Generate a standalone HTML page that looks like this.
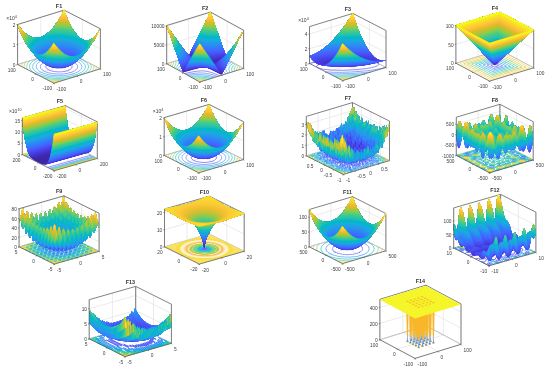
<!DOCTYPE html><html><head><meta charset="utf-8"><title>F1-F14</title><style>html,body{margin:0;padding:0;background:#fff}#w{position:relative;width:550px;height:371px;overflow:hidden}svg{display:block}</style></head><body><div id="w"><svg width="550" height="371" viewBox="0 0 5500 3710"><g fill="none" stroke-linejoin="round"><!-- F1 -->
<path d="M176 645L176 245M539 832L176 645M1004 688L1004 288M539 832L1004 688M409 573L409 173M771 760L409 573M823 595L823 195M357 739L823 595M641 501L641 101M1004 688L641 501M641 501L641 101M176 645L641 501M176 645L641 501L1004 688M176 445L641 301L1004 488M176 245L641 101L1004 288" stroke="#dedede" stroke-width="6"/>
<path d="M176 645L641 501L1004 688" stroke="#b4b4b4" stroke-width="7"/>
<path d="M641 501L641 101M176 245L641 101L1004 288L1004 688" stroke="#585858" stroke-width="7.5"/>
<g stroke-width="6" stroke-opacity="1"><path d="M651 714l-35 4-32 1-38-3-29-6-27-9-20-12-10-15-1-14 7-12 18-13 20-9 30-7 30-4 36-1 34 3 29 6 23 8 21 11 12 15 3 12-6 13-14 13-22 10z" stroke="#4741e5"/><path d="M675 733l-47 7-50 1-50-4-41-9-37-12-29-18-9-9-6-10-3-12 2-9 3-8 8-10 22-17 33-14 40-10 46-6 45-1 50 4 41 9 37 12 26 16 10 9 7 10 3 11 0 9-3 10-7 10-21 16-31 15z" stroke="#4563fd"/><path d="M696 748l-59 8-61 2-61-5-53-11-45-16-21-11-14-11-11-12-6-11-3-13 1-12 5-12 9-11 11-9 16-11 41-17 50-13 54-6 58-2 58 5 53 11 45 16 32 20 12 11 7 10 4 13 0 12-3 11-7 11-10 10-15 11-39 19z" stroke="#2d8cf3"/><path d="M712 760l-64 10-70 2-70-5-65-13-29-9-25-10-21-12-17-12-13-14-9-15-3-15 2-13 6-13 10-13 14-12 19-12 46-20 55-13 67-9 66-1 68 6 58 12 50 18 21 11 18 12 14 14 9 12 4 14 1 12-4 13-9 15-13 13-15 11-43 20z" stroke="#1ca9df"/><path d="M771 760l-50 13-52 7-53 4-59 0-58-5-52-10-49-13-41-17M823 595l31 20 20 21 10 21 1 12-2 12-5 11-7 12-23 20-34 20-43 16M357 739l-31-21-21-22-6-11-3-11-1-12 3-12 5-11 8-12 23-20 32-18 43-16M409 573l50-12 55-9 56-3 59 1 58 5 49 9 46 13 41 18" stroke="#19bfb6"/><path d="M667 792l-57 4-57-1-59-5-56-10M904 636l6 13 3 11 0 12-3 12-12 22-23 22M276 697l-6-12-3-11 0-12 2-11 5-12 8-12 23-22M513 541l57-4 57 1 59 5 56 10" stroke="#4acb84"/><path d="M624 806l-76-1-76-7M937 654l2 15-2 15-7 16-12 15M243 679l-2-15 2-15 7-16 12-14M556 528l76 0 76 7" stroke="#9dc943"/><path d="M591 816l-93-5M963 667l-3 20-8 17M217 666l2-18 9-19M589 517l93 5" stroke="#f0ba36"/><path d="M563 825l-43-3M985 678l-6 18M195 655l6-18M617 509l43 2" stroke="#fad62d"/></g>
<clipPath id="cF1"><path d="M641 101l12 33 16 35 4 15 19 37 1 8 24 40 1 7 24 35 1 5 21 24 4 10 16 12 8 12 24 15 32 13 30 0 26-8 27-17 24-23 22-28 19-28 1 3-48 88-57 87-34 44-33 39-55 52-39 28-53 28-54 15-18 0-8 3-42-3-42-10-30-13-28-15-56-40-56-57-46-56-48-72-52-110-4-15-19-45 1-5 30 41 8 6 13 18 54 43 30 15 43 10 24 0 28-5 20-8 28-16 4-1 60-55 10-13 6-5 11-18 7-5 11-20 6-5 6-12 12-15 11-23 6-7 31-63z" clip-rule="evenodd"/></clipPath><g clip-path="url(#cF1)" stroke="none" fill-rule="evenodd"><path fill="#4332cb" d="M166 91H1013V693H166z"/><path fill="#4537d5" d="M146 71l885 0 0 640-391 0-6-20-8-8-3 3 0 25-12 0-3-15-4-10-23-2-9 5-6 22-9 0 0-25-3-3-4 3-6 13-4 0-2-8-3 3-6 17-383 0z"/><path fill="#463cde" d="M146 71l885 0 0 640-373 0-6-25-6-7-25 2-6 3-4 5-10-7-23 0-12 3-10-5-10 2-5-3-5 1-5-2-7 3-10 30-368 0z"/><path fill="#4741e5" d="M146 71l885 0 0 640-336 0-13-35-8-6-8 6-20-1-40 5-35 0-63-7-6 3-15 35-341 0z"/><path fill="#4747eb" d="M146 71l885 0 0 640-317 0-22-45-3-2-38 8-55 6-48-2-50-9-4 4-18 34 9-36-1-7-3 0-7 7-21 42-307 0z"/><path fill="#484df0" d="M146 71l885 0 0 640-306 0-27-51-64 13-40 3-48-3-55-10-7-5-8 3-7 8-20 42-303 0z"/><path fill="#4852f4" d="M146 71l885 0 0 640-272 0-10-17-33-45-8 4-52 14-60 6-52-3-73-16-13 12-28 45-284 0z"/><path fill="#4758f8" d="M146 71l885 0 0 640-267 0-36-66 0 4 9 17-1 3-15-20-5-2-60 18-60 5-68-5-74-19-13 11-36 54-259 0z"/><path fill="#465efb" d="M146 71l885 0 0 640-240 0-48-67-9-6-13 6-50 15-33 5-40 3-47-2-31-4-74-20-18 8-40 62-242 0zM644 531l14 10 30 13 18 4 26 1-11-8-33-12z"/><path fill="#4563fd" d="M146 71l885 0 0 640-234 0-49-74-4-4-44 16-36 9-36 4-47 2-40-3-33-5-29-7-48-18-25 25-40 55-220 0zM628 519l1 2 15 13 12 7 37 15 31 5 10 0 13-5-9-7-30-14-40-11z"/><path fill="#4269fe" d="M146 71l885 0 0 640-216 0-51-71-13-12-7 1-46 18-27 6-43 6-44 2-36-2-40-6-40-10-37-15-14 11-15 17-39 55-217 0zM618 509l8 12 20 15 45 20 30 6 13-1 17-3 9-4-6-7-18-11-38-15-44-9z"/><path fill="#3e6fff" d="M146 71l885 0 0 640-211 0-64-89-42 17-40 11-46 6-40 1-54-3-40-7-73-25-28 27-50 62-197 0zM446 524l-19 10 7 0 12-8zM606 499l4 7 16 16 19 14 46 20 30 6 13 0 20-3 17-8-10-11-13-8-37-16-53-13z"/><path fill="#3875fe" d="M146 71l885 0 0 640-161 0-39-45-57-56-8 5-35 15-35 12-38 7-57 5-50-2-57-8-38-10-35-15-15 10 0-12-22 23-54 71-184 0zM471 506l-7 1-30 11-23 14-9 9 6 1 26-6 23-15zM598 491l10 15 36 30 47 21 30 5 15 0 20-3 24-10 1-3-9-10-11-8-43-20-25-7-39-7-38-4z"/><path fill="#327cfc" d="M146 71l885 0 0 640-158 0-39-47-58-57-42 20-40 12-40 8-53 3-47-1-63-8-48-15-27-10-8-6-7 3-3-7-106 105-146 0zM484 492l-43 12-27 14-18 14-6 9 18 3 27-8 24-15 23-22zM588 481l0 3 19 22 37 30 30 15 20 7 27 5 15 0 37-9 11-5 5-5-8-12-17-13-25-13-33-11-52-10z"/><path fill="#2f81fa" d="M146 71l885 0 0 640-155 0-51-60-44-44-5-3-32 16-40 14-50 9-66 4-44-3-58-8-52-16-38-20-112 111-138 0zM491 481l-40 10-30 13-24 15-13 13-4 7 11 5 17 0 28-8 24-15 24-22zM581 473l7 13 38 38 30 20 38 14 30 6 30-4 33-11 11-10-7-10-18-15-17-10-30-13-32-9-70-9z"/><path fill="#2e87f7" d="M146 71l885 0 0 640-122 0-115-116-4 1-2 6-14 1-30 15-43 13-47 8-63 4-50-2-57-9-50-15-40-19-114 113-134 0zM503 471l-12 1-30 7-45 16-30 21-8 8-6 12 7 5 12 3 15 1 30-9 25-15 23-21zM573 464l13 20 40 40 30 20 37 15 31 5 30-3 34-12 17-13-1-5-8-10-25-20-23-11-30-10-30-8-60-8z"/><path fill="#2d8cf3" d="M146 71l885 0 0 640-111 0-119-120-5-2-48 24-27 9-63 13-47 4-65-2-65-9-47-14-38-18-10-3-119 118-121 0zM508 461l-50 9-49 19-29 20-12 15-3 10 11 7 18 4 14 0 28-8 25-16 23-21 22-29zM567 456l1 6 18 23 40 39 30 20 36 15 32 5 30-3 34-12 14-8 9-10 0-5-7-11-24-19-26-13-46-16-70-11-62-2z"/><path fill="#2b91ef" d="M146 71l885 0 0 640-100 0-124-125-6-3-40 22-55 18-45 8-55 4-72-3-67-11-33-10-53-24-124 124-111 0zM514 451l-23 3-37 8-50 19-30 22-13 16-3 12 10 8 26 7 14 0 28-9 25-15 25-23 9-15 13-16zM561 448l7 16 18 22 39 38 30 20 36 15 33 5 32-3 32-11 16-9 15-15-8-15-13-13-30-19-30-11-37-11-65-10-60-1z"/><path fill="#2797eb" d="M146 71l885 0 0 640-89 0-134-133-52 26-48 15-42 7-65 5-65-2-58-9-43-11-61-28-130 130-98 0zM521 443l-15-1-45 9-37 12-26 11-22 15-15 15-8 15-1 10 16 10 24 7 16 0 28-8 25-16 25-23 8-13 14-17zM553 439l2 7 29 38 40 40 30 20 37 15 33 6 32-4 32-11 23-14 13-12 0-8-6-10-18-17-19-13-37-16-46-12-37-6-53-5z"/><path fill="#259be8" d="M146 71l885 0 0 640-78 0-139-139-58 29-35 11-47 10-76 5-62-2-62-10-50-14-53-26-137 136-88 0zM527 434l-26 0-43 9-40 12-24 12-23 15-15 14-9 15-1 13 9 10 23 10 13 2 17 0 28-8 25-16 25-23 8-13 14-16zM547 431l7 15 30 38 40 40 30 20 37 15 30 6 15 0 38-9 30-14 20-14 7-12-6-15-19-20-20-12-25-12-33-10-40-10-37-6-65-3-38 1z"/><path fill="#23a0e5" d="M146 71l885 0 0 640-53 0-152-151-48 28-44 17-56 12-62 6-78-2-67-10-57-17-50-24-142 141-76 0zM534 424l-36 2-47 10-37 12-38 19-25 22-9 17-2 13 14 15 23 10 14 3 17 0 28-9 25-15 25-24 8-13 14-15zM539 424l2 1 13 21 30 38 40 40 30 20 37 15 30 6 13 0 20-2 20-6 30-14 20-14 13-15-6-18-20-22-33-19-44-17-30-7-68-10-92 0z"/><path fill="#20a5e3" d="M146 71l885 0 0 640-13 0-116-102-46-36-28-17-42 26-52 19-56 12-60 6-74-2-73-10-57-16-58-29-149 149-61 0zM334 511l2 8 15 13 25 12 15 3 17 0 28-8 25-16 25-23 9-14 14-15 23-40 6-5 4 3 12 18 30 37 40 40 20 15 47 21 30 5 13 1 22-4 18-5 30-13 20-14 15-16 4-8-7-17-20-21-30-19-30-13-52-13-50-8-96-3-54 5-40 7-58 18-30 15-22 16-13 16z"/><path fill="#1ca9df" d="M146 71l885 0 0 640-11 0-12-13-104-91-48-37-28-17-44 27-30 12-38 10-72 11-73 2-70-6-60-13-53-19-47-29-27 16-33 25-127 107-8 4zM329 506l5 13 17 14 25 11 15 4 17-1 28-8 25-16 25-23 9-14 14-15 23-40 6-4 46 58 40 39 20 15 14 8 43 16 35 3 20-3 32-11 38-23 15-15 7-13-6-17-21-23-27-17-33-15-53-14-64-9-53-3-55 2-22 4-10-1-48 9-60 20-20 9-28 21-12 15z"/><path fill="#18addb" d="M146 71l885 0 0 640-9 0-14-15-104-93-68-51-5-2-40 23-63 22-64 12-80 4-66-4-74-14-25-7-35-15-40-25-6-1-24 16-36 26-132 109zM324 501l2 8 7 10 23 18 20 8 15 3 17 0 28-9 18-10 32-28 9-15 14-15 24-40 5-4 46 58 40 39 20 15 14 8 43 16 35 3 20-3 32-10 38-24 26-28 2-5-3-10-7-15-18-17-22-15-30-14-73-20-53-8-62-2-60 2-42 6-53 12-45 17-25 14-17 14-16 21z"/><path fill="#12b1d6" d="M146 71l885 0 0 640-6 0-179-173-5 1-5 6-38 22-50 19-67 14-47 5-48 2-65-4-77-14-60-20-46-27-60 40-132 110zM318 491l1 10 6 10 26 24 25 10 15 3 17 0 28-9 18-10 32-28 10-15 13-15 25-40 4-3 46 58 22 23 36 30 49 21 43 7 20-3 20-6 30-13 20-14 32-32 3-8-4-15-6-10-16-17-23-15-36-18-56-16-24-5-60-7-58-1-52 2-38 5-58 13-33 12-37 19-20 15-12 16z"/><path fill="#08b5d0" d="M146 71l885 0 0 604-108-89-56-42-19-10-7 3-37 24-28 12-40 13-78 13-67 3-80-4-43-7-40-10-44-16-26-13-30-21-12 6-50 36-120 99zM314 489l2 10 10 15 25 22 25 10 15 3 20-1 25-8 18-11 32-28 10-15 14-15 24-40 4-2 46 57 22 23 36 30 49 22 30 6 13 0 20-2 20-6 32-15 20-13 30-30 6-7 2-10-3-13-6-10-17-18-34-23-40-17-38-10-60-10-50-5-75 2-77 10-43 11-35 12-22 11-30 23-16 22z"/><path fill="#01b8ca" d="M146 71l885 0 0 576-10-4-117-89-1 2 19 20-4 0-4-4-9-3-49-39-12 3-19 13-27 14-54 20-73 13-77 5-83-5-85-16-49-18-49-30-12 5-32 24-8 1 28-32-35 24-123 98zM308 481l3 13 6 10 14 17 17 14 28 12 15 2 17 0 28-9 18-10 32-28 10-16 14-15 24-40 4-2 45 57 23 23 36 30 49 22 40 7 25-3 18-5 32-15 20-14 31-30 12-20-2-12-6-13-17-20-33-22-35-15-38-11-52-11-58-6-60-1-34 2-58 7-42 9-33 10-30 13-23 13-25 22-11 18z"/><path fill="#02bac3" d="M146 71l885 0 0 569-143-106-24-16-4 1-48 32-34 14-35 11-72 13-95 5-75-6-83-17-52-21-38-24-4-1-12 6 7-10-3-5-12 5-16 11-142 113zM304 476l2 13 8 12 17 22 17 14 28 11 15 2 17-1 28-9 18-10 32-28 10-16 14-15 25-40 3-2 46 57 22 24 35 29 50 22 30 7 13 0 22-2 20-6 30-14 20-14 32-31 15-20 0-15-7-15-22-25-26-17-32-15-38-13-42-9-55-8-53-2-54 1-43 4-53 9-54 16-40 19-28 20-18 23z"/><path fill="#0bbdbd" d="M146 71l885 0 0 567-165-122-8 1-34 24-29 13 31-21 33-32 17-22 2-13-7-22-7-11-23-20-43-23-70-22-70-11-62-3-55 1-53 5-50 10-47 14-30 13-23 14-24 22-11 16-4 17 5 22 20 31-10-5-13 6-155 122zM377 551l2-2 12 2 20-2 25-8 25-16 26-24 10-15 13-15 25-40 3-2 46 58 22 23 38 30 32 16 25 9 20 3 31 1-24 6-57 10-60 4-57 0-48-5-58-9-47-14z"/><path fill="#19bfb6" d="M146 71l885 0 0 563-161-123-9 2-33 22 6-9 24-23 17-19 8-20-1-13-6-13-15-19-21-18 18-62 3-20-3-15-27 32-33 44-80-22-87-11-55-1-58 2-57 9-15 4-10 0-18-25-44-88-3 6 1 72 4 28 6 22 0 3-36 17-20 14-24 26-6 15-1 18 7 20 12 20-8-1-160 127zM393 554l18-4 25-9 27-17 24-23 10-15 14-15 24-40 3-1 45 56 41 40 20 15 32 16 48 14-66 11-47 3-60-1-67-7-36-7-37-9z"/><path fill="#24c1ae" d="M146 71l885 0 0 538-133-97 0 2 13 15-7-1-30-23-10 4-28 18 40-43 12-25-2-15-10-20-18-18 5-85-5-31-77 75-77-18-100-10-63 2-83 9-7-16-17-26-63-83-4 33 0 58-7 65-32 19-17 15-15 19-5 14 1 23 16 32-32 17-130 103zM405 554l31-12 27-18 24-23 10-15 14-15 23-37 4-4 45 56 41 40 17 13 35 18 37 12-25 5-50 5-87 1-85-11-40-8z"/><path fill="#2cc4a7" d="M146 71l885 0 0 532-123-91-27-16-5 0-25 19 3-6 7-5 10-15 6-5 14-23 1-7-2-18-20-32-9-126-3-3-90 79-32-9-42-8-80-7-68 0-72 8-46-49-60-74-1 6 1 18-19 95-4 42-14 13-15 8-14 14-9 13-6 15-1 20 11 30-151 100zM414 551l22-9 20-13 30-26 11-17 14-15 23-37 4-4 44 56 42 40 30 21 43 19-3 3-56 5-84 2-88-10-48-11z"/><path fill="#31c69f" d="M146 71l885 0 0 521-133-99-4-1-2 2 4 5-15-7-14 7 3-8 8-7 15-23 3-10 1-10-5-17-12-18-15-72-7-78-3 0-44 37-50 48-65-12-55-6-65-2-88 7-117-136-5 27 1 20-35 135-33 30-8 10-8 17-2 17 10 31 0 5-27 16-118 86zM423 551l0-2 13-6 28-19 24-23 10-15 13-15 23-37 4-4 44 56 42 41 17 13 46 24-41 6-92 1-86-9z"/><path fill="#37c897" d="M146 71l885 0 0 516-130-98-15-5-10 7-1-2 5-5 8-17 6-6 7-22-3-16-11-22-19-63-7-84-3-6-107 84-70-13-55-5-80 0-48 6-3-1-4-9-17-23-103-103-3 3-3 32 1 20-15 55-23 65-6 15-22 17-14 17-8 16-2 20 11 35-26 16-115 86zM428 549l36-24 24-24 10-15 13-14 23-38 4-3 27 35 41 45 35 29 36 21-69 6-74-2-53-6z"/><path fill="#3fca8e" d="M146 71l885 0 0 494-133-89-4 0-11 5 21-37 1-15-3-15-7-13-27-78-4-22-3-52-3-4-114 77-46-8-62-7-60-2-70 4-22-20-113-113-3 3-4 42 1 15-12 35-35 79-6 21-13 10-14 15-10 18-3 22 7 33-133 90zM436 546l7-7 21-14 24-24 10-15 14-15 23-37 3-3 44 55 24 26 35 29 26 15-16 4-45 3-72-2-58-7z"/><path fill="#4acb84" d="M146 71l885 0 0 484-120-79-13-6-8 4 0-5 7-8 11-25 2-10-12-42-32-73-4-60-4-17-4 0-116 78-52-9-48-4-44-2-80 4-10-16-37-36-96-87-8 59 1 14-48 111-10 18-22 22-12 20-4 18 4 27-1 4-125 83zM443 541l21-15 25-25 9-15 13-14 24-38 3-3 27 35 39 43 20 19 36 26-59 4-63-1-62-8-30-5z"/><path fill="#57cc7a" d="M146 71l885 0 0 479-117-80-17-4 16-35 0-20-7-21-39-79-9-93-127 85-93-12-64-1-50 2-153-134-3 2-3 46-6 25-53 107-10 26-19 20-11 19-2 16 2 27-120 71zM448 539l40-37 10-16 14-15 23-37 3-3 26 35 38 43 48 40-2 2-34 2-70 0-60-7z"/><path fill="#64cd6f" d="M146 71l885 0 0 459-113-74-3 0 5 8-2 0-16-5 14-32 1-21-5-17-16-25-28-53-3-12-4-82-3-5-74 42-58 40-85-12-60-1-50 3-81-60-79-70-3 5-3 47-4 14-60 119-11 20-19 20-5 9-7 23 2 25-115 67zM454 536l35-35 9-15 13-13 24-39 3-2 46 57 22 24 39 33-47 3-47-1-53-4z"/><path fill="#72cd64" d="M146 71l885 0 0 456-117-77-6 1 0-6 7-11 6-18 0-18-4-14-49-75-2-10-5-85-3-5-119 62-18 13-87-10-60-1-36 2-82-69-85-66-4 19-3 47-3 11-65 110-13 27-17 20-10 22 0 30-55 38-55 33zM460 531l30-30 8-14 13-14 24-39 3-2 45 57 54 52-3 2-46 1-57-2-70-9z"/><path fill="#81cc59" d="M146 71l885 0 0 453-115-76-5-2 15-37-3-28-55-75-7-98-3-2-86 45-58 25-73-9-97 0-8-8-85-60-80-63-3 3-4 67-3 9-75 122-26 34-8 20-1 28-105 52zM465 529l4-8 21-20 8-14 13-13 25-40 2-2 45 57 48 47 0 2-95 0-40-4z"/><path fill="#8fcb4e" d="M146 71l885 0 0 439-67-44-46-26 3-14 8-20-1-27-60-75-10-128-105 63-42 28-75-8-40-1-42 1-6-1-13-17-63-50-98-69-3 1-3 16-4 65-3 9-37 51-69 102-7 20-2 23-52 20-48 22zM470 524l20-23 8-13 13-14 8-15 19-27 42 54 32 33 12 15-73 0-80-8z"/><path fill="#9dc943" d="M146 71l885 0 0 425-93-60-10-3 0 4-5-3 0-8 11-30-2-20-36-40-28-35-7-97 0-40-30 15-107 65-18 15-58-7-92-1-70-55-115-80-2 5-8 90-105 140-11 25-4 24-95 49zM474 521l38-47 7-15 19-26 42 53 32 33 7 10-13 1-78-2z"/><path fill="#abc739" d="M146 71l885 0 0 418-83-55-22-10 12-35-3-20-57-59-8-11-4-28-4-70 2-37-3-4-57 30-103 60-60-7-77 0-106-68-87-62-3 3-6 88-4 10-108 135-9 20-2 17-3 7-52 34-38 19zM478 516l34-42 7-15 19-26 42 53 34 38-10 2-60-2-60-5z"/><path fill="#b9c431" d="M146 71l885 0 0 403-43-26-56-29 8-30 1-23-27-37-43-45-4-10-5-73 2-42-8 1-150 74-10 8-60-6-65-1-6-1-11-15-28-23-152-108-3 2 0 19-3 7-3 58-7 37-57 70-51 55-9 15-7 32-88 43zM483 511l7-7 8-15 14-15 8-15 18-26 41 53 30 33-1 2-52-1-73-6z"/><path fill="#c5c22a" d="M146 71l885 0 0 399-65-39-29-20 9-37-2-13-76-85-5-75 1-44-6 0-50 25-92 37-25 15-65-7-50 0-205-147-3 4-4 92-10 33-36 42-47 48-20 24-14 23-6 28-85 40zM488 509l11-20 13-15 8-15 18-26 64 81-1 2-63-2z"/><path fill="#d1bf27" d="M146 71l885 0 0 394-75-49-15-12 0-5 8-25-1-15-80-83-5-77 2-38-1-7-3-1-55 25-115 46-83-6-30 1-7-7-35-18-165-118-3 5-4 93-3 9-35 37-80 99-10 15-10 31-80 38zM493 504l5-14 15-16 7-15 18-25 58 75-2 2-46 0-52-5z"/><path fill="#dcbd29" d="M370 71l-3 10-4 93-2 7-37 38-86 99-8 13-8 25-76 26 0-311zM374 71l657 0 0 377-86-49 7-33-1-12-35-30-48-50-4-73 2-32-2-15 4-20 0-8-2-2-168 84-12 8-72-5-30 0zM496 499l2-8 15-17 7-15 18-25 50 63 4 9-64-1-30-3z"/><path fill="#e6bb2d" d="M368 71l-7 109-130 136-13 32-37 18-35 13 0-308zM383 71l648 0 0 358-80-40 5-38-38-27-47-49-6-31-1-48 2-25-1-17 6-39-59 26-121 60-10 7-87-5-8-2-52-37-146-87zM501 489l12-15 7-15 18-25 50 65-2 2-35 0-47-3-6-2z"/><path fill="#f0ba36" d="M367 71l-6 108-128 125-10 15-7 21-70 33 0-302zM385 71l646 0 0 352-75-42-1-7 5-23-2-7-34-34-48-39-8-10-2-17-2-63 2-10 0-17 8-42-3-1-98 40-87 43-8 6-80-4-7-2-41-23zM501 491l13-17 7-15 17-24 36 46 9 15-52-1z"/><path fill="#f8ba3d" d="M367 71l-5 103-4 7-130 118-11 20-4 12-67 32 0-292zM388 71l643 0 0 348-35-20-35-24-2-6 5-23-3-7-83-69-9-11-3-18-1-60 9-72-140 54-47 21-13 8-48-4-28 1-10-8-102-52zM505 486l9-12 7-16 17-23 36 46 3 10-39 0-32-3z"/><path fill="#febe3c" d="M366 71l-1 53-4 50-3 5-42 40-85 69-14 16-9 21-7 2-55 27 0-283zM395 71l636 0 0 334-65-36-3-5 4-20-2-8-70-55-25-22-3-15-2-63 2-10 0-17 8-40-1-7-203 77-67-3-20-13-149-74zM510 484l11-25 17-24 35 46 1 5z"/><path fill="#fec338" d="M365 71l-1 53-6 52-58 53-84 67-5 8-5 15-8 0-52 25 0-273zM441 71l590 0 0 317-63-31 2-23-2-5-92-70-8-8-3-70 2-27 9-40-2-9-115 44-78 23-17 4-48-3-10-2-62-42zM514 479l7-19 17-24 32 45-24 1z"/><path fill="#fec934" d="M365 71l-1 53-3 25-3 6-92 79-29 27-26 28-10 22-15 3-40 20 0-263zM443 71l430 0-5 4-154 66-40 19-8 6-10 2-45-3zM886 71l145 0 0 308-57-29-3-4 3-15-6-7-100-75-3-53 3-42 8-40 0-13zM536 438l2-2 28 40-48-1 3-14z"/><path fill="#fccf30" d="M365 71l-1 53-3 24-3 4-128 112-22 22-10 17-52 13 0-245zM445 71l425 0-209 89-47-3-14-8-77-35zM887 71l144 0 0 301-55-30 0-13-8-10-100-72-2-48 2-43 10-55zM538 436l16 20 7 15-40-1 1-9z"/><path fill="#fad62d" d="M364 71l-1 53-5 26-114 99-28 20-13 12-7 13-50 18 0-241zM448 71l414 0-160 68-29 10-19 3-36-2-57-21-40-18zM888 71l143 0 0 297-51-32-1-15-98-65-12-10-3-50 2-40 11-55zM538 437l16 20 2 10-32-1 0-7z"/><path fill="#f7dc2a" d="M364 71l-1 53-5 13-84 67-73 69-7 13-48 20 0-235zM516 71l294 0-4 4-132 56-23 14-30-2-22-22-78-44zM889 71l142 0 0 278-45-21-8-12-107-70-4-47 2-43 11-55zM536 439l2-2 16 24-28 0z"/><path fill="#f5e327" d="M146 292l0-221 217 0-1 53-4 9-87 68-63 53-12 12-5 12-7 0zM520 71l287 0-159 66-22-3-19-13zM890 71l141 0 0 269-45-21-1-10-6-8-108-81-4-21 2-43 11-52zM538 438l10 19-18-1 1-7z"/><path fill="#f5e924" d="M146 287l0-216 217 0-1 53-4 8-153 119-17 19-10 2zM524 71l273 0-108 45-43 13-15-1-27-12zM891 71l140 0 0 260-40-19-2-6-7-7-111-82-3-5 0-13 2-43 11-52zM538 438l6 9 0 5-11-1 1-6z"/><path fill="#f6ef20" d="M146 274l0-203 216 0-1 53-3 6-110 84-46 32-16 16-10 1zM546 71l241 0-146 50-7-1-7-6-73-37zM892 71l139 0 0 253-33-16-10-12-117-82-3-20 2-38 11-50z"/><path fill="#f7f51b" d="M146 268l0-197 215 0 0 50-3 7-80 61-80 54-14 13-10 0zM561 71l218 0-75 25-66 17-10-7zM893 71l138 0 0 249-30-15-5-10-125-84-2-27 2-28 10-47z"/><path fill="#f9fb15" d="M146 248l0-177 213 0 0 50-3 5-162 109-15 14zM608 71l95 0-62 33zM895 71l136 0 0 232-30-14-130-89 3-45 10-47z"/></g>
<path d="M176 245L176 645L539 832L1004 688M539 832L544 842M539 832L533 841M771 760L776 770M357 739L351 748M1004 688L1009 698M176 645L170 654M176 645L166 645M176 445L166 445M176 245L166 245" stroke="#585858" stroke-width="7.5"/>
<!-- F2 -->
<path d="M1667 637L1667 255M1998 820L1667 637M2436 684L2436 302M1998 820L2436 684M1886 569L1886 187M2217 752L1886 569M2271 593L2271 211M1832 728L2271 593M2105 502L2105 120M2436 684L2105 502M2105 502L2105 120M1667 637L2105 502M1667 637L2105 502L2436 684M1667 450L2105 314L2436 497M1667 262L2105 127L2436 310" stroke="#dedede" stroke-width="6"/>
<path d="M1667 637L2105 502L2436 684" stroke="#b4b4b4" stroke-width="7"/>
<path d="M2105 502L2105 120M1667 255L2105 120L2436 302L2436 684" stroke="#585858" stroke-width="7.5"/>
<g stroke-width="6" stroke-opacity="1"><path d="M2197 758l-50-21-39-14-36-9-34-5-35 0-41 4-52 9-63 14M2285 601l-51 21-32 16-22 15-10 14-1 14 10 17 22 22 35 26M1818 720l51-21 32-16 22-14 10-15 1-14-10-17-22-22-35-26M1906 563l50 22 39 13 36 9 34 5 35 0 41-4 52-9 63-14" stroke="#4741e5"/><path d="M2176 765l-39-14-40-11-34-6-36-4-35-1-37 3-91 13M2302 610l-33 16-25 16-16 14-8 15-2 15 6 15 14 19 20 19M1801 711l33-16 25-16 16-14 8-15 2-15-6-15-14-19-20-19M1927 557l39 13 40 11 34 6 36 4 35 1 37-2 91-14" stroke="#4563fd"/><path d="M2154 771l-66-16-66-9-68 0-74 8M2318 619l-23 14-17 13-13 14-7 14-2 13 3 15 8 14 13 16M1785 702l23-14 17-13 13-14 7-13 2-14-3-15-8-14-13-16M1949 550l66 17 66 8 68 0 74-8" stroke="#2e87f7"/><path d="M2132 778l-54-12-59-6-56-1-67 5M2334 628l-27 23-11 13-5 11-2 11 0 12 4 13 9 15M1769 693l27-22 11-14 5-11 2-11 0-12-4-13-9-15M1971 543l54 12 59 7 56 0 67-4" stroke="#1ca9df"/><path d="M2111 785l-48-9-50-5-49-1-51 3M2351 637l-20 20-12 21-2 20 6 21M1752 684l20-20 12-20 2-21-6-21M1992 536l48 9 50 5 49 1 51-2" stroke="#0bbdbd"/><path d="M2089 791l-80-9-80 0M2367 646l-13 16-9 17-2 17 2 16M1736 675l13-15 9-18 2-17-2-16M2014 530l77 9 83 1" stroke="#3fca8e"/><path d="M2067 798l-57-6-65-1M2384 655l-14 24-3 12 0 15M1719 666l14-24 3-12 0-14M2036 523l57 6 65 2" stroke="#8fcb4e"/><path d="M2046 805l-84-5M2400 664l-8 17-4 18M1703 657l8-17 4-18M2057 516l84 6" stroke="#e6bb2d"/><path d="M2024 812l-46-3M2416 673l-6 19M1687 648l6-19M2079 510l46 2" stroke="#fccf30"/><path d="M2002 818l-7 0M2433 682l-1 4M1670 639l1-3M2101 503l7 0" stroke="#f7f51b"/></g>
<clipPath id="cF2"><path d="M2425 320l0 5-46 90-11 27-49 95-14 33-9 12-18 43-7 7-13 33-41 81-3 1-102-53-35-13-30-5-40 0-17 3-156 44-3-1-7-15-6-22-7-13-6-22-19-48-3-17-7-13-6-22-6-13-6-22-19-48-4-17-11-25-1-10-7-13-6-22-6-13-6-22-9-20-1-10-12-25-1-10-9-23 1-2 3 2 19 30 11 13 19 30 6 5 24 37 6 5 19 30 11 13 39 56 32 39 28 30 6 2 8-7 13-33 24-45 11-27 12-18 13-32 47-90 18-43 7-7 11-28 24-45 13-32 13-20 14 32 6 23 6 12 6 23 7 12 1 10 11 25 4 18 6 12 6 23 19 47 1 10 12 25 3 18 7 12 6 23 6 12 6 23 7 12 6 23 6 12 4 18 3 5 16-15 37-42 30-41 45-67 31-55z" clip-rule="evenodd"/></clipPath><g clip-path="url(#cF2)" stroke="none" fill-rule="evenodd"><path fill="#3e26a8" d="M1657 109H2444V757H1657z"/><path fill="#402ab4" d="M1637 90l825 0 0 685-265 0 12-25-15-11-40-20-13 11-28 45-108 0-21-82-4-8-3 0-3 6-7-1-2 10 12 50-3 1-17-51-5-8-38 8-20 8-7 0-46 17-3 5 0 45-201 0zM2138 622l4 3 11-5-6-1z"/><path fill="#422ec0" d="M1637 90l825 0 0 685-137 0-74-30-34-11-8-4-1 7-4 1-47-23-33-12-7 2-17 32-1-7 8-28-3-5-20 38-15 40-60 0-20-83-4-7-5-3-51 10-85 24-7 1-5-7-8 2-124 63-63 0zM2184 600l-52 12-3 3 13 14 37-22 6-5z"/><path fill="#4332cb" d="M1637 90l825 0 0 685-130 0-110-48-20-11 2 14-2 3-68-31-22-6-6-4-12-1-4 1-4 5-26 78-7 0 12-65-1-16-5 8-13 73-24 0 0-15-7-50-6-23-7-9-3 2-2 5-3 0-5-5-12 0-53 11-82 21-2-2 0-7-3-2-17 3-183 62zM1900 550l-1 2 13 15 2-1 3-7zM2207 585l-83 18 0 4 5 10 11 13 4 1 39-24 22-17z"/><path fill="#4537d5" d="M1637 90l825 0 0 685-126 0-9-7-103-48-37-24 0 4 6 7 7 18 0 3-56-24-40-15-24-4-8 5-2-8-3-1-5 2-5 7-3-10-2-1-3 3-8 18-11 60 0 15-4 0 0-15-8-53-7-25-4-5-5-1-60 8-95 23-4-2-1-15-15 6-23 3-50 13-117 42zM1894 541l0 10 16 16 4 1 7-16-9-6zM2222 573l-104 22 10 22 12 14 7 3 60-44 11-10z"/><path fill="#463cde" d="M1637 90l825 0 0 685-112 0-120-61-56-40-2 0 23 41-1 8-87-35-53-12-10 4-4-4-10-2-48 1-80 15-55 13-2-6 6-15-1-3-98 31-115 41zM1894 528l-2 22 20 20 10-14 2-12zM2237 562l-3-2-57 14-63 10-2 3 15 30 27 33 0-13 6-10 47-35 22-20z"/><path fill="#4741e5" d="M1637 90l825 0 0 685-79 0-106-53-45-16-38-27-14-14-11-13-4-10 0-10 3-7 62-53 15-15 5-9-90 20-56 7 0 2 23 40 40 53 17 32 6 5 3 8-1 3-85-32-50-12-27-2-36 0-40 5-104 22-2-4 5-13 2-10-3-3-30 12-10 2-90 37-85 30zM1892 517l-3 5 2 28 21 21 10-13 8-21z"/><path fill="#4747eb" d="M1637 90l825 0 0 685-74 0-151-75-34-25-16-16-13-22 0-10 3-7 54-48 24-25-3-7-78 16-42 7-32 2-3 2 5 12 6 6 18 32 40 53 24 43-93-32-37-8-30-3-33 0-43 4-37 6-63 14-2-1 6-23 5-8-1-7-32 15-20 6-82 39-91 32zM1890 508l-3 14 3 28 22 22 10-13 12-27-2-3z"/><path fill="#484df0" d="M1637 90l825 0 0 685-71 0-117-60-42-27-32-28-10-13-6-10-1-12 2-8 7-10 62-57 2-15-4-3-90 18-70 6 0 4 10 20 7 7 17 30 39 53 19 37-2 1-40-16-42-13-40-8-30-3-36 0-42 3-95 18-3-2 2-10 14-33-3 0-46 21-17 3-167 55zM1887 504l-1 18 4 28 18 22 4 1 10-13 13-25 2-13-25-11z"/><path fill="#4852f4" d="M1637 90l825 0 0 685-38-1-172-87-12-4-35-31-13-22-1-10 2-8 4-7 58-55 2-32-15 8-62 13-46 5-48 3 1 7 10 19 11 14 18 30 40 55 14 31-78-26-42-9-36-3-30 0-50 4-84 16-2-5 1-8 18-37 0-7-27 15-38 17-72 17-103 36zM1887 489l-2 18 3 43 22 26 12-16 15-28 5-16z"/><path fill="#4758f8" d="M1637 90l825 0 0 685-19 0-183-93-16-5-25-22-12-15-8-20 1-13 14-17 42-40 5-38-1-2-26 9-64 13-46 4-44 1 2 10 20 35 6 5 17 30 40 55 10 20-1 6-30-11-57-16-63-9-32 0-52 4-78 14-2-1 1-7 23-49 3-14-20 14-40 22-190 66zM1887 480l-3 1-1 9 1 50 4 12 11 15 3 15 2 1 6-4 13-19 21-44 1-6-1-3-22-8z"/><path fill="#465efb" d="M1637 90l825 0 0 685-4 0-196-100-12-4-33-31-10-20 0-15 7-13 43-42 6-38-3-6-100 19-50 3-38-1 0 8 7 7 18 33 67 97 8 18 0 4-82-26-68-9-30 0-52 4-78 12 7-20 20-43 10-15 4-10 7-7 14-23 21-40 4-15-65-31-2 16 2 28-2 15-2 5 13 30 2 10-2 10-11 16-18 14-44 25-20 6-80 34-83 29z"/><path fill="#4563fd" d="M1637 90l825 0 0 675-175-87-33-14-14-11-14-16-12-22 0-18 12-15 31-32 7-38-2-16-28 8-67 11-55 5-48-3 8 20 6 5 23 40 6 5 18 30 10 13 19 31 10 11 6 16-80-23-68-8-48 0-37 3-70 11 3-16 19-40 35-58 31-60-1-3-22-8-48-25-3 11 1 44-8 14 12 27 2 13-3 10-11 15-42 29-58 24-65 32-72 25z"/><path fill="#4269fe" d="M1637 90l825 0 0 654-88-39-117-49-21-19-14-22-1-20 6-13 31-32 6-38 3-22-3-3-50 12-54 9-50 3-51-1 13 28 7 7 22 37 5 5 18 30 11 13 28 42 1 12-43-14-31-8-66-8-72 1-82 12 1-12 20-43 33-54 33-66 0-5-23-8-7-7-43-23-2 1-3 20 2 35-1 7-11 13 10 25 2 15-6 15-8 9-33 24-32 16-22 3-52 13-91 32z"/><path fill="#3e6fff" d="M1637 90l825 0 0 653-202-93-13-12-12-16-6-12-2-18 5-12 27-30 9-60-1-20-27 12-10 7-46 7-77 6-56-2 21 39 6 6 23 37 5 5 18 30 11 13 27 42 0 7-75-21-60-8-75 2-80 10 0-7 18-40 47-80 14-30 6-8 5-15-7-5-18-6-19-11-36-15-4 25 2 35-15 20 8 20 1 15-7 15-14 15-23 16-30 17-73 18-90 33z"/><path fill="#3875fe" d="M1637 90l825 0 0 651-198-97-6-4-17-23-6-15-2-17 7-13 19-22 11-73 0-9-3-1-37 14-56 8-72 4-58-3 0 6 10 11 18 32 6 6 22 37 6 5 18 31 15 19 21 34 0 4-60-17-73-11-65 0-88 11 0-7 17-36 47-80 12-28 7-9 9-23-24-12-60-21-3 3-2 22 1 35-16 20 5 18 0 15-3 7-10 15-20 16-24 16-173 63z"/><path fill="#327cfc" d="M1637 90l825 0 0 650-192-104-19-19-10-17-2-20 5-12 16-18 11-73-1-12-3-2-27 8-83 12-77 1-43-4 7 17 9 10 19 33 5 5 23 37 6 5 18 32 15 18 15 32-57-15-70-10-73 0-77 9 0-6 14-32 47-80 32-65-2-5-28-10-58-28-1 10-3 5-4 43-20 22 3 5 5 30-4 15-12 15-33 25-19 10-87 38-70 25z"/><path fill="#2f81fa" d="M1637 90l825 0 0 648-62-33-119-70-14-10-12-15-8-16-2-17 3-10 13-17 11-73-2-27-46 16-57 8-85 2-50-6 0 5 10 20 10 12 19 33 9 10 20 32 5 5 19 32 14 18 12 21 0 7-73-18-63-7-60 1-74 8 12-34 46-80 32-61 5-14-28-10-21-13-46-19-4 2 1 35-5 22-15 13-9 12 8 25-1 15-4 10-11 15-19 15-27 17-12 2-145 49z"/><path fill="#2e87f7" d="M1637 90l825 0 0 623-188-91-12-15-9-17-2-15 1-10 9-15 11-73 0-33-42 13-66 9-60 2-80-6 18 34 10 11 19 33 9 10 19 32 6 5 19 33 14 17 9 22-73-16-57-7-68 1-62 7-5-1 10-28 46-80 41-83-102-37-2 5 1 15-2 24-33 33 4 5-1 5 6 20-1 15-8 15-17 17-36 23-31 3-120 39z"/><path fill="#2d8cf3" d="M1637 90l825 0 0 615-162-82-23-8-11-15-6-13-4-17 7-23 10-70-1-15 4-32-2-4-47 19-10 6-43 6-87 2-45-4-25-5 0 5 25 41 9 11 20 33 5 5 23 37 6 5 19 33 13 17 7 18-72-16-52-6-60 0-75 7 8-25 46-80 43-88 0-3-18-7-25-5-59-21-6 6 1 20-3 10-35 35 2 3-1 7 6 20 0 15-9 20-15 15-33 22-7 1-143 46z"/><path fill="#2b91ef" d="M1637 90l825 0 0 592-180-75-7-7-10-18-3-17 5-23 1-35 5-30 0-12 4-35 0-6-3-1-57 20-43 6-72 3-60-5-30-5 0 5 59 93 10 12 18 30 11 13 14 25 8 10 9 20-69-15-58-6-72 1-55 5 6-20 67-119 22-44 5-15-30-10-25-18-55-31-3 2 0 20 2 7-3 10-1 24-16 14-26 27 8 20 1 18-3 10-9 14-37 31-73 28-80 26z"/><path fill="#2797eb" d="M1637 90l825 0 0 590-175-79-7-7-9-14-4-18 1-12 8-25-5-8-2-10 9-77-1-9-3-1-50 14-52 8-30 1-82-2-56-9 10 23 9 10 19 32 9 10 48 75 10 13 14 25 9 10 5 10 0 5-67-14-56-6-72 1-50 5-2-1 4-15 45-80 55-105-32-9-40-19-45-26-3 0-2 24 2 7-3 23-4 6-24 19-12 12 3 3-6 12 6 18-1 15-6 15-12 15-18 15-15 9-10 1-135 46z"/><path fill="#259be8" d="M1637 90l825 0 0 587-175-85-11-20-4-17 9-33-10-15 3-30-1-12 6-35-2-23-73 23-10-1-30 5-84 1-50-6-78-18-23-9-49-28-6-1-2 7 1 30-3 16-38 31-10 11 7 29 0 8-6 17-13 17-30 23-23 3-40 10-80 26zM1994 433l6-1 4 5 37 60 10 10 47 75 11 13 14 25 9 11 2 10-52-12-65-7-50-1-73 6-1-2 1-10 13-25 33-55 46-90z"/><path fill="#23a0e5" d="M1637 90l825 0 0 583-135-74-35-14-5-5-8-18-2-12 2-13 6-20-11-12-2-8 3-20-1-12 6-35 0-23-3-6-60 19-60 6-60 1-53-4-70-14-20-12-80-38-4 56-40 32-12 13 5 27 0 15-6 15-13 16-17 15-13 7-57 17-80 27zM1994 433l6 0 3 4 38 60 9 10 20 33 5 5 23 37 11 13 23 40-62-12-60-6-43 0-71 5-2-5 13-26 33-56 46-90z"/><path fill="#20a5e3" d="M1637 90l825 0 0 580-102-55-68-40-10-28 1-10 6-22-14-18-1-32 6-35 0-30 2-8-2-7-26 8-52 21-62 5-56-1-32-2-70-13-49-23-61-25 1 12-5 35 1 8-44 35-11 12-1 5 6 20 0 10-4 13-9 15-32 26-137 51zM1994 434l3-1 5 3 20 29 19 32 9 10 19 33 6 5 23 37 10 13 19 32 0 4-55-11-62-6-40-1-73 4 10-25z"/><path fill="#1ca9df" d="M1637 90l825 0 0 578-128-71-39-30-7-17-1-10 1-13 9-22-20-22-2-16 7-82-2-2-78 24-50 4-80-1-45-6-53-11-102-41-2 5 1 13-4 29-47 38-11 13 4 22 0 18-6 15-13 15-22 19-90 41-45 15zM1994 435l3-1 5 3 67 103 11 12 18 30 14 20 10 20 0 4-48-10-60-6-42-1-71 3 8-22 78-145z"/><path fill="#18addb" d="M1637 90l825 0 0 553-158-77-4-4-6-12-2-15 0-10 7-23-19-21-4-11 7-78-1-10-2-1-48 13-85 9-63-1-52-5-58-12-102-36-3 6 2 12-4 28-7 8-43 31-12 13 4 23-2 17-7 15-13 15-20 16-7 0-123 41zM1994 435l8 2 19 28 19 32 9 10 50 78 9 10 11 25-2 1-43-8-70-8-50 0-50 4 5-19z"/><path fill="#12b1d6" d="M1637 90l825 0 0 531-158-65-6-14-2-15 6-27-22-24-3-6 7-78-1-10-5-7 3-18-36 13-48 21-53 4-72-2-55-6-33-7-112-57-2 4 0 18-2 10 2 15-6 22-51 35-11 12-1 11 4 17-2 13-7 15-19 22-13 8-62 15-65 21zM1994 435l7 2 39 60 11 13 19 31 10 11 18 33 14 18 4 12-2 2-60-11-32-3-55-2-60 3 3-14z"/><path fill="#08b5d0" d="M1637 90l825 0 0 529-153-69-8-25 5-30-5-8-19-14-3-6 6-72-2-18 4-21-3-9-90 36-62 5-62-2-48-7-40-9-55-38-55-30-4 25-1 30 2 10-2 12-3 5-67 46 3 30-1 12-8 18-7 8-22 20-8 0-117 41zM1994 436l7 1 39 60 11 13 18 30 10 12 19 33 9 10 5 10 0 7-58-10-37-4-57-1-50 3-1-8z"/><path fill="#01b8ca" d="M1637 90l825 0 0 526-150-74-7-22 1-13 6-22-30-26-2-4 5-60-1-18 4-22-1-9-3-2-67 26-27 7-70 3-66-4-47-7-26-7-54-35-57-29-4 57 1 16-5 8-68 46-2 7 3 20-1 13-4 12-16 21-12 11-75 31-50 17zM1994 436l7 1 39 60 11 13 47 75 6 7 6 10 0 5-46-8-62-6-91 2 0-5 8-18z"/><path fill="#02bac3" d="M1637 90l825 0 0 505-147-60-4-13-1-15 7-30-12-12-21-16-2-6 3-48 0-18 3-22-1-12-3-2-102 29-78 2-30-2-62-8-20-5-10-7-112-54-3 1-1 43-3 12 1 16-74 51-2 6 3 30-5 15-10 15-19 18-10 2-76 37-34 12zM1994 436l7 1 19 28 20 32 10 11 18 32 11 12 26 43 2 7-80-11-50-3-63 2 6-17 34-66z"/><path fill="#0bbdbd" d="M1637 90l825 0 0 503-142-65-5-11-1-12 7-30-5-8-29-22-3-5 1-63 4-22-2-16-3-1-64 19-36 5-74 2-46-3-67-11-130-56-3 48-55 48-25 25 3 30-3 12-8 15-12 16-10 7-22 3-50 13-45 15zM1994 436l6 1 20 28 19 32 11 12 18 31 10 12 24 39 2 6-80-11-47-2-55 2-5-1 3-11 34-67z"/><path fill="#19bfb6" d="M1637 90l825 0 0 502-139-70-4-10 0-15 7-30-16-17-23-18-3-5 2-50 4-20-3-22 3-26-57 21-40 17-11 8-82 1-48-4-55-9-57-20-73-31-2 3 1 32-3 15-56 45-26 25 0 35-9 20-13 15-9 7-58 14-55 19zM1994 437l6 0 40 61 10 12 37 57 13 25-78-10-42-2-56 2-4-2 0-5 34-68z"/><path fill="#24c1ae" d="M1637 90l825 0 0 500-127-70-9-8-3-20 5-27-11-18-30-25-2-20 1-22 4-23-2-20 4-25-2-6-108 40-38 3-84-4-58-9-10-8-125-62-4 74-84 70-2 5 1 12-3 20-7 13-14 16-117 44zM1994 437l3-1 5 4 37 57 11 12 37 58 7 19-72-9-45-1-55 1 0-5 32-65z"/><path fill="#2cc4a7" d="M1637 90l825 0 0 496-132-79-3-22 7-28-17-19-27-20-3-6-1-32 4-23-1-20 4-25-1-7-2-1-98 33-15 2-67 2-58-4-45-8-140-71-3 9 1 20-2 8 2 10-3 34-88 66-2 32-5 13-20 22-63 28-47 18zM1994 437l3-1 4 4 39 58 9 12 20 32 13 18 8 14 0 8-70-9-40-2-56 2 8-21 22-44z"/><path fill="#31c69f" d="M1637 90l825 0 0 473-129-63-2-18 6-25-3-7 1-5-43-30-5-8 0-27 4-23-1-20 3-25-3-18-113 37-75 2-28-4-17 1-48-8-142-72-3 4-1 41 2 10-3 29-5 6-73 48-14 12 0 20-3 15-15 23-10 9-8 0-97 33zM1994 438l3-2 4 4 39 59 9 11 19 32 19 28 0 7-70-8-90-1 7-20 20-40z"/><path fill="#37c897" d="M1637 90l825 0 0 465-125-61-2-19 7-26-1-4-47-33-7-7 0-25 4-23-1-20 4-22-2-27-118 36-62 2-62-5-40-7-143-72-3 4-2 21 2 38-2 25-5 6-53 31-36 25-2 5 0 13-3 17-15 25-8 8-30 1-73 23zM1994 438l3-1 4 3 39 59 9 11 33 52 4 8-2 3-67-9-85 0-1-2 3-13 20-40z"/><path fill="#3fca8e" d="M1637 90l825 0 0 444-122-49 0-20 5-18-2-7-53-37-2-23 6-65-2-47-60 21-64 28-48 1-43-2-60-8-37-23-116-58-1 3 1 10-3 55 2 12-3 22-97 58-3 33-6 11-12 17-105 33zM1994 438l3-1 4 3 39 59 9 11 19 32 9 12 5 10 0 5-62-9-86 0-1-3 1-7 20-41z"/><path fill="#4acb84" d="M1637 90l825 0 0 442-118-52-1-18 5-22-1-5-55-38-3-17 6-65 0-45-3-5-122 44-40 2-56-3-42-5-60-25-108-54-2 0 1 16-3 55 2 10-2 8-100 68-3 6 1 13-4 17-16 25-101 37zM1994 438l6 0 77 117 3 8-60-7-84-1 1-8 17-37z"/><path fill="#57cc7a" d="M1637 90l825 0 0 438-114-56-1-15 5-25-19-17-41-30-2-5 3-23 0-35 2-7-1-51-2-1-115 37-20 2-55 1-42-4-38-6-40-13-118-58-2 0-2 5 2 13-2 44-61 48-42 41-3 7-2 27-16 28-12 1-87 33zM1994 438l3-1 3 3 39 60 9 10 27 42-1 7-53-7-83-2 16-40z"/><path fill="#64cd6f" d="M1637 90l825 0 0 433-108-57-3-9 4-25-2-5-61-46 0-41 4-53-2-36-130 43-47 1-50-2-43-7-6-6-40-20-114-50-5 17 3 13-2 41-63 49-43 40-3 7-1 15-4 15-14 20-10 2-40 18-45 17zM1994 439l6 0 20 28 19 33 18 25 9 17 6 7 0 4-50-5-78-2-3-1 3-13 10-21z"/><path fill="#72cd64" d="M1637 90l825 0 0 430-105-60-3-13 6-31-6-5-60-41-1-30 3-25-1-55 2-8-3-6-120 39-37 3-60-2-47-7-16-9-152-64-3 21 2 13-2 40-109 87-9 35-14 20-30 3-60 18zM1994 439l3-1 3 2 39 60 9 10 14 24 5 14-75-7-48 1 1-10 9-21z"/><path fill="#81cc59" d="M1637 90l825 0 0 412-102-50-2-12 5-23-1-8-65-45-4-24 3-25 0-53 2-7-2-23-2-2-77 24-60 25-70 0-47-5-78-28-100-43-3 2 2 10-3 15 2 15-3 36-111 84-9 35-10 12-90 29zM1994 439l3-1 3 2 38 60 9 10 15 25 2 7-2 2-55-6-60-1 0-7 7-18z"/><path fill="#8fcb4e" d="M1637 90l825 0 0 403-98-47-2-11 5-25-3-7-67-47-3-16 3-53 0-60-140 45-45 1-35-2-15-4-10 1-18-3-8-8-166-82 1 22-3 8 0 25 2 15-3 34-37 28-63 40-15 12-6 26-7 15-7 7-8 1-36 17-41 13zM1994 439l6 1 38 60 9 10 13 22 0 7-48-5-63-2 8-25z"/><path fill="#9dc943" d="M1637 90l825 0 0 384-95-37-1-10 5-25-1-4-73-50-2-23 2-10 0-53 3-35-3-2-100 32-47 8-38 0-72-6-10-8-170-85-3 9 2 10-2 45 2 15-5 33-47 34-67 40-4 5-3 20-11 21-10 1-75 25zM1995 440l5 0 19 27 19 33 9 10 10 19 0 6-23-4-83-4 6-19z"/><path fill="#abc739" d="M1637 90l825 0 0 381-92-41 4-36-77-53-2-16 5-98-3-5-72 23-42 10-26 0-10 3-35 0-60-5-10-3-17-13-93-55-75-38-1 31 2 10-1 20 2 10-3 15 3 15-2 15-3 4-117 81-4 5-7 27-9 15-20 2-60 16zM1995 440l5 0 19 27 19 33 9 11 7 14 0 5-30-4-70-3 3-14z"/><path fill="#b9c431" d="M1637 90l825 0 0 377-88-42-1-10 5-18-2-5-78-55-2-12 2-10 1-98 5-22-2-7-148 56-7 6-35 0-58-4-20-6-100-60-77-38-3 3 2 7-1 23 3 37-3 18 3 15-4 12-120 83-4 5-8 29-5 7-80 27zM1995 440l5 0 18 27 19 33 10 12 4 10-1 3-43-5-50-1 0-9 7-10 3-10z"/><path fill="#c5c22a" d="M1637 90l825 0 0 366-82-40-3-4 3-17-3-9-77-51-4-10 2-8 0-55 2-7 0-38 5-20-1-11-160 57-64-2-30-5-8-6-185-89-3 0 0 4 2 7-2 23 4 37-4 18 2 12-2 9-124 85-4 4-9 32-3 4-10 1-67 29zM1996 440l4 1 45 69 3 10-34-4-55-1 0-8 8-17z"/><path fill="#d1bf27" d="M1637 90l825 0 0 362-55-27-25-15-2-5 1-20-82-55-1-68 3-45 4-20-1-13-77 25-77 21-10 5-58-1-28-4-14-9-108-46-75-36-3 0-1 6 2 7-1 23 3 40-5 12-87 65-38 35-5 8-4 20-8 13-73 34zM1996 440l4 1 18 26 18 33 8 10 0 5-83-5 6-19z"/><path fill="#dcbd29" d="M1637 90l825 0 0 357-50-25-28-20 1-17-4-8 2-2-2-3-79-50-3-12 0-48 7-80-134 40-35 6-53-2-27-3-56-21-88-37-56-28-3 1-1 4 3 70-4 12-88 66-41 35-11 30-5 6-23 5-47 15zM1996 440l4 1 18 26 23 43-77-5 3-13z"/><path fill="#e6bb2d" d="M1637 90l825 0 0 342-70-34-4-6 2-17-3-4-50-34-33-19-4-6 0-77 8-50-3-8 7-27-125 45-39 17-11 8-45-1-34-4-9-8-192-96-3 1 3 20-5 10 2 10-1 23 2 12-1 33-134 101-6 6-9 28-23 3-45 13zM1997 440l25 35 15 30-70-5 2-10z"/><path fill="#f0ba36" d="M1637 90l825 0 0 331-70-34 0-16-5-6-25-17-60-35-2-18 1-60 6-38 1-20 7-25-1-7-117 42-55 21-8 5-57-2-13-2-10-7-200-100-2 5 2 25-2 13 2 7-2 25 2 10 1 25-3 7-96 73-39 23-5 5-10 25-65 23zM1997 440l35 53 0 7-62-4-1-6 22-43z"/><path fill="#f8ba3d" d="M1637 90l825 0 0 323-65-31-2-7 3-15-3-5-93-59-2-31 1-30 8-58 8-34-25 7-148 53-22 3-52-3-216-109-2 0-1 16 2 15-2 17 2 13-2 20 3 12-2 28-130 87-14 13-8 23-63 27zM1997 440l20 27 13 23 0 6-58-4 0-6 8-16z"/><path fill="#febe3c" d="M1849 90l4 30-2 25 2 10-3 22 3 23-3 10-138 93-8 8-7 21-7 0-53 19 0-261zM1887 90l575 0 0 315-62-29-2-4 2-12-1-5-52-35-45-27-1-58 9-58 8-32-4-9-184 61-23 1-35-4-72-44-108-54zM1997 440l20 28 10 23-53-4 8-21z"/><path fill="#fec338" d="M1848 90l4 30-1 25 2 10-4 22 2 13-1 14-149 101-5 15-4 5-30 2-25 7 0-244zM1893 90l569 0 0 299-58-22-2-12-100-65 0-55 8-58 12-47-2-2-190 62-46-1-10-3-59-34zM1997 441l20 28 7 16-12 1-35-4 5-16z"/><path fill="#fec934" d="M1847 90l4 30-1 25 2 10 0 10-5 11-74 54-24 20-49 48-8 17-55 15 0-240zM1895 90l567 0 0 296-55-26-3-14-2-3-98-53-3-25 3-48 7-40 19-75-134 48-64 26-8 7-4 1-43-4-7-6-70-31zM1997 441l20 29 3 11-40-4 2-10z"/><path fill="#fccf30" d="M1847 90l4 30-1 25 2 10-1 12-4 6-74 54-65 53-13 12-5 16-53 20 0-238zM1898 90l564 0 0 294-20-9-31-20-2-5 0-10-4-5-95-59-8-9 0-32 9-58 9-37 12-35 0-6-212 77-38-3-58-21zM1997 441l18 26 2 9-35-3 10-25z"/><path fill="#fad62d" d="M1846 90l4 30 1 45-4 6-151 114-11 17-8 0-40 15 0-227zM1934 90l528 0 0 284-42-21-6-6-4-15-106-65-2-30 10-60 22-80-2-1-172 61-43 11-35-3-6-5-65-33-74-33zM1997 442l17 28-30-1 8-20z"/><path fill="#f7dc2a" d="M1637 311l0-221 209 0 4 32 0 43-3 5-85 62-72 50-7 13-9 0zM1938 90l382 0-10 5-196 65-27-2-18-11-119-51zM2336 90l126 0 0 272-42-20-3-3-2-12-60-40-38-21-13-10-1-21 9-57 10-38 13-38zM1997 442l13 24-22-1 4-16z"/><path fill="#f5e327" d="M1637 293l0-203 208 0 5 32 0 40-3 6-84 62-77 50-6 8-20 1zM1942 90l368 0-179 60-17 3-22 0zM2339 90l123 0 0 261-40-19-11-12-107-66 0-19 8-55 10-40zM1997 443l9 17-2 2-13-2 2-10z"/><path fill="#f5e924" d="M1637 290l0-200 207 0 5 30 0 32-4 13-70 52-98 62zM1950 90l297 0-13 6-74 27-53 23-15-1-58-20zM2340 90l122 0 0 252-38-17-120-73 0-17 9-55 10-40zM1997 444l5 8 0 5-8-2 0-8z"/><path fill="#f6ef20" d="M1637 287l0-197 206 0 5 32-1 32-153 102-17 15-10 2zM2040 90l203 0-136 49-10-2-18-17zM2341 90l121 0 0 241-30-12-8 0-118-67-2-16 10-56 10-40z"/><path fill="#f7f51b" d="M1637 274l0-184 206 0 4 32 0 19-3 7-154 103-16 13-10 1zM2045 90l192 0-62 22-55 16-16 2zM2343 90l119 0 0 235-28-13-14 0-113-61 0-16 7-38 0-18 10-38z"/><path fill="#f9fb15" d="M1637 257l0-167 203 0 5 32 0 18-4 5-169 113zM2051 90l115 0-62 31-31-16zM2345 90l117 0 0 227-31-15-114-114 0-10 10-38z"/></g>
<path d="M1667 255L1667 637L1998 820L2436 684M1998 820L2003 830M1998 820L1992 829M2217 752L2222 762M1832 728L1826 737M2436 684L2441 694M1667 637L1661 646M1667 637L1657 637M1667 450L1657 450M1667 262L1657 262" stroke="#585858" stroke-width="7.5"/>
<!-- F3 -->
<path d="M3095 635L3095 266M3427 805L3095 635M3860 674L3860 305M3427 805L3860 674M3312 569L3312 200M3643 739L3312 569M3694 588L3694 219M3261 720L3694 588M3528 503L3528 134M3860 674L3528 503M3528 503L3528 134M3095 635L3528 503M3095 635L3528 503L3860 674M3095 487L3528 356L3860 526M3095 340L3528 208L3860 378" stroke="#dedede" stroke-width="6"/>
<path d="M3095 635L3528 503L3860 674" stroke="#b4b4b4" stroke-width="7"/>
<path d="M3528 503L3528 134M3095 266L3528 134L3860 305L3860 674" stroke="#585858" stroke-width="7.5"/>
<g stroke-width="6" stroke-opacity="1"><path d="M3777 631l11 9 0 4-2 6-15 10-25 8-32 9-46 8-108 12-126 6-110-2-88-8-33-7-25-8M3178 678l-11-9 0-4 2-6 15-10 25-9 32-8 46-8 108-12 126-6 110 2 88 8 33 6 25 9" stroke="#4741e5"/><path d="M3860 674l-51 12-61 11-72 10-81 7-83 6-90 3-80 0-81-3M3095 635l51-13 61-11 72-9 81-8 83-5 90-3 80 0 81 2" stroke="#4563fd"/><path d="M3707 720l-101 9-102 6-106 3-103 0M3248 588l101-9 102-5 106-3 103 0" stroke="#2d8cf3"/><path d="M3643 739l-164 10-158 2M3312 569l164-9 158-3" stroke="#1ca9df"/><path d="M3595 754l-127 6-124 3M3360 554l127-6 124-2" stroke="#19bfb6"/><path d="M3553 767l-190 6M3402 542l190-6" stroke="#4acb84"/><path d="M3517 778l-136 4M3438 531l136-4" stroke="#9dc943"/><path d="M3485 788l-88 2M3470 521l88-3" stroke="#f0ba36"/><path d="M3455 797l-43 1M3500 512l43-1" stroke="#fad62d"/></g>
<clipPath id="cF3"><path d="M3859 599l-21 9-80 22-80 18-63 10-55 5-8 3-70 2-7 3-93 0-7-3-37 0-8-2-22 0-8-3-38-2-72-13-20-10-26-19-26-26-24-31 1-3 33-11 32-15 35-20 23-17 6-2 66-53 19-22 22-20 18-22 11-9 22-29 8-6 66-89 23-37 9-10 24-43 6-4 6-13 4-3 5 10 1 10 12 30 1 10 11 25 1 10 9 20 1 10 9 18 4 15 11 22 1 10 24 50 1 8 7 10 28 60 22 32 6 13 9 10 1 5 36 43 7 6 5 6 28 21 20 10 20 5 32 1 12-5z" clip-rule="evenodd"/></clipPath><g clip-path="url(#cF3)" stroke="none" fill-rule="evenodd"><path fill="#422ec0" d="M3085 124H3870V679H3085z"/><path fill="#4332cb" d="M3065 104l823 0 0 593-823 0z"/><path fill="#4537d5" d="M3065 104l823 0 0 593-259 0-1-8-8-25-2 33-28 0-5-23-7-10-2 5 0 28-8 0-6-23-7-9-5 2-1 30-15 0-5-20-7-9-8 1-2 3 0 25-23 0-4-18-7-10-28 5 0 23-61 0 0-23-7-3-6 3-6 23-305 0zM3300 609l-35 8-17 6-13 8-3 8 3 4 10 0 23-6 22-15 10-10z"/><path fill="#463cde" d="M3065 104l823 0 0 593-254 0 0-10-7-20-5-8-4-2-5 5-1 17-2-1-8-16-4-3-5 3-3 9-10-10-7 1-8 5-7-4-13 1-6 3-4 11-7-11-6-2-30 4-4 4-4-4-6-2-98 1-7 6-6 23-23 0 0-25-6-4-8 5-5 16-1 8-18 0-1-27-5 7-5 20-230 0zM3316 597l-1-2-80 17-27 12-5 5-1 5 8 8 13 5 12 1 23-6 12-5 19-13 18-15zM3652 587l43 14 33 5 14-2-7-4-27-8-30-5z"/><path fill="#4741e5" d="M3065 104l823 0 0 593-195 0-3-18-8-22-4-5-3 15-3 0-10-16-4 13-7-10-3-1-4 1-2 7-10-7-27 4-117 7-118 3-35-3-9 7-6 14-2-17-13-5-6 5-9 28-6 0-2-31-7 16-4 15-206 0zM3326 584l-66 9-48 11-27 12-7 6-2 7 6 8 6 3 27 8 20 1 20-5 15-6 25-18 23-21zM3620 572l9 7 17 8 49 15 30 5 23 0 10 2 10-1 8-4-3-5-8-5-37-11-30-5z"/><path fill="#4747eb" d="M3065 104l823 0 0 593-153 0-10-45-10-10-3 7-2 1-5-6-4 0-3 5-8-4-5 2-10-1-5 4-8-2-90 10-84 5-116 1-74-1-16-2-4 3-6 9-3-11-7-2-7 4-12 33-50 0 10-45 32-1 35-12 38-29 20-23 7-13-3-2-112 18-50 16-16 11-60 80-29 0zM3820 482l-48 56-24 35-93-10-57-1 1 2 45 23 51 16 30 5 23 0 10 2 41-6 18-75 3-19z"/><path fill="#484df0" d="M3065 104l823 0 0 593-110 0-10-48-3-7-5-3-1 18 7 40-12 0-14-53-2-2-6 1-7-6-93 13-134 10-123 2-113-5-7 2-10-2-10 3-4-6 39-15 38-28 32-39 2-10-117 16-45 10-25 9-23 13-67 66zM3827 464l-5 2-92 93-88-6-61-1 15 12 34 18 65 22 63 8 42-5 11-3 6-5 4-60 1-45z"/><path fill="#4852f4" d="M3065 104l823 0 0 593-92 0-20-60-6-9-5 2-7-1-6 5-27 1-93 13-134 10-128 2-128-6-1-2 29-12 38-28 34-42 8-13 0-5-70 7-90 16-50 14-18 9-57 56zM3831 454l-3 1-108 93-108-6-44 0-3 2 29 20 35 18 66 22 30 5 35 3 38-3 17-3 12-7 0-25-4-50 0-27z"/><path fill="#4758f8" d="M3065 104l823 0 0 593-46 0-27-78-3 13 12 45-2 5-18-53-6-8-4 1-4 6-5-3-5 2-10-2-100 16-120 11-160 5-85-1-55-4 0-3 20-8 38-29 34-41 15-27-2-2-117 14-83 16-37 12-53 38zM3833 439l-69 53-52 45-97-4-64 1 14 13 33 20 44 21 53 17 30 5 40 3 35-3 28-6 3-5 0-22-7-53 0-27 10-45-2-8z"/><path fill="#465efb" d="M3065 104l823 0 0 593-41 0-23-73-9-10-7 5-13-1-97 17-148 14-160 6-95-2-37-3 39-28 23-22 30-39 13-24-1-4-117 12-79 14-62 18-39 24zM3845 419l-10 6-103 83-30 20-144-4-18 1-2 2 4 1 22 19 33 20 48 22 47 15 33 6 35 4 40-3 30-5 3-4 0-28-8-52 1-28 10-47 10-23z"/><path fill="#4563fd" d="M3065 104l823 0 0 593-30 0-18-78-9-10 4-5 1-27-9-55 0-28 13-50 12-27 0-11-157 113-87-3-79 1 6 10 7 3 21 17 33 20 48 22 51 16 60 9 37-1 9 1-11 3-108 17-150 13-144 5-123-4-2-1 19-13 27-22 21-24 35-51 3-13-106 10-117 20-45 12-35 26z"/><path fill="#4269fe" d="M3065 104l823 0 0 251-20 24-9 18-9 4-127 91-20 12-13 5-110-2-61 2 4 8 12 11 27 19 33 20 48 22 49 16 33 7 20 0 15 4 28-2-19 5-59 9-105 11-73 5-144 5-93-2-25-2 40-33 20-23 38-55 7-19-113 10-82 12-38 7-7 0-3-2-67-151z"/><path fill="#3e6fff" d="M3065 104l823 0 0 246-10 16-143 96-53 39-124-2-50 1-3 2 31 27 58 38 36 17 62 22 33 6 23 1 9 4-19 5-76 9-132 10-142 5-80-1-33-3 35-30 32-39 26-38 10-18 1-10-117 9-87 13-8-2-17-26-85-162z"/><path fill="#3875fe" d="M3065 104l823 0 0 243-13 17-147 100-50 28-173-1-7 3 5 8 9 6 23 21 60 38 35 18 35 13 60 15 21 1 1 3-85 11-134 10-140 4-106-1-3-2 31-26 34-41 24-36 12-22 5-15-13-1-82 7-92 11-10-2-76-136-47-74z"/><path fill="#327cfc" d="M3065 104l823 0 0 237-184 116-32 26-170 0-12 4 12 15 10 7 23 20 58 38 49 23 53 17 35 7 1 3-81 9-152 10-116 3-96-2 3-5 31-30 31-40 29-47 8-16 0-10-100 8-70 8-10-1-143-206z"/><path fill="#2f81fa" d="M3065 104l823 0 0 234-223 137-97-1-86 3 6 10 14 16 10 6 22 20 58 38 50 24 50 17 23 4 3 3-70 8-150 10-116 3-91-2 0-2 30-30 31-40 28-46 9-19 3-16-62 4-102 10-6-2-10-19-73-110-74-102z"/><path fill="#2e87f7" d="M3065 104l823 0 0 230-156 95-70 38-120 0-70 2 31 35 9 6 23 20 57 37 50 24 63 21-10 3-47 5-156 9-110 3-84-1-3-2 36-40 37-52 22-40 8-24-90 6-66 7-5-2-19-27-73-91-80-108z"/><path fill="#2d8cf3" d="M3065 104l823 0 0 223-140 77-90 54-128 1-65 3 5 10 32 32 10 6 23 20 57 37 38 19 61 23-1 2-82 8-116 7-82 2-109-1 1-5 30-33 37-52 21-39 10-23 0-11-142 11-9-1-77-110-107-129z"/><path fill="#2b91ef" d="M3065 104l823 0 0 220-181 100-52 25-17 2-78-1-102 4 4 10 40 40 10 6 23 21 57 37 38 18 48 18 4 5-92 8-110 6-175 1-1-2 40-48 25-37 21-38 10-22 6-20-144 9-197-234z"/><path fill="#2797eb" d="M3065 104l823 0 0 212-199 98-41 28-138 2-61 3 6 10 47 47 10 7 23 20 57 37 36 17 40 17 4 4-98 8-96 5-168 1-1-1 43-57 29-45 29-63 0-6-138 8-97-100-100-119-10-9z"/><path fill="#259be8" d="M3065 104l823 0 0 208-246 123-120 0-83 4 29 33 33 32 11 7 23 20 57 37 70 34-2 1-170 12-175 2 1-8 29-35 36-57 29-61 3-9-1-7-127 8-5-2-88-114-127-136z"/><path fill="#23a0e5" d="M3065 104l823 0 0 204-193 96-55 22-115 2-90 4 0 5 3 5 63 62 11 7 23 21 57 37 62 30-39 5-127 7-170 2-1-4 35-46 29-46 31-65 6-18-20-2-80 7-23 0-4-2-49-56-83-87-94-102z"/><path fill="#20a5e3" d="M3065 104l823 0 0 183-226 112-27 20-140 2-95 4-70 6-28-1-50-43-92-94-95-103zM3320 609l32-45 30-47 30-64 7-19 6-6 76 76 11 8 23 20 57 37 53 28-47 5-113 6z"/><path fill="#1ca9df" d="M3065 104l823 0 0 179-258 128-135 2-183 10-247-247zM3325 604l2-5 25-35 30-47 30-63 6-17 7-7 5 2 6 10 64 62 12 8 23 20 60 39 41 21 1 2-152 10-133 2z"/><path fill="#18addb" d="M3065 104l823 0 0 174-230 114-30 12-113 1-195 10-255-255zM3328 599l54-82 30-62 7-18 6-7 75 74 12 8 22 20 58 38 35 19-5 3-134 8-158 2z"/><path fill="#12b1d6" d="M3065 104l823 0 0 166-158 72-108 55-152 2-108 5-32 3-188-188-69-65-8-5zM3332 597l6-13 15-20 29-47 36-78 7-8 75 74 12 7 20 19 89 56-36 4-155 7-88 0z"/><path fill="#08b5d0" d="M3065 104l823 0 0 164-246 106-22 15-165 3-100 6-20 0-32-24-109-110-119-110-10-7zM3336 592l47-75 36-78 6-8 77 76 9 5 22 20 59 39 18 8 3 5-193 10-82 1z"/><path fill="#01b8ca" d="M3065 104l823 0 0 162-151 66-119 49-128 2-145 8-33-32-157-133-80-75-10-6zM3338 589l2-5 43-67 36-78 6-7 77 75 9 5 22 20 74 47-5 2-117 7-127 3z"/><path fill="#02bac3" d="M3065 104l823 0 0 135-119 55-145 73-9 6-95 1-170 8-75-58-117-100-80-74-13-8zM3341 584l42-67 36-78 6-7 75 73 11 7 22 20 67 45-152 8-106 2z"/><path fill="#0bbdbd" d="M3070 104l818 0 0 133-208 92-61 30-9 7-52 0-198 9-87-88zM3345 582l38-65 38-80 4-5 75 74 10 6 22 20 58 40-2 3-108 5z"/><path fill="#19bfb6" d="M3073 104l815 0 0 131-166 73-107 44-10 7-173 3-67 4-21-22-99-84zM3349 577l1-5 43-73 26-57 6-9 75 73 10 6 22 20 53 37-105 7-130 2z"/><path fill="#24c1ae" d="M3075 104l813 0 0 128-165 72-121 47-124 2-106 6-124-100zM3352 572l41-73 26-57 6-9 75 73 10 6 22 21 8 3 37 28-5 3-92 5-128 2z"/><path fill="#2cc4a7" d="M3078 104l810 0 0 119-186 71-100 50-74 2-20-2-128 7-25-22-237-190zM3356 567l37-68 26-57 6-9 75 73 72 56-167 8-49-1z"/><path fill="#31c69f" d="M3082 104l806 0 0 117-234 88-56 28-53-1-160 7-50-36zM3359 562l35-63 25-57 6-8 75 73 64 50-2 2-122 6-80 0z"/><path fill="#37c897" d="M3123 104l765 0 0 116-198 74-75 25-23 11-200 5-88-81-162-131zM3361 559l13-27 20-33 27-60 4-5 75 73 10 6 22 21 7 3 19 17-140 7-53 1z"/><path fill="#3fca8e" d="M3125 104l763 0 0 113-198 75-88 27-44 4-96 1-62 4-82-64zM3364 554l30-55 27-60 4-5 75 73 10 6 41 36-3 3-156 5-27 1z"/><path fill="#4acb84" d="M3127 104l761 0 0 75-85 33-104 45-101 50-8 7-185 6-105-74zM3367 552l8-20 19-33 27-60 4-5 75 74 11 6 21 21 6 2 8 10-98 5z"/><path fill="#57cc7a" d="M3138 104l750 0 0 73-229 92-64 31-10 7-75 1-100 5-18-17zM3370 547l55-112 75 73 10 6 30 28-18 2-147 5z"/><path fill="#64cd6f" d="M3149 104l739 0 0 72-178 71-120 47-8 6-164 5-6-2zM3374 544l1-10 18-32 32-67 75 73 10 6 22 23-2 3z"/><path fill="#72cd64" d="M3188 104l700 0 0 71-241 94-67 23-155 5-5-2-155-129zM3376 534l49-99 75 74 10 5 18 20-16 3-127 3-7-1z"/><path fill="#81cc59" d="M3190 104l698 0 0 70-156 59-152 52-152 5-23-21zM3377 534l48-99 98 94-23 4-118 3z"/><path fill="#8fcb4e" d="M3192 104l696 0 0 68-8 1-93 36-199 67-18 3-138 4zM3382 529l6-16 37-77 75 73 10 7 6 8 0 3-46 3-80 2z"/><path fill="#9dc943" d="M3196 104l692 0 0 47-223 81-53 17-32 15-10 7-132 4-166-113zM3388 514l37-78 49 46 26 28 10 7 3 5-128 5z"/><path fill="#abc739" d="M3201 104l687 0 0 45-223 81-73 23-24 11-126 4zM3387 522l2-10 36-76 83 81-6 2z"/><path fill="#b9c431" d="M3216 104l672 0 0 42-223 81-87 27-28 4-102 2zM3389 514l36-78 50 48 26 30-111 3z"/><path fill="#c5c22a" d="M3264 104l624 0 0 26-188 62-128 51-7 7-107 3-122-96-68-48zM3392 512l8-23 25-52 50 47 20 25-7 2-90 3z"/><path fill="#d1bf27" d="M3266 104l622 0 0 24-200 66-126 48-100 4-4-2zM3394 507l6-17 25-53 50 47 16 20-1 3-92 3z"/><path fill="#dcbd29" d="M3268 104l620 0 0 22-260 87-63 19-7 4-93 3zM3425 437l49 47 12 18-88 3 2-14z"/><path fill="#e6bb2d" d="M3270 104l618 0 0 21-210 70-88 25-35 9-80 2-7-1-116-71zM3399 497l26-59 48 46 10 13-8 2-75 1z"/><path fill="#f0ba36" d="M3300 104l588 0 0 19-177 59-123 36-33 4-83 1-8-9zM3401 494l9-25 15-31 48 46 5 8-6 2-70 2z"/><path fill="#f8ba3d" d="M3316 104l511 0-5 5-227 90-35 11-8 5-72 2-160-108zM3425 438l47 46 0 5-67 1-1-3 6-17z"/><path fill="#febe3c" d="M3346 104l478 0-260 100-16 4-58 2-10-2-40-36-88-59zM3425 439l18 15 25 30-60 2 2-15z"/><path fill="#fec338" d="M3351 104l471 0-210 72-42 12-25 13-47 1-10-2zM3425 439l18 15 19 26-22 2-30 0 2-15z"/><path fill="#fec934" d="M3354 104l463 0-199 68-73 21-53 1-41-25zM3425 439l17 15 13 15 3 7-46 2 0-11z"/><path fill="#fccf30" d="M3373 104l404 0-5 4-221 74-6 4-47 1-10-10-106-64zM3425 440l25 24 3 8-33 2-8-2z"/><path fill="#fad62d" d="M3379 104l390 0-216 73-13 3-38 1zM3425 440l16 14 8 13-34 1z"/><path fill="#f7dc2a" d="M3402 104l346 0-196 66-32 3-15-1-8-8zM3425 441l15 13 5 9-25 1 0-9z"/><path fill="#f5e327" d="M3407 104l307 0-12 7-106 31-54 18-7 5-25 1zM3425 441l14 13 1 5-18 0z"/><path fill="#f5e924" d="M3415 104l296 0-163 51-20 4-13 0-10-9zM3425 442l10 12-11 0z"/><path fill="#f6ef20" d="M3461 104l246 0-117 36-60 12-12-3z"/><path fill="#f7f51b" d="M3465 104l233 0-109 33-27 5-34 3-30-17z"/><path fill="#f9fb15" d="M3499 104l90 0-59 31-2 0z"/></g>
<path d="M3095 266L3095 635L3427 805L3860 674M3427 805L3432 815M3427 805L3421 814M3643 739L3648 749M3261 720L3255 729M3860 674L3865 684M3095 635L3089 644M3095 635L3085 635M3095 487L3085 487M3095 340L3085 340" stroke="#585858" stroke-width="7.5"/>
<!-- F4 -->
<path d="M4559 632L4559 254M4896 811L4559 632M5337 678L5337 300M4896 811L5337 678M4780 565L4780 187M5116 745L4780 565M5169 588L5169 210M4727 722L5169 588M5000 499L5000 121M5337 678L5000 499M5000 499L5000 121M4559 632L5000 499M4559 632L5000 499L5337 678M4559 443L5000 310L5337 489M4559 254L5000 121L5337 300" stroke="#dedede" stroke-width="6"/>
<path d="M4559 632L5000 499L5337 678" stroke="#b4b4b4" stroke-width="7"/>
<path d="M5000 499L5000 121M4559 254L5000 121L5337 300L5337 678" stroke="#585858" stroke-width="7.5"/>
<g stroke-width="6" stroke-opacity="1"><path d="M4943 671l-34-18 31-10 13-4 34 18z" stroke="#4741e5"/><path d="M4938 686l-68-36 18-5 70-21 68 36z" stroke="#4563fd"/><path d="M4932 702l-101-54 18-5 115-35 101 54z" stroke="#2d8cf3"/><path d="M4927 717l-135-71 18-6 159-48 135 72z" stroke="#1ca9df"/><path d="M4922 733l-168-90 119-36 101-30 168 89z" stroke="#19bfb6"/><path d="M4917 749l-202-108 13-4 251-76 202 108z" stroke="#4acb84"/><path d="M4911 764l-235-125 9-3 300-90 235 125z" stroke="#9dc943"/><path d="M4906 780l-269-143 282-86 71-21 269 143z" stroke="#f0ba36"/><path d="M4901 796l-303-162 304-92 93-28 303 162z" stroke="#fad62d"/></g>
<clipPath id="cF4"><path d="M4560 251l422-129 20-3 334 179-14 16-33 26-30 31-57 49-30 31-58 49-30 31-32 27-58 52-18 19-30 24-123-125-33-37-54-53-29-32-59-58-28-32-59-58-2-5z" clip-rule="evenodd"/></clipPath><g clip-path="url(#cF4)" stroke="none" fill-rule="evenodd"><path fill="#3e26a8" d="M4549 110H5346V663H4549z"/><path fill="#402ab4" d="M4529 91l835 0 0 590-391 0-19-25-5-3-8 3-24 25-388 0z"/><path fill="#422ec0" d="M4529 91l835 0 0 590-380 0-23-30-7-5-19 2-31 33-375 0z"/><path fill="#4332cb" d="M4529 91l835 0 0 590-361 0-37-39-10-1-12 3-12-3-41 40-362 0z"/><path fill="#4537d5" d="M4529 91l835 0 0 590-357 0-37-45-6-1-20 6-18-7-4 3-43 44-350 0z"/><path fill="#463cde" d="M4529 91l835 0 0 590-353 0-37-52-30 8-22-9-7 3-48 50-338 0z"/><path fill="#4741e5" d="M4529 91l835 0 0 590-325 0-55-56-8-1-34 9-28-11-6 4-54 55-325 0z"/><path fill="#4747eb" d="M4529 91l835 0 0 590-314 0-61-62-7-1-40 12-33-14-66 65-314 0z"/><path fill="#484df0" d="M4529 91l835 0 0 590-300 0-68-68-9 0-45 14-38-17-8 4-65 67-302 0z"/><path fill="#4852f4" d="M4529 91l835 0 0 590-291 0-71-73-8-1-55 16-43-20-37 26-62 52-268 0z"/><path fill="#4758f8" d="M4529 91l835 0 0 590-284 0-38-45-36-34-12 2-55 16-47-23-99 84-264 0z"/><path fill="#465efb" d="M4529 91l835 0 0 590-282 0-53-66-17-19-6 0-70 20-42-22-10-3-94 90-261 0z"/><path fill="#4563fd" d="M4529 91l835 0 0 590-279 0-69-90-80 22-57-29-5 3-93 94-252 0z"/><path fill="#4269fe" d="M4529 91l835 0 0 590-245 0-95-95-12 1-76 22-62-31-8 4-97 99-240 0z"/><path fill="#3e6fff" d="M4529 91l835 0 0 590-239 0-49-55-45-45-12 0-83 25-70-34-6 4-103 105-228 0z"/><path fill="#3875fe" d="M4529 91l835 0 0 590-237 0-91-106-12 1-90 26-60-31-15-6-116 116-214 0z"/><path fill="#327cfc" d="M4529 91l835 0 0 590-234 0-54-65-34-47-10 1-98 29-80-40-123 122-202 0z"/><path fill="#2f81fa" d="M4529 91l835 0 0 590-205 0-53-60-57-57-13 0-102 32-85-43-7 4-123 124-190 0z"/><path fill="#2e87f7" d="M4529 91l835 0 0 590-202 0-88-104-18-19-14 1-110 33-90-46-135 135-178 0z"/><path fill="#2d8cf3" d="M4529 91l835 0 0 590-200 0-60-72-45-57-127 37-96-49-6 3-137 138-164 0z"/><path fill="#2b91ef" d="M4529 91l835 0 0 590-171 0-54-63-73-72-134 39-103-52-148 148-152 0z"/><path fill="#2797eb" d="M4529 91l835 0 0 590-168 0-102-120-22-21-143 41-105-54-6 4-148 150-141 0z"/><path fill="#259be8" d="M4529 91l835 0 0 590-165 0-75-88-45-57-10 0-140 42-110-56-6 4-154 155-130 0z"/><path fill="#23a0e5" d="M4529 91l835 0 0 590-127 0-151-151-20 3-137 42-117-59-16 7-33 25-154 133-80 0z"/><path fill="#20a5e3" d="M4529 91l835 0 0 590-106 0-129-130-37-28-163 48-123-62-87 71-114 101-76 0z"/><path fill="#1ca9df" d="M4529 91l835 0 0 590-103 0-129-130-38-32-168 49-124-65-6 2-44 44-149 132-74 0z"/><path fill="#18addb" d="M4529 91l835 0 0 590-100 0-140-140-22-27-16 2-160 48-132-67-5 1-98 98-90 85-72 0z"/><path fill="#12b1d6" d="M4529 91l835 0 0 590-95 0-75-88-85-84-15 1-170 51-118-63-20-8-6 3-187 188-64 0z"/><path fill="#08b5d0" d="M4529 91l835 0 0 590-91 0-129-150-28-28-17 2-175 52-132-69-13-4-198 197-52 0z"/><path fill="#01b8ca" d="M4529 91l835 0 0 590-88 0-110-128-42-53-5-3-13 2-182 55-150-77-6 4-199 200-40 0z"/><path fill="#02bac3" d="M4529 91l835 0 0 590-62 0-6-8-84-85-86-97-14 3-188 57-155-80-7 3-205 207-28 0z"/><path fill="#0bbdbd" d="M4529 91l835 0 0 590-47 0-98-110-85-85-8 0-204 61-145-76-15-7-6 3-213 214-14 0zM4979 398l-5-3-9 1-71 21-5 4 5 3 8 0 61-18z"/><path fill="#19bfb6" d="M4529 91l835 0 0 590-45 0-133-152-47-49-15 2-202 62-166-86-6 3-219 220-2 0zM4990 396l-14-9-10 0-85 26 0 3 13 10 7 0 65-20z"/><path fill="#24c1ae" d="M4529 91l835 0 0 590-43 0-79-91-98-116-225 66-150-80-20-8-220 217zM4999 393l0-2-13-7-14-6-96 28-7 5 24 15 9 0 81-25z"/><path fill="#2cc4a7" d="M4529 91l835 0 0 590-28 0-102-118 0-2-82-91-8-1-225 68-175-92-6 3-209 208zM5010 388l-28-16-10-2-111 33 0 3 9 7 22 13 10 0 83-25 24-10z"/><path fill="#31c69f" d="M4529 91l835 0 0 590-11 0-157-180-37-38-15 2-225 68-167-88-18-6-26 17-45 35-121 107-13 8zM5021 386l-35-20-14-5-121 37 0 3 17 12 28 14 90-26 27-10z"/><path fill="#37c897" d="M4529 91l835 0 0 590-9 0-132-153-57-69-4-2-243 73-170-90-17-6-71 54-122 108-10 7zM5033 383l-11-8-46-22-134 40-1 3 31 20 24 11 90-26z"/><path fill="#3fca8e" d="M4529 91l835 0 0 590-5 0-13-18-83-92-51-62-43-57-253 74-172-91-18-7-187 166-10 7zM5042 378l-60-32-8-1-142 43-1 3 63 37 117-35 31-12z"/><path fill="#4acb84" d="M4529 91l835 0 0 533-10-8-141-140-37-30-260 77-177-94-17-7-6 2-82 82-105 93zM5053 376l-67-36-10-4-155 47 10 10 63 35 118-35 29-10z"/><path fill="#57cc7a" d="M4529 91l835 0 0 524-146-144-36-30-31 7-235 72-192-102-10-2-185 180zM5064 373l-70-38-18-7-165 50 19 15 64 36 118-35z"/><path fill="#64cd6f" d="M4529 91l835 0 0 521-178-176-20 4-252 76-205-107-7 3-173 172zM5074 371l-5-6-80-42-13-3-175 53 4 5 29 18 60 33 118-35 47-16z"/><path fill="#72cd64" d="M4529 91l835 0 0 518-150-149-22-30-278 82-190-100-22-9-8 4-165 164zM5085 366l-79-43-27-12-188 57 1 3 41 25 61 33 33-8 134-43 23-10z"/><path fill="#81cc59" d="M4529 91l835 0 0 512-11-10-109-125-42-43-23 4-265 80-200-105-18-7-7 2-160 159zM5096 363l-114-60-13 2-187 58 7 8 105 58 34-8 134-43 32-12z"/><path fill="#8fcb4e" d="M4529 91l835 0 0 509-61-67-84-101-15-13-292 86-218-114-8-1-157 155zM5106 361l-102-56-22-10-211 63 21 15 102 56 34-8 164-53z"/><path fill="#9dc943" d="M4529 91l835 0 0 506-85-96-41-50-25-35-4-3-297 89-208-109-22-10-153 151zM5117 358l-15-10-80-43-40-18-221 66 30 20 103 57 140-42 60-20z"/><path fill="#abc739" d="M4529 91l835 0 0 464-141-144-7-4-304 92-236-122-6 4-141 140zM5126 356l0-3-34-19-96-51-14-5-230 70 38 25 104 57 140-42 82-27z"/><path fill="#b9c431" d="M4529 91l835 0 0 461-92-103-48-47-12 2-303 91-237-124-7 2-136 135zM5138 351l-154-81-238 70-3 3 8 8 38 22 105 57 165-49 59-20z"/><path fill="#c5c22a" d="M4529 91l835 0 0 459-120-140-15-14-320 96-227-120-18-8-5 3-130 128zM5148 348l-34-20-128-67-7 1-240 72-6 4 17 13 144 79 166-49 80-28z"/><path fill="#d1bf27" d="M4529 91l835 0 0 456-72-84-54-70-4-3-328 98-230-122-20-8-127 126zM5158 346l-9-8-163-85-252 75-11 5 26 18 145 80 167-50 82-28z"/><path fill="#dcbd29" d="M4529 91l835 0 0 422-62-70-58-57-12 1-326 97-242-128-12-4-123 119zM5169 341l-175-94-8-2-257 76-16 7 74 45 107 58 168-50 102-35 5-3z"/><path fill="#e6bb2d" d="M4529 91l835 0 0 419-100-116-13-13-5-2-340 102-244-130-16-5-27 17-90 75zM5180 338l-184-99-10-3-280 84-2 3 5 5 40 24 145 79 35-9 239-76z"/><path fill="#f0ba36" d="M4529 91l835 0 0 415-65-74-45-58-348 104-250-132-14-5-113 94zM5191 336l-2-3-187-100-16-5-291 88-1 2 17 13 183 100 224-68 51-17z"/><path fill="#f8ba3d" d="M4529 91l835 0 0 378-99-98-6-3-355 106-252-134-16-6-107 99zM5201 333l-5-5-204-108-26 5-280 85-2 3 26 18 184 101 225-69 50-16z"/><path fill="#febe3c" d="M4529 91l835 0 0 358-60-59-38-28-362 109-272-143-7 3-96 95zM5212 328l-200-107-23-10-313 95-1 2 33 23 186 101 249-76 58-20z"/><path fill="#fec338" d="M4529 91l835 0 0 355-90-86-5-2-367 109-260-138-18-7-5 1-90 89zM5222 326l-230-123-13 2-310 94-3 2 0 2 4 5 37 23 187 101 250-76 58-20z"/><path fill="#fec934" d="M4529 91l835 0 0 352-65-63-23-28-374 112-260-138-26-11-6 3-81 80zM5233 323l-221-120-20-8-337 101 0 2 51 33 188 101 275-84 57-20z"/><path fill="#fccf30" d="M4529 91l835 0 0 334-75-75-10-3-377 113-278-146-15-5-80 77zM5243 321l0-3-159-85-80-43-12-4-348 105 8 7 54 33 188 102 275-84 57-20z"/><path fill="#fad62d" d="M4529 91l835 0 0 331-55-64-15-15-5-2-387 116-296-154-7 2-70 69zM5254 318l-5-5-255-135-8 1-351 107 10 10 61 36 188 101 275-84 56-18z"/><path fill="#f7dc2a" d="M4529 91l835 0 0 327-65-80-5-2-392 117-6 0-294-156-9 1-64 63zM5265 313l-253-136-18-7-369 111 6 7 38 23 225 122 35-9 240-74 80-27 15-7z"/><path fill="#f5e327" d="M4529 91l835 0 0 297-56-55-9-3-400 120-305-160-6 1-59 57zM5276 311l-54-31-226-119-30 8-351 107 13 12 41 24 225 122 275-84 82-27 24-10z"/><path fill="#f5e924" d="M4529 91l835 0 0 290-50-54-12-2-403 122-310-163-7 1-53 51zM5287 308l-11-8-280-147-392 118 4 5 18 12 268 146 168-49 164-53 48-16z"/><path fill="#f6ef20" d="M4529 91l835 0 0 287-45-55-7-4-416 124-312-165-8 0-47 46zM5297 306l-3-5-268-142-30-14-42 11-358 110 5 7 25 17 268 145 275-83 107-36z"/><path fill="#f7f51b" d="M4529 91l835 0 0 270-20-21-20-25-8-1-420 126-7-5 15-1 322-99 66-23 17-9-1-2-302-162-12-2-409 124 4 7 37 24 153 81 6 5-3 1-206-108-7 1-40 39zM4785 381l11 2 24 13 6 6zM4827 403l5 0 32 18-4 0zM4865 423l11 3 12 7-4 1z"/><path fill="#f9fb15" d="M4529 91l835 0 0 249-35-32-7-1-20 7-7-1 21-8 4-4-3-5-305-163-13-5-7 1-419 127 0 2 11 11-15-5-5 1-35 33z"/></g>
<path d="M4559 254L4559 632L4896 811L5337 678M4896 811L4901 821M4896 811L4890 820M5116 745L5121 755M4727 722L4721 731M5337 678L5342 688M4559 632L4553 641M4559 632L4549 632M4559 443L4549 443M4559 254L4549 254" stroke="#585858" stroke-width="7.5"/>
<!-- F5 -->
<path d="M223 1545L223 1180M542 1707L223 1545M973 1584L973 1219M542 1707L973 1584M438 1484L438 1119M758 1646L438 1484M813 1503L813 1138M383 1626L813 1503M654 1422L654 1057M973 1584L654 1422M654 1422L654 1057M223 1545L654 1422M223 1545L654 1422L973 1584M223 1432L654 1309L973 1471M223 1319L654 1196L973 1358M223 1206L654 1083L973 1246" stroke="#dedede" stroke-width="6"/>
<path d="M223 1545L654 1422L973 1584" stroke="#b4b4b4" stroke-width="7"/>
<path d="M654 1422L654 1057M223 1180L654 1057L973 1219L973 1584" stroke="#585858" stroke-width="7.5"/>
<g stroke-width="6" stroke-opacity="1"><path d="M909 1552l-432 122M288 1578l430-123" stroke="#4747eb"/><path d="M927 1561l-432 122M270 1569l430-123" stroke="#3875fe"/><path d="M939 1567l-432 122M258 1563l430-123" stroke="#23a0e5"/><path d="M948 1572l-432 122M249 1558l430-123" stroke="#0bbdbd"/><path d="M956 1576l-432 122M241 1554l430-123" stroke="#57cc7a"/><path d="M962 1579l-431 122M235 1551l429-123" stroke="#c5c22a"/><path d="M968 1582l-431 122M229 1548l430-123" stroke="#fec934"/><path d="M758 1646l-216 61M223 1545l215-61" stroke="#f9fb15"/></g>
<clipPath id="cF5"><path d="M973 1225l1 5-5 20 0 17-5 18 0 15-5 17 0 15-5 18-3 30-4 10-1 12-12 48-18 45-12 17-16 13-438 123-17 0-13-3-74-37-28-22-18-24-8-15-6-17-4-5-1-8-4-5-8-35-4-7-9-48-4-10-1-15-4-10 0-15-5-15 0-15-3-7 0-15-4-15-1-18-5-20 0-20-5-22 0-20-2-8 1-21 10-1 130-36 10-1 130-37 10-1 130-36 7-1 4 4 0 15 5 23 0 20 5 17 0 20 5 20 3 38 4 15 1 17 11 48 272-74z" clip-rule="evenodd"/></clipPath><g clip-path="url(#cF5)" stroke="none" fill-rule="evenodd"><path fill="#3e26a8" d="M213 1054H983V1657H213z"/><path fill="#402ab4" d="M193 1035l807 0 0 640-565 0 2-28 21-9 10-8 18-31 13-42 2-12-3-5-170 49-84 86-51 0z"/><path fill="#422ec0" d="M193 1035l807 0 0 640-553 0 0-25 23-21 10-16 10-24 10-32 3-33-187 54-123 91z"/><path fill="#4332cb" d="M193 1035l807 0 0 640-75 0-37-135-8-8-7-1-4 1-3 6-13-1-5 19-5-11-5-4-2 1-3 13 29 120-5 0-38-118-9-8-3 1-4 6-13-1-3 12 1 16-8-21-4-3-3 1-2 15 4 17 1 11-12-33-6-6-4 3 0 15 23 93-8 0-26-95-5-7-8-2-2 1-3 15 5 30-11-32-6-8-3 3-1 12 9 39-2-1-16-43-4-5-3 2-2 13 14 58-2 5-23-66-2-2-5 1-5-3-8 0-7 6-5 1 0 10 16 68-9 0-12-37-1 7 7 30-21 0 0-8-16-45-7-10-7-4-8 6-12 0-5 12-8-6-5 0-4 17 10 38-25 0-9-38-6-6-11 1-5 15-4-7-7-3-6 17-5-9-8-3-1 15 5 18-15 0-5-18-7-10 23-32 16-38 11-52-1-13-198 57-115 89z"/><path fill="#4537d5" d="M193 1035l807 0 0 594-7-4-98-100-5-2-414 118-10 0 14-25 16-39 12-52 0-24-202 59-38 15-75 36z"/><path fill="#463cde" d="M193 1035l807 0 0 585-99-98-5-3-426 119 18-38 13-40 11-58-2-10-214 61-103 52z"/><path fill="#4741e5" d="M193 1035l807 0 0 578-94-94-8-3-422 118-1-4 13-28 14-45 7-42 4-13 0-17-3-3-214 62-58 20-45 19z"/><path fill="#4747eb" d="M193 1035l807 0 0 569-87-87-10-5-425 118 25-73 10-55 3-28-3-1-227 65-93 40z"/><path fill="#484df0" d="M193 1035l807 0 0 532-80-53-14-7-423 119-3-3 18-46 11-52 8-48-1-12-233 66-90 44z"/><path fill="#4852f4" d="M193 1035l807 0 0 524-87-56-7 1-420 118-2-2 19-61 15-82 0-20-2-1-250 71-73 29z"/><path fill="#4758f8" d="M193 1035l807 0 0 520-87-57-425 120-1-8 16-50 15-83 1-20-1-8-2-1-236 68-87 36z"/><path fill="#465efb" d="M193 1035l807 0 0 500-82-41-5 0-423 119-2-3 15-50 16-83 2-20-3-16-232 66-93 22z"/><path fill="#4563fd" d="M193 1035l807 0 0 495-80-40-7 0-423 119 14-49 11-58 6-42-1-28-244 70-83 20z"/><path fill="#4269fe" d="M193 1035l807 0 0 481-82-31-422 119-3-1 0-5 11-38 15-83 4-52-3 0-252 73-75 19z"/><path fill="#3e6fff" d="M193 1035l807 0 0 478-74-31-10-1-420 119 24-123 1-32 4-15-2-12-3-1-232 67-20 4-75 25z"/><path fill="#3875fe" d="M193 1035l807 0 0 468-60-23-20-4-422 119 0-10 7-25 15-83 2-32 4-15-3-20-247 71-25 4-58 19z"/><path fill="#327cfc" d="M193 1035l807 0 0 465-74-30-426 120-1-5 21-108 2-30 4-17 0-25-3-2-257 73-73 25z"/><path fill="#2f81fa" d="M193 1035l807 0 0 462-70-31-4-1-423 120-2-3 20-105 1-30 4-17 0-35-258 73-18 2-57 12z"/><path fill="#2e87f7" d="M193 1035l807 0 0 447-60-20-12-2-422 120-3-8 18-95 1-30 4-17 2-42-72 19-190 55-73 16z"/><path fill="#2d8cf3" d="M193 1035l807 0 0 444-62-21-12-1-420 118-2-5 4-30 13-63 9-82-2-14-8 0-327 95z"/><path fill="#2b91ef" d="M193 1035l807 0 0 441-36-11-28-13-10 0-418 118-2-5 3-25 12-63 2-30 4-17 0-15 4-20-3-21-262 74-30 2-43 7z"/><path fill="#2797eb" d="M193 1035l807 0 0 427-67-17-425 120 1-25 12-63 2-30 4-17 0-15 4-20-1-28-17 3-247 71-73 12z"/><path fill="#259be8" d="M193 1035l807 0 0 424-67-18-423 119-2-5 1-15 13-63 1-30 5-17-1-15 4-20-1-36-254 73-83 16z"/><path fill="#23a0e5" d="M193 1035l807 0 0 416-54-15-13 0-423 119 0-15 12-63 2-30 4-17 5-78-270 77-33 3-37 7z"/><path fill="#20a5e3" d="M193 1035l807 0 0 413-50-16-12-2-425 120-3-10 12-63 2-30 4-17 0-15 4-20-1-18 4-20-2-12-253 72-87 20z"/><path fill="#1ca9df" d="M193 1035l807 0 0 410-50-16-14-3-423 120-2-6 11-63 2-30 4-17 0-15 4-20 0-18 4-20-3-19-243 70-40 9-57 18z"/><path fill="#18addb" d="M193 1035l807 0 0 407-60-21-7 1-365 104-55 14 2-23 7-40 2-30 4-17 0-15 4-20 0-18 6-40 5-4 139-36 5-5-1-4-428 122-65 4z"/><path fill="#12b1d6" d="M193 1035l807 0 0 392-50-12-12 1-422 119-1-18 8-40 1-30 5-17-1-15 5-20-1-18 4-20 1-17 3-5 144-38 7-12-1-5-427 122-70 10z"/><path fill="#08b5d0" d="M193 1035l807 0 0 389-47-15-10 1-425 120-3-13 4-12 6-58 4-17 0-15 4-20-1-18 5-37 6-5 142-38 11-19 0-5-16 1-420 122-12 1-10 5-45 8z"/><path fill="#01b8ca" d="M193 1035l807 0 0 374-47-5-17 3-418 118-2-8 7-37 2-33 4-17 0-15 4-20 0-18 5-37 5-5 143-38 12-21 2-6-2-2-25 2-480 138z"/><path fill="#02bac3" d="M193 1035l807 0 0 369-44-5-23 4-415 117 20-180 5-4 143-38 16-31-2-3-30 1-422 120-55 2z"/><path fill="#0bbdbd" d="M193 1035l807 0 0 368-52-9-428 121 0-20 4-18 1-30 4-17 0-15 4-20 0-18 6-37 4-4 143-38 23-41-1-4-45 7-415 120-55 4z"/><path fill="#19bfb6" d="M193 1035l807 0 0 366-42-12-10 0-428 121 5-63 5-17-1-15 5-20-1-18 6-37 21-9 126-33 24-42 3-12-17 5-31 3-140 43-247 70-62 15-23 2z"/><path fill="#24c1ae" d="M193 1035l807 0 0 363-40-13-14 0-423 119-3-10 4-14 1-33 5-17-1-15 5-20-1-18 6-37 21-8 126-34 24-40 8-16-2-2-53 7-413 118-12 1-45 12z"/><path fill="#2cc4a7" d="M193 1035l807 0 0 346-53-1-417 118-7 1 3-52 4-17 0-15 4-20 0-18 6-37 146-41 32-54 1-8-43 0-214 60-214 64-10 0-45 12z"/><path fill="#31c69f" d="M193 1035l807 0 0 343-42-5-12 2-420 119-3-2 3-45 4-17 0-15 4-20 0-18 6-37 146-41 32-53 4-11-2-5-47 1-425 122-55 2z"/><path fill="#37c897" d="M193 1035l807 0 0 341-24-4-16-4-10 0-424 120 0-41 4-17 0-15 4-20 0-18 6-37 146-41 6-7 41-72 0-5-43 10-17 0-427 122-53 6z"/><path fill="#3fca8e" d="M193 1035l807 0 0 329-50-1-422 120-3-13 2-23 3-15 0-17 4-20 0-18 6-37 146-40 6-8 41-70 5-12-50 8-18 0-416 122-61 11z"/><path fill="#4acb84" d="M193 1035l807 0 0 326-52-1-395 112-25 5-2-8 1-22 4-17-1-15 5-20-1-18 6-37 146-40 47-77 7-13-1-3-71 8-428 120-47 1z"/><path fill="#57cc7a" d="M193 1035l807 0 0 324-30-5-24 0-418 119-1-26 4-17 3-53 6-37 146-40 55-90-1-5-74 2-187 53-239 71-47 2z"/><path fill="#64cd6f" d="M193 1035l807 0 0 321-30-6-27 1-415 117-1-21 4-17 4-53 5-37 147-40 55-93-2-5-77 1-397 113-73 14z"/><path fill="#72cd64" d="M193 1035l807 0 0 316-27-7-23 0-420 118-2-15 4-17 3-53 5-36 147-41 47-75 10-23 12-18-90 10-293 83-110 35-70 14z"/><path fill="#81cc59" d="M193 1035l807 0 0 306-27-3-25 2-418 117-2-10 4-17 3-53 5-36 20-7 128-35 70-117-92 7-84 26-332 93-57 13z"/><path fill="#8fcb4e" d="M193 1035l807 0 0 298-50 1-420 118 2-37 8-74 20-7 128-34 48-77 10-21 13-20-1-3-30 3-68 2-333 93-87 27-12 2-35 9z"/><path fill="#9dc943" d="M193 1035l807 0 0 294-47-1-133 39-290 80 2-32 4-20-1-18 5-36 20-7 128-34 48-77 10-21 14-20 1-7 9-14 0-4-84 17-23 1-100 32-320 91-50 1z"/><path fill="#abc739" d="M193 1035l807 0 0 290-14-2-36 1-417 117-1-26 4-20-1-18 5-35 20-8 128-34 72-118 2-5 11-15 4-10-94 18-23 1-267 75-153 45-47 6z"/><path fill="#b9c431" d="M193 1035l807 0 0 284-24-5-23 3-150 45-267 74-3-1-1-20 4-20 0-18 5-35 19-8 128-34 59-98 26-38 6-12-1-5-64 8-31 7-20 0-107 35-313 88-13 1-27 9-10 0z"/><path fill="#c5c22a" d="M193 1035l807 0 0 280-22-5-18 1-424 119-3-15 4-20-1-18 5-35 20-7 127-35 60-98 32-51 0-6-67 6-33 7-20 1-387 108-37 12-43 9z"/><path fill="#d1bf27" d="M193 1035l807 0 0 270-40 0-150 45-274 76-3-11 4-20-1-18 5-35 20-7 127-34 59-96 27-40 9-20-13-2-7 3-103 4-114 37-313 88-40 8z"/><path fill="#dcbd29" d="M193 1035l807 0 0 266-40 0-422 119-2-1-2-4 7-73 21-7 126-34 59-96 29-43 7-13 0-7-43 3-80 1-353 99-77 24-37 0z"/><path fill="#e6bb2d" d="M193 1035l807 0 0 262-22-3-18 1-264 77-160 43 1-38 5-35 21-7 125-34 59-96 29-42 8-16 0-10 14-20-13 0-105 22-23 1-76 25-353 98-35 0z"/><path fill="#f0ba36" d="M193 1035l807 0 0 258-20-4-17 0-425 121-1-33 5-35 146-41 60-97 28-40 11-24 19-27 0-4-128 24-25 1-303 86-116 37-41 3z"/><path fill="#f8ba3d" d="M193 1035l807 0 0 254-17-4-20 0-251 72-174 47-1-27 6-36 137-37 10-4 58-96 28-39 11-23 11-15 11-20-13 0-50 8-69 15-24 0-19 7-398 111-13 1-30 7z"/><path fill="#febe3c" d="M193 1035l807 0 0 249-17-5-20 0-236 66-146 45-41 10-3-23 6-36 137-37 10-4 58-95 28-40 11-23 13-17 10-20-67 5-55 9-28 0-250 71-120 39-57 16-13 1-27 7z"/><path fill="#fec338" d="M193 1035l807 0 0 245-17-4-23 0-344 97-76 19-2-15 5-36 137-36 10-5 59-95 28-40 35-60-24-1-8 2-72 5-20 4-30 1-408 115-57 11z"/><path fill="#fec934" d="M193 1035l807 0 0 232-34 1-161 44-163 50-102 27-2-12 5-35 137-37 10-5 59-95 64-98 0-4-80 4-77 1-178 49-136 45-114 32-18 0-17 5z"/><path fill="#fccf30" d="M193 1035l807 0 0 229-37 1-423 117-1-5 4-35 137-37 10-4 59-96 64-98 0-8-55 5-105 1-420 117-40 1z"/><path fill="#fad62d" d="M193 1035l807 0 0 224-30-3-17 4-163 50-250 69 4-37 136-36 10-5 60-96 64-98 3-12 17-25-8-1-140 25-28 0-68 18-107 37-253 71-37 0z"/><path fill="#f7dc2a" d="M193 1035l807 0 0 220-30-2-17 3-410 115-2-6 3-23 136-36 10-4 60-97 65-98 5-12 19-28-1-3-152 26-30 1-365 101-63 19-35 5z"/><path fill="#f5e327" d="M193 1035l807 0 0 215-14-2-20 1-238 68-185 50 0-22 2-3 135-36 11-4 59-97 27-38 13-22 24-35 6-13 21-30-1-5-2-2-75 11-77 14-30 1-60 19-370 103-18 1-15 4z"/><path fill="#f5e924" d="M193 1035l807 0 0 206-36 1-242 68-134 41-42 12-3-13 3-8 137-36 9-4 58-96 28-39 12-22 13-15 18-33 21-30 0-10-14 0-90 10-55 9-27 1-235 65-18 7-8 1-65 20-15 7-92 28-17 0-13 4z"/><path fill="#f6ef20" d="M193 1035l807 0 0 203-37 1-410 115-7 0-2-7 2-4 134-35 12-6 58-94 30-41 10-20 14-17 19-33 20-27 5-15-20-1-90 10-55 9-27 1-430 120-33 1z"/><path fill="#f7f51b" d="M193 1035l267 0 16 62 2 18-5 5-45 14-205 58-30 0zM776 1183l22 87-1 7-3 3-38 14-206 58-4-1 0-7 144-38 10-11 53-86 20-26z"/></g>
<path d="M223 1180L223 1545L542 1707L973 1584M542 1707L547 1717M542 1707L536 1716M758 1646L763 1656M383 1626L377 1635M973 1584L978 1594M223 1545L217 1554M223 1545L213 1545M223 1432L213 1432M223 1319L213 1319M223 1206L213 1206" stroke="#585858" stroke-width="7.5"/>
<!-- F6 -->
<path d="M1642 1554L1642 1176M1987 1728L1642 1554M2436 1595L2436 1217M1987 1728L2436 1595M1867 1488L1867 1110M2211 1662L1867 1488M2264 1509L2264 1131M1814 1641L2264 1509M2091 1422L2091 1044M2436 1595L2091 1422M2091 1422L2091 1044M1642 1554L2091 1422M1642 1554L2091 1422L2436 1595M1642 1367L2091 1235L2436 1408M1642 1180L2091 1048L2436 1221" stroke="#dedede" stroke-width="6"/>
<path d="M1642 1554L2091 1422L2436 1595" stroke="#b4b4b4" stroke-width="7"/>
<path d="M2091 1422L2091 1044M1642 1176L2091 1044L2436 1217L2436 1595" stroke="#585858" stroke-width="7.5"/>
<g stroke-width="6" stroke-opacity="1"><path d="M2093 1620l-33 4-30 0-34-3-30-6-25-9-18-11-9-12-1-12 7-13 15-11 23-9 29-7 29-4 35 0 30 2 29 6 25 9 18 11 10 11 2 13-7 13-14 11-23 10z" stroke="#4741e5"/><path d="M2115 1638l-46 6-49 0-44-4-44-9-33-12-24-16-8-8-5-9-2-8 1-11 4-8 8-10 22-15 31-12 39-10 40-4 50-1 43 4 45 8 33 13 25 14 8 9 6 9 2 8 0 10-4 9-6 9-22 16-32 13z" stroke="#4563fd"/><path d="M2135 1652l-57 7-57 1-58-5-50-10-42-15-20-11-13-10-10-11-6-11-3-11 2-11 6-11 8-10 27-19 40-16 49-11 52-6 57-1 57 6 49 10 42 15 30 19 11 10 6 10 3 10-1 11-4 11-7 11-11 9-15 10-38 17z" stroke="#2d8cf3"/><path d="M2151 1663l-63 8-68 2-63-5-62-12-47-17-21-10-17-12-13-12-7-13-4-12 1-14 4-12 10-13 14-11 15-10 42-18 57-15 63-8 66-1 63 5 59 12 48 16 21 10 17 12 13 12 8 12 4 12 0 14-4 13-10 13-13 11-15 10-42 19z" stroke="#1ca9df"/><path d="M2188 1668l-40 8-46 6-51 3-46-1-49-4-44-7-42-10-38-13M1798 1633l-17-13-14-15-8-14-3-16 3-16 8-14 15-16 19-13 25-13 28-11 32-9 35-7 76-8 79-1 76 9 33 6 34 10 29 10 24 12 21 14 15 14 10 15 4 17-2 14-8 16-14 15-17 13-24 13-24 10" stroke="#0bbdbd"/><path d="M2107 1692l-56 3-53-1-51-5-53-8M2340 1547l6 12 2 10-1 21-12 21-22 21M1736 1601l-5-10-2-11 0-11 3-11 12-21 24-20M1963 1459l61-3 59 1 57 6 49 8" stroke="#4acb84"/><path d="M2066 1704l-70-1-70-6M2372 1563l2 15-3 14-6 14-11 14M1705 1586l-1-14 3-15 7-13 11-14M2006 1447l80 1 71 7" stroke="#9dc943"/><path d="M2035 1713l-85-4M2397 1576l-3 16-8 18M1681 1573l3-18 9-16M2038 1437l51 2 43 3" stroke="#e6bb2d"/><path d="M2008 1721l-38-2M2418 1586l-6 16M1660 1563l6-16M2065 1429l46 3" stroke="#fad62d"/><path d="M2436 1595l0 0M1642 1554l0 0M2089 1422l4 1" stroke="#f9fb15"/></g>
<clipPath id="cF6"><path d="M2432 1224l-12 27-25 45-52 80-29 39-37 45-45 45-40 32-45 28-35 15-45 10-20 0-10 3-7-3-23 0-35-8-28-10-30-15-27-17-36-29-58-57-49-63-25-37-48-95-1-8-14-27-3-15-12-28 1-2 2 1 13 20 50 53 37 27 26 12 40 11 30 0 24-6 28-10 20-14 5-1 23-17 36-39 8-6 20-29 6-5 16-27 7-5 57-100 10 20 1 10 14 27 4 15 11 20 4 13 11 20 6 15 12 17 3 10 30 45 31 36 17 15 18 10 30 11 25-1 27-10 36-26 30-35z" clip-rule="evenodd"/></clipPath><g clip-path="url(#cF6)" stroke="none" fill-rule="evenodd"><path fill="#422ec0" d="M1632 1033H2444V1601H1632z"/><path fill="#4332cb" d="M1612 1014l850 0 0 605-415 0-3-10 0 10-432 0z"/><path fill="#4537d5" d="M1612 1014l850 0 0 605-377 0-10-20-5-6-2 26-15 0-3-18-6-9-10 0-4 4-7 23-15 0 0-25-4-2-2 2-9 17 0 8-381 0z"/><path fill="#463cde" d="M1612 1014l850 0 0 605-329 0-19-37-2 0-3 12 4 25-12-28-7-4-10-1-7 5-7-3-11 3-5 10-6-10-4-2-10 0-10 6-10-6-22-2-10 2-8 6-4-7-12 31-346 0z"/><path fill="#4741e5" d="M1612 1014l850 0 0 605-325 0-16-35-7-6-7 3-55 7-52-2-46-7-4 5-16 35-322 0z"/><path fill="#4747eb" d="M1612 1014l850 0 0 605-308 0-20-43-4-2-56 9-42 2-45-3-47-9-5 3-21 43-302 0z"/><path fill="#484df0" d="M1612 1014l850 0 0 605-275 0-30-48-7-7-8 4-48 10-47 5-47-2-60-12-12 0-26 50-290 0z"/><path fill="#4852f4" d="M1612 1014l850 0 0 605-272 0-32-53-6-4-58 14-52 4-60-4-68-15-12 10-30 48-260 0z"/><path fill="#4758f8" d="M1612 1014l850 0 0 605-268 0-28-58-4-3-68 16-54 4-28-1-42-5-56-15-6 2-12 10-31 50-253 0zM2113 1461l17 8 19 2-32-11z"/><path fill="#465efb" d="M1612 1014l850 0 0 605-226 0-44-68-12-4-40 14-30 8-60 6-36-1-44-5-33-7-35-12-10-1-11 10-40 60-229 0zM2090 1449l12 10 30 12 28 5 17-2-23-12-17-6-43-9z"/><path fill="#4563fd" d="M1612 1014l850 0 0 605-216 0-49-74-10-4-45 17-32 8-70 6-70-6-36-7-40-15-10-1-24 26-37 50-211 0zM2074 1436l4 8 26 17 27 10 29 6 20-1 10-5-8-6-32-14-28-8z"/><path fill="#4269fe" d="M1612 1014l850 0 0 605-200 0-47-65-21-18-37 15-33 9-34 6-48 3-45-2-40-6-30-7-43-16-14 13-51 68-207 0zM2061 1429l16 15 26 17 27 10 27 6 23 0 14-4 9-4-23-16-48-17-45-7-23-2z"/><path fill="#3e6fff" d="M1612 1014l850 0 0 605-180 0-42-55-36-34-40 16-30 9-44 8-48 2-40-1-42-5-41-10-37-14-5 2-11 12-52 70-202 0zM1902 1441l-5 0-18 10 8 0zM2051 1419l6 10 22 17 23 15 28 11 27 5 23 0 18-3 15-8-3-5-20-14-18-8-22-7-43-10z"/><path fill="#3875fe" d="M1612 1014l850 0 0 605-172 0-2-8-42-52-17-18-7-2-15-12-43 17-30 8-34 6-58 4-48-2-50-7-37-11-35-12-5-4-5 2-68 67-17 24-165 0zM1922 1424l-35 12-22 13-7 7 12 2 20-7 24-16zM2043 1411l13 18 22 17 24 16 28 10 27 6 25 0 32-9 8-5 0-3-4-5-18-13-43-18-27-7-46-7-40-2z"/><path fill="#327cfc" d="M1612 1014l850 0 0 605-153 0-34-43-58-57-38 17-32 10-47 9-58 4-55-3-43-6-39-11-41-17-40 35-3-1 6-9 0-3-75 75-140 0zM1934 1413l-17 3-33 12-27 16-11 12 24 3 16-5 29-18zM2034 1401l8 13 14 15 21 17 25 16 30 11 25 5 25 0 34-9 14-10-13-16-13-8-24-11-28-10-55-10z"/><path fill="#2f81fa" d="M1612 1014l850 0 0 605-149 0-36-45-37-41-20-17-6 1-43 19-47 12-52 6-42 1-43-2-45-7-40-11-42-16-6 2-2-7-2-1-106 106-132 0zM1944 1402l-34 7-36 14-24 16-12 12-1 5 6 3 27 1 22-9 24-15 23-25zM2026 1394l6 10 22 24 23 18 25 16 30 12 26 5 24 0 35-10 21-13-1-5-6-7-20-15-14-8-40-14-60-11-60-4z"/><path fill="#2e87f7" d="M1612 1014l850 0 0 605-111 0-111-113-6-2-32 17-45 17-40 8-63 5-60-1-54-8-49-13-41-19-7 4-104 105-127 0zM1950 1392l-44 9-39 15-30 23-7 10 0 5 10 5 30 1 28-11 18-13 28-29 6-11zM2020 1386l4 10 33 35 45 32 30 11 28 5 22 0 15-3 33-12 12-8 3-5-5-11-23-18-27-13-63-18-33-4-72-3z"/><path fill="#2d8cf3" d="M1612 1014l850 0 0 605-104 0-118-119-43 21-57 18-43 6-60 3-43-2-57-8-45-11-50-22-115 114-115 0zM1959 1384l-9-1-56 13-34 15-23 15-14 18-1 7 15 8 33 2 19-7 28-18 28-30zM2012 1378l12 19 33 35 45 31 29 11 29 5 22 0 15-2 20-7 23-11 12-13-8-13-17-15-34-17-29-9-70-13-57-3z"/><path fill="#2b91ef" d="M1612 1014l850 0 0 605-100 0-116-118-6-4-43 21-55 17-42 6-63 3-53-2-57-9-35-9-50-23-5-1-118 119-107 0zM1964 1374l-54 9-28 8-30 14-20 14-8 8-8 14-1 8 8 5 19 7 28 0 20-7 27-17 27-29 18-25zM2007 1369l0 6 17 23 32 33 46 32 28 11 30 6 22 0 15-3 33-12 14-8 16-13-8-15-16-15-16-10-38-16-35-9-33-6-54-5z"/><path fill="#2797eb" d="M1612 1014l850 0 0 605-91 0-121-123-6-2-50 23-50 14-44 6-56 3-60-2-60-9-47-14-45-21-125 125-95 0zM1970 1364l-40 6-50 14-20 8-33 20-14 17-4 15 6 7 25 10 30 0 21-7 26-17 28-28 18-25 7-15zM2001 1364l6 12 17 23 32 32 46 32 28 11 30 6 22 0 35-9 25-12 18-13 5-7-7-15-18-18-27-15-41-15-50-10-44-5-66-1-10 2z"/><path fill="#259be8" d="M1612 1014l850 0 0 605-79 0-131-131-58 26-50 14-40 5-62 4-68-4-57-9-43-13-44-21-130 129-88 0zM1977 1356l-30 3-30 6-37 10-26 10-24 15-16 13-10 17-1 11 11 11 26 10 30 0 17-6 30-19 30-31 17-24 2-6 11-17zM1995 1354l11 22 18 23 31 32 47 33 28 10 30 6 22 0 35-8 26-13 19-13 9-12-5-13-16-18-28-16-40-17-42-9-56-8-57-1z"/><path fill="#23a0e5" d="M1612 1014l850 0 0 605-68 0-137-136-40 19-53 17-57 10-67 4-63-3-43-6-58-15-44-21-10-2-133 133-77 0zM1797 1434l6 10 11 9 26 9 30 0 17-6 30-18 28-29 19-27 16-28 4-5 10 7 10 19 18 22 33 34 22 17 25 16 28 11 27 5 23 1 37-9 27-13 18-12 15-18-8-18-17-17-25-14-37-15-36-10-47-7-50-4-40 0-75 7-55 13-27 10-26 12-19 15-13 15z"/><path fill="#20a5e3" d="M1612 1014l850 0 0 605-41 0-4-4 0 4-12 0-143-142-45 22-53 17-64 10-60 3-70-4-53-9-40-10-60-27-139 140-66 0zM1792 1429l2 7 10 10 11 8 22 8 33 0 17-5 30-19 27-28 20-27 17-29 3-2 9 4 14 23 48 52 22 18 25 15 38 14 17 3 25 0 35-8 27-14 18-11 19-19 2-5-9-20-17-16-23-14-37-16-45-11-30-5-42-5-80 0-58 6-45 10-25 7-40 18-22 17-13 16z"/><path fill="#1ca9df" d="M1612 1014l850 0 0 605-30 0-152-153-6-2-47 28-50 17-55 10-72 6-83-4-50-8-37-9-33-13-33-17-4 0-145 145-53 0zM1787 1424l3 10 12 12 12 8 23 8 33 1 17-6 30-18 29-30 38-57 8 4 12 20 18 21 35 36 45 32 38 13 17 3 25 0 35-8 45-24 21-20 5-10-8-20-23-21-30-16-25-10-70-17-52-5-56-2-87 8-71 18-34 15-20 13-20 22z"/><path fill="#18addb" d="M1612 1014l850 0 0 591-134-114-48-32-53 30-50 16-67 12-70 4-76-4-64-12-53-17-47-25-156 156-32 0zM1782 1419l2 7 7 10 23 19 26 8 32 0 25-11 20-13 30-31 37-55 8 4 12 20 48 52 25 20 25 16 28 10 27 6 23 1 37-9 27-13 19-11 21-20 9-15-8-20-14-15-21-15-36-17-32-10-50-10-50-5-58-2-74 6-46 8-42 13-35 16-29 21-12 17z"/><path fill="#12b1d6" d="M1612 1014l850 0 0 588-132-113-48-32-8 1-42 26-60 19-55 9-90 5-67-5-61-11-27-7-32-12-48-28-12 10-154 155-14 0zM1777 1409l2 12 8 13 14 12 13 10 26 8 32-1 25-11 20-13 30-31 37-55 8 4 12 20 48 52 25 20 25 16 28 11 27 6 23 0 37-8 27-13 19-12 23-20 11-15 1-5-4-15-17-20-25-18-32-15-46-14-54-9-86-5-37 0-50 6-43 7-51 15-29 13-30 22-11 15z"/><path fill="#08b5d0" d="M1612 1014l850 0 0 585-97-83-73-69-2 2 10 12 0 3-13-10-5-1-48 26-50 17-60 12-42 3-55 2-83-7-60-12-37-12-23-11-30-19-7-1-25 15-145 121-5 2zM1772 1409l3 10 13 17 24 19 28 9 32-1 25-10 21-14 29-30 18-25 17-29 5-1 5 3 12 19 20 25 30 31 22 17 26 16 28 11 27 6 23 1 37-8 45-25 25-21 10-13 6-12-3-14-7-11-21-20-26-15-36-15-33-10-43-7-54-6-66-1-82 8-60 13-28 10-24 12-32 23-13 20z"/><path fill="#01b8ca" d="M1612 1014l850 0 0 558-10-6-120-100-38-24-4 1-30 21-23 11-55 18-68 12-77 4-45-2-42-4-76-15-44-17-46-26-4 1-168 140zM1767 1401l6 18 14 17 13 12 14 10 26 7 30-1 20-7 28-18 29-30 19-25 16-28 5-2 5 4 12 20 20 23 30 31 23 18 25 16 28 10 27 7 23 0 37-7 27-14 20-12 30-29 13-17 1-8-4-12-6-10-21-21-25-15-38-16-27-8-23-4-14-4-68-8-50-1-82 5-68 14-42 14-29 14-27 20-12 17z"/><path fill="#02bac3" d="M1612 1014l850 0 0 555-138-115-27-15-7 2-35 23-31 12 0-2 40-23 23-20 25-32 0-8-4-15-8-12-18-18-38-20-50-18-77-14-70-5-93 5-52 9-52 14-43 20-20 15-13 13-10 21 0 20 9 15 16 20-13-2-26 15-46 35-84 71-8 4zM1818 1461l19 5 33-1 32-15 16-11 29-30 37-55 8 4 11 18 19 23 32 34 48 33 28 11 27 6 25 1 18-2 12-4 5 1-43 12-60 10-74 4-50-2-46-5-57-11-43-13z"/><path fill="#0bbdbd" d="M1612 1014l850 0 0 550-82-67-73-68-5 1-5 6-40 23-4 0 11-7 10-11 13-10 25-30 4-10 0-12-6-13-8-12-15-14-25-15-31-14-37-11-27-6-53-8-62-4-72 1-48 6-62 14-28 9-32 15-20 12-16 14-10 13-5 13-1 12 4 15 18 28-16 6-34 23-2-2 29-30 2-2-3 0-144 105zM1842 1469l4-3 26-1 28-13 19-13 29-30 36-54 8 4 12 19 20 23 30 32 21 16 39 23 26 8 33 6-46 9-45 4-42 2-56-2-80-12z"/><path fill="#19bfb6" d="M1612 1014l850 0 0 529-142-113-16-4-32 21 38-41 12-22-3-15-8-15-29-28 3-20 14-45 0-15-2-10-43 59-12 12-72-21-38-6-50-4-68-2-42 2-80 12-62-118-1 66 10 68-27 12-28 18-14 12-10 14-6 16 0 10 5 18 8 16-15 6-140 104zM1852 1469l20-4 15-6 32-20 29-30 36-54 8 4 12 20 20 23 30 31 20 16 28 18 28 11 20 4 4 4-47 7-97 3-88-9-40-9z"/><path fill="#24c1ae" d="M1612 1014l850 0 0 525-98-78-47-43-5 0-18 13-3 0 23-29 12-23-4-19-23-31 3-73-2-33-3-3-60 63-13 9-72-17-80-8-75 0-83 9-82-122-2 2-4 15-1 48-8 85-45 30-13 15-8 17-2 13 2 10 13 27-30 19-122 92zM1864 1469l23-9 32-21 29-30 36-54 8 4 11 17 18 23 34 35 47 33 43 17-78 8-65 0-75-8z"/><path fill="#2cc4a7" d="M1612 1014l850 0 0 504-132-99-16-5-15 10 29-43 2-12-7-23-13-17-5-38-5-75-3-5-85 71-58-14-54-7-40-2-73 1-57 7-66-96-32-42-2 4-6 41-7 65-12 62-28 19-15 14-8 9-7 16-1 20 9 25 0 7-143 105zM1875 1466l27-14 18-13 28-30 36-53 7 3 11 17 19 23 33 35 48 34 30 13-50 6-82 1-73-9-50-10z"/><path fill="#31c69f" d="M1612 1014l850 0 0 493-8-3-130-97-17 9-1-2 24-33 5-17-4-15-12-20-7-23-15-116-47 36-46 45-32-8-48-7-44-4-80 0-58 5-105-131-7-5-5 38-33 140-36 30-10 15-4 12-1 15 8 25-1 5-136 99zM1882 1464l38-24 29-31 35-53 3 0 34 43 33 35 20 16 47 29-77 5-47-1-87-11-27-6z"/><path fill="#37c897" d="M1612 1014l850 0 0 486-122-92-13-5-7 1 0-8 11-15 6-12 2-15-4-13-8-12-19-60-4-28-4-55-3-1-103 76-70-12-57-5-73 1-42 3-50-50-62-72-10-9-6 42-13 40-28 97-32 28-12 22-2 15 5 30-130 86zM1889 1461l31-21 27-29 37-55 3 0 34 43 33 35 20 16 37 24-9 2-32 3-68 0-90-10-22-5z"/><path fill="#3fca8e" d="M1612 1014l850 0 0 467-119-80-11-6-11 4 19-31 3-9 0-10-6-18-17-38-13-38-6-49-1-20-6-15-55 38-49 42-63-10-63-4-50-1-54 4-76-76-54-50-6 45-52 135-25 23-12 22-3 15 3 27-123 82zM1894 1459l26-19 27-29 37-55 3 0 33 43 34 35 49 37-36 4-67 0-83-9-23-5z"/><path fill="#4acb84" d="M1612 1014l850 0 0 462-115-80-19-5 16-31 3-19-12-32-28-60-3-18-5-65-2-2-115 79-42-8-70-6-100 2-23-22-65-53-42-38-10-7-3 7-4 41-58 132-22 20-12 20-3 15 3 28-51 27-68 43zM1901 1456l19-15 29-32 34-50 4-2 33 42 32 34 43 33-1 3-82 2-70-6-38-6z"/><path fill="#57cc7a" d="M1612 1014l850 0 0 459-110-83-16-6 14-33 1-15-7-22-14-23-23-47-5-40-2-40-3-4-69 46-51 28-70-11-33-2-57 0-40 3-50-38-95-79-5 7-2 32-5 19-61 121-19 18-11 17-4 15-1 27-112 78zM1906 1454l44-45 33-50 4-2 33 42 32 34 38 31-53 3-57-2-38-4z"/><path fill="#64cd6f" d="M1612 1014l850 0 0 439-105-69-16-8 13-30 1-17-6-18-42-71-10-99-72 43-53 41-48-7-57-4-80 1-6-1-6-10-39-38-106-90-3 5 2 25-5 40-4 16-23 42-33 50-16 32-23 28-4 15-1 26-73 56-35 25zM1911 1449l9-7 30-33 33-50 4-2 33 42 32 34 31 26-1 2-30 1-68-1-72-9z"/><path fill="#72cd64" d="M1612 1014l850 0 0 431-101-66-16-5 2-10 11-23 0-20-9-22-42-63-4-30-3-65-3-3-114 66-16 13-53-7-50-3-72 0-162-134-3 0 0 33-7 53-45 75-33 48-12 13-12 21-4 30-102 51zM1916 1446l34-37 34-50 3-2 35 44 30 33 15 11 7 11-44 2-46-1-62-8z"/><path fill="#81cc59" d="M1612 1014l850 0 0 423-98-64-15-7 13-32 1-15-3-13-38-50-15-23-4-29-3-65-3-4-70 41-65 31-102-8-63 0-73-52-96-76-2 5 0 33-9 49-45 73-34 45-16 18-9 20-2 22-99 57zM1922 1444l3-8 26-27 33-50 3-2 34 44 31 33 15 12 3 5-26 3-54-2z"/><path fill="#8fcb4e" d="M1612 1014l850 0 0 415-95-64-13-6 12-33 0-17-4-10-30-33-24-35-4-25-4-67-3-25-97 57-43 29-70-8-85 0-9-8-103-70-60-44-5 4 1 35-6 27-106 160-5 15-2 17-55 36-40 24zM1925 1439l26-30 33-50 3-1 33 42 45 46-11 3-57-1-70-7z"/><path fill="#9dc943" d="M1612 1014l850 0 0 405-102-68 10-32-1-18-19-30-43-54-3-13-4-94-128 66-20 16-58-7-87-1-9-13-24-22-140-103-1 3-1 17-7 8 0 35-5 22-80 120-24 28-9 18-4 22-47 17-44 22zM1929 1436l38-50 17-28 3 0 33 42 38 41-1 3-83-1z"/><path fill="#abc739" d="M1612 1014l850 0 0 397-98-64 0-6 10-27-1-18-66-81-3-9-4-75 2-22-2-2-153 77-63-6-70-1-10-11-42-32-130-94-2 4-1 22-5 8 1 35-5 17-81 108-29 43-7 14-3 20-88 44zM1934 1431l34-45 16-27 3-1 15 21 50 60-68 0-50-6z"/><path fill="#b9c431" d="M1612 1014l850 0 0 390-94-63 9-30 0-20-68-75-4-10-4-75 2-22-3-7-6 0-150 73-42-4-10 2-10-3-62-1-48-30-58-44-82-57-3 1 0 25-5 10 0 32-4 15-113 148-8 17-4 18-34 22-49 25zM1938 1426l30-40 3-7 13-20 3-1 60 76-3 2-52-1-54-6z"/><path fill="#c5c22a" d="M1612 1014l850 0 0 382-90-59 9-33 0-15-74-78-6-80 1-45-132 64-30 19-36-5-12 1-10-2-58-1-12-11-102-63-78-52-2 0-2 28-4 10-2 39-8 11-70 82-26 35-19 30-7 26-80 38zM1942 1424l17-28 9-10 3-7 16-21 55 71-5 2-90-4z"/><path fill="#d1bf27" d="M1612 1014l850 0 0 369-84-54 7-33-1-12-77-74-4-54-1-37 3-30-2-8-123 54-26 13-17 13-33-4-10 1-12-3-52-1-144-85-54-37-2 1-2 6 0 25-5 10-1 36-119 141-10 20-6 17-17 5-58 23zM1946 1419l14-23 8-10 3-7 16-20 51 65-1 2-60-1-31-4z"/><path fill="#dcbd29" d="M1827 1014l0 50-4 10-1 32-2 6-83 96-42 43-11 29-8 6-64 26 0-298zM1854 1014l608 0 0 351-78-47-1-7 6-25-2-9-80-69-5-77 2-53-12 4-160 70-28-3-64-2-8-3-14-13-64-50-97-63zM1950 1416l10-19 27-38 46 60-1 2-8 1-60-3z"/><path fill="#e6bb2d" d="M1826 1014l1 50-5 10 0 32-2 5-66 72-62 62-11 29-69 33 0-293zM1856 1014l606 0 0 344-72-47-3-7 5-23-2-7-70-55-13-13-5-77 4-43-2-17 3-13-177 88-88-3-110-77zM1954 1411l6-13 27-39 43 57-73-2z"/><path fill="#f0ba36" d="M1826 1014l0 50-4 10-2 35-130 131-13 26-65 30 0-282zM1857 1014l605 0 0 338-70-47-1-6 4-18-3-9-83-66-4-30-2-57 9-77-170 83-15 12-83-4zM1956 1406l16-27 15-20 38 52-63-1-5-1z"/><path fill="#f8ba3d" d="M1825 1014l1 47-5 15-1 31-76 67-56 55-14 29-22 3-40 13 0-260zM1859 1014l603 0 0 331-65-45-3-4 5-25-2-6-34-34-51-40-5-7-3-28-1-40 5-45 6-32-150 64-44 27-73-5-94-51zM1959 1404l13-25 15-19 27 36 6 10-3 2z"/><path fill="#febe3c" d="M1824 1014l2 50-5 12-3 30-123 108-14 15-9 21-60 20 0-256zM1865 1014l597 0 0 310-61-30-2-5 4-23-2-5-37-32-52-40-5-6-3-27 0-40 5-45 8-34-10 2-75 32-115 52-65-5-15-10-112-57zM1962 1399l8-13 3-7 14-19 25 34 3 7-3 2-28-1z"/><path fill="#fec338" d="M1824 1014l1 50-5 12 0 25-3 5-126 105-15 15-6 15-58 26 0-253zM1910 1014l552 0 0 301-58-35 1-16-1-5-92-72-5-6-3-25 0-40 4-37 10-40-1-4-160 67-43 13-57-4-47-35zM1967 1394l6-15 14-19 25 36-2 2-42-2z"/><path fill="#fec934" d="M1823 1014l2 47-7 20-1 21-72 62-55 43-18 16-8 13-52 24 0-246zM1913 1014l549 0 0 293-52-32-4-19-92-68-7-9-3-63 5-37 10-40-2-6-77 31-128 43-50-3-8-7-35-18zM1987 1361l19 28 1 4-36-2 3-12z"/><path fill="#fccf30" d="M1823 1014l2 50-8 15-57 47-90 89-8 14-8 1-42 21 0-237zM1917 1014l365 0-2 4-66 26-95 47-9 8-6 1-40-4-4-5-83-42zM2323 1014l139 0 0 279-48-24-4-14-28-18-72-57-5-24-1-40 7-45 9-32-2-10zM1987 1361l17 28-17 0-13-3 0-7z"/><path fill="#fad62d" d="M1612 1231l0-217 211 0 1 47-7 16-125 104-26 25-6 16-20 2zM1925 1014l354 0-12 6-106 41-47 23-7 7-7 1-30-2-8-7zM2326 1014l136 0 0 272-45-25-4-7-1-10-15-15-39-30-48-32-3-4-2-34 2-33 13-57 0-10zM1987 1362l10 16 1 6-21 0-3-2z"/><path fill="#f7dc2a" d="M1612 1227l0-213 210 0 2 47-7 14-143 116-12 13-5 9zM1944 1014l333 0-53 21-101 36-23 13-28-1-8-7zM2327 1014l135 0 0 269-41-24-4-5 0-11-40-33-67-45-3-4-2-40 2-25 14-57 0-8zM1987 1362l7 13 0 5-14-2 0-5z"/><path fill="#f5e327" d="M1612 1222l0-208 209 0 2 47-6 13-145 115-18 16zM1996 1014l278 0-77 30-100 33-23-2-21-21zM2328 1014l134 0 0 256-38-19-7-12-39-30-66-44-5-6-1-40 2-23 14-65zM1987 1363l5 11-10 0 0-4z"/><path fill="#f5e924" d="M1612 1215l0-201 209 0 2 47-6 12-70 56-77 53-18 16zM1999 1014l271 0-103 38-37 12-33 6-17-3zM2329 1014l133 0 0 242-30-15-12-4-112-78-2-40 3-23 14-65z"/><path fill="#f6ef20" d="M1612 1204l0-190 208 0 2 47-5 10-73 55-77 51-15 14-12 2zM2003 1014l180 0-9 6-72 36-8 6-10-1zM2330 1014l132 0 0 233-28-13-13-3-112-72-2-28 2-35 15-65z"/><path fill="#f7f51b" d="M1612 1184l0-170 207 0 2 47-7 10-167 114zM2012 1014l155 0-77 41zM2332 1014l130 0 0 225-32-15-120-82-2-23 5-38z"/><path fill="#f9fb15" d="M2028 1014l123 0-61 31z"/></g>
<path d="M1642 1176L1642 1554L1987 1728L2436 1595M1987 1728L1992 1738M1987 1728L1981 1737M2211 1662L2216 1672M1814 1641L1808 1650M2436 1595L2441 1605M1642 1554L1636 1563M1642 1554L1632 1554M1642 1367L1632 1367M1642 1180L1632 1180" stroke="#585858" stroke-width="7.5"/>
<!-- F7 -->
<path d="M3063 1559L3063 1164M3433 1744L3063 1559M3895 1606L3895 1211M3433 1744L3895 1606M3180 1524L3180 1129M3549 1709L3180 1524M3802 1559L3802 1164M3339 1697L3802 1559M3297 1489L3297 1094M3666 1674L3297 1489M3708 1512L3708 1117M3246 1651L3708 1512M3413 1454L3413 1059M3783 1639L3413 1454M3615 1465L3615 1070M3153 1604L3615 1465M3063 1559L3525 1421L3895 1606M3063 1454L3525 1315L3895 1501M3063 1349L3525 1210L3895 1395M3063 1244L3525 1105L3895 1290" stroke="#dedede" stroke-width="6"/>
<path d="M3063 1559L3525 1421L3895 1606" stroke="#b4b4b4" stroke-width="7"/>
<path d="M3525 1421L3525 1026M3063 1164L3525 1026L3895 1211L3895 1606" stroke="#585858" stroke-width="7.5"/>
<g stroke-width="6" stroke-opacity="1"><path d="M3630 1658l-5-3zM3714 1633l7-2zM3576 1670l-3 1zM3654 1648l-2-2 8-2zM3608 1658l-3-2zM3530 1675l-2-1 5 0zM3559 1667l-3-1 6-1zM3628 1645l-8-3zM3671 1633l-5 1 2-2 3 0zM3496 1680l-8-2 0-1 9-2 15 2zM3568 1661l-3-2 4-1zM3602 1650l-4-2zM3679 1626l-4 1 0-3 6 1zM3734 1609l-1 0zM3571 1656l-6-1 7-2zM3603 1644l-10-2 2-2 8-1zM3634 1637l-13-3 1-3 8-1 2 0zM3644 1631l5-3 6 0-2 2zM3680 1621l-3 0 0-1zM3743 1603l-1-1zM3537 1662l-4-2zM3550 1657l-32-1 0-4 7-2 31 3 0 2zM3572 1651l-5-2zM3584 1646l-4 0-2-3 4-3 4 2zM3706 1612l-8-1 5-2zM3716 1606l-7-4 6-1zM3488 1671l-4-1 0-1 4 0zM3571 1645l-24-3-2-3-12-6 0-1 9-1-8-3-39-1 4-6-13-5 1-2 17 1 9 2 2 4 13 0 36-2 5-5-8-7 0-4-11-2 5-3 6 0 9 6 0 5 6 3 0 4 3 4-7 3-11 0-5 4 1 8 7 1 5-3 8 1-2 2-8 1 6 7zM3602 1639l-11-6 8-2 6 3 5 2zM3635 1627l-19-1 15-7 6-8 9 2-7 4 0 6zM3655 1620l-2-1 5-1zM3670 1616l-6 0 9-2zM3453 1676l-1-1zM3546 1649l-6 0 0-2 6 0zM3660 1617l-7-2 1-1 4 0zM3679 1610l-3-2 7-2zM3699 1603l-3-2 4 0zM3733 1592l-4 1zM3455 1671l-3 0-2-2 7 1zM3476 1665l-3 0zM3490 1661l-2-1 6-6-7-3-3-5 1-3-22-1-12 10-7 2-20-1-6-3 1-2 13 2 13 0 1-9-5-3 0-2 9-1 5-5-12-1-5-5 21 0 7 3-4 3-2 5-7 2 1 2 6 1 7-2 1-5 32-3 6 3 11 1 4 3 8 2 0 2-3 4-10 6-9-1 2-2 7-2 4-4-9 1-14-1-2 7 8 7zM3686 1602l-4 0 1-2 4 1zM3600 1626l-8-1-4-5 12 2zM3609 1619l-19-4 19-7 7 0 0 3-9 2-2 3 16 0-2 3zM3658 1605l2-10-6-2-47-4-5-3-1-4 17 3-1-4-6-2-2-4 2-5-9-2-8-7-9-2 3-5-3-3 6-2 22 7-1 3-7 4 19-3 1-4-1-2 9-1 4 0-3 5 14 1 2 2-5 4-13-1 1 3 12 2-1 6-14-1 2 3 11 1 1 3-12-1-2 2 2 4 7-2 11 1 7 7 17 4 0 6-5 2zM3688 1597l-4 0 1-1 9-2zM3709 1591l-6 0 2-2 9-1zM3431 1670l-6 0-3-4zM3570 1628l-3-2zM3455 1660l-6-1-2-3 7 1zM3475 1653l-11-3 0-3 13-1-3 5zM3512 1640l8 2 0-5-8 1zM3635 1605l-24 0 0-4 2-2 13-5 6 1-3 5 15 0-1 3zM3683 1589l-16 0 0-5-13-9 5-3 4 0-1 5 9 2 17-1 6 5zM3415 1662l-6-1 4-1zM3492 1637l7 0 1-3-9-1zM3549 1617l-5 0-1-5 2-2 7 0 6 3-2 2zM3583 1606l-3 0 1-5-4-3 7-2 3-4 16-2-4 7 1 7-12-1zM3695 1573l-5-3 1-2 4-1 8 2zM3529 1618l-5 0-2-3 16-1-2 3zM3589 1599l-1-1zM3395 1653l-2 0 4-5 7 2zM3432 1643l-13-1-6 3-13 1 8-4-1-2 5-6-16 0-2-4 1-5-10 0-21 5 4-2 1-5 13 0 12-2 3 4 10 0 0-3-18-4 1-2 17-3-8-2-22-1-9 1-20-3-4-3-15 0-5-3-1-3 18-2 9 1-5 7 9-1 14-4 2-3-7-2-16 0 4-4 13 1 14-2-3 6 1 4-1 4 19 3 5-3 6 1 2 3 8 2 3 4 16 2 5-9-1-4-9-1-5 3-9 1-2-4-13-1-4-3-1-4 1-3 40 0-3 5 4 3 13 5 15-1 4-3 21 6 0 4-12 0-1 0 0-5-9 0 1 3-4 5 14 1 0 2-6 3-31-5-3 5-25-2 1 7 11 1 5 3 1 3-20-4 3 6 12 5zM3484 1629l-6-2 5-3 5 0zM3552 1608l-5-1-1-2 6 0zM3538 1606l-7 1 4-2 5-1zM3671 1566l-3-1 6-1zM3528 1607l-24-1-8-6 0-3 14 1 0-3-4-3-7 0-13-3 1-8 21 1 0 4-14-2 1 3 24 1-2 5 16 5-6 3-13-1 2 3 11 1zM3568 1593l-6 0 0-4 3-3 14 2-3 3zM3622 1575l6-2-1-4-7 0-3 3zM3584 1584l-18-1 21-11-18-3-14-1 0-4 32 5 13 4-1 2-14 4zM3557 1588l-6 0 2-2zM3375 1637l-3 0-2-3 8 1zM3536 1589l-3 0-12-6 0-2 16 2 4 3zM3452 1608l1 1zM3559 1578l-30-2 0-2 12 0 1-5 8 1 3 4 7 2zM3484 1596l-8 1 1-5 8 2zM3638 1550l-4-1 1-1 3 0zM3354 1632l-6-1 1-2 7-2 4 2zM3465 1598l-7-1 2-2 4 1zM3651 1540l-6-3zM3466 1593l-6 0 2-2 4 0zM3520 1575l-10 0-5 4-10-1 2-3 8-2 3-4-1-6 14-7-18-1-3 4-23 2-6-3-1-2 7-3 0-2-4-3-1-8-11-2 4-2 7-1 1 4 7 3 0 4 6 3 5 0 1-2-5-3 1-2 17 1 12 5-1 5 7 1 6-3-3-5 6-5 12-1-6 5 0 2 6 2-2 3-4 4-7 2 2 4-1 2-12-1-4 4zM3571 1561l-21-4 10-3-10-2 0-12 19 2 1 2-7 2-1 2 7 3-2 5 4 3zM3620 1546l-5 0 0-2 6 0zM3325 1629l-1-1 11-3zM3455 1593l-9-1-3-4 0-8-4-4 1-2 21-12 8 1 4 5-9 5 7 3-1 8-16 3zM3546 1565l-7-1 0-2 6 1zM3409 1599l3-1zM3483 1579l-4-1zM3584 1551l-10-2 0-3 7 1zM3595 1545l-5 0-1-3 11 0zM3315 1624l-4 0zM3456 1580l7 0 0-2-7-2zM3499 1570l-8 0-7-3 10-5 6 0zM3610 1536l-5 0 1-2 6 0zM3330 1614l-5 1 9-3zM3436 1583l-20 0 2-3 20 1zM3583 1539l-16-1 0-1 8-2 4-3 20-4-1 2-13 4zM3335 1611l-6-2-2-2 6 1zM3402 1588l-18 0 2-2-1-2 1-3 19 1 8 2-1 4zM3618 1523l-1 0zM3556 1537l-1 0zM3300 1610l-5 0-2-3 10 1zM3315 1606l-8 1-1-5 9 3zM3429 1574l-22 0-5 4-9-1-3-4-1-4 3-2 15 2 4-9 11-1-4-3-26-1 9-7-22 1 6-8 24 1 18-2 1-5-13-1-3-2 5-3-5-7-14-1-3-3 12 0 3-4 7 2 0 2-3 3 10 0 1-5 5 0 12 1-2 5 13 3 10-1 8-2-4-3-17 0 0-2 7-2 1-3-7-2-2-4 16 0 5 3 16 0 8 6-6 4-9 2 1 3 15 4 15 0 8 2-1 4-23 0-4 3-9 0 3-5-13 2-10-5-25-2-7 2 27 6 2 3-15-2-7 2-1 8 10 3 4-3-7-2 1-2 6 0 12 5 4 6-11 0 3 7-10 1-5 3-21 1-5 2 0 3 12 1zM3498 1550l6 0 1-2-6-1zM3560 1533l-26 1-5-3-1-2 15 1 1-3-12-1 12-6 19 1 2 3-8 2-4 3 8 2zM3579 1526l-3 0 0-2 9 0zM3338 1596l-9-5zM3375 1586l-11-1 3-3 8 0zM3520 1541l-5-1 0-1 6-3 4 1 1 1zM3353 1587l-5-1 1-2 3 0zM3371 1579l-8-2-3-4 8 2zM3431 1561l6 0 1-2-7-1zM3319 1592l-7-4-2-4 0-2 6-3-1-6 6-3 0-5 11 0 15-4 1-2-12-1 1-2 24 1 2-5 23 4 4 4-8 6 1 2-11-3 0-3 10-5-15 3-12-1-2 7 5 3 2 4-14-1-5 9-6 2-13-1 0 3 7 2 0 4zM3354 1581l-5 0 1-2 4 0zM3306 1591l-4 0-1-3 9 0zM3426 1553l8 1-1-3-9-6-10-1 4 7zM3521 1525l-16 0 0-2 3-3-1-2 14-2-3 5zM3558 1510l-4 1zM3272 1591l-2-1zM3324 1575l7 0 6-4-12 1zM3541 1512l-18-1-1-4 3-3 5 0-1 5 6 0 2-4 6 0 6 6zM3560 1505l7-3zM3274 1586l-5 1zM3295 1580l7-3zM3254 1588l-1-1zM3304 1573l-3-1zM3284 1574l-21-3-5-4 7-1 22 4 1-2-4-5 5 0 18 4 0 2-13-1-2 5zM3326 1562l-2-1zM3368 1549l-5-4 2-3 10 0zM3502 1510l-4-2 4 0zM3543 1496l-7-2 2-1zM3307 1563l-6 1 7-6 2-4 7 1-2 7zM3353 1553l-16-3-12 2 4-5-9-2 0-3 13 1 0-2-9-3 8-1 1-5 11 1 0 9 12 6zM3397 1535l-13 0-1-4 1-2 8 3 16 0zM3472 1513l3-1zM3524 1498l-14-1 14-4 1 4zM3493 1505l-7-1 3-6 5-4 12 0 4 3-12 0zM3246 1572l-2-1zM3275 1564l-8 1-13-5 3-1 6 3 6-1-5-4 3-2 13-3zM3317 1551l-5 1 2-2 3 0zM3373 1535l-7 1-4-4-14 0 3-3 24-1zM3444 1514l-5 0-6-3-1-2 14 3zM3477 1503l-2-1zM3299 1554l-22-5-12-1-15 4 3-5 11 1 6-3 9 3 25 2 0 1zM3389 1526l-17-1-1-2 20 1zM3234 1566l-1-1 8-1zM3313 1544l-5 0 1-2 4 0zM3515 1482l-4 1 2-2zM3301 1544l-5-1 1-2 4 1zM3313 1538l-7-3-1-4-12-1 7-2 5 1 5-3 14 4 0 3-9 1zM3359 1528l-16-3-10 2-12-5 1-2 8-1 8 3 24 1zM3460 1494l-1 0 2-1zM3482 1488l-13-1-8 2 6-2 1-5 15 0 4 3zM3365 1520l-17-2 0-1 13-3 5 4zM3428 1501l-33-1-4-7 28 0-1 4 10 2zM3448 1494l-2 0zM3296 1535l-3-1 4 0zM3386 1508l-10 0-6-3 11-1 7 2zM3226 1551l-7-4zM3309 1525l-7-2 0-1 4 0zM3361 1506l-7-3 9 2zM3432 1486l-3-2 3 0zM3278 1527l-7-4 8-2zM3335 1510l-3 0 3-1zM3363 1496l7-2z" stroke="#484df0"/><path d="M3709 1658l-3 0zM3555 1699l-3 0zM3584 1691l-3 0 0-5-6-3-23-2-12 5 0 5-8 1-5-3-3 0-3 4-16-2-17 1 0-4 8-2 13 1-3-5-20-1 1 6-22 3-15-5 3-3 13 0 0-2-23-4-6 8 12 1 0 6-10 2 1-5-8 0-2 4-11 2 0-4 17-14-9-2-4 4-6-1-9-6 10-2 0-1-9-3-13 0 12-6 1-7-10 2-9 7-9 0-3-4-6-2 3-6-25-10-4 0 1 5 9 2 8 7-8 2-12 0-22-3 4-6 6-3 0-5 9-10-12 3-4 3-3 0-6-7-15 0-8-3-4 3-5 0-19-3 10-4 48 2 3-3-11-1-5-3-24-2-3 0-4 4-12-3-15 0 5-3 12 1 6-3 1-2-12-1 0-2 28-1 10 3 2-7-33-3-5 3-7 0-3-8-7-2-2-4-7-3-13 0 5-6 22 2 4 3 9 2 3-4 8-2-1-1-7-3-3 4-9 0-5-3-16-1-7 2-7-1 6-5 1-2-10-6 0-2 9-1-2-3-19-8 0-4 6-4 1-5 15-3-5 8-7 2 9 5 10 1-3 5 8 1 0-5 17-3 4-4 12-1-6-2 4-6-17 0 0 6-13-1 1-5-10-2 3-1 0-6 13 1 2-5 21 0 18 3 7-2 5-4 9-1 5-3 10 0 5-9 7-2 22 0-2-4-8-1-5 3-6-1 0-2 34-5-5-6 1-2 13 1 0-6 7 1-2 10 17 0 16-3 1-3-13-1-1-2 13 0-7-9 10-6 7 2-1 5 5 7 18-1-1 5 2 4 10-2 1-5 12 0 3-1-5-3-25-2-2-3 27 3 19-2 6 1 0 5 33-1-4 7-34 5 1 3 17 1 3-4 17 3 4-10 18 6 12 1 0 3-13-1-5 3-2 5 5 2 21-1 3-1-5-2-1-3 9 0 1 4 15 5 3 4-5 3-1 5-8 2 1 2 11 6 13-1 0-5 14 2 0 5 8 6 8 3 11-2-1-1 2-4 5 1 3 3-2 1 11 2 0 2-5 3-8 1-1 2 28 5 18-1 15 5 6 6-7 3-3 8-8 4 12 1-1 8-8 2 0 2 20-3 4-4 10 1 4 3 16 5-5 4-6-1-4-3-9-1 1 7-7 3 4 3 23-2-5 3-1 5-17-3-2 2 6 3 0 3-10 0-4-3-13-1-7-2-15 0 40 10 6 3 3 3 13 1-1 6-22 1 7 3-17 3-2 2 13 0 1 4-3 1 4 5-7 1-2-4-19-6 0 3-3 2-4 9-16-3-4 4-7 2-10-1-11-6-16 0-1 1 9 2 2 3 10 6-4 7-13 3-11-1 1-5-38 1-6 2 1 6-7 2 0 4 21-2-8 7 0 4zM3605 1684l-3 0 0-1zM3633 1676l-7 1 2-3zM3682 1662l-5 0 2-2 4 0zM3744 1642l-2-1zM3528 1702l-24-1-10-2-6-5 11 3 28 1zM3556 1694l-8-2 1-5-2-3 14 4 3 3zM3613 1678l-5 0-4-3 1-7 6 0 5 3 1 4zM3787 1625l-7-3 3-1zM3632 1666l4 1 1-2-5 0zM3633 1662l4-2zM3764 1624l-4 0-1-2 6 0zM3663 1648l22-2 10-8-19 2 0-5-10 2-2 2 7 2-1 3zM3707 1635l-2-4-8-1 0 3zM3785 1612l-3-1zM3529 1684l9 1-2-3 0-5-14 0zM3552 1677l12-2 0-2-3-3-12-2-3 6zM3754 1619l-6-1 1-7 11 0 7 2 2 2-13 0zM3466 1699l-2-1 5-1zM3566 1668l6 0 2-2-6 0zM3587 1662l14-2-2-2-21-4 2 6zM3705 1627l9 0 0-3-7-1zM3720 1622l9 1-1-3-6 0zM3781 1605l-23 1 0-2 21-6 5 1zM3597 1655l4-2-5-1zM3633 1644l3 0 3-2-18-5 0 1zM3677 1631l8-2 3-2zM3652 1634l7-1 7-4zM3695 1621l6-1 0-5-14-1 2 4zM3522 1668l13-1-4-3zM3545 1661l6 2-3-3-4 0zM3579 1651l13-1-2-2-14 0zM3608 1642l5 2-1-3zM3663 1626l5 0 0-2-5 0zM3476 1677l3 1 0-2-4 0zM3503 1669l5 1 0-2-7-3-11 1 2 2zM3560 1652l3-1-8-2zM3722 1604l3 0zM3590 1639l2-1-6-3-2 0-2 2zM3457 1674l6 1 16-3 1-5-10 1zM3647 1617l2-1zM3715 1597l6 0 0-2-6-1zM3762 1584l-7 1 4-3 7-1zM3650 1612l9-1-1-2-14 0zM3717 1592l12-2 3-3-8 0zM3400 1683l-15-1 8-3 2-4 8 2 2 3zM3474 1660l10-3zM3587 1626l-1-1zM3629 1613l2 0zM3434 1667l4-1 2-5-14 0-4-3-5 0zM3447 1664l6 1-7-4zM3533 1638l-5-3zM3685 1592l3-1zM3747 1576l-19-1-2-9 21 8zM3761 1572l-5-1 3-1zM3478 1650l2 0zM3674 1591l5 2-3-3zM3399 1671l-7 0 2-2 4 0zM3696 1580l5 1 1-3-7 0zM3386 1670l-12-2-2-4-9-2 2-2 7-1 1 4 11 2zM3652 1580l3 1zM3700 1565l4 1 2-2-6 0zM3667 1571l6 2 2-5 16-3 0-5 7-3 0-4-29-1-11-5-13 0-1 4 27 5 16 0 3 3-10 1 2 6-7 2-11 0zM3348 1662l-2-1 10-1zM3444 1633l2 0zM3651 1571l9-3 4-5 9-1 3-3-8 0-4 4-9 1-4 3zM3405 1636l2-1zM3377 1640l6 1 2-4zM3652 1557l2 0zM3598 1569l-4-2zM3639 1557l3-1zM3697 1540l-2-1zM3313 1651l-6-4zM3374 1632l3-1zM3679 1542l-6 0 1-2 6 0zM3346 1636l6 0 0-2-6-1zM3426 1612l-3-4-3 1zM3628 1551l-4-3zM3317 1641l-4 0-5-4 15 1zM3364 1626l2-5 8-3-19-3-8 2-14 0 3 4 7 0 5-4 11 1-1 4-6 3zM3384 1620l2-1-3 0zM3624 1548l7-2zM3681 1532l-4-2 5 0zM3391 1613l3-1zM3629 1542l4-1-4-3-16 0 2 4zM3299 1638l-4-1-1-1 6 0zM3313 1634l-6 0 1-3 7 0zM3597 1547l3 1 0-2zM3389 1605l1-1zM3341 1610l3 0-4-2zM3587 1536l4 1 1-2zM3600 1533l11-4-4 0zM3321 1612l4-1-5-2zM3633 1519l-5 1-5-3-9-1-10 0-2 5-7 0 4-8 8-1 4-4-3-5 1-1 6-1 10 3-8 6 12 1-1 4 11 2zM3308 1611l5 0 1-2zM3641 1512l-2 0zM3253 1620l-10-3 9-3zM3569 1520l7-1 2-2-5 0zM3301 1595l6-1-8-1zM3554 1520l4-2-6 0zM3243 1610l-5 0 1-2 7-1zM3257 1606l-8 0 2-3 7 1zM3289 1594l4-1zM3554 1515l11-3zM3576 1508l4-1-6-2-11 2 0 1zM3273 1595l5-2zM3523 1520l8-1 2-2zM3277 1589l5-1zM3604 1493l-5 0-1-2 8 0zM3243 1599l-9-2 1-2 13-2zM3511 1515l3-1zM3226 1596l-14-1-14-5-2-4 21-1 1 4zM3237 1590l-7 0 2-3 5 1zM3521 1503l2-1zM3319 1559l7-2zM3329 1556l4-2zM3565 1485l-7-3 0-4-3-3 13 4-2 1zM3320 1554l6 2zM3474 1508l4-2zM3220 1582l-6-1-13-9 14 0-1 4 7 3zM3239 1569l12 0-1-3zM3309 1548l2-1zM3421 1515l9-2-2-1zM3442 1508l-2-1zM3366 1527l2-1zM3440 1505l12-4 1-5-17 1 6-6-2-1-13 5zM3545 1475l-16-2-1-4 6-2 13 1 0 4zM3217 1569l-15-2-2-9-14-5 8-2 15 5 0 3-3 2 11 6zM3239 1560l7 1 1-3-7 0zM3263 1553l8-2zM3290 1545l3 0zM3339 1530l7-2zM3386 1516l6-2-7-1zM3471 1491l6 1-2-3zM3292 1540l3-1-11-4-1 3zM3355 1521l2-1zM3385 1512l16-2-4-3zM3488 1481l3 1-5-3zM3520 1474l-6-1-1-3 9 1zM3182 1568l-1 0zM3320 1527l5 1-5-3zM3342 1520l2 0-3-1zM3396 1504l5 0 1-2-4 0zM3194 1563l-6-1 5-2zM3349 1514l3-1-3-1zM3363 1509l4 1 0-2zM3386 1503l1 0zM3440 1487l7-3-7 0zM3245 1543l-8 0 1-3 8 0zM3279 1530l8 1 10-6-4-2-9 1zM3310 1521l3 1 14-6-4-1zM3348 1510l7-1 0-2-9-3-5 3zM3489 1470l-6-1-2-3 7 2zM3268 1529l6 1-1-2-5-1zM3367 1499l5 1 9-5-8 1zM3503 1460l-6-3zM3254 1529l6 0 1-2-7-1zM3480 1465l-7-2 0-2 9-1zM3291 1516l-9 0 3-3 9-1-3-3 2-3 18 1 0 2-11 0zM3402 1482l-6 0 1-2 7-1zM3192 1540l-3-1-3-2zM3207 1536l-6-3 6 1zM3272 1518l-7-4 11-1 1 2zM3312 1504l-5 0 1-5-1-3 9-1 2-5 22-1-5 5zM3354 1492l-5-1 2-5-11-5 1-2 15 6 4 3 1 1zM3403 1477l-10-5 13-2-4 5zM3171 1540l11-3zM3193 1534l-7 1 0-4 10 2zM3207 1530l-4 0 2-1 1-5 6-2 5 0 7 6zM3285 1508l-10-3-1-3 7 1 4 3zM3242 1514l-7-2 3-1zM3378 1476l-5-1 1-1 12-3zM3255 1509l-5-2 8-2zM3289 1498l-5-2zM3301 1493l-2-1 3 0zM3364 1474l-3-1zM3386 1468l-4-1 10-2z" stroke="#2f81fa"/><path d="M3497 1720l4-3 5 1 3 3zM3530 1715l-1-1 3 0M3541 1712l-3-4 7-3-1-3-8-2-5 4-9 1-18 0-9-2-4 3-25-1-1 5-6-1-6-2 0-3 7-2 0-6 4-2-17 1-2 5-10 1-1 2 13 1-11 8-6-3-12 0-8-4 6-3 12 0-2-5-15 0 2-2-2-6 7-3-9-2-18 0-4 4-10 1 2-10-1-8-15-1-18 2-3-4-16 0 5-3 9-1-3-3-14-1 3-5-16 0-1-4-9-2-3-3-1-4 2-1-8-2-7 2-11-1 3-3 1-3-17 1 11-6 1-2-15 0-4-4-6-2-12-1 5-6-18 1 5-11-13 0-13-4-6 0 1-3 11 0-5-3-11-1 2-3 0-6 2-2-12 3-2 5-7-1-1-3 3-7-12-1-6-5 18 3 10-1 1-3-12-1-15-5 1-3 21-1 6-4-10-4-2 5-15-2-2-6 5-4 4-9 15-4 0-2-14 0 2-5M3585 1698l4-4 7-3-28 3-11 8 12 1M3623 1687l-15-1-1 1 5 3M3690 1667l-15 0-6-3 0-3 4-2-8 0-12 6 10 1 7 3 0 3-22 3 1-2-2-2-11 1 8 9M3709 1661l-6 0-1 2M3719 1654l13-1 4-4-10 1zM3791 1637l-17-4-12 1-5 3-8 2-1 6 2 4M3817 1629l8-3M3517 1713l-20-2 0-2 26-1 0 3zM3609 1682l12-1-1-2-4 0zM3703 1654l8 0 0-2-5-1zM3735 1644l3 1zM3801 1626l-3-2zM3815 1622l-3-2 6 0zM3482 1718l-6-1-5-4 4-4 9 2 3 3zM3547 1696l4-1-9-2zM3687 1654l3-1-3 0zM3771 1629l4 1 3-3-10-1zM3704 1645l8-2zM3772 1620l6-2-4 0zM3450 1714l-7-4 7 2zM3482 1702l-4-2zM3503 1696l3-1-8-2zM3777 1614l-7-4zM3479 1699l6-2zM3788 1597l2 1zM3763 1596l3-1zM3801 1587l-6-1 1-2 4 1zM3764 1591l2 0zM3787 1585l-3 0 0-1zM3389 1700l-7 1zM3404 1696l-13-1-3-1 9-2zM3790 1576l-4 0 8-3zM3364 1693l-6-3 8-2zM3413 1678l-6-3zM3384 1678l5-2zM3744 1570l3 1 8-4-14 1zM3773 1562l-7-4zM3371 1679l-5 0-1-3 7 1zM3342 1682l-1 0zM3750 1561l-4-1zM3752 1556l-5 0 0-2 11-1zM3364 1666l2-1-3-1zM3723 1554l2-1zM3361 1658l2-1zM3311 1661l-4 0 0-2 5 0zM3687 1547l2-1zM3686 1543l5 0-4-2zM3317 1649l5-2-7-1zM3671 1534l3 0zM3684 1517l-3 0-5-4zM3282 1632l6 1 2-3-7 0zM3261 1621l9-3-9 1zM3645 1497l-2 0zM3219 1621l-1-1zM3252 1610l9-2zM3604 1500l2 0zM3238 1605l7-2-6-1zM3581 1489l6 2 2-4zM3606 1478l-2-1zM3183 1597l-4-2 4 0zM3201 1585l8-2-10-1zM3584 1467l-3 0 0-2zM3189 1579l7 2 4-4-13-1zM3509 1475l1 0-2-2zM3547 1460l-7 1-5-3 3-3 7 0zM3149 1574l2-1zM3498 1469l4 1 6-4-13 1zM3492 1462l5 0-4-2zM3157 1561l-30-3 16-5 16 4zM3178 1552l10-3-16-3 0 3zM3466 1465l4 0-4-1zM3519 1451l-4 0-3-4 9 2zM3187 1544l7-2-9 0zM3199 1541l6-2-8-3zM3232 1526l-1-4-6 0zM3260 1518l-3-4-5-1-1 3zM3281 1512l-6-4zM3393 1478l-4-3-3 1zM3460 1458l8 1-1-3-5 0zM3500 1447l-14-1 13-4 3 3zM3296 1503l5-2zM3345 1488l2-1-8-3-15 4 3 1zM3442 1459l12-1-1-2-16-1-2 2zM3145 1544l-6-3 11 0 3 1zM3352 1477l5-1zM3469 1443l-2-2zM3142 1535l1 2-4-1M3157 1531l-5 1M3187 1522l-3 5 12 3 5-3-8-2-1-2 11-1 7-7M3211 1515l17-2 5-3 15 2-2-3 5-6M3257 1501l9 3-6-4M3302 1487l11 1 6-3-1-2M3342 1476l4 1-2-2M3360 1470l10 2 9-2 0-1-12-1M3384 1463l12 1-2 5 11-2 3-4 24 1 1-2-10-6 2-5M3431 1449l19 1 6-3 13 1 17-2-10 7 5 3 3 0 3-4 8 0 13 5 8-2 2 4 9 6 27 1-1 4 7 2 7-3 15 2 7 2-3 6-7 2 3 3 7 2 4-4 9-1 12 3-2 5 4 3 14 0 3 4 1 1-5 3 6 4-3 3 0 2 13 1 0 5 6 2-1 5 9-1 1-2-8-2 6-6-13-5 15-5 6 12 0 4 8 2 1 5-10 0-4 4 10-1 4-3 21-2 1 2-6 2-1 2 14-1 4 2 1 2-7 6-4 7 12 1 5 3 9 0 5-3 5 1-1 10 5 5-11 0-1 1 7 2 18 0 23 2 1 4 4 3 0 5 11 1-1 1-11 1-4 3-10 2 11 2 3 3 34 4 2 4-11 0-1 3 9 7-17-4-3-4-5 1-4 6 7 2 0 5 3 8-3 5 11 6" stroke="#1ca9df"/><path d="M3474 1732l-2-2 4 1M3505 1722l-24 3-4-3-9-2 0-5-4-3-9-1 2 3-1 8-10 0-3-8-4 0-7 3-1-4-15 0-3-3-6-3-5-8-17 4-17-2 16-5-24-2-6-3 0-3 6-3 13 1-11-6-4 1 1 4-20 1-16-3-2-4-9-6-20-3 18-4 2-2-12-3-18 3-2-4 2-2 13 0-1-2-10-2-1-4-6-1-8 2-1 5-4-1-4-3 3-5-20-3-3-2 16-3-1-3-14 0 4-6-18 1-6-7-8-2 2-5-4-4-23-2-1-4-12-1 0-2 7-2 0-3-26-10 6-3 5-4-16-1-5 3-6-3 4-4 0-6-8-3-15 1 8-5 1-3-8-1-10 2 18-10-3-6 7-2-4-2-12 1M3525 1716l-14 0 3 4M3811 1631l0-5-6 2 5 3M3837 1623l0-2 3 1M3827 1613l5 0 0-2-11-3 0 2zM3802 1611l2 0zM3420 1721l-4-2zM3837 1593l-6 0 2-2 9-1zM3841 1590l-6-2 2-6 6 3zM3808 1591l3 1-4-2zM3400 1711l-9 1 4-4 6 1zM3792 1583l3-1zM3782 1572l3-1zM3759 1561l3 1zM3789 1552l-9 3-1-2 9-1M3760 1556l5-1zM3333 1680l7-2-2-4-12 0 0 3zM3779 1548l-4-1 2 0M3738 1550l1-1zM3313 1672l11 1-3-3-5-1zM3739 1545l1 0zM3320 1666l2-1zM3739 1533l-4 0zM3734 1525l-4-2M3686 1520l5-1zM3270 1636l2-1zM3670 1516l2 0zM3236 1640l-7-1 1-2 6 0zM3218 1631l-3-2 4 0zM3644 1502l9-3zM3224 1618l4 1 2-3zM3199 1622l-3-2zM3632 1479l-6 1 2-2 5 0zM3622 1475l-8 0 1-4 10 0zM3610 1463l-3 0 2-1M3598 1457l-9 6-1 6 18-3 3 1 1 1-7 3 0 3 19 7 9 2 1 2-10 0 0 5 21-2 9 2 0 5 17-1 3 3 0 5 10 2 6 2-8 3-3-4-5 0 0 2 16 6 20 1 5 3-1 2-13 0 0 2 10 2 13 0-6 4 8 4 0 5 16 4 10-2 5 2 0 1-5 3-2 7 4 0 4-4 3 1 2 4 11 1-1 2 1 2 10 2-5 6 4 0 15-3 10 3 1 2-3 3 3 4 12 1 2 3-4 2-13-3-2 4 6 3 8-1 10 3-1 7-10 10 5 3 15-2 10 3-6 4-1 3 2 3-13-1 3 9M3557 1465l3 1 2-3-11-1zM3151 1577l7 1-2-2-4 0zM3151 1564l-1-1zM3136 1564l4 0 5-3-8 1zM3149 1547l2-1zM3111 1555l-8 1 1-5 9 0 5 0 1 3zM3511 1436l-5-1 1-1zM3491 1437l-5 0 1-2 5 0zM3131 1539l4-1M3413 1454l8-2M3453 1442l10 3-4-5M3472 1437l6 5-5 3 25-5 30-2-2 5 11 1-5 6 7 2 15 0 2 4 6 0 0-6 14 0-1 5 5 3 18-1" stroke="#2cc4a7"/><path d="M3468 1733l-3-3-12-5-9 2 7 3-6 4-5-3 3-4-11-1-4-3-12 1-14-1-8 2M3493 1726l-7 2M3867 1614l0 0M3853 1605l8 0 0-3-14-4 1 4zM3417 1731l-8-4 5 0zM3391 1723l4-8-17 1-3-8-7-2 1 3-2 2M3406 1716l5-1-6-3-4 1zM3382 1710l5-2zM3833 1575l-5 2-4 5 7 3 3-4 7 0 10 6-9 8 18-1 8 2 1 4 7 7-28 3-2 1 4 3 2 4-2 1M3820 1568l-2 2 6 3 9 2M3354 1705l11 0-4-7-13-2-3 4M3810 1563l1 1M3795 1556l1 3 8 1M3328 1692l2-2-7-1M3325 1687l5 0-3-2zM3313 1684l-1-2-4 0M3308 1678l6 1-8-4zM3768 1542l-2 4 7-1M3284 1670l8-5-20-2M3737 1526l-12 1 5 2 12 1 4 4 8 1M3268 1662l1-3-17-5M3273 1653l4 2-2-3zM3720 1518l-1 1 4 0M3245 1650l5-4-21-4M3703 1510l3 1M3215 1635l-4-4-5-1M3680 1498l-1 2 12 3M3200 1628l3-3-10-1M3655 1485l3 3 1 5 8-1M3200 1617l1-1-4-1zM3173 1611l6 0 1-2-13-4 0 3zM3151 1600l5 0 2-2-7 0zM3614 1465l3 4 6 0M3143 1599l1-2-5-3 0-4-17-4-5-7 4-6-7-2-22-3-4-3 4-3 14 2 1-5-20-3 9-3-1-3M3149 1592l2-1zM3130 1593l0 0M3134 1587l7 0 0-2-5-1zM3584 1450l-5 4 16 1M3121 1582l8-1-3-2zM3560 1438l-2-1M3532 1429l-5 0 5-2zM3479 1434l6-1M3494 1430l19 3 5 3 31 0-1 5 5 3 14 0 1 4 11-1" stroke="#8fcb4e"/><path d="M3436 1743l1-2 9-1M3455 1737l-23-4-10 0-17-3M3430 1737l-4-2 5 1zM3888 1602l-7 2-3 7M3877 1597l2 1M3865 1591l0 1 5 1M3372 1714l-2-1M3839 1578l12 6M3349 1702l-1 0M3115 1585l-4-4-5-1M3098 1577l10-5-11-2-9 1M3564 1440l-2 1 5 0M3078 1567l-1-3-7-2-2-5M3087 1561l2-1-3-1zM3539 1427l-1 3 4 4 12 1M3082 1553l8-2M3522 1422l0 2-10 1 2 3 6 1 11-6" stroke="#f0ba36"/><path d="M3429 1742l1-2-11-3" stroke="#f5e924"/></g>
<clipPath id="cF7"><path d="M3063 1218l5 18 5-9 5 14 5-17 5 5 5 1 15 16 6 11 6 31 3-3 3 9 1 15 3 3 6-18 2 2 4 28 4 3 2-8 4-2 1-7 10 28 3-4 4-15 6-1 4 26 3 1 3-16 4 3 4-5 2-12 1 9 6 0 3 7 2-8 1 9 4 2 10-27 7 5 10-7 4 2 6 37 8-8 5 0 5 21 8-11 3 1 4 7 11-10 14-36 6 1 6 19 13-21 10 2 5 12 11-17 0-15 4-11 5 18 8-19 4 26 10-36 8 5 8-2 6-31 6-5 4 18 0 25 3 12 3 1 4-31 8-17 8 12 5-45 8 8 5 29 3-9 0-18 3-7 3-35 8-15 5 18 7-43 16-33 1-7 9-13 2-16 3 6 7 39 3-6 1-20 3-17 7 32 7 12 1 15 3 3 5-22 4 14 0 15 3 5 6-5 4 29 5-9 5-5 4 20 1 25 3 7 5-6 5 18 4-39 8-5 4 23 0 32 4 19 2 1 6-26 4 13 7-12 7-5 3-10 6-2 4 15 3 39 4-7 6-37 6-12 3 14 3 43 4 9 4-24 3-7 4 17 0 20 3 6 7-31 3-7 2 9 6 3 10-17 5 7 5 0 7 32 5 8 4-5 6-24 4 24 0 25 3 12 3 4 4-6 1-10 6-10 4-28 3-9 4 14 0 20 4 7 4-4 3 11 4-9 3-30 6-5 4 14 7-19 11-2 10 38 4-11 0-20 2-5 2-11 0 11 3 8 1 25 4-3 11-40 5-11 3-1 1 5-2 7-6 55-3 13-6 0 0 17-6 28-3 5-5 0-3-2-4 12-4 2-2 4-2-5-4 31-5 18-3 5-6-4-3 1-3 45-8 5-6-12-10 5-4 17-6 3-1 15-5 20-4 2-2-8-5 1-5-5-8 21-4-18-6 17-2 0-4 12-4 3-4-5-3 13-3-8-10 25-7 5-5-18-10 5-2 4-3-5-5 8-2-6-6 4-4 16-3-8-3 5-2 9-5-9-8 10-5 9-3-4-1-9-3-1-3 6-4-6-7 17-6 5-5-20-8 8-12 6-2 8-3-4-7-4-4 1-2 7-2-6-2 12-8-6-2 5-3-1-7 11-2-7-4-3-3 1-1 5-8 0-2-10-8 16-2-5-6-1-2-5-12 10-6 2-4-3-10 8-3-9-3 2-14-13-6 5-4 2-3 5-10-12-5 9-5-15-5 9-10-5-2-4-6 10-2-7-5 0-5 3-2-7-6-10-2-7-2 1-6-13-3 1-1 15-3 9-1-6-5-3-1-6-10-5-8 1-5-9-3 5-3-1-4-7-5 5-4 0-6-17-4 12-4 0-7-18-5 5-2-1-10-19-8 10-8-11-3 1-1 6-2-16-4-4-2 1-2-1-3 8-4-16-3-1-3 10-3-9-2 4-2-7-3 0-4-12-9-8-3 5-1 14-2-6-14-13-3-5-3-20-4-7-2 2-2-6-3 4-5-5-2 1-6-23-4 11-4-4-6-27-6 9-25-25-6-35-6-2-2-8-6-7-5-10-4-15-4-3-5-12-1-10-6-15-4-23-9-15z" clip-rule="evenodd"/></clipPath><g clip-path="url(#cF7)" stroke="none" fill-rule="evenodd"><path fill="#422ec0" d="M3053 1056H3903V1649H3053z"/><path fill="#4741e5" d="M3033 1037l887 0 0 630-887 0zM3476 1397l2 50 5-7 3 9 2-2 0-15-2 2-3-2 2-10-4-10-1-8zM3508 1442l-2 10-6-3-1 10 1 3 3-7 2 4 0 23 3 5 0 14 6-22-4-10 1-22zM3513 1408l0 16 3 15 2-2 0-18zM3523 1483l5 13 0-11-2-3zM3536 1446l-6 18 0 13 6-6 4 8 6-17-6 3-3-3zM3553 1411l-1 31-2 5 6 31 0-19-3-5 6-2 0-13 4-12-5-3 0-5zM3583 1425l-5 19 0 9 2 2 3-6zM3598 1442l-8 9 0 10 8 18 5-10 3 3 3 10-1 12 2 3 3-8 0-7-4-3-2-12-4-5 1-5-3-3-1-10zM3616 1419l1 10-5 5 3 8-3 7 4 1 3-8 0-18zM3638 1449l-1 15 3 5 0 16 1-31zM3590 1504l-4 8 4 3 2-8z"/><path fill="#4758f8" d="M3033 1037l887 0 0 630-461 0 5-18-1-12-7-8-9 8-5 30-409 0zM3323 1391l-5 18 0 21 2-1 1-10 5-12-3-5zM3328 1579l0 21 3-18zM3340 1406l-7 8-3-2 3 12 3-4 4 6zM3353 1354l-2 13 5 5 0 15 3 7-2 10 3 11 2-3-1-20 4-18-2-5-7-7 0-8zM3448 1392l0 12 2 5 2-7zM3463 1335l0 17 2 2 0 10-4 8 7 7 3-15 5 0 0-5-6-20-4 0zM3506 1357l-8 5-4 35-2 2 1 24-3-1-2-6-1 3-3 0-2-15-6-9-2 2-1 12 3 8 0 30 7 11 3-6 4-3 1-12 4-8 3 0 7 10-6 10-2 15 1 9 2-9 3-6 1 1 0 23 3 5-1 22 2 3 1-10 2-3 7-32-2-3 1-10-3-2 4-3 3-12 0-18-4-5-1-25-8 28 0 10-2 2-8-12 0-5 9-13 1-22 2-3-1-12zM3523 1394l0 13 6-8zM3553 1399l-6 18-3 22-4 3 0-8-3 0-1 5-3 2 1 3-6 19-2-1 0-8 2-7-7 0-2 10 4 5 3 12-6 10 5 8 1 10 10 2 0-5-3-2 9-10 1-10 4-8 0-10-7-1-1-6 7-2 7 19 2 20 3 0 3-5 5-1 1 1-2 3 0 15 1-8 4-6 6 11 4 4 4-9-3-15 1-10-4-5 5-2 2-10-1-18 2-10-3-5-5 10-2 33-2 2 0 8-4 2-1-20-3-2 0-8-1 5-2 2-2-2 4-25-5 0-4-17-3-3 2-5zM3566 1364l-3 2 0 4 5 8 0-6zM3618 1387l-7 32 3 10-2 0-4-15-8 4-2-4-6 10 1 8 7-12 2 2 0 17-3 0-1-8-1 11-8 7-5 38 2 0 4-5 3-8 7 12 3-15 4 23 3 10 6-15 3 0 0-12 3-3 1-6 0 14 3 3 0 12 3 2 1 14 3-1-1-13 4-12 2-3 5 11 2-23-2-23-4-12-2 0-2 22-2 2-4-9 2-5-3-5-4 7 0 10-6 0 0 15-4 5-1 0-4-15-5-2 2-10 4-2 3 7 7-8 2-5-1-22-2-8 2-22zM3666 1445l-3 9 2 3-3 5-3 0-1-8-2 0 0 18 4 12-2 8 5-3 1-25 2-5zM3458 1410l-1 9 7 8 0 10 4 4 2-2 0-20-7-10zM3473 1450l-1 14 4 4 4-4-2-8-2 8zM3476 1368l2 19 2 5 4 0 0-13-3-2-3-8zM3558 1494l-8 5-2 5 2 11 4-1 0-12 2-2 2 2zM3566 1616l-1 13 5 3-2-15zM3598 1498l-12 9-1 7 3-1 2 5 6-8 1 2-4 7 3 2 4-9 2 2 1 15 3-7 0-13-4-2zM3623 1504l-3 1 0 7 4 5 2 8 2-1 0-5-4-5 1-7zM3556 1515l-2 7-3 2-1 5 3 3 3-5zM3566 1455l2 2 0 12-2 2-3-4 0-10zM3536 1473l1 16-1 1-5-8z"/><path fill="#3e6fff" d="M3033 1037l887 0 0 630-149 0-51-78-10-8-5 3-5 13 13 50 7 20-257 0 5-18-2-12-13-13 0-7-1 12-9 5-5 33-53 0 16-43-5-11-13 9 0 5-18 40-58 0 14-40 3-23 5-2 4-20-3-4-4 1-11 18-22 70-260 0zM3233 1515l-8 4 1 9 7-4 2-5zM3283 1357l0 20 3-5zM3286 1335l-1 4 8 8-4 17 4 14 5-6 1-18-3-14zM3308 1572l-8-1-5 8 13-5zM3320 1388l-3 21 1 23 2 0 1-13 6-12-3-5 0-10zM3330 1398l-2 14 5 19 3-2 0-4 2 0 2 4 2-5 1-19-7 2-3 6-1-14zM3340 1361l-3 11 0 5 3 1 3-11zM3356 1350l-6 7 0 15 4 0 3 25-1 9 8 26 2-3-2-27 2-5 0-13 3-7-3-8-9-7zM3388 1306l-8 36 2 5 1 15 3 2 2-2 2 5-4 1-4 6-2 33 5-3-4-5 5-1 2-5 5 0 2-14-7-22 0-23 2-2 1-20zM3413 1365l-5 4-5-3-2 3-1 20 3 6 2-8 8-8zM3446 1326l-9 31 5 5 4 22 5-5-2-5 2-2-1-30zM3460 1327l0 25-6 15-3 2 3 3 1 10 2 2-3 13 5 7 7-26 2 13 5 1-3 2-3 13 1 10-5-10-5 1-2 4 0 7 2 6 2-1 3 3 3 29 4 3 3 15 4 3 1 5 5-23 5-9 7 4 3 20 2 0 3-15 0 25 3 5-3 10 3 3 0 20 8-38 4-2 2-19 3 11-4 10 6 8 1 11 14 1 1-5 2 13-1 15 2 0 2-8 2-2 2 2-1 10 4 4 3-6 1-10 8-8 5-15 1 8 2 2 5-2 5 3 3 11 2-2 8 10 3-10 2 0 1 15 2 0 4-20-5-5 2-2 0-10-3-3 1-10 5 25 3 0 1-7 4-7 4 12-1 10 6 15 1 17 2 2 3-12 5-47 2-2 5 12 3-21 12 18 6-5 4-44 3 4 0 8 5 3 7-3 3 2 6 33 6 12 3-25-3-10 4-2 2-18-2-10-2-2-1 2-1 14-9-6-1-10-5 9-3-2-1 8-3 3-4-28 2-10-3-3-3-10-5 13 2 10-2 2-2 25 2 3-3 5 0-8-4-2-1-5-7 23-1-8 7-20-5-30-3 8-8-1 0 8 6 10-4 1-2-4-2 2-2-4 3-5 1-13-5-17-3 7 0 18 3 5 0 12 3 3-4 17-2-7 2-5-4-7-2 1-3-2-1-17-2-8 4-17-4-18-4 0 0 8-2 2-3 28-3-5-8 5-2-4-7 11 0 8 5 0 0 10-8 6-2-14 2-5 1-30-3-10 4-6 1-14 5-7-10-16-2 18-6 6 0 4 4 3-2 8-2 2-2-8-5-5-4-10-1-10-6 18 4 2 0 20 3 3 1 10-4 2 3 5-4 8-3 0 0-5-3-3 1-7-4-3 6-7 0-21-1 11-5 10-3 0-5-8-4 5-2 11-2 0-1-8-1-2-2 2 0 17 5 15-3 6-5-1 1-7-11-15 0-3 9-10-3-5 2-35-1-3-2 2-5-1 2-3-3-13 0 11-5 5 4 10 0 7-2-5-6-2 0-8-5-5 2-7 5-3-5-25-10 10-5 56-4-23-2 0 0 5-4 2-3-2-3-20-5-5-1-8-3 4zM3540 1333l-2 1 0 16 3-8zM3550 1331l-4 13 0 20-2 5 2 16 8-41zM3726 1446l-9 16-7 7 6 23 2-3 8-30zM3736 1450l-4 2 1 11 3-1zM3290 1550l-7 5-4-1-7 8-5 27 1 7 6-12 22-20zM3358 1574l-5 10 3 2 2-5 2 1 0 10-4 8-3 13 20-11-5-6-2 1-5-3 2-7-3-3zM3446 1389l0 14 2 9 5-3 1-10-2-7zM3470 1622l-3 7 1 6 6-6 0-5zM3520 1616l0 3-7 5 3 10 2 0 7-7zM3553 1621l-7 0-6 6 0 10 3 7zM3568 1607l-5 4 0 3-3 5 1 5-3 3 5 5 7 3 2-11-2-2zM3636 1586l-4 3 0 10 8 6 2-8-2-3-2 1zM3448 1616l-2 6-3-3-5 3 5 8 3 0 3-3zM3483 1394l1 15 3 3-1 6-6-16zM3608 1451l3 1 3 7-4 4-3-1zM3548 1473l8 18 7-4 0-3 2 0-2 18-3-9-4-1-6 5-3-5-2-13z"/><path fill="#2e87f7" d="M3033 1037l887 0 0 630-146 0-50-78-10-10-1-12-4-3-3-8-2 16 6 2 1 3-11 5-4 17 13 48 8 20-24 0-31-55 0-20-4-11-3 8 2 8-5 2 2 3-1 4-6-4-1-12-6-1-2 4-2-7-6 2-2-4-2 9-3-9-3 5 1 5-8 1-3 4-4-2 0-5-3 7 1 13 4 4 8-9 2-6 10 6 5 0-4-5 1-6 14 23 0 10 10 38-58 0-8-36-11-12-1-12-3-4-2-9-3-1-10 26-1 8 6 6 12 4 15 30-87 0-7-20-9-10-1-10-3-8 0 8 2 5-3 5-14 9-1-9 7-8 0-5-7-10-4 5 4 5-1 11-11-11-2-8-2 13-3 1 2-11-4-5 0-8-6 7-4-4-2 3-3 15-10 12-5 28-29 0 18-45-9-14-10 4-3-5-9-8 0-12 8-3-2-9-2 8-2-9-6 0 0 8-2 2-2 12-6-26-2 2-2-3 1 5-7 13 5 7-3 15-10 15-26 32-2-4 22-58 4-1 5-9-5-19-4 3-4-1 0 5 5 2-1 3-10 1-3-6-4 7-30 88-256 0zM3216 1499l-14 8-7 12 1 3 19-10zM3233 1513l-12 6 0 10 5 1 8-6 2-5zM3236 1149l-2 8 0 177 4 15 3-30-5-10zM3260 1091l-2 8 24 100 23 43 12 15 1 10 2 2 0 18 2 2 1 40-8 5 0 13 3 10 4 0 3 10 5 7 0 8-4 2 0 5 2 2 2-3 2 6-4 9-3-1 2-5-2-8-9-15 0-5-3 0 5 63 3 0 0-13 5-9 4 7 3 17 5-9 2 9 3-9 0-26-2-5 6-27-3-5 0-8-3-2 0-20 3-18-1-13 3-3 7 3 5 6 2 25 3-3 2-25 3-2 2 2 2 38-3 0-1-6-1 11 3 19 3-2 0-7 5-3 0-7 0 15 5 1 2 4-2 4-5 1-2 10 0 13-3 2 0 2 5 0-3 5 1 23 2 3 2-2 1-14 7-8 5 13 0 14 3-2-1-12 6-2 5-30 2-3 5 0 3-7-1-15 3-18 0-7-2 2-2-7-4 5-3 12 2 15-8 3-2 7 0 18 3 5-1 5-6-10 2-18-2-2-1-8-5-10 4-42 2 2 0 18 3 5 0 20 0-13 3-2 3-8 2-17-3-20-7-4-1 6-2 3-5-3 2-5 3-2-2-3 0-17 5-8-3-9-19-21-20-17zM3420 1608l-1 6 4 7 2-4zM3428 1294l-1 15-2 3-2 35 5 2 1-20 4-17zM3500 1279l0 15-2 3 2 7 6-5 0-10zM3453 1309l-4 10-1 15 0-7-2-2-8 27-2 6-3 1 0 13 3 8 4-8 0-9 1 9 5 14 7-7-2-5 2-1 3 14-3 4-7-4-2 2 4 25 5-4 5 17 2-2 2 2 3 30 5 5 3 12 5 10 3-2 0-10 6-20 3 0 3 5 11 32-2 10 3 3 1 20 10-39 9 9 1 12 14 3 3 21 6-9 1 15 5-2 2-5 0-10 21-14 5 4 2 10 8 4 3 4 4-6 1-5 2 17 5-9 0-10 8-21 3 11 0 10 5 15 1 17 3 4 2-1-1-8 3-2 5-50 6 11 5-15 10 12 2-1 11-15 2-17 5 0 5-5 2 2 11 62 6-29 1-20 3-3 5 8 0 10 3 2 2 7 6-17 6-25 1 8 3 2 0 10 2 0 1-10 2-2 1-16 5 12 3-6 1 7-3 5 2 8 3-8 0-12 4-5-4-10 2-5-8-34-5 13-5-4-2 2-5 35-13 20-1-15 2-2 0-10 2-3 1-15-8-22-4-3-4 10 0 13-2 2-1 13-2 2 0 15-6-2 0-10-4-3 0-20 2-4 0-18-2-1-3 2 0 6-3 3-2-3 2-18-7 16 0 10 3-7 2 2-3 12-3 0-3-10-5-2 0 10-5 7-3 15-3-2-2-13 3-2 1-10 2-3-1-15-10 28-6 0-7-27-4 17-3 4-3-1 3-31-8-4-2-4-6 8-2-15-2 16-6-24-5 3-9-23-4 11-1 17-4 5 1 9-6-4-4-10-1-10-4-7 0-11-3-4-2 2 4 25-3 13 4 2 0 15 0-12-3-2-2 2 0 7-5 10-6-7 3-13 0-10 3-2-1-13 3-10-2-7-9-10-1-19-1 16-3 8-3 2-2-2-1-35-3-14-2 4 0 12-5 23 5 12 0 16 2-2 1-9 2-2 1 2 1 18 2 5-1 24-2-12-2-2 2-5-3-8-3 1-3-3-1-10-2-8-3 0-4 18 0-13-3-2 0-13-3-10-6 9-2-1-3-17-4 9-4 29-1-16 1-13-6 5 0 8-3 2-1 14-3-36-7 0 2 25-4 5-6-10-3 0 0 25-6 15-1-8 2-2 0-20 4-15zM3633 1363l-5 1 0 8 3 0zM3786 1417l-3 12 0 22 3 4 0-13 2-5 0-16zM3273 1308l-5-1-15 5-9 7 2 5 7 3-6 5 0 20 1 2-3 8 8 9 5-7 2 4 2-4 0-10-9-15 2-7zM3280 1328l-8 11 1 8 2 2-2 13 5 0 1-10 6-5 1-3 5 3 0 7-10 3 2 21 4-4 1-8 5 17 5-5 0 14 3 2 2 16 3-16 3-7-1-13-8 0 1-20-4-10 1-5zM3310 1346l-5 13 3 12 4-7zM3356 1341l-5 3-3 25 2 5 3-1 3 24-1 10 7 17 1 8 3 0 0-30 2-5-1-13 3-2 0-8-10-12 3-15-4-5zM3523 1609l-3 4-2-1-8 11-2-6-2-1-2 13 4 2 8 14 1-6 10-10zM3550 1616l-2 3-5 0-3 4-2-3-2 2 2 15 5 9 6-12 1-5 4-5 0-5zM3273 1541l-2 1 3 2-2 5 4 3 0 2-6 8-10 53 16-28 22-23-8-17-7 6-4-4-1-6zM3293 1407l0 10 4 2 1-5zM3309 1572l-9-3-9 13 2 1 15-7zM3510 1346l2 6-2 6-3-4zM3593 1368l4 14 0 10-2 5 5 5 0 5-2 2-5-5-5-15 4-5zM3606 1382l4 2-2 9-4-4zM3528 1406l2 11-7-5zM3630 1426l3 19-5-6-3 0z"/><path fill="#259be8" d="M3033 1037l887 0 0 551-82-59-30-5-15-5-5-5-1 3 1 7 132 133 0 10-145 0-50-78-10-10-1-12-5-3-1-9-5-1-5-13-5 21 2 7-4 3 6 15-1 9-16-14 7-10-7-2-5-23-4-3-3 10-3 28 3-3 6 20 34 50 8 18-18 0-35-60 1-15-4-11-2-1-5 9 2 8-4 2 1 3-2 0-1-35 3-3 0-17-5 20-3 2 1 8-3 2 0 8-3 5-2 0-1-7-8-3-5-9-2 1-3 10 1 10-3 1-3-4-1 6-3 0-6-18 5-17 0-20 2-5 1-18 5-20 3 15 2 3 3 27 3 5 1 15 2 1 6-31-1-27 3-19 5 10 5-14 18 18 8-38 9-6 8 39 2 23 3 3 3-4 7-46 2 16 2 3 0 32 3 5 0 8 3 4 0-2-3-10 5-17-2 4-4-7 1-18 0 13 3 2 1-2 0-7 3-14 5 16 0 28 3 0 6-15-1-13-2-2 1-20 3-3 1-7 0 7 2 2 2-2-1-7 1-2 6 8 4-9 0-12 3 0 5-10-5-2-2-3 1-5-7-35-2-2-4 7-1 8-6-6 2-2-5-20-3 10-7-13-1-18-3 28-5 6-6-3 2-5-2-3 0-15-4-11-1 9-6 2 2 13-3 15 3 2-2 2-3-2-1-10-3-5-3 0 1 5-2 0 1-5-3-6-4 6-6 20-4-7 0-18 3-2 0-25 5-18-4-26-2 29-3 15-5 5-2 15-2 2 0 13-5-8 0-7-3-3 0-17-2-1-1 8-2 2-1-2 1-30-3 4-5-9 1 40 8 8-7 15 3 12-2 1-4-11-9-12 1-5 4 1 5-9-2-16-3 15-2-1-2 4-3-9-3 2 0 13-4-4 1-9-4-3-7 8-1 13-1-13-5-15 2-12 4-3 0-7-3-3-4-23-5 0 0 18 2 5 0 28-2 2-7-20-6 13-2 18-5 5-3-16 0-2 3 1 3 11 2-2 0-30 2-13-2-1-2 1 0 8-6 11-7-6-7-49-1 9-2 2-2-2 2-43-3 0-3 20-2 3 0 12-5 12-4-2-6-25-3 13-1 12-2 3 0 12-4 6-6-3 2-5 0-15-3 4-4-4-1 10 3 10-3-2-5 12-3-15 8-5-2-18-6-8-8 13 5 13-1 7-6 2-2 4-2-1 0-12-3-8-6 10-7 0-2 3 3 22-3 4-7-9-4-12-4-4-13 22-4-6 2-5-4-2 1-8-3-5 4-27-2-3-1-12-4 0-1 25-11 2 2 33 2 2-1 19-3-11-9-5-4-30-10-8 0-17 4-5-2-13-20-22-22-18-94-125-2 0-2 9 24 94-2 107-5 7-23 5-4 5-3 0-4-7-1-169-2 4-5 18 1 177 3 10 4 3 6 12 5 5 0 13 8-17 5 9 3 0 0 8 2 2 2-3 3-17 3-2 4 2 1 13 2 2 5-5 3 5 1 38 6 3 5-8 3-18 4-7 3 2 2 13 2 30 4 0 1-13 4-8 3 6 3 17 6-9 2 10 3-11 2-47 3-4 5 11 2 23 7 17 0 8 4 0 0-30 2-3 0-15 2-2 3 2-1 15 3 3 0 27 3 3 3-3 2-15 5-7 4 12 1 15 3-2 0-13 5-2 5-30 2-2 5 3 5-39 2-2 6 2 4 5 3 27 3 1 4-6 3 3 5 38 5-7 5 17 4 0 3 30 5 5 2 12 6 13 3-5 0-10 6-20 2 0 6 10 8 25 3 36 10-39 8 8 2 13 13 2 2 20 2 4 3-3 2 3 0 8 2 2 8-14 0-10 12-6 8-8 4 4 6 19 2-4 6 4 2-2 6 10 0 8-5 10 3 22-2 2-2-5-1 6-3 0-1-14 0 6-3 5 0 8-5 7-3 10-6 3-4-8-4-4-4 4-3 18-5 7 0 8 7 7 8 3 15 30-44 0 0-18 13-27-4-8-3 4-2-1-1-20-5-11-4 16 0 12-1-7-3-3-2-14-4 17-6 5-2-2-8 10-2-8 3-3 0-10-3-6-6 6 6 13-4 2-2 18 14 25 0 10-11 0-8-20-9-12-3-16-3 0 2 13-3 5-13 7 0-7 7-10-8-18-3 0 0 8-3 2 5 5 0 8-9-8-2-7-7-3-1-15-2 0-1 8-3 0 0-28-2 3-1 7-6 8 1 9-7-3-8 6 3 13-3 1-1-11-3-3-1-10-2-2-3-23-3 0 0 8-3 2 2 5-4 5 2 3-2 15-5-5 1-13-2-2 0-8-4 0-3 5-2-2-3-13-2-1-2 3-5-7-3 3-1 10-2 2-2 10-1-15-2-2-4-21 0 11-4 2 1 5-7 13 5 7-2 15-30 40-5 4 11-34 20-35-2-17-5-6-4 4-6-3-3 5-4 1-2-11-3-1-2 6 4 7-4 18-4 7-1-20-3-6-6-1 0-5 3-3-5-19-4 13-3-11-3 3-2-8-4 5 1 2-2 6-2-1-4-10 0-10-4-4-2 4 3 3 0 7-2 0-2-8-1 11 4 12-5 8-8 46-2 4 1 5-26 50-78 0 35-53 29-65 3-12 15-18-6-7 0-8-3-4-5 6-5-4 3-3-2-2-1-11-3 3-1 5-4 5-4 2-6 6-3 7-9 12-155 115zM3186 1323l-3 4 0 30 3 10 4-15 0-18zM3446 1264l-3 5 1 13 2 1 2-6zM3606 1338l-2 14 4 5 1-13zM3753 1401l-2 16 5 2 0 5 4 5 3-14-6 2zM3773 1500l-3 2-4 12 3 10 4 4 4-9zM3786 1413l-3 1-3 15 2 28 4 1 4-21-1-18zM3717 1542l1 27 10 9 20 10-16-19-3-12zM3743 1477l-4 5 1 20-2 8 4-3 5-28zM3756 1515l-6 4 0 20 3 4 4-1 2-5-1-8-6-2 1-3 6-2zM3258 1508l-3 11 3 16 3-1 1-7zM3488 1596l-2 6 4 14 2-12zM3553 1546l-2 18 2 1 2-3zM3216 1336l-1 18 2 5 0 13 2 5-1 7 2 10 1-5 3-2 4-28-2-6-2 9-4 6-1-1-1-23zM3743 1514l-3 3 0 7 3 5zM3560 1591l-8 6 1 16 3-1zM3310 1251l7 8 2 28 2 2 0 40-7 5 0 13 3 12 3 2 4 8-1 5-5 0 2-5-5-2-3-5 0-15-3-3 4-15-4-15-1-57zM3368 1303l3 39-3-7-2 8-8-5-5 2-1-8-4-7-2 12 3 2 0 10-3 13-4-13 0-15 3-5 0-12 5-3 0-12 6 5 0 15 4 13 4-3 0-13 3-2zM3393 1332l3 5 0 20 3 5-3 8-5-16-1-19zM3533 1335l3 33-4-14-5-2 6-8zM3300 1343l5 1-1 18 2 5 0 5-5-5 1-13-4-10zM3556 1343l3 11-1 16-5-13zM3270 1348l3 4-2 2-3 18-2 2zM3629 1612l7-3 2 12z"/><path fill="#18addb" d="M3033 1037l887 0 0 547-56-42-6-1-20-15-45-10-10-9-2 7 4 13 135 135 0 5-78 0-9-10-60-122 6-16-6-28-3 2-4 19-10 1-7 6-1 5-1-2-1-20 2-4 0-16 4-20-2-8 3 2 6-14 0-5 4-3 2-20-6-2-1-10 3-5 0-15 3-3 0-7 5-15-1-9-2 2-6-4-2 3-4-5-2-12-4 0 0 12-5 18 2 2 0 8 3 12 5-30 3-2 3 2-4 30-2 5 5 13 0 7-2 0-1-7-4-5-8-4-8 11-2-15 5-22-2-10-6 22-7-5 0-7-6-18-9 36-4-26-4-7-4-1-3-4 0-25-5-27-5 7-3 19 0-17 3-2-3-17 0 7-5 12-2 2-2-2-1-10 0 10-3 5 0 15-7 30-3-7 3-23-10-41-2-1-2 7 4 38 3 7-2 10 3 3-4 7-4-6-2 1-1 10-1-17 3-13-2-1-3 4-4-10-3 12 3 10 0 14-1-9-2-2-2 2-1 12-1-19 4-8-4-10 4-7 0-10-7-39-6 16-7 13-1 7-6 15-3 0-3-17-2-2-7 2 2 46 0-9-5-5-7-22 0-18 2-2-7-8 2-3 3 1-5-8-4 8 0 10-4 7-4-2 2-18-6-3 0 3-6 3 0 10-2 0 2-45-5 0-3 15-2 0-1-30-2-5-1-16 0 8-2 5-1 20-2 3 0 20-6 2-9 32-1-9-3-2-3 4-13-19-4 7-3 0 2-8-2-2 4-8 0-10-6-2 4-5 0-43-5-11 0 11-2 5 0 13 2 5 0 20-2 2-1 13-2 2-1 13-2 5 3 2 2 13-1 0-3-5-4 2-3 7-3 1 2-15 5-5-2-3 0-27-3-3 0-12-2-3-3 13-5 2 0 8-7 26-9-16 0-15-2-3-1-7-5-10-5-3-3 1-3 12-9 7 9 3-2 3-2 19-4 5 4 3 0 5-10 0-5-13-6 0 2 13-1 15-1-5-10-8 0-17 5-5-1-5-7-15-15-15-22-18-91-122-6-6-3 11 2 12 22 83-2 107-4 6-23 5-4 5-3 0-3-6-2-172-9 25-38 75 12 48 5 12 0 8 7 17-2 5 2 7-2 3 0 17 2 5 0 15 3 3 2 17 3-6 3 1 0-15 7-24 7 4 4 10 5 5 1 15 8-19 7 12 3 13 8-28 4 10 1 10 2 0 5-7 2 4 3 39 5 4 6-10 3-18 3-7 5 15 2 30 5 0 0-13 4-8 3 6 3 17 2 0 4-8 2 9 4-11-1-30 3-2 0-15 2-2 4 9 2 23 8 17 0 8 4 0 0-30 3-3 1-17 2 2 0 15 3 3 0 27 3 8 5-15 1-8 4-6 4 11 1 16 3-3 0-13 5-2 5-30 2-2 5 4 5-40 2-2 6 3 4 9 3 24 3 1 4-7 2 2 6 38 5-7 4 17 4 0 4 30 6 10 1 7 5 13 5-5 2-23 4-8 9 16 0 7 5 13 4 37 4-7 6-31 2-1 6 7 2 13 9 2 3 2 1 18 4 10 1 15 2 5-4 2 0 15 10 25-1 13-3 5-1-20-2-8-5-5-4-18-6 13-3 20-7 8-8-10-4-8-9 10 4 13-5 19-6-12 3-15-3-2-2-20-4-2-3 2 2 5-2 2 0 25-3 8 1 10-11 9 0-4 7-10-12-23 2-10 5-7-3-23-6 15 0 10-7 3-6-8-3 5-1 8-3 2 0 5 0-10 2-5-1-15-4-3 0 6-7 6-3-9-1 8 3 2-4 5 1 10-6 3-3 4-2-2 0-6-2 11-3-22-5-15-4 2-2 15-3 8-4-5 0-8-2-1-5 3-1-2 1-30-2 2-7-4 3 20-4 2-5-11-4 9-1 10-2 2-3-7-1-23-4-1-4 4-1 10-5-3 2-15-6-17-4-1 1 11-2 5 4 7-7 9-6-17 0 8-5 3-2 10-1-10-3-3-1-9-4 4-1 7-7-7-6-14-4 9-1 8 0-10-5-3 0-7 2-3-2-7-2 3-1 12-3 0-3-8 1-10-9-15-1 18-4 11-4-9-3-17-3-4-6 16 1 8-10-10-3 3-4-18-3 1-5-6-2 4-3-2-3-17-4 4-7-12-1-8-2 13 3 5-1 15-10 8-10 17-155 115zM3197 1484l-14-2-3-2-17 18-53 38-4 7 92-45 0-5-10-1 8-4zM3186 1321l-4 3 0 33 3 5 1 15 5-25 0-20zM3518 1234l-6 30 4 23 2 0 3-13-1-3-4-2 0-5 4-2-1-13 2-2zM3588 1263l-6 16 5 5-4 8 5 1 4-11zM3783 1401l-7 26 1 12 4 18 4 2 11 27 7 1 0-10-4-5 2-13-6-5-4-32 2-22-3 1 0 3-4 2zM3800 1360l0 12-4 1-3-4 0 13 5 0 3-5zM3808 1369l-3 15 5 18 1-20zM3768 1378l-2 6 3 5 0 13-3 12 4 10-1 15-2 3 3 6 2-19 2-2-3-3 4-2-1-13 4-5-2-17-2 0 0 15-2 0zM3188 1455l-2 4 2 8-5 12 7-10 0-10zM3310 1255l6 6 2 26 3 5-1 35-4 5-6-20zM3450 1284l3 10 0 9-3 4-2-2-3-13zM3493 1293l3 12-8 5 0-13zM3688 1368l1 11 2 3-1 13 0-6-7-12zM3683 1459l7 38 2 27-9 8-5 9-10 3-5 12-10-16-4 7-1 10-10 35-1-5-3-3 0-17 4-68 8-1 2-11 2-1 16 19 1-1 8-40zM3736 1475l2 9 0 20 0-10-4-5zM3706 1483l3 9 0 35 3 2 2 23 2 2 0 13-6-3-1-10-4 0-7-17zM3578 1504l3 3 4 12 4 30 5 10-3 3-3 20-8 18-4-13 0-18-2-7-4-2-2 5-1-3 3-5-1-25 2-5 0-15zM3616 1508l5 9 2 10 3 37-8 3-3 22-4 3-1 5-5-18 4-15 3-45zM3718 1518l2 1 6 16 3-1 0-7 4 0-4 20 4 5-3 4-3-2-10-20zM3746 1528l2 1 0 10 7 10-5 0-4-5zM3558 1532l4 17-2 7-3-4zM3686 1536l4 6 3 17-2 5 3 5-5 3 7 15 0 7-12-12 4-10-4-13zM3560 1561l5 8-3 5-4 1-2-11zM3563 1577l2 15-7 23 0-8 5-13-3-7-6 7 0-10 6-2z"/><path fill="#02bac3" d="M3033 1037l887 0 0 443-57-23-20-10-14-13-1-32 3-5 0-13-1 8-2 2-1 18-2 2-1 8-4 0 3-13-3-10-2 13-2 2-7-7 3-8 0-20-4-11-1 1-4 22-3 2-2-4 4-12-2-19-1 14-3 0-3-4-2 1 0 13 3 5-3 2-3 15-3 0-2-7-3 5-2-2-2-18 4-5 0-15-3-5 2-10-3-20 2-8-4-5 4-7 0-5-5 0 0 12-3 3-1 27-3 4-2-1 0-8-5-2-1-6-1 6 3 5-2 4-4-4 0-10-3-3-1-5 0 5-5 3 2 12-2 3-1 10-4 4-4-9-6-2-2-7-6 11-2 0-2-7-2 2 0 5-3 2-2-2-1-10 4-15-3-10-5-11-3 1-5 22-5-27-3-2 0-8-5-7-2-8-4 5 0 8-6 12-1-10-4 0-2 29-3 4-1-13-7-15 0-7-7-20-9 20 1 10-3 2-1 6-3-21-3-2 0-13-4-11-4 6-3 15-3 6-4 2-6 16-1-16 3-5 3-40-2-5-1-18-2-2 2-3 0-5-3 0 0 15-4 15-2 43-3 11-6 1 5-17-3-5 0-15-4-12-5 4 4 3 0 5-4 2-2 13-7-5-1-5-6 10-3 0 0-5 3-3-1-6-13 19 0 7 2-42-8-3 0-15-2-5 0-12-5-5-3 2-6 53-1-5-7-6 2 6 0 7-2 1-3-8 0-8 3-5-5-11-8 13-2-2-4-17 2-3-13-49 0 4-4 3-2 22-2 3-2 15-11 12-4 14-2-36-13-23-13-12-64-45 0 5 54 75 5 12-6 18-10 7 10 3-3 14-8 11 0 5-3-10-12 0-2-3-3-15-7-10-35-30-85-115-13-14-3 9 1 15 22 85-2 105-3 5-23 6-4 4-3 0-3-5 0-172-5 5-5 15-7 10-33 67 5 25 12 38 0 10 8 15-3 7 2 5-2 3 0 17 8 42 3-6 3-1 3-27 7-12 13 19 0 15 2 0 3-12 4-6 7 11 3 14 8-28 4 9 0 10 3 1 1-4 5-2 4 41 6 4 5-10 3-18 3-6 4 14 2 30 2 1 4-1 0-13 4-7 2 5 3 17 2 2 5-10 2 9 4-8 0-33 2-2 2-17 4 9 2 23 7 17 0 8 6 0 0-30 2-3 1-16 2 16 2 3 0 27 3 8 5-8 2-15 4-6 5 27 3-3 1-13 4-2 7-32 5 4 6-40 1-2 6 3 4 9 3 25 3 1 4-7 2 1 5 38 6-6 4 16 4 0 3 30 7 10 0 7 7 14 4-6 0-10 6-20 8 15 1 7 5 13-1 12 3 3 0 20 4 5 0 20 3 0 0-23 2-3 0-19 4-15 6 5 1 12 9 3 3 12-3 1-3-2-3 4 3 32 4 0 1-20 4 0 4 53-6-25-4-3-7 41-8-36-3 18 3 5-5 10-5-10-8 8-7-34-3-2-2 3-2-8-3 10-5 7-5 0-1-7-4-2-6 17 0 10-6 1-7-21-3 9-5-11-1-11-2-3-5 3-10-3-13 13-2-3-5 9-1-23-6-8-3 2-1 6 3 3 0 25 2 5-1 2-3-2-5 0 2-33-3 0-1 6-8-10-5 2 3 15-1-5-4-5 1-10-2-1 0 13-2 2-7-14-2 10-9-5-3-18-8 0-1-7-4-3-1-13-6 8 6 18-4 22-6 1-2-3-3-35-5-13-6 28 3 7-2 11-7-18-1-9-2 1-3-2 5-2 0-4-2-4 0-8-2 0-4-2 1-13-3-3-4 9-3-11-7 21-1-3-2-2-2 22-3 9-6-24-6-13-3-21-1 16 3 5 1 13-4 15-4 0-8-13-2-7 3-23-1-20-3 0-3 5 1 20-9 16-6-20-4 4-6-10 0-7-4-3 0-17-3-5-3 3-1-1 1-13-10 9-2-4-2 1-8 22 4 8-4 5-3 12-11 13-64 46-17 16-50 35zM3160 1326l0 13 3 3 0-13zM3186 1321l-4 3 0 35 2 3 2 16 5-26 0-20-2-3 0-5zM3533 1201l-4 3-5 30 4 10zM3558 1233l-3 9 5 7 1-7zM3786 1367l-2 15 2 9 4-9-2-3zM3503 1248l2 9-3 2 0 10-4 5zM3398 1275l4 17-5-5zM3583 1296l0 6 3 2 0 13-3-5zM3740 1363l4 1 0 5-3 3 5 7 2 10-2 2-8-7zM3800 1395l4 2 2 15 5 5 1 15 3 2 0 25 2 5 0 13 10 10 35 52-2 1-22-15-30-5-15-5-6-6-1-7 2-2 12 0 16 7-10-20 0-10-4-5 1-20-5 1-3-29-3-2 0-5zM3776 1441l3 16 4 2 5 15 0 4-3 1-6 33-4-13-1-17-4-2-1 7 2 2-5 13 0 7-7 0 1-37-5 12 0 20-7 16-1-18 3-3 0-17 2-3 3-30 5-11 10 12zM3683 1460l6 37 2 27-5 2-7 13-6 2-1-7-5-2 1-15 2-4 6-46zM3706 1485l2 7 0 35 3 2 1 15-2 8-4 1-6-16zM3650 1488l15 21-2 5 0 18-5 12-6-20-4-6-2 2-1-3 2-23zM3578 1505l2 2 4 12 3 38-3 30-4 10-6-48-3-5 1-32zM3288 1511l2 1-4 22-3-10zM3616 1513l4 6 0 25-3 5 4 13-1 2-3 0-4 25-3 0-2-10 4-15-1-20zM3643 1524l2 23-3 2 0 25-4 12-3-4 0-40 3-11 4 1zM3730 1526l1 11-3 5 2 13-2-1-8-15 3-3 1 6 3 0zM3423 1558l1 26-4 20 0-7-3-3 0-15 5-10zM3431 1572l7-2 1 7-6 3z"/><path fill="#2cc4a7" d="M3033 1037l676 0-54 50-48 72 13 15-5 58-3 5 4 15 7-14 3 6 2 0 1-7 4-3 0-2-4-3 0-12 11-12 1-8 7-12 4 2 12 20-14 70-1-10-3-6-5 6-1 7-2 3-3-18-5-6-2 9-5 4-1-7-10-7-3-28-2-2 2-3-1-6-4 1 0 15-4 12-7-20-3 2-4-1-5 7-4 25-4 3 2 7-3 0 2-32-2-5 0-30-4-12-3 4-3 35-9 15 1-10-2-2 0-13-3-7-6 1-4-4 0-5-3-5-3 4-7-6 2-48-8 10-5 35-2 4 0 11-4 5-2 13-3-3-10-45-2 0-2 6-1-1-1-7-2 0 0 11 3 1-3 20-2 3 0 7-6 13-10 11 0-26-5-8 0-5-10-12-13-12-50-33-7-7-15-10-2 2 64 91 2 6-5 15-9 9-6-14-152-152-2 1-3 11 0 8-5 17-8 15-5 3-7 20-7 10-33 67 4 25 12 38 0 10 8 15-2 5 2 7-2 3 0 20 2 2 2 28 4 9 7-7 2-27 7-11 12 18 1 15 1 2 8-20 6 11 4 15 8-29 4 20 3 0 5-6 3 40 7 6 7-11 5-23 4 13 2 30 2 2 4-2 1-13 3-4 2 2 3 17 2 2 5-9 2 9 4-9 0-33 3-2 1-16 13 56 2 1 4-1 0-28 3-5 0-16 1 16 3 3 0 27 3 8 2 0 6-23 3-5 5 27 4-4 0-13 5-2 5-30 7 2 5-40 1-1 7 4 5 32 4 1 2-5 3-1 7 39 5-7 5 17 3-1 3 30 6 10 6 20 2 3 4-8 1-10 5-18 8 13 0 7 5 13 0 12 2 3 0 20 4 5 0 22 5-2 0-23 2-2 0-20 4-15 5 5 1 12 4 5-2 18 3 5 0 22 4 3-7 31-3-16 0-36-7 16-6 34-1-7-3-3-3 5-9-14-6-37-2 2-5 32-3 5-4-7-3-18-5 2-1 23-4 20-5 0-4-17 0-23-3-5 0-10-3-5 0 38-4 0 0-13-4-3-5 2-7-1-5-8-1-8 0 11-3 10-7 8-4-32-1 6-5 6-7-13 0-5-1 7-3 3 1 10-4 2 0 5-7-10-3-27-3-8-5 45-1-7-3-5-9-8-2-35-3-3-4 3-5 30-7-30-11 15 3 13 2 2 0 17-3-4-3-43-2-1-7 3-4 26-3 2 2 19-3-4 0-10-3-2 0-18-2-2-1-13-3-5 2-5-4-2-1-15-5-3 0-2-8 7-4-7 0-6-8 9-1 9 5 18-3 12-3 4-8-20-3-21-4-3 2-7-3 0-2 15-2 2-3-2-2-28-3-7 1 12-4 3-1 5-3 2 2 5 0 15-7 15-6-21-3-4-1 5-3-5-4-22-5-10-1-13-5-8-2 1-6-4-6 6 0 15-8 15 2 14-9 21-86 67-50 35 0-71 101-101 2-5-2-20-4 0-4 15-93 92zM3150 1379l0 13-3 5 1 26 1-21 2-5zM3163 1321l-6 6 2 15 4 3zM3170 1432l-3 10 3 4 3-9zM3186 1320l-5 4 0 35 2 3 3 17 1-2 2-20 2-3 1-20-2-10zM3203 1319l-4 5 1 20 3 3-2 12 2 2 0-24 3-3 0-10zM3725 1037l195 0 0 434-77-37-7-9-2 12-4-2-1-36 6-12-5-9-4 20-1-9 2-5-1-6-7 19-3 2 0-22 7-15 6-48-6-11-3 14 0 25-2 2-5-8-1 8-9 9-3-4 8-42-1-8-3-5 4-20-2-10 5-10 3-25 4-5 0-38-4-9-6-38-3 0-12 38 1 12-2 5 0 23-3 5-2 35 1 2 10 5 2 5-4 4-9 1 0 5 10 8-4 7 2 3 0 12-3 8-4 3-2-2-6 5-2-6 1-15-3-2-4 2-6 45-1-8-5-2 0-5-7-2-3-7-3 6-1-7-3-1-1 11 4 5 0 5-6 14-3-7 1-5-3-2 3-3-1-10 2-5-2-10-4-3-5 1-2 20-3-5-5 0-2-2-9-18 1-10 5-13-3-10 2-2 1-33 7-25-2-1-5 2-17 17-1 47-5 5-8-7 0-40 2-8 0-22-10-5-3-10 0-20-2-5 1-15zM3760 1315l-3 2 3 11 2-9zM3420 1252l5 2-2 10-3 0zM3673 1259l5 13-2 21-8-4-1-5 1-5 4-2-1-15zM3810 1424l1 8 2 2 1 28 2 2 0 13 10 10 30 45 2 7-20-15-29-5-16-5-5-6 0-6 12-1 13 7 4-1-9-20 0-10-5-8 1-20 3-2zM3763 1442l4 5 5 15 6 2 3 8 2 13-2 4-1 11-2 1-3-19-5-5-2 0-2-6 1-12-4-2-4 5 0-13zM3680 1463l5 11 5 50-7 3-5 10-3-8-2-27 2-5 0-20 3-11zM3280 1477l3-1 5 4 0 5-8-3z"/><path fill="#4acb84" d="M3033 1037l225 0 0 42-3 23-15 32-6 8-7 20-5 5-28 55-6 17 3 20 12 38 1 10 4 2 5 13-2 5 2 7-2 3 0 20 2 2 0 15 3 3 2 17 5 6 1-8 3-3 3-27 6-11 10 18 1 15 3 2 8-19 10 26 8-29 3 8 0 10 4 2 5-6 3 39 7 7 3-2 5-10 4-23 6 43 2 2 5-2 0-13 3-1 4 16 3 3 5-6 2 5 4-9 1-33 2-2 1-15 5 20 0 10 7 17 1 8 2 2 4-2 0-28 3-5 0-15 1 15 2 3 1 27 4 9 10-29 5 27 4-4 0-13 5-2 5-30 7 2 5-40 7 2 3 8 3 25 4 2 5-7 5 38 2 1 5-7 5 17 2-1 4 30 3 5 2 12 4 10-3 13 2 2 3 33-7 12-2-7-2 2-1 30-3 9-3-6-3-50-1 0-3 9-8-17-2 37-2-1-2 1-2-9 3-3 0-22 2-3 2-12-3-3-1 10-1 2-6-2 2 43-5 0-3-8 0-10-5-12 1-8-7-4 0 27 2 5 0 15-5 7-1-15-2-2-1-30-3-3 0-18-2 3 1 20 2 5-1 13-3 4-7-16-5 12 0 9-5 3-3-5 3-40-5-5-2-10-3 0 1 8-5 2 1 8-4 32-3 1-6-6-3-35-3-5-1-11-2 1-1-2 1-8-2 4-8 1-2 3-3 15-5 7-5-15-7 9-3-9-5 3 2 7-2 12-3-2-4-40-3-9-5 8-3-4-2 0-8 7-4-12-8 9-2 0-5-6 0-8-3-2-2 7-7 3 0 7-3 8-4-28-4-9-2 2 1 12-4 3 0 5-4-10-1 25-2 2 0 12-3-17-6-5-4-38-1 11-4 6-7-31-4 0-1 3-8-13-2 12-4 5 2 3 0 10-4 10-1-8-6-7 0-20-2-3-1-15 2-5-3-5-6-3-2 8 5 10 0 13 2 5 0 15-2 6-3-1-3-43-2-2-1 2-1 23-2 0-1-8-3 6 2-36-8-7-6-1-2-3-2 4 7 17 0 15-3 6-2-5-1-11-5-1-4 15-93 92zM3160 1311l-6 6 4 41 3-11 4-3 0-22-2-10zM3186 1317l-7 7 1 33 4 22-1 2-5 0-4 8 9 13 9-50-2-30zM3200 1318l-3 4 2 37 4 4 1-26 3-3 0-7-3-8zM3269 1037l437 0-48 44-30 18-10 3-28 15-19 17 4 5 0 5-2 3-3 20-3 2 0 15-4 3 0 15-3 11-4-8-10 2-6-3 3-15 1-45-4-19-4 19-3 3-5-8-9 13-9 52 2-52 2-8-1-12-8 17 0 13-3 2 2 20 2 5 0 28-8-35-5-10-3 6 0-6-6 0 0 12 2 5-2 15-8-31-123-60-34-34zM3817 1037l103 0 0 433-77-38-7-10-3 2 0 10-3-3 0-29 3-10 4 10 0 12 6-2-1-3-1-15 5-25 0-3-3 2-4-6 3-5-4-25 3-25 5-13 2 3 0 19 2 1 8-20 0-5-5-3 5-12-2-2-3 2-7 17-2-2 2-8 0-27-5-5-5-15-8-35-11-25-3-25-5-15 2-70zM3533 1147l5 25-1 20-4 5-4-8 0-22 3-3zM3583 1151l5 2-2 54-4-5 0-13-5-12 5-8zM3608 1166l10 11-2 10 0 20-3 5 0 17-3-7 2-8-6-5-5 5 0 13-3 5-4-15 9-10 3-38zM3604 1197l2 4 6-2-2-4zM3648 1186l4 3 10 20-5 18 0 10-4 2 1 13-1 1-4-1-1-8-2 11-1-6-5-9-7 12-3-5 0-9 5-4-5-7 0-8 12-12 0-10zM3643 1209l3 6 7 5 1-6zM3786 1194l1 20-2 5-3 40 14 7 0 3-14 3 0 10 11 4 1 3-11 3 8 5 0 12-2 8-3-2-3 5-3 0 2-8-4-15-5 0-4 5-1 11-8 1-3-12 1-3 3 0-1-10 3-2-3-13 3-30zM3818 1228l14 31 0 20-2 3 2 2 1 23 2 2 0 48-5 4-4-5-1-4 2-5 0-15 4-18-8-16-2 1 0 13-3 2 0 24-5-4-3 5 0 5-4 5-3 0 2-17 3-3 0-15 2-7-2-15 4-18-2-10 2-2 2-20zM3746 1245l2 2 0 7-2 3-3 27-3 2-1-22 3-2 0-13zM3730 1258l2 19 2 2 1 25-2 1-1-13-6-10 0-10zM3750 1304l3 19-5-1-2-5 4-3zM3138 1416l1 6-6 10-71 72 1 2 23-17 74-36 6-4 2 0-2 11-133 106 0-45zM3158 1421l1 11-3 0-2-8zM3490 1456l6 11 0 7 5 13 0 12 2 5-1 18 4 5 0 22 3 5 0 10-6 15-8-12-6-35-3-10-3 1-6-9 9-52 2-5zM3518 1489l3 3 1 10 4 7-1 18 2 7-1 3-3-3-2 3-3 8-4-8-1-13 2-2 0-20z"/><path fill="#81cc59" d="M3257 1037l0 42-3 23-12 27-8 13-8 20-4 5-29 55-11 37-42 53 7 2-7 5 0 13 2 2 0 25 3 5-5 6-2 0-2-4-3 3-2 20-7 18-91 91 0-87 33-10 47-25 4-7-3-5-4-21-1 14-9 8-4 0-63 32 0-360zM3128 1273l-5 0-6 6 1 11 3-1 1-7zM3270 1037l375 0-72 45-15 17-12 3-13 43-3-3-2-5-8 9-2-2-2-13-3 0-9 18-1 13-2 0-8-23-21 0-6 2-160-80zM3818 1037l102 0 0 431-80-41-1-3 5-2-4-5 6-5-3-18 5-25-3-5 1-15 2-5 0-15 2-2 1-8 6-20 3-2 0-5-4-2-1-3 5-10-4-5-8 10 0 5-1-30-4-5-10-35 0-8-15-34-3-23-5-17 0-36 3-5 1-40zM3556 1110l4 4-2 5 0 10 2 3-6 20 4 17 2 30-2 2-8-6-7 10 8-91zM3570 1145l1 12-3 10-1-15zM3648 1188l13 19-5 30-1-13 2-5 0-7-14-8 0-7zM3818 1232l13 27 0 18-2 5 2 2 0 23 3 5-1 34-3-2-2-10 4-20-10-20 0-7 2-3 0-20-9-10zM3730 1271l3 18-5-10 0-7zM3846 1296l0 21 4 5-7 19-3-7 0-10zM3190 1325l5 2 0 10 2 2 1 40 2 11 1-23 4-8 0-22 3-3-1-10-5-7 6-6 4 11 0 52 8 33 4-3 1-12 3-3 2-27 6-10 2 2 2 20 2 3 0 27 4 13 3-28 4-5 2-12 3-3 2 3 5 20 3 2 8-26 2 4 0 10 5 4 3-1 2 32 8 7 4 18 3-3 1-17 6-29 5 31-1 8 4 4 5-4 0-11 4 6 0 22 3 8 2-10 5 2 1 18 3-15-6-15 5 0 5-10 0-33 4-7 6 30 5 16 3 2 4-3 0-28 3-4 3 3 0 26 3 8 2 2 2-2 6-23 2-2 3 22 2 3 4-5 1-13 4-2 6-30 5 3 7-41 6 2 3 8 3 25 4 2 4-7 6 38 2 1 5-6 3 15 4 2 3 28 3 5 1 15 2 2 2 38 3 2 0 13-3 7-5-12 0-20-3-13-3-1-3 11-3 3 1 12-3 3-2 8-6-16-3-2 1-10-5-5 0-5-3 0 0 7-6 8 2 42-2 0-7-27 4-15-1-13-2 0 0 10-4 9-8-15-1 6 4 3-2 30 2 7 0 15-3 3-5-70-2-3-4 10 0 20-3 8-4-5 0-13-3-7-8-3-3-12-6-5-5 12-4 44-5-6 0-8-2-4 0-18-3-8-1-20-5-2-1-5-4 10-2 1-2-2-2 1-4 10 0 10-4 5-5-19-5 9-7-5-1-14-5 26 0-10-2-2 0-18-3-2-2-18-5 17-3-5-10 9-1-8-3-5-8 10-2 0-13-31-2 13 3 3 0 7-6 1-2 6-4-22-6-11-6 13-10-35 0 13-4 9-6-14 1-15-3-18-2 0-1 13-5 15-4 4-8-13-3 2 5-30 0-20 2-3zM3360 1450l-3 7 3 8 3-6 0-8zM3163 1369l3 9-7 1zM3173 1393l7 9 0 17-2 5 2 8-2 3-4-3 0-20-2-5zM3490 1458l6 11 5 35-2 8 0 35-3 12-3-4-3-26-7-12 3-45z"/><path fill="#b9c431" d="M3257 1037l-1 55-10 27-45 90-9 13-11 37-43 53 6 2-6 8 0 10 3 5 0 22 2 3-2 7-3 0-3-7-1-10-2-3 2-15 4-5-1-7-4-1-5 21 0 7-5 3-2-8 2-5-5-11 0 12 2 7-4 6-7-14 0-5-3-4-6 16-67 33 0-20 54-17 11-8-5-5 1-5-4-9-12 7-45 15 0-300zM3088 1307l-4-8-8 0-37 13-2 2 21-5 28 0zM3088 1224l-3 3 1 13 2-3zM3148 1264l-15 7-10 1-7 7 0 10 7 3 2 5 0 17 3 3 0-18 3-5 0-7zM3326 1037l318 0-34 19-37 25-15 17-12 3-4 6-9 37-2-2 3-10-1-25-4-3 3-5-6-2 0-5-2 15 3 5 0 25-7 8-4-17-5 4-3 7-2 0-3-20-120-60-5 0zM3819 1037l101 0 0 389-32-18-22-4-16-5-5-5 4-7-1-13 4-42 6-28 2-2 3 2 2 13 1 20 2 5 2-1 4-9 1-23-4-2-2-5 3-5 4-58-10-34-50-133-2-18zM3556 1111l3 3-2 5 0 10 2 3-3 14-5-19 1-13zM3193 1326l1 11 2 2 1 40 3 13 2 0 0-25 3-8 1-23 2 0 2 6 0 32 3 3 0 18-3 0-2-12-4 1 0 13-6 18-2-1-6-40 0-17 3-5 0-20-3-5zM3420 1349l6 3 2 7 3 25 5 2 4-5 3 28 5 10 5-6 8 26 2 18 3 5 0 25-6 3-3 7-7 27-2-2-4-10 2-33-6 3-2-1-8-15-2 13-4 3 0 10-3 2 0 10-3 7-8-27 1-5-8-4-5-8-3 2 0 18-5 14-7-2-5-19-2 4-5-5-3-12-2 4 0 11-5-3 0-15 3-5-1-22 5-5 0-30 2-1 2 3 1 25 3 10 2 0 3-2 7-19 5 37 1-16 4-7 0-12 4-3 6-30 5 4 1-2zM3236 1354l2 2 1 18 2 3 0 30 5 12 2-2 3-28 6-17 4 5 5 26 2-1 5-27 3-2 1 1 1 8 3 5-2 7 2 5 0 15 3 3 1 12 2 3 1 12 2 3 0 12-7 8-3 0 0-5-3-5-1-13-4 3-2 11-4 8-6-19-7-13-2 3-1 6-2-1-5 5-7-19-3 9-3 2-2-4-6-26 3-5 1-10 3-5 1-26zM3173 1394l6 8 0 17-3 3 0 10zM3348 1392l2 5 2 35-3 15-4 2 0 18-5 11-2-6 1-10 3-3-1-20 4-12 0-33zM3308 1417l4 5 1 65 0-13-4-2 0-15-3-3-1-15 1-16zM3326 1450l2 4 0 18 3 5-1 17-2 2-8-29 3-3 0-12zM3490 1462l6 15-8 42-3-2 0-10 3-5 0-30z"/><path fill="#e6bb2d" d="M3256 1037l0 47-3 18-25 54-7 11-21 42-82 42-6 6 3 40-3 5 7 2 1-12 3 5 1 20 4 6 5-11-3-3 0-10 4 0 0 13 2 5 0 2-3-2-2 2-3 20-3 3-6-25-3-4-2 9 2 2 0 18 2 2-2 5-10-21-5 6-1 11-67 32 0-16 55-18 10-5 2-4-5-5 1-5-6-13-2 4-10 5-45 15 0-20 10 0 15-4 31-2-3-12-6 0-47 16 0-276zM3090 1220l-7 7 2 17-5 8-1 10 4 5 0-13 3-2 0-10 3-5zM3103 1244l-8 3 3 42 3 0zM3383 1037l260 0-33 18-37 25-15 17-12 3-5 7-5 25-1-25-5-3 4-5-7-2-1-6-8 1 2 32 3 5 0 5-3 3-4-10-6 4-1-2 1-25-4-2 7-3 0-5-70-35-57-20zM3819 1037l101 0 0 388-20-10-45-36-2-12 0-20 7-33-2-6 2-3 1 9 3 5 0 20 4 9 2-5 3 7 33-1-10 0-16-5-6-7 4-2 20-1-9-5-13-15 3-10 0-20 2-2 0-13-7-2 2-30-10-33-5-7-5-20-5-8-5-20-5-7-5-20-5-8-5-20-10-22-1-18zM3863 1363l-2 6 5 7 1-9zM3556 1112l2 2-2 3 0 12 2 3-2 2 0 10-4-17 1-13zM3196 1339l0 43 3 10 1 2 3-5 0 5-5 19-8-41 4-30zM3206 1340l2 2 1 27-3 13-3 2 0-17 3-8zM3420 1349l5 3 3 7 3 25 5 4 2-1 2 5 1 17 2 8 5 2 3-2 5 7 4 15 1 25 3 3-1 20-6 2-3-7 0-10-4-3 4-5-2-15-2 0-5 25-5 7-4-12 0-11-6-2-2-4-2 0 2-10-5-6-3 23-5 15-2 3-4 0-3-23-3-1-4 11-5 5-3 30-5 0-2-20 2-5 2-18 1 8 1 2 5-12 0-17 4-5-1-10 5-5 5-29 5 3 2-2zM3233 1364l3 5 0 28 2 2 0 25-1-15-2-5zM3273 1384l3 10 0 45-1-10-8-17zM3348 1393l2 36-3 3 0 15-3 2 0 18-4 10 2-38 3-12 0-30zM3370 1403l0 39 5 2 0 8-7 2-5 26 1-43 4-5 0-28z"/><path fill="#fec338" d="M3139 1037l-63 170-9 17 5 5 3 8 0 12-9 2-33 16 0-230zM3255 1037l0 42-4 23-23 51-28 52-4 7-78 38-7 7 2 42-8 13-2 12-5 4-14-39 0-7-3-3 1-10 3-2 0-13 2-2 0-10 3-5 0-12 4-11 120-177zM3103 1242l-9 5 2 42 2 2 4-2 0-27 3-3 0-15zM3385 1037l153 0-3 22-2 5 2 10-2 8 2 15-7 0-1-5-4-6-5 2-10-10-22-10-33-8zM3820 1037l100 0 0 317-12-2-2-4-10-1-16-5-5-5 25-3-10-6-13-14 0-5 3-2 0-23 3-2-1-13-7-2 2-30-10-33-5-7-5-20-5-8-5-20-5-7-5-20-5-8-17-50 3-25zM3085 1314l-52 19 0-16 10 0 17-5 23 0zM3420 1350l6 4 4 30 4 5 3 43 3 10 10-22 3 2 5 15 0 12 2 3 0 6-2-4-3-15-2-2-2 2-7 35-4 6-6-33-8-16-4 1-6 37-5 8-8-33 0-16-2-6 4-13 3-17 5 0 2-3zM3348 1396l0 33-2 3 0 13-3 2 0-9 5-11zM3368 1434l1 13-3 2-1-12z"/><path fill="#f7dc2a" d="M3820 1037l100 0 0 241-37 1 0-12-5-3 2-17-5-20-59-165zM3090 1239l3 5-1 15 2 5-1 30-3 6-6-23zM3882 1339l24 0 12 5 2 5zM3420 1351l4 1 3 15 7 72-1 2-6-7-4-15-5 0 0 25-5 27-4-7-1-17-2-5-1-15-2-5 5-13 0-12 2-5 3 2 5-15zM3443 1441l2 23-5 13-4-28z"/><path fill="#f7f51b" d="M3423 1352l3 15 3 47 3 5-4 15-9-27 0-8-4-7 4-13 0-15z"/></g>
<path d="M3063 1164L3063 1559L3433 1744L3895 1606M3433 1744L3438 1754M3433 1744L3427 1753M3549 1709L3554 1719M3339 1697L3333 1706M3666 1674L3671 1684M3246 1651L3240 1660M3783 1639L3788 1649M3153 1604L3147 1613M3063 1559L3053 1559M3063 1454L3053 1454M3063 1349L3053 1349M3063 1244L3053 1244" stroke="#585858" stroke-width="7.5"/>
<!-- F8 -->
<path d="M4563 1554L4563 1172M4896 1728L4563 1554M5332 1599L5332 1217M4896 1728L5332 1599M4781 1490L4781 1108M5114 1664L4781 1490M5166 1512L5166 1130M4729 1641L5166 1512M4999 1425L4999 1043M5332 1599L4999 1425M4999 1425L4999 1043M4563 1554L4999 1425M4563 1554L4999 1425L5332 1599M4563 1450L4999 1321L5332 1495M4563 1346L4999 1217L5332 1392M4563 1242L4999 1113L5332 1288" stroke="#dedede" stroke-width="6"/>
<path d="M4563 1554L4999 1425L5332 1599" stroke="#b4b4b4" stroke-width="7"/>
<path d="M4999 1425L4999 1043M4563 1172L4999 1043L5332 1217L5332 1599" stroke="#585858" stroke-width="7.5"/>
<g stroke-width="8.5" stroke-opacity="1"><path d="M4991 1453l-9-4 3-3 9 0 5 1 1 2-4 3z" stroke="#402ab4"/><path d="M5237 1582l-16-2-4-2-2-4 2-3 9-2 18 2 4 2 0 4zM5060 1489l-4-2 3-2 7 0 4 1-3 3zM5001 1458l-26-1-7-4-1-5 5-5 8-3 13 0 14 2 7 3 1 6-5 5zM4687 1548l-11 1-10-1-7-3 0-3 2-3 5-2 20 0 4 1 3 5zM4899 1480l-8-1-1-2 5-3 7 2 1 2z" stroke="#4852f4"/><path d="M4971 1706l10-5 12-2M5279 1615l5-5 7-3 24-3M5239 1586l-28-3-7-4 0-7 8-7 11-1 16 0 15 4 5 4 0 7-5 4zM4927 1676l-13 1-13-2-6-4-1-4 5-5 9-2 22 1 7 3 2 5-4 5zM5145 1609l-18-1-6-5 2-3 7-3 14 1 8 3 1 2-3 4zM4995 1648l-8-1 0-3 12-1 2 2zM4822 1689l10 3 7 6M5184 1551l-11 1-14-2-5-4 0-4 5-5 5-1 17 2 8 3 2 2-1 4zM4857 1640l-7-2 4-3 10 2-2 2zM5140 1531l-7-1-11-8 2-3 6 0 19 6 0 4zM5114 1517l-14-2-5-4 2-3 8-2 14 1 4 4 0 4-3 2zM5074 1497l-24-2-8-3-2-6 4-5 9-3 12 0 15 2 6 4 1 5-4 5zM4754 1586l-18-1-3-3 0-3 2-3 9-2 14 1 6 5-2 3zM5002 1463l-18-1-18-2-7-4-2-7 5-7 12-5 18-1 24 3 8 6 0 8-7 7zM4685 1553l-29-2-7-3-2-7 4-5 13-4 19-1 14 2 7 4 1 5-1 3-9 7zM4904 1486l-24-1-7-3-1-5 5-5 8-3 15-1 12 2 7 3 1 6-6 5zM4762 1526l-20 0-6-3-2-3 2-4 8-3 23 0 4 1 1 5-2 4zM4836 1501l-15-1-1-3 2-4 8-3 14 0 6 4-1 3zM4794 1511l-8-4 2-3 20-4 8 1 0 3-16 6zM4576 1561l22 5 4 4 1 5" stroke="#327cfc"/><path d="M4960 1709l7-8 8-3 30-2M5047 1684l12-6 14-2M5100 1668l5-2M5134 1658l17-5M5184 1643l12-8 24-3M5270 1618l5-9 9-6 17-2 23 1M4891 1726l11 0M5246 1590l-34-1-15-4-4-7 2-17-3-2-43-7-5-3-6-10-17-5-18-11-17-6-6-10-5-3-29-5-13-5-3-4 1-9 4-5 9-3 28 1 16 4 8 6 4 12 29 8 10 8 22 10 9 8 28 8 4 4 1 14 44 6 15 3 7 7 0 5-3 6-9 6zM4928 1681l-19 0-18-3-7-6 0-7 6-8 9-2 30 1 17 3 4 4-3 10-9 6zM5148 1614l-36-1-5-2 0-5 4-8 6-4 16-2 17 1 13 4 2 5-4 8zM5001 1655l-20-1-9-3-2-2 0-5 6-6 10-2 26-1 12-7 29-7 13-7 24 0 8 3-1 6-6 4-21 3-24 9-22 2-10 10zM4812 1684l29 6 5 4 1 9M4870 1647l-13 0-17-3-6-4-3-10-19-5-17-11-19-6-3-4 1-4 6-4 6 0 23 3 8 8 23 10 3 7 3 2 29 5 6 4 0 5-3 4zM5082 1579l-17-2-3-1-2-5 4-5 5-1 21 2 5 4-1 4zM4938 1618l-10 0-3-2 0-3 6-2 10 0 4 4zM4760 1657l13 4 8 7M5048 1558l-8-1-3-1 1-3-3-2 17 3 0 2zM4736 1645l4 1M5022 1544l-15-1-5-4 3-4 5-1 13 1 4 5-1 3zM4701 1626l13 7M4771 1591l-19 1-22-3-7-3-3-3 0-5 3-4 7-4 19-1 16 2 8 3 3 4-1 8zM4982 1523l-27 0-8-3-2-5 4-5 8-3 23 0 8 3 3 5-2 5zM4828 1564l-16-2-4-5 1-3 8-3 22 1 5 4-3 4zM4907 1538l-12-3 1-3 3-2 11-2 10 2 1 3-3 3zM4871 1547l-7 0-3-2 1-2 19-1zM4648 1599l22 5 6 9M4692 1557l-27 0-23-5-4-4 0-5 4-8 7-4 14-3 53-1 10-13 6-3 33-5 14-7 28-7 14-6 34-4 12-12 11-5 34 0 12 1 7 4 0 5-3 7-4 4-8 3-42 3-8 3-11 8-21 4-24 8-21 4-11 8-8 3-46 1-4 2-11 19-7 3zM5031 1442l2 6-1 5-2 6-5 5-9 2-28 0-27-2-13-5-1-5 2-6 8-10M4569 1557l23 2 14 4 5 7-1 9M4972 1433l28 0 20 3" stroke="#20a5e3"/><path d="M4951 1712l7-12 9-6 53-2M5031 1688l17-12 32-5 15-7 27-7 15-6 32-5 20-14 16-3 27 0M5260 1621l6-10 4-15-92-6 2 2-6 13-4 6-6 4-9 2-37 2-8 4-12 8-20 3-25 9-20 3-12 9-8 3-42 2-8 3-11 16-6 4-10 2-22 0-28-3-8-3-4-4 0-17-4-4-40-7-5-4-6-9-17-6-18-11-18-6-5-9-6-4-34-6-8-3-2-5 0-6 3-13 3-2-92-5-6 15-1 10M4885 1722l26 2M5277 1570l-1 11-6 15 62 3M5171 1590l7 0 3-2 4-16-3-7-8-3-34-7-6-4-5-9-18-6-18-11-17-5-6-10-5-3-40-8-4-4 0-16-4-5-8-3-21-2-29 0-10 1-6 4-11 16-8 3-42 3-8 3-12 8-20 4-25 8-20 4-12 8-8 3-37 2-9 2-8 7-8 16 2 2 77 5-3-2 4-10 9-8 34-4 13-7 28-7 14-7 35-3 16-17 10-1 22 0 15 2 9 3 3 4 0 11 5 4 27 6 9 8 22 10 9 8 30 8 3 4-1 5-2 9-4 2zM4943 1652l11-4 13-15 35-3 14-7 28-7 13-7 34-3 9-9 4-9-3-2-61-4 3 2-1 3-4 7-4 3-22 3-24 9-22 2-9 10-7 3-17 1-20-3-4-4-2-10-20-5-17-12-19-5-2-4 1-6 1-3 4-2-61-3-4 1-3 14 3 5 30 7 9 9 22 9 9 9 31 7 1 2 0 11 3 5 15 3zM4801 1679l49 8 3 2 2 5-1 12M5032 1582l12-1 2-9-2-5-19-5-17-11-20-5-2-11-4-4-17-2-20 0-7 3-9 10-22 3-24 9-22 3-5 4-4 8 3 2 39 3 4-2 5-8 30-6 7-7 4-1 14 0 11 1 3 2 2 8 24 9 0 8 3 2zM4949 1603l6-1 7-7 30-6 5-8 4-1-30-2-17 9-10 2-10-3 0-2-7-4 0-3-3-2-30-1 3 1 0 8 24 10 2 7 3 2zM4963 1578l8 0-3-2 0-3-10-7-7-1-10 1-17 9zM5102 1479l8 14 28 9 10 7 21 10 10 8 27 9 10 16 14 4 26 3M4639 1594l26 3 14 5 10 16 27 8 10 8 21 10 10 8 28 8 8 14M5041 1447l-1 13 2 4 3 2 49 9M4563 1554l62 4 4-15 6-10M4663 1524l27 0 16-2 20-15 32-5 15-6 27-7 15-7 32-4 17-13M4875 1462l53-3 9-5 7-13M4984 1430l26 1" stroke="#19bfb6"/><path d="M4938 1716l8-11 2-6-1-5-13-4-27-3-28 0-9 3-5 4-2 6-1 5 2 6M5236 1625l10-3 8-5 3-7-2-7-6-3-12-3-39 0-12 5-11 19-4 1-46 1-8 3-11 9-21 3-24 9-21 3-11 9-8 3-42 2-11 6-4 11 3 4 10 3 22 1 18-1 11-5 12-11 34-4 14-7 28-7 14-7 33-4 6-4 10-13zM4875 1717l20 3 28 0M5285 1575l-1 9 5 6 14 4 23 2M4846 1680l10-1 6-4 4-9-4-7-13-4-29-5-5-4-6-9-17-6-18-11-17-6-6-9-5-4-43-6-3-2-1-3 3-14-4-7-15-4-34-2-15 3-7 7-1 6 2 5 9 5 55 9 1 13 4 4 28 8 9 9 22 9 10 8 29 8 4 13 8 6 16 3zM5152 1584l13-1 7-3 3-6-3-6-11-4-18-3-14 0-8 3-3 9 4 7 8 3zM4930 1647l12-2 6-3 2-6-5-4-27-3-9 2-5 5 0 5 6 4zM5070 1603l8-1 8-3 1-4-4-4-22-1-9 5 1 5 3 2zM4985 1625l11-1 3-3 1-3-9-2-14 1-3 4 1 2zM5022 1612l11-1 1-3-3-2-7 0-10 6 5-2zM5219 1540l6 9 22 6M5114 1557l5-1 2-3 1-3-3-5-19-5-17-12-19-5-3-10-6-4-24-3-11 2-5 4-1 4 2 5 8 3 25 4 3 2 3 7 23 9 8 9 16 3zM4878 1619l12-1 2-2 0-4-12-3-11 2-1 3 1 2zM5181 1520l13 7M4857 1601l3 1-3-1 1-3-3-2-12 1 0 2 4 2zM5155 1507l4 2M4826 1588l5-1 4-4-2-5-3-2-17-2-9 2-4 3 0 3 5 4zM4960 1543l9-2 1-4-6-2-12 1-1 4zM5114 1485l8 8 13 3M4991 1498l14-2 5-5 1-9-7-6-18-3-25 0-11 5-5 7 1 8 8 3zM4769 1561l9-2 7-5 4-9-1-3-5-1-36-1-9 2-8 7 2 7 7 3zM4909 1517l13-4 4-6-3-5-16-3-18 1-8 3-10 9-22 3-24 9-21 3-6 4-1 6 8 3 24 0 13-8 29-6 12-8zM5048 1451l1 8 5 4 29 6M4571 1552l23 0 17-2 9-6 5-8M4675 1521l24-3 12-8M4744 1500l17-5M4790 1487l5-1M4822 1478l14-2 12-6M4890 1458l30-3 8-3 7-8M4993 1427l11 1" stroke="#57cc7a"/><path d="M4914 1717l16-3 7-6 1-9-9-5-18-3-24 0-9 3-7 7 0 7 8 6 17 3zM5228 1622l12-3 7-6 1-5-9-6-15-2-19 1-10 3-5 7 1 5 7 4zM5004 1685l11-2 6-4 2-5-3-4-11-3-18 0-10 2-6 6 1 5 7 3zM5144 1641l15-4 2-3-4-5-10-2-14 0-8 3-2 4 1 5zM5058 1664l12-2 5-6-1-2-6-1-19 2-3 2-1 3 2 2zM5084 1653l23-4 2-3-7-3-7 0-16 7 0 2zM5292 1578l1 6 4 4 22 5M4834 1676l17-3 4-5-2-6-8-4-18-1-11 1-6 4-2 5 4 4 8 3zM5151 1579l9-2 2-2 0-4-3-2-18-2-9 4 0 3 5 4zM4790 1648l9-3 1-3-2-2-17-4-6 0-3 2 0 4 4 4zM4762 1634l9 0 2-2-11-9-7-1-9 3 0 3zM4728 1617l8-1 5-5 0-3-5-4-20-2-11 5-1 3 5 4zM5034 1518l7 1 4-4-4-1-8 0-2 3zM4672 1590l11-2 8-6 0-7-7-5-17-3-17 1-9 2-6 6 1 6 9 5zM4991 1493l8-4 2-4-3-5-9-3-21 0-8 3-4 4 2 5 7 3zM4758 1556l11-1 4-3 1-3-6-4-6-1-16 2-4 4 1 3zM4903 1511l5-2 0-2-5-2-9 3 2 2zM5056 1455l7 6 10 3M4580 1549l24-2 7-4 5-5M4902 1454l12-2 10-5" stroke="#c5c22a"/><path d="M4908 1714l11-2 7-4 2-6-4-4-16-3-14 0-9 3-5 4 1 6 7 3zM5225 1618l8-3 3-4 0-2-7-4-16 0-6 1-4 4 0 3 6 4zM4998 1679l7-2-1-3-8 0-4 1 1 3zM4829 1669l7-1 3-2-3-2-8 0-3 2zM4661 1585l13-1 6-4 0-3-5-4-6-1-11 0-9 2-2 2 1 5z" stroke="#fec338"/><path d="M4901 1708l9-1 3-3-7-3-7 0-4 3 1 2z" stroke="#f7f51b"/></g>
<clipPath id="cF8"><path d="M4582 1232l11-21 3-1 7 4 8 16 17 63 3-1 11-45 13-25 5-3 10 5 10 17 8-12 5-2 6 3 18 45 6 8 8-6 4-12 10-20 8-9 10 3 7 9 23-13 6 2 4 8 7 0 23-44 8 4 10 20 4 15 15 15 9-15 5-15 3-23 10-35 8-20 4-5 7-1 5 6 15 45 7 34 12-41 10-23 11-11 4 0 10 9 4-3 4-14 9 44 3 38 6 20 3-3 8-17 6-6 8-2 3-5 6-37 10-25 6 2 10 28 4 27 13 56 3 2 8-3 6-22 10-23 6 2 3 6 8 30 3 5 10-2 6-3 17 18 4-1 3-5 8-3 7 16 3 0 10-21 5-5 7-3 8 9 6 2 5 8 16 77 7 28 4 3 3-1 10-35 13-72 8-18 9 3 10 42 13 95-5 20-3 33-18 67-6 11-4 2-6-3-15-37-9-43-3-2-9 40-8 20-7 12-6 4-5 0-8-8-7-15-7 15-6 0-7-5-12-31-11-20-3 0-7 8-9 25-11 13-7 0-5-3-8-8-20 14-14-11-9 7-11 30-10 8-9-10-11-30-16-15-13 37-8 43-16 33-7-2-9-14-16-62-3-4-14 49-10 20-6 3-8 0-10-12-4 23-7-22-5-55-8-29-12 24-14 5-11 55-3 9-8 4-11-25-3-28-7-27-1-13-8-22-8 2-11 35-9 11-10-18-7-26-15 6-20-18-10 10-6-5-6-14-18 30-8 0-12-7-8-19-6-40-16-60-5 2-3 6-11 62-13 48-6 8-5-3-8-18-3-27-4-13-3-37-3-8 0-17-2-8 2-35 10-37 3-30z" clip-rule="evenodd"/></clipPath><g clip-path="url(#cF8)" stroke="none" fill-rule="evenodd"><path fill="#463cde" d="M4553 1132H5340V1604H4553z"/><path fill="#4747eb" d="M4533 1112l825 0 0 510-825 0zM5243 1517l10 23 3-15z"/><path fill="#4852f4" d="M4533 1112l825 0 0 510-111 0 14-97-5-9-16-9-10 4-10 0-4 10 2 3 7-4 0 102-551 0 32-85 0-14-13-39-13-7-12 0-6 18-29 55 0 72-100 0z"/><path fill="#465efb" d="M4533 1112l825 0 0 414-45-15-9-6-1-8-3-2-9 7 2 25-37 74-3-11 10-55-1-40-2-3-10-1-10 10-10 4-7-2-5-5-3 2 2 10-4 20-27 92-511 0 33-85-1-12-17-60-12 6-8 1-4 5-4 13-31 60-1 72-42 0 0-132 4-30-6-9-4 11-4 4-45 16z"/><path fill="#4269fe" d="M4533 1112l825 0 0 399-42-11-6-5-4-17-10 18-8 4 0 21-22 11-3-15 1-20-4-8-12-2-9 5-3 6-18-4-5 6 2 12-3 18-12 32-15 60-245 0-19-40-13-3-1 11 21 32-252 0 33-85-1-12-9-28-9-41-7 7-7 0-10 12-5 15-31 59-3-4-1-30-3-22-27-16-1-17-11-15-1-6-3 1-2 10-32 10-13 1z"/><path fill="#3875fe" d="M4533 1112l825 0 0 380-38-11-6-6-4-12-3 2-7 13-4-6-7 5 2 18-5-1-1 11-5 3-12 2-2-3-6-40-4 0-16 21-7-1-3 3-4-3-3 3-5-4-6 11 2 15-4 18-11 32-15 60-124 0-67-34-6-6-4-15-5 5 4 18 0 32-39 0-2-5 5-20-3-23-13-5-14 6-6 0-4-5-3 2 2 18 22 32-101 0 0-35 6-25-4-3-5 16-77 29-26 18-43 0 32-85-1-15-14-47-1-28-12 5-3 6-2-2-12 19-4 15-30 56-6-74-8-4-18-2 0-11-4-3 3-15-7-5-4 0-6-9-2 1-1 8-4 5-10 5-30 5zM5128 1511l-3 9 3 10 0 25 2-30z"/><path fill="#2f81fa" d="M4533 1112l825 0 0 373-36-10-9-20-7 6-3-7-10 16-10 7 1 5-3 10-1 11-12 2-1-10-3-5-1-23-4-5-19 12-4 8-6-2-4 3-6-5-5 7-4 12 1 15-3 15-26 95-32 0 5-32 0-15 7-40 0-15-20-21-2 3 0 100 7 20-84 0-7-12-16-18-5-11-36-12-7-8-3-11-12 18-6 2 2 20-28 28 0-13 2-8-3-25 2-17-1-4-8-1-13 10-5 8-17-3-3 2 4 23 21 32-67 0 1-17-24-25 1-20-9-8-4-8-5 8-10 5-30 8-62 57-38 0 32-85-1-15-9-25-6-25 2-22-6-10-4 7-8 1-5 7-4 12-6 8-5 17-25 50-3 1-4-73-8-6-18-1 2-8-4-8 2-12-7-5-5-14-12-2-5 8 0 8-4 2-25 8-9 0zM5126 1492l-5 33 3 7 2 36 7 17 2-85-2-4z"/><path fill="#2d8cf3" d="M4533 1112l825 0 0 356-32-8-8-10-2-10-6 10-4-9-8 12-5-2-7 4 2 15-5-1-4 3-1 18-10 1-2-1-3-27-3-5-4-1-5 3-5 8-6 1-2-1-5 5-13 0-8 12-2 8-3-6-1-8-9 6 4 20-1 40-19 77-26 0 0-10 5-20-2-15 7-42 0-15-22-23-4 3 0 102 7 20-80 0-28-46-8-5-27-8-5-6-5-18-3 0-7 13-6-5 1 13-2 4-6 1 0 15-20 10-2-4 1-31-3-13-8 0-10 12-8 1-4 6-3-2-5 2-2-5-4 6-5 3 4 27 12 15 8 15-58 0 3-45-10-5-18-1 0-11-5-8 2-15-2-1-3 7-2 0-5-13-3 0-4 16-28 8-12 6-28 31-33 31-36 0 32-85-1-15-10-26-5-24 2-22-5-13-6-4-13 19-5 14-5 5-1-4 2-12-4-5-2 0-1 10-4 6-23 8-4-17-13-5-13-2 2-13-4-10 2-12-4-6-3 5-7-17-6 5-4-7-4 5-2 10-37 8zM5126 1488l-3 2-2 12-1 15 4 53 8 17 4 2 1-89-2-5zM4658 1480l-2 12-23 44-1-29z"/><path fill="#2797eb" d="M4533 1112l825 0 0 329-18-5-17 0-5-9-4 3-4 6-2-5-2 0-3 4-5-1-8 14-9 4 0 13-8 11-3 1-4-5-6-30-10 12-7 1-3 8-7-4-3 6-4-4-10 15-6-12-10 15-7 3 0 21-25 15-25-22-5 1-10-9-5-1-4 15 0 18 5 42-3 8 11 22 6 2-1 11 7 17-76 0-31-50-6-20-11-6-19-6-2-10-3-6-8 9-2-3-9 12-6 3-5 24-13 3-3-2-2-28-8-7-7 6-7 3-3 7-7-3-3 6-5-4-5 3-3 7-3-3-1-7-3 2-3 11-27 4-20-5-5-10 0-17-6-8-2-5-2-1-2 4-3-1-5-10-6 18-25 10-17 22-57 58-33 0 33-82-3-18-12-37-2-15 2-20-5-13-7-8-3 1-13 24-7-7-7-15-5 5-3 10-20 6-3-13-19-1-4-17 1-10-13-21-2 3-5-5-5 0-5-7-1 5-4 4-18 0-17 5zM4748 1471l-3 1 0 5 3 5 4-7zM4870 1504l-14 6-1 7 11 11 3-3z"/><path fill="#23a0e5" d="M4533 1112l825 0 0 325-18-4-16-1-6-16-2 5-6-5-4 5-6-2-7 12-3-4-7 8 2 10-12 11 0 3 3-2 1 3-4 11-3 2-3-3-4-30-3-4-8 6-4 8-8 0-4 5-8-2-5 3-3 6-2 0-2-7-3-2-7 11-6-6-5 4 2 13-1 3-5-3-2 2 1 10-2 11-15 7-7 8-20-18-8-1-10-8-5 0-4 14-1 17 2 47-30-39-19-10-5-16-15 13 1 20-16 18-6-2-7-13-13-3-5-5-5-16-2 0-5 9-5-5-13 25-8 2-3 10 0 13-11 2-7-45-9 5-7 12-7 0-5 4-11-1-7 8-1-5-3-3-4 3-4 15-22 3-13-5-11-1-1-2 1-18-12-22-2-9-5 6-7-9-6 8-17 7-2 9-3 0-14-15 2-17-10-12-3 0-3 9-17 8-30 32-13-47-2-15 1-20-4-13-9-10-5 3-5 15-6 5-4-5 2-16-2-3-6 5-7-11-3 2-2 8-12 5-29 0-2-23-3-7 1-13-3-4-4 1-8-13-5 4-3-6-4 3-3-6-6 16-17 1-17 5zM4748 1470l-4 2 0 5 4 7 5-9zM4873 1491l-15 12-5 8 0 6 13 13 4-5z"/><path fill="#1ca9df" d="M4533 1112l825 0 0 309-10 0-15-5-10-11-5 1-5-2-5 6-5-2-5 6-2-4-13 20-5 2-4 10 0 8-6 7-2-2-2-15-4-8-2-1-5 5-9 1-2 5-6 1-3 4-5-3-5 6-5-13-2 0-3 5-3 2-4-2-8 13-8 5 1 7-5 8 0 12-13 3-4-3-2-5-16-10-3-10-14 13 2 15-10-6-7 3-3 25 2 40-22-25-11-20-10-7-5-16-14 22-8 1 0 17-22 6-6 0-10-5-7-22-7 5-3-8-7 11-6-4-6 10-8 5 1 10-4 5-1 10-6 3-6-4-2-31-2-3-6 8-12 6-2 7-3 1-5-3-2 4-6-1-4 4-6-9-4 3-3-6-3 2-2 10-25 5-17-1-4-12 1-18-10-12-3 2-7-12-5 5-5-2-5 14-7 3-23-4 0-14-15-23-3 1-2 10-5 3 1-8-6-7-5 7 0 5 4 7-3 8-31 33-1-18 7-18-2-15-8-10 4-17-10-11-5 5-2-7-10-12-7 5-6 14-2-2 2-10-1-5-12-16-5 1-5-7-2 2-3 10-12 7-7-2-3-9-10 1-3 6-2-1 0-17-3-15-9-16-6 1-2-6-5 2-5-7-8-2-4 7-18 1-15 4zM4873 1485l-7 8-6-1-8 18 0 7 14 14 6-6 4-30zM5026 1482l-3 8 3 6 2 1 4-5 0-2z"/><path fill="#12b1d6" d="M4533 1112l825 0 0 306-10 0-15-5-8-11-2-11-5 6-2-5-6 6-2-3-5 4-5-2-8 11-2-3-10 10 1 10-3 0-6 7 1 10-3 12-4-19-8-13-4 0-3 10-9 0-2 3-5-1-7 5-3-1-3-10-7 5-3-7-10 15-2-4-3 0 0 15-2 3-5-3-6 10 0 13-12 1-13-14-4-14-16 22-6 0-13-8-5 5-17 8-2 2 2 23-6 9-3-9-6-8-5-19-10 9-6-6-11 11 1 13-5 0-2 12-13 3-14-3-5-5-5-19-6 5-4-6-6 9-2 1-2-4-16 22-10 4-1 8 2 5-3 5 0 10-6-2-3-30-3-11-7 6-5 10-8 1-6 5-4-2-10 7-3-9-5-1-5-4-3 3-4 16-23 3-15 0-2-28-16-27-2 4-2-2-6-7-4 6-3-6-6 13-14 6-10 0-3-3 1-10-3-3 1-12-9-11-4 4-8-8-5 12-10 1 0-13-20-16-5 6-5 0-4-3-9-16-2 0-2 7-10-10-8 6-2-1-1-3-5-3-1-10 2-5-3-1-2 5-8-15-5 2-5-2-8 18-10 4 0-13-4-6-10-1-6 2-2-15 1-10-6-11-5 0-5-8-5 2-2-5-6 3-2-9-5 5-3-6-5 16-17 1-15 5zM4793 1465l-3 5 6 5 3-5-3-5zM4870 1481l-7 1-12 28 0 7 7 10 8 6 8-8-2-8 5-20-2-12zM5026 1480l-3 2-1 8 4 9 8-7zM4610 1406l3-3 7 4 0 3-10 0z"/><path fill="#01b8ca" d="M4533 1112l825 0 0 255-28 0-4 13-12 2-8 6-6-2-4 5-3-2-13 18-7 5 0 5-5 5-2 12-8-15-10-2-2 6-7-1-11 9-5-18-5 5-5-6-5 10-2 2-3-5-9 13-6 3-1 10-4-1-4 6-1 11-8 4-2-1-6-9-4-18-10 8-5-5-11 10 1 14-15-6-6 7-16 7-13-7-13 4-2-9-16 20-9 2 1 8-3 2-3 15-8 0 5-17-7-10-6 0-2 15-8-5-2-9-7 2-5-5-5 6-3-6-7 11-5-3-15 15 1 9-7 5-1 16-4-1-3-23-3-6-15 6-3 8-2 0-3-3-5 4-2-1-6 3-4-14-4 3-2 8-2-9-2-2-3 4-5-4-4 13-8 5-3-5 5-22-2-13-6-9-4 0-16 34-3-5 0-10-9-15-5 1-5-7-5 1-3-3-4 5-3-1-5-8-4 17-11 5-3 4-4 1-4-12 1-10-15-25-2 0-3 10-10-10-10 7-7-9-6-1-4-7-3-1-7 5 1-14-9-10-2 6-3 0-1-4-6-6-5 11-11 1-5-8 1-10-6-5-4-12-6 1-2-2-2-7-6 6-4-7-5 6-1 9-7 3-5 1-5-4-12 1 0-15 2-5-3-10-10-15-4 0-3-4-10-3-7-7-8-1-5-13-30 0zM4630 1369l-2 3-1 13 1 4 2 0 6-2 2-5zM4793 1464l-4 6 7 7 4-7-3-5zM4983 1298l-3 4 6 13 4-3z"/><path fill="#0bbdbd" d="M4533 1112l825 0 0 251-28 0-3 2-4 9-3-7-4 7-3-6-5 7-2-3-4 3-2 7-4-7-11 10-12 17-7 3 3 5-4 2-2 9-10-10-7-2-5 8-5-3-3 6-5-19-4 1-4 6-1-3-3-2-6 6-2-5-10 14-5-3-3 2 1 13-13 4-2 5-10-9-6-1-7 4-3-5-2-1-13 18-11 2-1 7-5-14-18 6-9 9-1 11-7-5-7 0-2-9-4-2-7 10-3 0-2-7-12 12 1 10-1 1-3-3-6 4-1 8-10-7-6 2-2 5-8-18-4 4-6-5-2 4-5-3-7 10-6-6-7 14-3-5-5 5 1 10-11 7-2 11-7-17-6-5-2 1-4 10-6-1-5 7-5-4-2 5-6-1-2-11-2-2-6 8-4-8-3 2-5-2-3 2-3 18-6 3 4-23-6-20-6-9-5 4-13 35 1-13-3-5 0-12-2-2-3 3-7-12-3 2-7-9-6 3-2-4-5 7-7-6-3 8-3 1-7-3-5 5-2-8-3 0 1-13-8-10-3 5-10-11-5 11-5-1-5 3-2-14-18-13-4 5-1 6 0-6-8-2-9-18-3 0-3 6-10-8-4 5-5 0-3-6-2 1-2-3-1-11-3 1-10-15-2 5-5-6-5 4-5-4-5 5-8-11-3 7-3 18-8 0-3-8 2-22-6-15-11-10-5 4-3-7-2-3-2 4-6-8-2 5-5-6-3 5-4-9-3-2-30 0zM4860 1322l-10 8 2 7 4 3zM4906 1306l-3-1-11 15 12-5zM4945 1345l11 5 5 7 5 0-2-12-6-3-2-3zM4973 1282l0 5 10 28 3 2 12-4-1-11-9-15-5 2-3-6-4 3zM5008 1191l-2 4 4 15-1 5 1 2 6 1 3-3-1-5 5-10 0-8-3-2zM5046 1336l-6 1 3 14 3-1 2-12zM5063 1252l13 4 4 7 10 3 4-4 4-10-2-6-8 0-5 9-3 0-4-10-3 6-5-4zM5178 1312l-1 5 3 19 4-19-1-3zM5270 1364l-5 16 1 4 2 1 5-15zM5005 1320l5 8 8-7 11-1-3-7-3 0-3 3-4-3-6 5-4 0z"/><path fill="#24c1ae" d="M4533 1112l825 0 0 235-8 0-2 3-18 0 0 5-3 2-24 4-3 4-7 1-3 6-4 1-3 4-7 3-1-15-5-4-2 1-5 20 6 10-2 8-7 2 0 12-10-13-14 4-3-2-3-11-7 6-3-9-4 9-6-6-7 10-3-6-9 14-7 5-1 7-10 7-16-4-1-8-3-1-10 9-2-5-3-1-9 8 2 15-13-7-18 7-7 7-15-8-10 4-5-7-13 19-8 3 0 7-6 4-6-3 0 8-8-1-4-17-10 4-2-8-3 0-5 6-5-4-3 6-4-4-13 8-6 11-7 5-1 5-8 8 2 5-3 1-1-4-9-10-4 1-6 7-10 3-8-3-2-10-2-1-2 4-6-7-4 5-3-5-3 0-2 7-2-4-3 1-3 6-4-16-8-14-5 4-7 23-3 2-1-15-9-18-10-7-5 2-2-5-6 3-7-7-5 9-8-5-2 12-8 1-4-5 1-10-6-5-8-17-3-1-2 5-2 1-6-6-12 5-8-7-4 0-6-7-12 3 2-14-7-8-3 3-10-8-2 1-2 8-6-1-4 2-6-7 0-6-12-20-2 4-8-11-5 4-3-5-4 4-6-2-4 6-8-4-5 20-7 0 2-30-2-14-6-1-2-4-5-1-3-6-6-1-4-6-21-4-6-5 0-5-17 0-13-5zM4726 1270l-5 12 5 3 3-3 1-7zM4793 1260l-11 10 4 11 4 6 9-22zM4858 1317l-6 5-9 3 0 8 3 6 10 4 3-3 6-20zM4870 1218l-2 3-1 9 3 3 8 0 5-8 0-5zM4885 1307l0 8 5 10 17-10 3-5 10-1 10 14 3 0 5-18-2-3-10 2-6-5-7 1-5-6-5 4-5-4zM4926 1235l-2 2 3 10 0 8 6 8 3-18zM4948 1277l-10 16 2 5 9-18zM4953 1327l-5 4-2-2-7 6 0 5-4 5 5 8 10-2 6 3 2 6-6 2 1 5 3 2 7-7 5 0 10-7 3-8-8-2-2-10-3-3-5-1-3-4-4 2zM4960 1267l-6 8 9 1 7 6 13 35 15 0 12 13 8-7 8 0 9 9 6 20 5 0 8-25-6-6-8 1-1-7-9-13-2 0-2 4-3-4-15 1-4 7-2 0-2-23-17-15-3 2-4-5-3 4-5-4-2 2zM5006 1188l2 28 8 3 3-4 6-15 0-10-5-2zM5058 1236l2 19 13 1 7 8 8 4 6-3 5-10-1-19-2-3-10 0-6 10-7-11-5 6-2-4-6 4zM5126 1265l-6 8-4-6-4 3 8 20 3 1 6-19zM5183 1297l-8 18 5 23 3-2 5-31zM4950 1435l-1 7 4 8 2-8-1-5zM4963 1378l-6 7 1 12 6-12zM5088 1333l1 9 4 1 5-3-8-8z"/><path fill="#31c69f" d="M4533 1112l825 0 0 225-18 4-17 1-3 9-4-5-3 6-5-5-2 6-6-3-4 7-6 0-4 5-8 1-7-6-3 1-7 32-5 2 0 9-8-6-10 2-5-14-3-1-2 5-5-6-7 7-6-7-2 5-5-2-7 10-3-3-7 7-3 8-3-1-4 7 1 5-1 3-14-15-6 0-6 6-2 0-2-8-16 19-2 1-5-3-2 2 2 10-7-2-1-10-5-3-4 4-8 0-10 9 2 10-2 3-8-6-8 0-4-10-10 8-5-3-11 10 1 10-8 5-2 4-10-8-10 1-5-9-8 5-2-7-5 3-3-1-7 6-5 0-5 6-3-1-12 11-1 10-4 2-4 6 4 5-5 2-10-14-4 4-6 0-2 6-6-3-2 6-2 0-6-16-4 2-6-4-2 4-5-6-5 5-5 0-3 4-12-21-5 3-7 20-3-12 2-8-4-10-11-8-4-2-6-5-4 2-6-6-2 7-8-5-2 6-2 1-6-3-8 6-4-18-8-10-4 2-8-7-2 0-3 6-12 2 1-10-6-8-13-7-3 12-4 1 0-8-7-3-8-15-3-1-5 3-5-7-4 0-8 10-7-10 2-7-3-6-2-2-3 3-7-11-6 1-2-6-5 4-5-7-5 9-3-8-2 0-5 12-5 1-5 11-5-1 3-33-3-11-10-4-5-8-5 0-5-7-5 4-2-7-6 5-2-8-5 7-3-11-17-1-20-5zM4696 1279l4 30 5-7 0-7 4-3-1-2-2-1-3 5-4-12zM4728 1249l-2 1-3 19-6 13 9 4 3-1 3-10-3-5 5-5 4-10zM4793 1257l-12 10 5 17 4 6 11-28zM4808 1222l-2 3 1 10-4 12 3 5 15-10-3-15zM4833 1234l-7 6-1 5 5 10 3 1 6-6zM4869 1205l-5 25 9 5 7-2 9-21-1-7zM4918 1219l-2 3 9 25 0 8 8 11 8-24-2-5 4-7-5-4-12 4-4-10zM5064 1315l-14-10-10 5 0-10-14-13-3 6-7-5-5 9-5 1-4-23-9-9-5 1-5-6-10-4-13 2-12 10-5 0-4 11-7 10 1 5-14-3-3-10-10 4-3-5-7 5-6-1-4 5 1 7-1 4-18-5-24 14-1 6-10-3-1 2 1 7 7 8 6 11 4 0 8 5 8 9 14-10 2-5-14-2-5 3 0-6 5-16 10-5 8 4 4 8 10-8 8-2 3-4 9 0 8 12 6 3-4 4-4-2-6 2 3 8 14 11 12 17 4 25 5 9 8-16 5-20 15-20 1-10-9-1-2-12-10-6-6 2-4-5-8 1-5 5-5 2 2-16 13-26 10-1 5 5 12 32 3 4 13-2 14 15 10-8 8 3 5 5 5 14 0 8-3 1 5 5 9-13 8-22zM5023 1164l-22 3 7 50 8 3 4-5 6-15zM5098 1215l-17 2-5 9-3-4-5 5-5-3-5 5-5-3 7 31 10-1 18 13 7-4 5-10zM5120 1252l-3 10-7 5 0 3 5 7 5 15 3 1 8-26-8-15zM5140 1249l-4 1-3 13 5-4zM5180 1289l-4 3-5 8 9 40 3-3 6-32-2-10zM5263 1307l-11 5 8 2 2 3-6 4 0 3 7 0 4-2zM4873 1244l-3 1 0 5 3 4 3-7zM4866 1387l-3 0 3 19 3-11zM4946 1420l1 22 6 11 4-6 1-24zM5014 1347l2 7 13-7zM5084 1320l1 15 3 8 10-1 10 3 1-3-10-17z"/><path fill="#3fca8e" d="M4533 1112l825 0 0 221-18 5-30 1-4-2-6 7-2-3-2 1-3 6-8-1-5 8-10-2-7 14 1 8-6 5 0 6-7-1-1 6-7-1-3-18-10 5-4-7-6 3-4-6-6 4-4-1-6 6-4-1-10 17-10 11-3-2-5 2-15-3-3-7-2-1-8 9-2-5-2 0-10 9 1 10-1 1-16-5-4 6-10 1-5 7-3 0-15-9-7 7-3-1-3-5-2 0-12 19-8 1-5 6-5 0 0 7-2 1-7-1-4-13-2-1-5 3-2 0-6-7-4 6-6-5-4 7-3-5-5 6-2-2-6 7-12 7 12-81 18-32 10-7 11 7 7 16 10-4 8 5 4 6 2 0 9-13 10-25 7-8 5-2 1-8-6-8-5 1-1 3-12-2-15-21-5 0-5-4-3 0-2 7-5-1-6 3 1-20-15-10-5-6-5 3-3-5-4 3-3-6-5 4-2-4-13 10-13 5-1-4 5-25-3-8 0-7-8-2-3 4-12-3-8-10-4 6 6 5 10 25 2 15 10 15-8 11-8-5-8-1-2-5-8 5-4-5-12 15-8 6-10-1-6 3-2-6-5-1-8 6-2 9-10-4-10 0-3-4-7 7-3-5-14 14-1 8-6 5 0 8 7 2 8-22 12-10 4 2 9 10 4 13 6 5 7 12 5 0 17 15 4-5 8-5 6-12-1-3-7-5-8-1-2 3 2-9 8-4 6 4 4 7 12-8 10-2 13 24 13 9 10 17 9 35-1 8-4 1-7-7-3 1 3 5 4 35 7 12 1 5-8 13 2 5-3 3-8-11-5-2-3 3-7 1-5 4-4-16-6 3-2-5-6 3-2-3-5 3-3-3-2 1-2 6-3-7-5 11-10-14-7 5-3 9-2 0 2-16-2-10-3-5-5 0-5-8-3 2-4-6-3 3-5-5-5 2-5-3-5 5-2-5-3-1-5 11-7 1-5-6 0-5-15-23-6 4-7-7-5 5-5 1-20-17-10 6 1-14-6-6-2 0-3 4-4-8-3-2-6 6-4-1-10 4 2-7-15-24-5 0-5-7-5 2-2-6-6 4-4-3-6 6-9-5-5 20-3 2-2-29 2-5-4-13-6-5-13-1-2-8-5 1-5-7-5 3-3-2-27 0-20-5zM4738 1252l-14-5-2 10-9 9 0 13-5 4-10-7-4 1 4 28 2 6 16-26 10 2 3-2 4-10-3-5 6-4zM4745 1312l0 8 3 4 5-2 5 2 12 11 6 0 4-5 8-3-10-7-6 0-4-7-5 3-3-7-4 6-6-6-2 4zM4787 1290l3 2 3-2 10-30 7-11 10-4 13 13 20-17 5 0 5-7 17 1 13-26 9-4-2-7-4 4-3-1-3-12-24-7 1 13-4 27-7 4-6 9-2 1-9-9-11 3-5-14-27-13-10-14-10-9 1 50-4 20zM5023 1161l-23 2-2 4 9 50 7 3-4 7 3 2 6-4-2-5 10-20-1-35zM5080 1199l-4 14-3 0-3-3-4 4-7-2-3 8-6 1-1 4 10 32 11 0 10 9 10 4 12-15-1-40-2-8 1-7zM5178 1209l-28 24-20 3-4 11-6-2-7 0-10 17 11 15 5 15 4 3 10-28 6-7 2-8 5-3 4 2 16 31 8 30 4 29 2 1 4-5 6-32-1-8 5-10-1-17-3-2-6 17-8 0 2-13-3-17 6-30-1-15zM5248 1295l0 5 10 2 2 3-10 7 0 3 11 2-5 3-3 5 15 0-5-33zM5033 1375l-6 5 1 9 2 0 3-4zM4810 1343l-2 3-6-1 4 15 2 0zM4868 1374l-7 16 5 19 2-4 3-20-1-8zM4870 1243l-1 9 4 3 4-8-1-3zM5075 1315l6 10 6 20 11-2 15 9 3-10-4-2-1-13-11-15-2 3-8-5-2 2-8-1zM5168 1347l-1 5 6 12 2-4 1-9zM4955 1280l8-1 5 5 8 26-13-8-13 0-4 4-3-1 7-20zM5009 1337l11-12 7 2 6 10-3 3-4-6-9 1-7 4z"/><path fill="#57cc7a" d="M4533 1112l442 0 14 28 6 17 0 8 11 52 6 5-3 5 4 4 6-6 0-5 3-10 7-10-3-60 5-28 327 0 0 204-38 1-4 11-3-6-5 6-4-1-4 6-4-3-6 12-10-2-3 5-10 2-4 15-10 5 0 10-8-10-12 3-3-10-2-2-5 4-5-7-5 8-5-5-5 6-3-3-4 7-9 4-11 17-6 3-6-2-1 6-5-14-5 1-7 5-6-5-12 17-8 0-1 2 1 5-2 3-5-3-5-12-15 7-8 8 2 7-1 3-10-6-7-2-3-8-10 9-3-3-14 12 0 8-3 0-6 6-12-8-10 2-2-7-8 4-2-7-6 5-2-3-5 6-4-1-3 6-6-2-4 6-3 1-1-13 10-53 5-12 13-21 10-3 9 9 7 12 10-3 8 6-1 3-7 1-3 3 3 19 4 6 5-10 4-15 13-20 8-22 6-6 4-1 8 5 8 22 2 1 10-2 15 10 9-27-4 2-2-2-3-17-7-7-6 1-2-4-5 2-7-4-3 7-3 1-7-6-1-5-10-3-4-6-8 1-12-17-5 0-3-3-4 2-13-2-3-16-2 2-7-3-5-10-8 1-2-6-6 3-2-6-5 3-3-3-4 5-3-2-5 5-5-3-4 8-4 0-5-57-5 4-2 8 4 5-4 3-5-3-8-10-10 4-4-4 0-6-3-1-5 6-5-9-30-7-2 4 2 10 0 13-16 12-1 10-6-3-7-1-5-18-40-20-12-14-2 24 2 10 0 25-4 20 16 43 7-1 2-12 7-20 8-10 8-4 9 11 7 2 17-16 5 0 8-9 7 2 7 0 9-19 9-8 5-1 7 7 11 25 7 27-2 3-13-10-7 3-2-3-4-1-3 3-7 1-14 17-6-4-4 0-17 6-6 7-5-1-2 4-6-1-4-9-8 3-5-2-3 4-4-1-9 6-7 9 1 9-3 1-12-6-8 2-5-6-15-1-2 3-6-1 6 23 7-2 5 2 15 12 10-7 15 4 8-23 4-5 8-3 10 11 4 11 7 5 7 13 4 1 16 15 2 0 5-6 8-6 8-17 14-12 7 2 13 22 13 9 9 16 5 31-10 0-2 7 11 50-5 10-1 9-10-9-7-1-3 2-4-6-1-8-8 4-2-5-2-1-3 4-3 0-2-5-5 4-3-2-4 4-8-5-5 10-5-4-8 5-2-1 2-5-1-20-11-12-5 1-3-5-4 0-3-4-5 2-2-5-6 4-4-3-3 6-10-3-7 7-5-6 3-7-11-14-10-5-5 5-8 0-4 3 0-9-8-10-10-8-4 10-3 0-18-24-5 6-1-4-7-6-10 7-7-19-5-4-5-1-3-6-4 2-3-6-5 1-5-5-5 4-5-4-3 2-2 10-5-6-7 4-3-3 2-5-1-5 2-8 0-16-6 4-12 2-4-12-8 3-4-8-2-1-4 4-3-8-5 4-2-9-43-6zM4730 1247l-7-1-13 9-2 13-8-8-2 8-3-11-5 0 3 30 7 27 16-28 12 2 4-6 2-7-2-5 4-3 4-12 0-3zM4746 1114l-7 33-8 63 2 5 17 16 1-94 4-7-6-15zM5044 1210l15 47 4 2 7-2 18 14 4-1 8-12 3 7 4 2 6 10 7 18 4 0 10-28 9-15 3-2 3 2 16 30 10 43-2 9-10-1-1 4 4 15 7 15 12-30 6-30 0-10 4-10-1-32-10-28-4-25-22 19-12 3-18 1-5 15-3 1-7-1 1-8-11-9 0-18 2-5-2-5-25 0-5 8-7-4-3 6-3 1-4-4zM5243 1281l0 4 3 5-1 7 3 5 11 3-10 7 0 3 10 2-7 8 14 1 4 5 10-1-11-10-6-39zM5076 1346l-6 2 0 7 3 1 3-4zM4870 1242l-1 10 4 4 5-9-2-4zM4806 1330l-8 10 8 22 3-2 7-23-6-6zM4858 1357l-2 3 1 10 3 12 2 20 4 9 2-4 5-22 0-14-3-3-6-1zM4954 1282l4-2 5 1 3 4 2 9-8-3-10 3z"/><path fill="#72cd64" d="M4533 1112l210 0-7 35-7 53 0 12 21 22 2-2 1-95 3-4 3 2 14 35 2 60-4 20 14 45-5 8-7-3-5-10-8 2-4-6-6 4-4-1-3 4-7-3 10 37 7-3 5 2 15 12 10-7 7 2 6 4 9 25 3 1 15-38-5 0-5-4-5 4-5-3 5-12 10-5 34 47 7 30 4 32 3 0 3-7 7-42-1-10 8-10 11-20 9-7 6 2 14 23 13 9 7 15 3 20-8-5-3 3 11 65 0 3-8-3-1 2 1 12-10-5-5-17-7 6-3 0-3-11-4 4-3-3-5 3-2-2-3 0-3 6-4-8-3 8-10-3-2 10-8 3 0-28-3-7-10-2-4-9-8 1-2-4-13-5-5 7-5-7-5 11-8 1-6-11 1-7-5-9-4 2-6-8-4 4-8-6-10 6-20-16-8 1-1-7-9-11-4 2-6-7-2-1-2 6-8-1-5 4-5-19-12-13-7-2-1-4-2 0-3 6-5-10-2 7-6-5-4 6-8-7-4 12-6 0-2-5 3-20-1-16-2-1-3 2-2 5-3 2-8-7-4-2-6 2-4-11-6 2-4-4-6 2-4-4-18 0-15-5-10 0zM4718 1237l-9 3 0 5-6 10-7-3-8 3 4 32 8 29 16-29 14 0 5-12-1-5 3-3 4-12-1-3-19-10zM4821 1112l153 0 15 30 5 18-1 5 6 17 7 35 5 5-4 5 2 5-2 5-11-4-6-7-4 1-6-3-12-1-5 4-5-1-2 4-8 1-5-42-4-17-6 5 2 8-5 5-2 6-8-5-7-1-4-10-6 3-3-1-2-12-48-14zM5030 1196l0-8 14-1-14-6-2-6 0-35 5-28 147 0-12 14-35 31-17 22-10 2-30 1-6 14-7-7-3 8-12 5zM5358 1112l0 201-38 0-4 3-6-4-2 8-2 1-3-5-5 8-8-1-4 5-11-6 1-3 5-2-8-2-5-8-4-50-4-1-17 9-5 7 3 13 4 5-1 7 3 5 10 3-9 7 0 3 7 2-5 8 16 2 4 8-2 7-11 8 5 5 0 2-6 5-8-5 0 7-8-2-4-14-10 7-3-8-3-1-4 5-3-6-5 5-2-3-6 7-2-1-5 6-13 6 0-13 5-15 0-7 6-23 0-10 5-10-1-32-12-35-1-20 29-88zM5148 1252l16 30 7 30-1 10-7-7-8 2 10 35 9 20 0 5-5 5-9-4-10 0-2-5-2-1-8 5-2-2-6 2-9 10-1 5-7-2-20 8-7 6-16-8-10 4-2-5-10 11-2-4-8 8 1 5-5 2 0 5-10 5-11-4-3-12-7 7-5-7-12 3-4 3-6-1-3 1-3 7-4-2 3-32 7-25 17-27 7-1 8 8 11 17 6 25 3 6 2 0 16-36 10-12 10 4 7 9 16-11 9-2 15 10 3-3 10-31-6 0-2-3 2-6-2-10-5-7-7-1-3-3-5 1-2-4-9 4-7 1-3-6-16-12-8-1-4-9-13-10-6 3-7-4-4 8-3 0 0-30 4-7-1-5 7-15 4-4 10 4-2 5 15 30 5 19 15 1 5 6 10 6 2 0 10-12 2 5 11 15 4 15 3 2 5-2 3-13 14-27 4-4zM4912 1220l8 22 0 16-8-3-2-8-4 1-6 5-4-6-3 3-5 1-15 14-10-3-7 6-10 1-10 11-13-3-5-5-5 4-3-3-4 4-6-1 9-21 9-8 5 2 7 10 6 1 17-15 5-1 8-9 14 2 10-20 6-6 7-1zM4870 1240l-3 12 6 6 5-3 1-8-3-5zM5066 1320l4-1 8 6 2 16-12-4-5 3-7-3 5-12z"/><path fill="#8fcb4e" d="M4533 1112l206 0-13 85 0 15 24 23 3 0 1-93 2-7 16 35 2 60-4 20 9 25 0 10-13 0-6-7-4 2-3-3-5 4-8-4-4 8 0-15 4-8 2-10-18-10-3-12 2-9-17 7-6 5-1 7 1 10-6-3-3-7-1-15-4-6-4 16 15 80 4 2 16-30 13 2 7 13 7 25 9-2 5 2 15 12 10-7 7 2 4 3 12 27 3-2 14-32 7-5 8 6 14 26 6 25 1 25-9-4-7 0-3-8-7 3-3-8-4 3-6-3-4 6-8-2-8 6-2-16-10-12-8 2-4-5-4 6-6-1-6 3 0-7-7-9-13-8-8 2-2-8-14-10-3 3-10-6-5 5-4-7 0-7-13-8-3-5-5 0-3-5-7 1-7-7-6 7-2-6-5 7-5-2-8 2-2-34-2-2-13 1-3 7-5-4-4-12-3 0-5 5-5-11-5 7-5-14-45-1zM4823 1112l150 0 17 38 3 17 8 25 3 25 4 5-2 2-10-6-8 1-2-5-8 4-5-6-3 4-7-3-3 6-4-3-8 3-2-7-3-47-10 4-5 11-12-10-10 4-6-16-7-1-47-16zM5030 1176l-1-36 5-28 144 0-35 33-7 4-53 18-10 1-7 16-6-7-4 3-3 6-3 0-4-5zM5358 1112l0 184-40 1-5 9-3-4-4 7-10-3-6 12-2-4-18-6-2-6-2-47-4-5-1-15-3-1-24 26 6 26 4 4-1 7 3 5 8 3-7 7 1 4 5 3-4 6 4 2 13 1 1 7-1 6-18 8-9-7-9 3-4-9-6 3-4-4-8 5-12 3-8 7-2-1-2-7 3-5-1-7 10-48 0-27-13-35 0-20 29-88zM5028 1204l7 3 11 18 5 15 2 15-13-9-4 3-6-6-4 5-7-3-2-13 7-22zM4873 1240l10-3 10-22 7-5 10 10 8 22-12-2-6-4-4 4-3-2-13 5zM4868 1237l-2 15-8 0-8 6-7-1 10-10 7-4 6-6zM4808 1260l4-8 8-4 8 11 7 3 0 3-17 0-2-3-6 3zM5146 1252l3 3 14 27 4 18-1 10-4 0-4-9-5 0-5 4-2-6-6 4-2-3-6 5-9-1-1-4 5-5 1-10 7-18zM5062 1262l8-2 10 11 8 3 12-10 10 14 0 4-4 0-6-4-4 4-10-2-6-7-7-2zM4811 1310l7-3 4 5-9 1-3-1zM5154 1320l14 45-2 3-6-2-2 5-1-6-4-5-10 6-3-4-10 8-4 0-4 5 1 5-3 2-14-6-16 6-8 8-1 5-3 0-12-4-3-6-3-1-2 4-10 1-8 6-5 10-9 7-13-7-7 3-6-7-4 2-6-3-2 6-8-1-2 5-8-1-1-2 1-17 6-25 17-27 5-2 10 9 12 22 5 23 5 5 4-3 13-35 9-9 10 3 7 9 17-13 8-1 15 10 4-4 11-32 8-10 7-2zM4903 1319l7 3 13 22 10 6 8 15-1 5-6 0-1 2 10 65-3 6-14-7-8 5-5-12-5 4-5-5-5 4-2-4-6 8-7-7-3 1-2 6-5-4-7 2-2-14 6-13 9-55 13-25zM5063 1327l5-6 8 3 0 3z"/><path fill="#abc739" d="M4533 1112l176 0-14 55-14 68 8 35 4 37-15-3-5-7-5 0-5-5-5 3-2-4-6 6-7-5-3 10-7 2-5-42-2-6-11 4-2 3-7-4-10 1-6-9-2 2-4-1-4-15-7-1-40-13zM4872 1112l100 0 15 30 5 15 0 10 8 28 0 19-6-2-4-8-7 1-5-6-5 5-3-4-4 4-6-3-2 1-2 8-6 2-2-3-3-17-1-17 2-8-3-14-15 5-2 13-8-4-10-1-5-21zM5031 1157l0-17 5-28 118 0-4 4-77 39-10 19-10 3 0-10zM5358 1112l0 162-25 5-17 0-1 11-5 4-5-2-4 10-5-2-10 6-16 0-3-51-3-5-1-15-5-18-20 28-6 15 11 30-1 7 4 6 5 2-5 10 6 5-4 5 2 3 15 2 0 7-12 2-2-2 2-5-2 0-5 10-12-5-4-10-7 4-5-6-5 5-3-5-4 8-6-4-4 7-8-2 5-37 4-10-1-32-12-35 0-20 29-88zM4756 1137l15 33 3 60-5 20 6 20-15 1-2-4-5 3-3-2-4 5-7-3 4-18-17-10-2-12 2-13 2-1 22 20 3 1zM5028 1205l5 2 7 10 8 20-8 1-4-4-6 2-10-1 1-15zM4889 1227l4-11 7-4 8 5 3 8-1 4-7 1-5-3-5 3zM5146 1253l2 2 12 23 4 19-11-2-3-5-4 3-6-3-2 3-10-3 8-22zM4716 1289l2-2 12 3 6 12 7 25 3 3 7-4 4 1 16 12 10-6 7 2 8 14 4 13 4 4 4-4 14-32 6-4 6 3 15 28 6 25-1 10-10-6-8 3-2-7-3-1-3 2-4-4-3 4-7-4-3 9-10 3 0-16-6-8-7-2-2-4-8-2-1 3-3 1-6-4-4 3-8-13-4 1-4 4-4-5-8-1-5-11-7-7-6 3-7-9-3 0-2 6-10 0 2-10zM5153 1321l11 39-16-4-2-5-3 0-5 4-5-1-20 18-7-1-11 4-7-6-7 6-1 7-12-5-12 0-16 5 0-7 8-18 8-8 10 3 7 9 17-12 8-2 15 11 4-3 12-35 7-8 7-2zM4903 1319l7 3 13 23 10 7 2 10-2 1-2 9 5 25 3 30-6 9-12-6-1-9-2-3-8 5-4-5-3 2-5-4-2 2-6-4-4 7-6-3-4 11-8 0-2-7 4-15 11-57 14-25zM4993 1339l5-2 4 3 15 22 7 28 5 7-3 4-3-2-3 6-10-5-4-9-6 3-2 0-2-5-6 4-2-2-5 6-3-3-7 1-1-5 5-25z"/><path fill="#c5c22a" d="M4533 1112l175 0-15 55-13 63 3 20 5 20 2 29-10-11-10 1-2-6-5 1-3-4-4 4-3-3-5 6-10-3-5 6-6-38 1-5-2-6-6 1-12 14-5-1-4-15-11 3-5-10-7-1-43-14zM4913 1112l59 0 17 38 2 17 6 18 1 15-11-3-4-6-13 2-4-2-3 4-15 1-3-11 2-15-1-15-4-15 2-10-1-10-25 25 0 17-4-12zM5039 1112l41 0-16 33-4 13-3-6-21-11zM5358 1112l0 158-28 5-17 0-3 12-2 2-8-8-4 14-3 2-10-1-3 4 0 2-9 0-1-30-10-58-13 16-16 27 11 33-1 7 8 10-4 8 6 5-5 5 0 4-2-4-8-5-10 1-6-7-2 5-5-5-3 2-4-1-6 7-2-3-5 0 0-20 5-12-1-32-13-35 0-20 30-88zM4756 1142l4 5 11 25 2 55-5 23 2 15-4-2-3-5-13 1-4-2-4-7-15-8-2-5 3-20 25 21 2-3zM5028 1207l10 10 2 9-14 0-3-6zM5146 1254l14 28-25-2 1-9zM4718 1288l13 4 8 23 1 12-14-6-6-5-4 1-10-5 6-15zM5143 1311l8 9 6 17-1 5-8-2-8 3-4-2-6 5-4-1-3 5 1-13 6-17 8-8zM4903 1320l6 2 14 24 5 4 8 50 0 25-11-13-12 2-5-10-5 6-5-5-5 4-5-4-4 7-8-3-6 5 5-37 7-27 13-25zM4828 1328l2-1 8 5 13 25 4 25-2 1-10-3-5-8-8 1-7-4-5 5-2-3-10 1-1-2 6-8 9-25zM4742 1335l11-7 20 13 10-7 5 1 5 4 3 13-6 2-12-4-10 5-1-8-4-5-10 1zM4993 1339l7 0 8 8 12 25 0 18-7-6-10 1-5-4-8 3-7-3-3 8-5 1 3-25zM5047 1365l4-10 7-6 6 3 9 11 20-14 5-1 8 7-8 4-2 4-10-2-8 4 0 5-2 1-3-1-5 2-5-7-10 3-5 0z"/><path fill="#dcbd29" d="M4533 1112l174 0-15 55-12 63 2 20 5 20 1 10-2 5-9-3-4-9-7 2-3-3-5-1-2 5-3 0-5-7-3 1-3 10-9 0 3-5-6-10-4-34-10 3-6 7-10-6-7 1-3-1-2-16-55-28zM4948 1112l23 0 17 38 8 36-8-4-5 1-5-3-5 0-5 4-8-2-7 10-5 0-1-17 2-5-3-30 2-8zM5358 1112l0 144-30 7-18 1-4 14-6-3-7 3-13-8-10-3 0-12-4-8-4-32-2-3-14 18-16 27 10 33 1 7 6 10-6 10-10-2-3-10-2-1-6 3-7-3-5 5-8-3-2 8-5 0 2-7 0-10 3-10-1-32-12-35-1-18 30-90zM4758 1145l11 25 0 27 3 8 0 25-4 17-5 4-5-3-5 1-13-2-12-7-2-5 4-16 20 20 3 1 3-3 0-85zM5146 1255l7 15-10 0-5 3 0-4zM4718 1289l12 3 4 10-1 9-10-2-7-5-4 6-4 0zM5138 1313l5 0 7 8 6 16-13-7-7 3-7-3 3-10zM4903 1320l6 2 17 28 8 50-4 11-12-4-5-12-7 5-3-7-5 4-2-2-6 4-4-3-6 11-7-2 3-25 6-30 13-25zM4826 1330l4-2 7 4 12 25 1 11-7-3-7 2-3-5-7 0-6-3-2 1-2 7-6 0zM4780 1340l3-3 6 0 2 3-11 2zM4994 1340l6 0 7 7 11 25-2 8-6 0-4-10-8 5-5-4-10 4-4-3 1-9zM5053 1355l5-4 6 6-1 2-10-1z"/><path fill="#f0ba36" d="M4533 1112l173 0-14 53-13 65 7 43-10-6-6 1-4-7-6 3-2-3-5 4-7-3-8 4-5 0-3-8-2-48-15 6-5 4-3 5 1 8-8-3-4-23-61-59zM4949 1112l22 0 17 40 1 8-1 16-2-5-8 1-10-3-5 5-13-8-3-26 2-8zM5358 1112l0 36-51 99-4 23-7 2 1-7-1-5-10-7-17-6-4-20 0-15-2-2-3 0-15 20-15 25 0 7 7 20 2 18-1 2-5-5-10 2-2-4-3-1-5 3-3-3-2 1-2 4-10-2 4-10-2-32-13-35 0-18 30-90zM4758 1152l9 23 3 53-2 12-2 1-8-1zM4718 1291l10 1 0 7-10-3zM5135 1317l3-3 5 0 6 8-1 3-4 0-4-4-4 0zM4903 1320l5 2 17 28 5 30 0 18-7-9-13 1-4-6-8 3-5-2-5 7-2-5-8 0-1-7 6-30 13-25zM4827 1330l3-1 6 3 10 20 0 7-6-7-10 2-2-5-5 4-5-1 4-15zM4993 1341l5-2 8 7 7 16 0 4-13-1-2-6-5 6-8-5z"/><path fill="#febe3c" d="M4706 1112l-14 53-13 62 1 29-7-3-7 2-6-6-2 5-8-5-4 8-8 5-5 0-3-25 2-12-2-28 12-85zM4950 1112l19 0 14 30 5 21-2 1-10-3-10 3-16-9-2-15 2-8zM5264 1112l0 93-20 25-15 25 0 7 7 20 0 10-3 1-7-9-8 4-2-6-6 4-10-2-2-32-12-34-1-16 30-90zM4903 1321l5 1 7 10 9 18 4 17 0 20-13-2-5-10-7 4-3-7-4 5-6-2-4 7-8-1 5-29 10-22zM4828 1330l8 2 3 13-1 1-4-4-11-1 0-4zM4993 1342l5-2 7 7 1 4-10 1-4-5z"/><path fill="#fec934" d="M4644 1112l61 0-28 118 1 19-9-2-3-6-6 2-2-3-18 8-7-1-1-50zM4953 1112l14 0 9 23 0 15-3 2-21-12zM5262 1112l0 93-34 50 0 7 4 15-9 2-5-6-2 2-6-1-4 6-3 0-3-10-1-18-13-35 0-15 30-90zM4903 1321l4 1 8 10 8 18 3 17 0 7-10-7-8 5-2-7-3-1-3 2-4-2-3 5-10-4 1-13 12-25z"/><path fill="#fad62d" d="M4645 1112l59 0-14 53-14 70-8 1-5-4-5 1-20-8-4-5-1-23zM5261 1112l0 93-27 37-7 13-1 9-10 1-13 4-3-1 0-16-13-35 0-15 30-90zM4903 1322l5 2 8 11 6 15 1 15-10-2-5-9-10 4-8-4-1 6-4 0 1-9 8-21z"/><path fill="#f5e327" d="M4701 1112l-12 50-9 48-4 13-6 2-7-1-10-9-15-32 9-71zM5259 1112l0 93-26 37-7 14-16 1-10-9-12-30 0-16 22-60 8-30zM4903 1322l3 1 7 9 5 11 0 7-12-2-6-5-4 4-6-2 6-16z"/><path fill="#f6ef20" d="M4896 1331l4-6 6-1 7 12-13 1-4-2z"/></g>
<path d="M4563 1172L4563 1554L4896 1728L5332 1599M4896 1728L4901 1738M4896 1728L4890 1737M5114 1664L5119 1674M4729 1641L4723 1650M5332 1599L5337 1609M4563 1554L4557 1563M4563 1554L4553 1554M4563 1450L4553 1450M4563 1346L4553 1346M4563 1242L4553 1242" stroke="#585858" stroke-width="7.5"/>
<!-- F9 -->
<path d="M191 2468L191 2087M542 2641L191 2468M991 2513L991 2132M542 2641L991 2513M416 2404L416 2023M766 2577L416 2404M816 2426L816 2045M366 2555L816 2426M640 2339L640 1958M991 2513L640 2339M640 2339L640 1958M191 2468L640 2339M191 2468L640 2339L991 2513M191 2373L640 2245L991 2418M191 2279L640 2150L991 2323M191 2184L640 2055L991 2229M191 2089L640 1961L991 2134" stroke="#dedede" stroke-width="6"/>
<path d="M191 2468L640 2339L991 2513" stroke="#b4b4b4" stroke-width="7"/>
<path d="M640 2339L640 1958M191 2087L640 1958L991 2132L991 2513" stroke="#585858" stroke-width="7.5"/>
<g stroke-width="7.5" stroke-opacity="1"><path d="M698 2543l-4 0 0-2 5 1zM616 2541l-9-3 3-3 9-1 5 2 1 2zM661 2529l-8-2-2-3 9-3 9 2 1 3zM706 2515l-7-1-2-3 9-2 7 1 1 3zM574 2552l-7 0 0-3 9 0zM747 2501l-2-1 2-3 8 1-1 3zM588 2524l-16-1-2-2 0-2 9-3 12 2 2 2zM634 2512l-13 0-8-4 1-3 4-2 14 0 6 4-1 3zM678 2498l-12 1-7-4 1-2 3-2 13 0 6 3zM536 2537l-9-4 3-3 9 0 5 1 2 2-4 3zM716 2485l-8-1-1-3 9-3 7 2 1 2zM554 2507l-13 0-7-3 1-3 3-2 14 0 7 3-1 3zM594 2495l-14-2-2-2 0-3 10-3 14 2 2 2-1 4zM639 2482l-14-2-2-2 1-3 4-2 14 0 6 3-1 4zM501 2520l-7-2-2-2 3-3 10-1 5 1 2 3-5 3zM682 2468l-10-1-2-2 5-4 13 1 2 4zM458 2530l-4-1 0-1 6 0zM728 2453l-6 0 2-2 4 0zM519 2490l-13 0-6-4 4-4 12 0 7 3-1 3zM559 2478l-9-1-6-3 1-3 3-2 18 1 3 2-1 3zM609 2464l-13 0-7-3 5-5 11 0 7 3zM466 2502l-7-1-1-3 3-2 7-1 6 1 2 3-4 3zM646 2451l-8-2-2-2 4-3 13 1 2 3zM435 2483l-8-1 1-2 7 0 2 1zM476 2472l-7-2-1-2 3-2 7-1 8 3-4 4zM522 2460l-9-2-1-3 9-3 8 1 2 4zM566 2446l-8-1-1-2 4-3 12 1 2 3zM615 2432l-9-1 2-3 7 1zM488 2440l-5-1 5-1z" stroke="#4747eb"/><path d="M690 2574l-9 0-2-2 8-3 5 2zM736 2562l-11-1-3-2 3-2 8-1 5 2 0 2zM780 2549l-10-1-2-2 3-2 7 0 4 2zM659 2559l-19-1-2-2 0-3 4-3 16 0 6 4-1 3zM699 2547l-15-1-2-2 0-3 4-4 6-1 16 3 2 2-2 4zM744 2534l-14-1-3-2 0-3 4-3 6-1 15 2 2 3-2 2zM607 2572l-9-2-2-4 8-3 12 2 0 4zM787 2520l-11-1-2-2 1-3 9-2 10 2 1 4zM564 2582l-6 0-1-2 10-1zM827 2505l-2-1 2-2 8 1-1 2zM627 2543l-13 1-12-2-3-2 0-4 4-5 24 1 5 1 1 3-2 5zM673 2531l-22 0-6-1-2-5 2-5 3-2 24 1 5 1 2 3-3 6zM717 2517l-13 1-14-1-2-5 2-4 3-2 23 1 6 3-2 6zM575 2556l-16-2-2-2 1-5 8-2 19 2 1 2-2 5zM755 2505l-18-2-2-5 5-4 18 0 7 4-1 3zM527 2567l-9-1-2-4 8-3 12 2 2 2-2 2zM797 2490l-11-1-2-2 1-3 3-1 11 0 5 1 1 3zM548 2539l-21 0-5-2-2-5 4-5 23 0 6 2 1 2-3 6zM589 2528l-25-3-2-2 2-8 2-2 6 0 28 2 1 2-3 8zM634 2515l-28-2-1-2 4-12 37 3-3 11zM679 2502l-27-2-1-2 2-9 3-2 27 2 5 1 1 5-2 4zM727 2487l-22 1-5-1-2-3 2-6 4-2 14 0 12 2 2 2-2 5zM494 2551l-13-2-2-2 0-3 8-3 17 2 1 2-2 4zM764 2474l-16-1-1-4 5-4 14 0 7 3-1 3zM450 2561l-8-1-1-2 6-2 6 1 1 2zM810 2458l-11 0-1-2 3-2 9 1zM561 2511l-28-1-7-4 5-10 37 1-4 11zM608 2499l-39-2 5-15 16 1 23 1zM651 2485l-37-1 4-12 3-2 6 0 27 2 2 2-1 3zM507 2523l-21-3-2-5 5-5 5-1 24 2 2 2-3 7zM688 2471l-19 0-5-2-2-2 3-7 3-2 23 1 5 1 2 5-5 6zM460 2534l-15-2-2-2 0-3 4-3 5-1 17 2 2 2-2 5zM730 2457l-17-2-2-4 6-4 20 2 2 2-1 3zM416 2544l-10-1-2-2 8-3 7 2 1 2zM770 2442l-7-1-1-2 4-3 10 1 2 2-2 2zM526 2493l-27-1-5-1-1-5 2-5 3-2 32 1 1 6zM573 2481l-31-1-6-1 0-3 3-8 3-2 34 1 1 3zM616 2468l-29-1-5-1-1-3 3-8 4-2 25 1 7 3-2 8zM472 2505l-20-2-2-5 5-5 5-1 22 2 2 2-2 7zM652 2454l-23-2 0-5 5-5 14-1 12 2 2 2-1 6zM424 2517l-13-3-2-2 1-3 8-3 16 2 2 2-2 4zM695 2440l-17-2-1-4 5-4 19 1 2 2 0 4zM381 2527l-10-1 0-3 7-1 5 1 1 2zM735 2424l-6-1-1-2 4-2 8 1 0 4zM442 2487l-18-1-5-1-2-3 5-5 17-1 8 4-2 5zM483 2475l-22-2-1-5 5-5 5-1 22 2 2 2-2 7zM528 2463l-23-3-1-5 5-5 6-1 22 2 2 2-2 7zM573 2450l-23-3-1-5 6-5 6 0 19 2 3 2-1 6zM621 2435l-19 0-6-4 2-4 4-2 16 0 7 3-1 5zM394 2498l-11 0-7-4 4-3 13 0 5 2-1 3zM663 2421l-13 0-4-1-2-3 5-3 9-1 8 4zM404 2468l-12 0-4-2-2-2 4-3 14 0 4 2-1 3zM445 2457l-11-1-6-4 5-5 19 1 3 2-1 4zM490 2444l-12-1-4-1-2-3 5-5 21 1 2 2-1 4zM535 2431l-11-1-5-1-1-3 5-5 19 1 2 2 0 4zM583 2416l-12 1-5-2-1-2 4-4 9 0 8 3zM355 2479l-8-1 1-2 7-1 2 2zM625 2402l-10-2 3-2 6 1zM411 2436l-6 1-5-2 2-3 7 0 5 2zM451 2424l-7-1 0-2 2-2 11 0 3 2-3 3zM495 2411l-5-1 2-4 9 1 2 2z" stroke="#3875fe"/><path d="M674 2603l-1-2 6 1M715 2592l-2-3 2-2 13 1M759 2579l-3-3 3-3 15 2M805 2566l-3-3 3-2 12 1M853 2552l0-3 5 2M649 2589l-18-1-3-2 0-2 3-4 18 0 6 4zM690 2578l-17-2-2-2 0-5 3-3 6 0 20 3 2 2-3 4zM736 2565l-19-1-3-2 1-7 9-2 21 3 2 2-2 5zM780 2552l-18-1-2-2-1-4 5-4 21 1 4 1 1 4-5 4zM829 2538l-20-1-2-2 0-2 4-4 16 0 6 4zM601 2601l-11-1-3-3 3-2 10-1 5 2 0 2zM866 2524l-8-1-3-2 1-2 10-2 7 2 1 3zM711 2549l-36 0-7 11-9 3-28-2 0-11-2-2-14-2-17 0-3 2-7 11-39-2 1-11-2-2-17-2-13 0-4 1-7 11-28-2-7-3 0-11-34-4-2-2 1-11-28-3-5-1-2-5 4-8 28 0 6-1 4-5 1-4-2-2-34-4 5-15 35 0 5-6-1-6-4-1-28-3 3-11 9-2 29 0 6-11 3-2 36 0 7-11 9-2 28 2 0 11 2 2 14 1 17 0 3-2 7-11 39 3-1 11 2 2 17 2 13 0 4-2 7-10 28 1 7 3 0 12 34 3 2 3-1 11 28 3 7 3-4 11-28 0-6 0-4 5-1 5 2 2 34 4-5 15-35 0-5 6 1 5 4 2 28 3-3 10-9 3-29-1-6 11zM618 2574l-27-1-3-5 1-8 36 3-1 7zM792 2523l-25-1-1-2 3-12 33 4 1 2-2 6zM565 2586l-15-2-3-2 1-4 8-3 19 2 2 2-3 5zM835 2509l-18-1-2-2 0-3 5-5 18 1 6 4 0 3zM521 2596l-11 0-2-3 2-2 10-1 5 1 1 3zM876 2494l-9-1-2-2 1-2 10-2 6 2 2 2zM669 2547l3 1 2-3 1-8-8-3-23 0-3 2-3 7 1 2 5 1zM714 2534l3 1 2-3 1-8-2-2-29-1-5 6 1 5 5 1zM532 2570l-21-2-2-2 0-7 3-3 5 0 31 1-6 11zM803 2493l-29 0 4-12 3-2 7 0 23 3 2 2-2 6zM490 2581l-19-2-2-2 0-2 3-3 5-1 17 2 1 3zM844 2478l-16-1-2-4 6-4 15 0 5 3 0 3zM887 2461l-6 1 3-3M434 2588l7 0-3 2M581 2542l8 0 2-2 1-6-2-2-19-2-6 0-5 5 0 5zM631 2528l4-2 1-5-7-3-18 0-5 4 2 5 4 1zM676 2515l4-2 2-5-8-3-18 0-5 5 2 4 5 1zM717 2503l10-2 2-6-2-3-21-1-6 1-5 4 2 5zM450 2565l-16-2-2-3 1-4 8-3 21 2 1 2-3 6zM804 2462l-14-1-2-3 3-6 15-1 12 2 2 2-1 4-3 2zM856 2446l-13-1-2-2 5-2M396 2569l13 1 1 3-4 1M500 2538l9 0 3-2 1-7-7-3-23-1-3 2-4 7 0 3zM726 2474l12-2 3-11-27-1-6 0-4 5 2 6zM540 2524l12-1 3-2 1-4-7-4-18 0-4 2-2 5 2 2zM587 2511l12-3 1-4-2-2-15-2-10 4-1 3 2 2zM632 2498l12-3 1-4-2-2-15-2-10 4-1 3 3 2zM675 2485l11 0 4-2 2-5-7-4-19 1-3 2-2 4 2 2zM422 2547l-18 0-5-2-3-4 4-5 5-1 23 2 2 2-2 4zM782 2444l-23 1-5-1-2-3 4-6 4-2 14 0 9 2 3 2-1 5zM821 2429l-14-1-2-2 5-3M361 2552l14 0 2 2-5 3M465 2521l9-1 3-2 1-6-7-4-23-1-4 2-3 8 0 3zM691 2456l11-2 4-10-28-2-8 3-1 7 2 2zM505 2507l11-1 3-2 2-5-7-3-18 0-4 2-2 5 2 2zM552 2493l11-2 2-4-3-2-15-2-5 0-4 3-1 3 2 2zM597 2480l11-2 2-4-2-2-16-2-5 1-4 2-1 3 2 2zM641 2468l10-1 4-1 2-5-7-4-20 0-3 2-1 5 2 2zM387 2530l-18-1-5-1-2-2 0-3 4-4 5-1 21 2 2 2-1 4zM747 2427l-22 0-5-1-1-2 3-6 4-2 17 1 7 3-1 5zM786 2411l-13 0-1-3 4-2M326 2535l13 0 1 3-4 2M480 2489l5-2 2-5-7-4-21-1-6 6 2 5zM615 2451l7-5 0-6-23-2-6 1-4 5 3 5zM515 2476l11 0 3-2 2-5-7-3-19-1-3 2-2 5 3 3zM561 2463l10 0 3-2 2-5-6-3-20-1-3 2-1 5 2 3zM401 2502l-25-2-5-1-2-5 5-6 5-1 29 1-4 12zM670 2424l-36-1 6-10 4-2 13 0 14 2 2 2 0 7zM344 2512l-13-2-2-2 1-3 8-3 16 1 2 3-2 4zM705 2410l-12-1-7-4 3-3 3-2 13 0 8 3 0 3-3 3zM748 2392l-7 1 3-3M295 2519l6 0-3 2M487 2460l9-3 3-6-2-2-25-3-7 0-2 2-1 8 2 2zM532 2447l9-3 3-6-1-2-26-3-7 0-2 2-1 8 2 2zM413 2472l-28-2-5-1-1-6 5-5 6-1 25 2 1 2zM593 2421l-31-2-5-1-1-3 4-7 4-1 22 0 8 3zM362 2482l-18 0-5-2-1-3 1-3 8-2 18 1 2 2 0 3zM632 2405l-21 0-4-1-2-3 3-4 4-2 15 0 8 3-1 5zM306 2493l-6-1-2-3 3-2 7-1 7 1 2 2-5 4zM667 2391l-10-2-1-2 5-3 11 1 2 3-2 2zM412 2440l-15-1-4-1-1-4 5-5 5-1 18 2 2 2-1 6zM458 2428l-21-3-1-5 5-4 5-1 19 2 3 2-1 6zM502 2415l-16-1-6-4 3-5 3-2 23 1 2 2 0 6-3 2zM365 2452l-10-1-6-4 2-3 7-2 15 1 2 2-1 5zM545 2401l-12-1-6-4 6-5 18 1 3 2 0 4zM316 2463l-7-2-1-2 3-2 7-1 9 3-4 4zM587 2386l-10-1 0-3 4-2 11 0 3 3-3 3zM329 2429l0 2-5-1M377 2415l3 2-3 3-12-2M423 2402l3 3-3 2-15-1M467 2389l2 2-2 3-13-1M508 2377l1 3-6-1" stroke="#23a0e5"/><path d="M624 2618l-3-4 3-2 5-1 12 2M665 2606l-3-5 3-4 13 0 11 2M708 2594l-4-5 1-4 3-2 17 0 11 3M751 2581l-3-4 3-6-1-2 31 4M796 2568l-3-4 1-5 3-2 17 1 11 2M843 2555l-3-5 5-4 12 0 10 2M892 2541l-3-2 1-3 3-2 15 2M702 2580l-36 0-8 10-9 2-26-1-2-2 0-9-3-2-13-1-16 0-4 2-8 10-36-2-1-11-2-2-16-2-14 0-3 2-6 8-3 1-26 0-8-4-1-10-35-4 0-11-3-2-34-4 1-11-2-2-32-5 0-13-27-4-5-1-1-5 4-7 32-2 4-4-1-7-31-4 1-8 3-6 34-1 5-6-1-5-30-5-1-2 3-8 8-3 28 0 9-13 34-1 3-2 7-11 35 0 4-1 7-11 36 1 8-11 9-2 26 2 2 2 0 8 3 2 13 2 16 0 4-2 8-10 36 2 1 10 2 2 16 3 14-1 3-1 6-8 3-2 26 1 8 3 1 11 35 4 0 10 3 3 34 3-1 12 2 2 32 4 0 14 27 3 6 4-1 7-3 2-32 2-4 5 1 6 31 5 0 5-4 8-34 1-5 6 1 6 30 5 1 2-3 7-8 3-28 0-9 14-34 0-3 2-7 11-35 0-4 2zM601 2604l-18-2-3-2 0-6 2-3 6 0 26 2 0 3-4 6zM864 2527l-15-1-2-2 2-8 10-2 21 3 1 2-1 5-4 2zM552 2615l-9-1-3-5 8-3 15 2 1 2-2 3zM913 2512l-13-1-3-2 1-3 4-2 6-1 12 3 1 3zM650 2577l10 0 2-2 1-7-3-2-18-2-6 1-6 4 0 6zM698 2564l8-3 1-5-3-2-16-2-6 1-5 4 1 4 4 2zM743 2551l8-3 1-5-2-2-18-2-5 1-5 4 1 4 5 2zM786 2538l9 0 3-2 1-7-2-2-21-1-5 1-5 4 1 5zM527 2599l-24-1-2-2 0-6 2-3 5-1 26 3 1 2-2 4zM886 2496l-22 1-6-1-2-2 3-8 4-2 14 0 12 3 2 2-1 5zM927 2481l-16 0-2-2 1-3 4-2M574 2572l4-1 3-5-3-4-5-1-16 0-4 2-3 5 2 2 5 1zM800 2507l6-2 1-2 1-4-3-2-18-1-5 1-5 5 2 3 4 1zM464 2603l17 1 1 2-5 3M613 2558l10-3 0-3-2-2-17-1-5 5 6 3zM662 2544l5-2-2-4-15-1-4 3 1 3 5 1zM707 2531l5-2 0-2-2-2-15-1-4 3 2 3 4 1zM748 2519l10-2 1-4-2-2-13-1-8 3 0 4zM895 2465l-12 1-12-1-2-3 1-2 6-4M491 2568l8-1 3-5-3-4-5-2-19 0-3 2-4 6 1 2 5 2zM807 2478l10-2 3-8-2-2-23-1-5 1-4 4 2 5zM426 2584l12-1 13 2 0 5-6 4M533 2553l10-2 0-3-2-2-17-1-6 4 2 3zM759 2489l9-3 1-3-2-2-13-2-9 3 2 5zM574 2539l8-1 3-2-8-3-6 0-3 2 1 3zM622 2525l5-1-1-3-9 0-1 2zM668 2512l4-1-1-3-9 0-1 3zM709 2500l8 0 3-3-2-2-5-1-7 0-3 3zM861 2448l-11 2-17-2-2-2 2-4 6-5M449 2550l13-1 3-2 0-4-2-2-12-2-14 2-2 5 1 2zM766 2459l14-2 3-5-2-2-6-2-19 1-3 2-1 4 2 2zM390 2566l12-1 17 2 1 2-2 4-6 4M492 2535l11 0 3-4-7-3-9 0-5 4 2 2zM543 2521l3-1-1-3-8-1-2 3zM678 2482l3-1 0-3-10 0 0 3zM718 2470l10 0 4-4-2-2-5-1-11 0-3 4zM585 2506l2-1zM630 2493l2-1zM827 2432l-33 0 4-8 6-4M414 2533l12-1 3-2 1-5-2-2-12-2-14 2-3 6 2 2zM731 2442l14-2 2-6-1-2-5-1-21 0-3 2 0 5 2 2zM355 2549l33 0-4 7-6 4M457 2518l11-1 3-3-7-4-10 0-4 4 2 3zM508 2503l3-1-1-3-8 0-2 2zM643 2464l3 0 0-3-10 0 0 3zM683 2453l9 0 5-4-2-2-5-2-11 1-3 3zM550 2488l2 0zM595 2475l2 0zM792 2414l-12 1-17-1-1-3 2-4 6-4M389 2515l6-2 1-5-2-2-11-3-14 0-4 2-3 7 2 2 6 1zM705 2425l8-4 1-4-1-3-24-2-6 1-3 5 3 5 5 1zM430 2501l5-2 2-3-6-4-13 0-4 2-1 3 2 3 5 1zM656 2436l6-2 2-3-2-2-14-2-9 3 0 3 2 2zM321 2532l11-1 17 1 2 3-2 4-6 4M469 2487l10-3-6-4-8 1-3 3 2 2zM519 2473l2-4-11 1 1 2zM564 2460l2-4-11 1 1 2zM605 2448l9-3-1-2-5-1-8 0-3 3zM756 2396l-12 1-13-2 0-4 6-4M287 2516l12-1 12 1 2 2-1 3-6 4M390 2485l14-3 1-4-2-2-11-3-12 1-5 4-1 3 3 2zM441 2470l5-2 1-2-6-4-14 0-3 2-1 3 2 2 5 1zM576 2431l6-2 1-2-2-2-13-2-9 3 0 2 2 2zM616 2420l13-2 3-5-2-2-20-3-8 3-1 5 3 2zM478 2457l9-1 4-3-2-2-4-1-12 0-3 4zM523 2444l9 0 4-4-1-2-5-1-12 0-3 4zM313 2497l-20-3-2-5 5-4 5-1 23 1 2 2-3 8zM674 2394l-21-1-5-1-1-3 4-6 4-1 19 0 5 1 3 5-3 5zM718 2377l-17 0-1-3 5-3M255 2500l16 0 2 2-1 3-4 1M399 2455l12-1 3-2 2-5-6-4-23-1-3 2-1 7 2 2zM446 2441l12-2 2-4-1-3-19-2-9 2-1 6 2 2zM491 2428l13-2 2-4-2-3-19-2-9 2-1 6 3 2zM535 2416l15-2 3-6-1-2-12-2-18 0-2 2-1 6 3 2zM323 2467l-16-2-5-2-1-4 5-4 5-1 22 1 2 2-2 8zM594 2390l-21-1-5-2 0-2 4-6 3-2 19 0 5 1 4 5-3 6zM280 2477l-13-1-6-3 3-4 5-1 13 1 3 2-1 3zM634 2375l-10-1-5-1-1-3 6-4 15 1 3 5zM290 2440l3 2-1 2-3 2-15-2M339 2426l3 4-5 5-12 0-10-2M386 2412l3 5-1 4-3 2-17 0-11-3M431 2399l3 5-3 6 1 2-31-4M474 2387l4 4-1 4-3 3-17-1-11-2M517 2375l3 4-3 4-13 1-11-3M558 2363l3 4-3 2-5 1-12-2" stroke="#0bbdbd"/><path d="M542 2641l0 0M577 2631l-3-2 0-2 3-3 10-1 12 2M617 2620l-3-2 0-8-1-3-37-1-9 9-4 2-14 0-13-1-3-2-2-11-28-2-8 0-8 10-4 1M656 2608l-1-2-1-8-2-2-27-1-6 4-2 7 33 4M883 2544l-3-3 2-8-1-3-31 1-5 4 1 5 30 5M934 2529l-3-2 0-3 5-3 19 2M991 2513l0 0M687 2594l7 0 2-2 1-6-3-2-22-1-3 2-3 4 1 3 5 1zM736 2580l4-2 1-5-9-3-14 1-5 5 6 4zM781 2567l4-2 1-5-9-3-14 1-5 5 6 4zM822 2555l10-2 1-6-3-2-17-1-6 1-5 4 2 4 4 1zM963 2499l-20 0-2-4 6-4M560 2603l10 0 2-3 0-6-8-3-18 0-4 2-4 5 1 3 5 1zM876 2513l9 0 3-2 3-8-3-2-22-1-5 1-4 4 1 5zM497 2619l13-1 9 2 1 4-6 4M602 2588l8 0 3-2 0-4-2-2-17 0-5 4 6 4zM828 2524l11-3 1-3-3-2-13-2-8 3 1 4zM644 2574l9-1 2-3-7-3-6 1-4 2 1 2zM691 2560l5 0 1-3-9-1-2 3zM737 2547l4 0 2-3-10-1-2 3zM779 2535l8 0 4-3-9-3-6 0-2 2zM932 2483l-33 2-3 14 30 5 1 5-4 5-5 1-27 1-6 10 0 3 30 5M522 2584l8-1 3-2 0-3-3-2-16-1-6 5 7 3zM838 2493l10-2 2-4-3-2-13-1-8 3 1 4zM566 2569l6-2-1-3-8 0-3 2zM792 2504l6-2-1-2-10 0-1 3zM457 2600l35-1 2-7-3-4-26-2-4 1-9 10M902 2468l-33 2-4 5 2 5 29 3 7-10 3-2M450 2580l5-3 0-4-7-3-16-1-4 2-4 5 1 3 6 1zM856 2464l7-4 0-4-1-2-21-2-5 1-3 4-1 2 2 3 5 1zM484 2565l8-1 3-2-7-3-7 0-4 2 1 3zM800 2474l7 0 4-3-2-2-6-1-7 1-3 2zM406 2563l10-2 2-2 1-3-3-2-19-2-6 5 2 4zM812 2446l12-2 2-5-2-2-17-1-8 3-1 3 3 2zM452 2546l4-1 0-2-9-1-3 2zM768 2456l4-1 0-3-11 0 0 3zM371 2545l9-1 3-2 1-3-3-2-19-2-6 4 2 4zM778 2429l11-3 2-4-2-2-17-2-8 3-1 3 3 3zM418 2529l3-1 0-3-9 0-3 2 1 1zM733 2439l5-3-1-1-11 0 0 3zM334 2528l12-1 3-2 1-4-2-2-12-2-14 1-3 7 1 2zM741 2412l13-2 4-6-1-2-15-2-12 1-3 2 0 5 2 2zM379 2513l7-1 3-2-7-4-7 1-4 2 2 3zM695 2422l10-3-1-2-6-1-8 0-3 3zM351 2496l3-1 3-3-6-4-14 0-3 1-2 3 3 3zM667 2406l5-2 2-3-2-2-15-2-8 3 0 2 3 2zM394 2481l1-3-8-1-3 2 1 2zM619 2417l2-4-5-1-6 2 1 2zM280 2512l33-1 4-5-2-5-29-4-7 11-3 2M725 2381l-35 0-2 7 3 5 26 2 4-2 9-10M308 2481l13-1 3-2 2-5-6-4-23-1-3 2-3 8 3 2zM362 2465l5-4-6-3-14-1-4 2-1 3 3 3 5 1zM587 2401l6-4-6-4-10-1-8 3 0 3 2 2zM625 2390l15-2 4-6-1-2-18-3-13 1-2 2 0 6 2 2zM250 2497l33-1 3-14-30-5-1-6 4-4 5-1 27-1 6-11 0-3-30-5M400 2452l8-3-5-3-8 0-4 3zM535 2413l9-2-1-3-8-1-6 0-2 2 2 3zM441 2438l8 0 2-3-10-1-2 1zM486 2425l8 0 2-3-10-1-2 1zM685 2361l-13 1-9-2-1-3 6-4M219 2482l20 0 2 4-6 4M366 2437l12-3 2-4-2-2-18-3-10 2-1 7 3 2zM413 2423l9-2 2-3-2-3-4-1-18-1-4 4 0 3 3 2zM459 2410l8-2 2-3-1-3-17-2-9 3-1 4 3 2zM502 2398l11-2 3-5-1-2-21-3-6 1-2 2-1 6 3 2zM191 2468l0 0M248 2452l3 2 0 2-5 4-19-2M299 2437l3 2-2 9 1 2 31 0 5-5-1-5-30-5M526 2372l1 2 1 8 2 2 27 2 6-5 2-7-33-4M565 2361l3 2 0 8 1 2 37 2 9-10 4-1 14-1 13 2 3 2 2 10 28 3 8 0 8-10 4-2M605 2349l3 2 0 3-3 3-10 1-12-2M640 2339l0 0" stroke="#57cc7a"/><path d="M570 2633l-2-2-2-8-2-2-17-2-14 1-14 10M978 2516l-3-2 0-2 6-5M596 2620l8-1 2-2 0-5-3-2-20-1-4 2-4 4 1 3 5 1zM913 2529l9-1 2-7-3-2-19-1-8 3-1 3 1 3 4 1zM531 2636l13-1 11 3M639 2605l8-3-3-4-13 0-5 3 1 2zM865 2540l8-2 0-3-2-2-10-1-6 1-3 3 1 2 5 2zM681 2591l7-3-2-2-8 0-2 3zM817 2552l7-3-2-2-9 0-2 3zM725 2575l3 1zM770 2562l3 1zM969 2501l-31 3-5 5-1 4 2 2 28 6M517 2616l6-1 3-5-3-4-5-2-16 0-4 2-3 5 1 2 4 2zM924 2499l7-2 3-6-2-3-20-1-9 4 0 3 2 2zM553 2600l10-1 2-3-7-3-6 1-4 2 0 2zM869 2509l8 0 4-3-2-2-6-1-7 1-2 2zM481 2596l5-3-2-4-14 0-5 3 1 2 5 2zM887 2479l5-1 1-3-2-2-11-1-8 3 2 3 4 1zM441 2577l5-1-1-3-7-1-4 2 1 2zM848 2460l5-1-1-2-10 0 0 2zM404 2558l3-1zM810 2441l3-1zM369 2540l3-1zM775 2424l3-1zM338 2524l2 0 0-3-8-1-4 2 2 2zM744 2408l4-2-1-1-6-2-5 2 1 2zM297 2509l10-1 3-3-6-4-10 0-4 2-1 3zM704 2392l8 0 5-4-1-2-5-1-13 0-2 4zM265 2493l10-1 3-2 1-4-2-2-10-2-13 0-5 4-1 4 2 2zM672 2377l12-2 3-5-1-3-22-2-5 1-3 2 0 5 3 2zM309 2478l7-1 2-2-5-3-8 0-4 3 2 2zM626 2387l8-2 0-3-9-1-6 0-2 3 3 2zM276 2463l12-3 1-4-1-2-18-3-10 2-2 7 3 2zM592 2372l11-2 4-5-1-2-22-3-6 1-2 2 0 6 3 2zM213 2479l31-2 5-6-1-6-28-5M318 2448l9-1 3-2-1-3-5-1-11 0-4 1 0 3zM544 2383l11-2 0-3-4-2-13 0-3 4zM360 2433l9 0 2-3-10-1-3 2zM410 2419l2-1-3 0zM455 2406l2-1-3 0zM496 2394l8 0 2-2-4-2-6 1-2 1zM651 2344l-13 1-11-2M204 2464l3 2 0 3-6 4M612 2347l2 2 2 8 2 2 17 2 14 0 14-11" stroke="#c5c22a"/><path d="M556 2632l4-3 0-4-9-3-12 0-4 2-3 4 1 2 4 2zM961 2516l6-5 0-3-2-2-17-1-5 1-4 5 6 4zM590 2616l8-2-2-2-8 0-2 3zM907 2526l7-2-2-2-9 0-1 2zM510 2612l7-2-2-2-7-1-3 2 0 2zM917 2495l7-2-2-2-9 0-1 3zM260 2489l9 0 1-3-9-1-3 2zM667 2373l7 0 3-2-6-2-5 0zM233 2475l9-3 1-2-2-3-4-1-17-1-5 4 0 3 2 2zM640 2359l7-2 3-4-1-3-19-2-8 3 0 4 3 2zM270 2459l9 0 1-3-9-1-3 2zM586 2368l8 1 2-3-10-1-2 1z" stroke="#fec934"/><path d="M544 2627l4 0zM950 2511l3 0 0-1zM229 2471l3-1-3-1zM635 2355l3-1-4-1z" stroke="#f9fb15"/></g>
<clipPath id="cF9"><path d="M956 2132l6 16 1 13 7 30 7 10 8 57 4 13-1 3-8-8-8-45-4-3-9 73-6 12-7 28-11-10-3-25-4-9-3 6-1 13-4 12-1 15-8 23-6 2-4 18-11-10-4-24-20 59-5-3-5 15-11-12-4-19-2 14-4 7-1 8-3 7-3 0-3 5-4 15-5-5-5 8-3-2-8-13-2-9-12 36-5-2-5 15-5-6-7-3-8-9-15 33-5-5-5 7-3-1-12-20-10 26-5-2-5 12-5-6-7-3-7-11-3 0-13 27-5-6-5 7-3-2-10-17-4-2-8 16-6 0-4 12-5-8-7-1-10-20-13 26-5-6-5 7-17-27-8 14-2-2-3 1-5 11-8-10-2 2-3-4-9-23-4 3-9 19-5-6-5 9-17-30-3-2-15 19-8-9-2 2-11-20-1-10-3-2-10 17-5-5-5 7-16-27-1-13-4 1-9 9-5 8-8-10-2 2-6-12-3-32-3-3-7 15-6 7-5-2-5 5-6-10-6-50-4 0-8 18-11 9-6-9-3-35-6-34-1 9-7 7-4 13-8 9-3-4-6-28 0-15-6-42-6 7-6 23-8 9-3-4-3-10-3-35-9-62-5 19-4 23-5 8-3 1-1-2 4-10 9-47 6-18 11-57 6-6 5-2 8 25 3 33 6 32 4-2 3-23 4-5 6-25 6-8 3-2 10 23 3 32 7 25 5-5 11-50 8-10 11 23 4 35 5 25 3 0 6-18 6-40 5-12 6-7 10 22 3 30 7 27 3-5 5-17 6-40 7-18 3-2 4 2 7 18 3 30 6 24 9-27 6-40 7-17 4-3 3 3 7 17 4 28 6 21 8-31 8-48 6-11 2-1 3 1 6 11 8 45 3 7 17-82 9-15 5 5 5 13 4 27 3 10 3-5 1-15 9-25 6-37 6-11 2-2 9 10 9 44 4-29 7-15 8-45 5-12 4-3 4 2 4 6 11 55 8 5 4-10 3-3 6 2 3 6 11 52 6 7 10-22 5 3 5 10 4 25 8 25 3 0 6-23 3-5 6 4 5 11 4 23 8 26 9-31 4-5 5 2 5 10 4 25 5 20 3 5 9-40 3-5 6 2 5 11 4 25 5 19 4-4 3-25 9-20 10 12 6 35 4 5 3-7 3-25 8-20 7 2 4 8 4 22 3 5 8-17 1-10 9-23 6 3 4 7 4 25 6 17 6-49 11-23z" clip-rule="evenodd"/></clipPath><g clip-path="url(#cF9)" stroke="none" fill-rule="evenodd"><path fill="#4332cb" d="M181 1963H1001V2523H181z"/><path fill="#463cde" d="M161 1943l857 0 0 598-857 0z"/><path fill="#4747eb" d="M161 1943l857 0 0 598-421 0-5-35-11-4-2 6 0 33-418 0zM546 2491l-2 10 1 5 6 6 3-1-2-18zM626 2494l-3 4 2 10 9 7 2-4-1-13-4-3z"/><path fill="#4852f4" d="M161 1943l857 0 0 598-332 0-5-25-7-18-16-2 0 45-21 0-4-20 4-8 0-12-6-10 0-8-3 6-6 7-1 10-5 0-2 2-4 8-9 12-3 0-4-10 0-10-6-9-2 1-8-1-1 42-27 0 4-24 4-6-7-28-7 8-3 12-7 0-4 8-16 22-7 5 0 3-346 0zM501 2487l-3 6 0 10 6 21 2 1 4-17-2-18-4 0zM591 2482l-3 1-2 10 2 5 1-10 3-2zM706 2481l0 13 12 13-2-23z"/><path fill="#465efb" d="M161 1943l857 0 0 598-329 0-5-25-12-23 2-12-6-5-3 10 2 7-9-1-3 9 1 40-16 0-4-23 3-7-6-28-5-6-8 19 0 5-2 2-5-2-6 15-9 9-3-9 0-10-4-8 0-7 3-5-3-9-3-1-4 5-10 27-6-5-10 1-2-1-2-17-8-9-8 23-4-4-7 15-19 23-1-6 5-22-4-36-4 12-6 2-3 9 7 33 3 5-1 10-343 0zM466 2467l-1 11 3 3 2-8zM706 2478l-3 3-1 12 19 21 1-3-4-26-4-6zM571 2515l1 26-16 0 2-13z"/><path fill="#4269fe" d="M161 1943l857 0 0 598-234 0-25-63-5-4-13-1-3 8 14 60-19 0-9-23-4-32-4-8-1-15-4-3-3 11-6 10-1 8-7 0-1 4-12 14-6-14 0-10-2-15-2-3-7 8-1 8-9 17-3 0-5 7-5 1-7-24-6-7-2 0-9 21-8 5-1 9-7 11-3 0-1-5 1-10-5-8 2-15-4-8-3-1-6 4-8 25-6-4-10 2-2-2-1-13-9-14-9 19-7 5-4 15-15 19-3-1 5-21-1-35-3-5-6 0-7 21-2 2-6-3-14 7-6-4 3-18-3-10-2 0-3 5 0 10-5 2-4-6-7 17-37 50-249 0zM421 2457l-1 14 4 10 3-8 0-12z"/><path fill="#3875fe" d="M161 1943l857 0 0 598-231 0-26-65-7-6-8 1-8-3-3 13 15 60-15 0-9-23-10-56-5-5-5 4-7 25-8 0-1 7-9 12-4-12-3-25-3-5-9 8-1 7-7 16-6 0-4 7-2 0-1-7-5-4-2-9-8-10-8 10-4 13-8 5-12-3 1-15-4-7-5-2-9 9-5 15-14 3-4-16-6-13-2-2-8 10-4 12-8 6 0 7-10 15-2 1 2-18-3-5 0-20-2-8-7-4-3 1-7 22-6-3-17 8-2-6 3-13-6-20-8 19-4-1-3 2-4 15-39 53-247 0zM428 2443l-4 10-6 1-1 9 3 20 4 2 5-12zM754 2450l-6 6 6 7 2-5zM786 2447l0 9 2 5 21 17-13-30z"/><path fill="#2f81fa" d="M161 1943l857 0 0 598-229 0-26-65-7-10 1-10-6-16-19 38 15 63-9 0-10-23-5-32-5-8-1-17-9-7-8 12-5 15-8 5 0 7-6 9-1-6 4-8-8-10-1-12-7-5-7 5-10 25-14-3-8-22-3-2-5 11-5 4-4 12-4 3-4-2-6 3-2-2 0-12-12-15-5 10-5 4-6 13-2-3-2 0-6 6-1-10-6-10-2-10-3-2-10 12-5 12-3 2-4-2-2 5-6 4-2-4 0-20-10-13-8 8-5 12-6 1-9 9-5 1-1-5 3-13-5-21-2-2-7 8-5 10-6 5-3 15-40 53-244 0zM426 2438l-9 15-3 10 3 20 4 5 5-2 9-20-5-10 1-13zM786 2444l-3 4 1 13 12 13 18 12 0-6-18-36z"/><path fill="#2d8cf3" d="M161 1943l857 0 0 598-166 0-20-33-12-15-17-37-9-35-4 5-1 12-7 8-1 9-7 1-1 5-9 11-3 0-3-6-2-20-5-9-7 9-3 10-7 15-6 1-1 6-3 2-3-2-3-17-10-10-10 12-2 10-8 9-10-3-2-13-10-11-2 0-8 16-2 1-6 14-2-3-8 5-14-34-11 19-5 16-8-1-2-7-14-18-3 1-5 11-4 1-4 10-7 1-9-11-2-10-6-13-12 18-4 12-9 0-7-15-8-12-8 9-2 0-6 11-2-2-2 2-3 7-7 6-2-3 2-13-6-24-2-2-5 6-3 0-5 13-5 3-7-1-8-12-1-13-6-8-5 2-7 22-6-5-10 3-12 8-2-2 2-22 6-10-1-15-3-1-5 13 0 8-5 2-5-5-6 15-70 93-136 0zM834 2410l0 14 4 6 6 2-3-18-3-4z"/><path fill="#2797eb" d="M161 1943l857 0 0 598-101 0-67-95-3-8-3-22-6-9-7 1-1 3 1 16-3 2-8-1-5 8 18 65-2 1-10-11-16-35-8-28 1-10-2-5-10 13 0 10-6 10-2 7-10-2-1 2 3 5-6 10-4-2-3-20-3-12-3-1-5 9-5 1-7 23-3 2-10-1-1-6-11-10-3-9-5 16-6 5-7 15-10-3-1-9-13-15-8 16-5 4-3 9-10 2-6-9-8-23-15 23-5 13-20-25-3-9-4 4-1 12-5 3-7 13-3-3-5 0-2-4-3-11-10-18-7 18-6 4-4 11-17-20-6-16-3 13-7 5-3 7-7 3-5-1-6-24-9-11-13 28-7-2-7-10-1-10-4-10-5-4-11 19-25 13 1-20 4-10 0-15-5-7-10 22-4-2-5 4-3 13-72 95-133 0zM341 2406l-2 2 4 25-2 8 18-8 5-5-3-3-10 0-3-10zM608 2294l2 24 6 3 2-10-2-4-7-1zM624 2278l-4 10 4 8 2-13zM656 2285l-3 16 3 7-1 5 3 3 2-15z"/><path fill="#23a0e5" d="M161 1943l857 0 0 598-98 0-67-95-5-10-2-20-6-13-2-19-4 14 0 5-6 8 0 15-14-2-6-17-2 4 2 30 5 5 5 29-13-32-4-4-3-13 2-10-4-6-2 0-8 12-10 25-2 0-3-4 0-23-3-1-4 2-4 10 3 20-2 5-13-37-5 17-8 12-7 16-5-11 0-12-5-7 0 22-7-5-3-10-4-5-13 22-5 15-5-1-2-6-18-23-4 8-1 12-6 3-6 12-3-2-5 1-8-24-7-8-3 1-3 15-4 6-4 1-3 11-14-11-5-7-1-10-6-4-10 14-4 17-9-2-9-23-8-8-4 16-3 3-4-1-3 11-6-5-2 1-8-9-4-17-6-4-3 3 0 13-7 4-4 9-6-2-2 1-5-20-10-17 0-5-4 12-10 20-3 2-9-9 0-8-7-15-2-11-8 16-4 4-6 9-7-8-4-22-9-12-13 22-7 4-2-34-10 2-5-15-7 19-6 1-4 7-3-18-7 6-18 2-25 33 0 7 50-25 4 18-14 29-41 61-9 18-110 0zM496 2262l-2 16 2 5 3-7zM574 2274l-3 27 3 2 2-5 3-22zM606 2282l-2 6 4 29 8 7 4-16-4-6-3-1-4-18zM621 2253l-3 5 2 23-1 7 2 10 3 2 3-17 0-12zM654 2277l0 39 4 1 5-26-2-10zM704 2271l-4 10 4 4 1-4z"/><path fill="#1ca9df" d="M161 1943l857 0 0 598-95 0-6-13-61-84-5-10-3-18-5-8-1-25-4-3-13 26-3 15-5 0 2-18-8-18-4 8-6 22-7-15-3-1 0 9-10 20-4 3-1 7-2 1 1-16-9-25-2 9-4 1-2 21-2 3-5-14-3-2-2 1-5 19-5 8-4 2-4 11-2-4 3-20-8-21-4 9-3 17 3 15-3 0-4-12-9-11 0 6-13 20-1 7-3 5-8-19-2 6-3 0-6-7-1-8-3 0-10 9-7 22-8 1-7-19-11-12-4 6-3 16-5 0-5 6-5 2-5-3-4-7-9-25-2 1 0 6-12 18-6 13-14-26-8-7-3 5-2 12-5 0-8 8-7-3-5-9-1-11-7-8-4 4-12 24-6 0-4-15-7-15-1-7-3-3-3 3-3 12-4 6-3-1-4 13-7-10-11-34-4 1-4 16-6 2-4 8-4-1 0-40-3-3-5 14-8-10-2 1-2 9-3 3-3-1-4 12-4 3 0-43-4-8-5 18-3 2-2-2-2-17-10 12-5 13-5 3 1-11-1-35-3 0-7 16-8 1-8-6-1 2 2 15-28 42-104 113-16 0zM296 2362l-5 4-25 2-48 49 78-36zM451 2270l-3 16 8 8-1-23zM496 2257l-3 4 1 35 7-30-1-8zM528 2268l-6 5 4 25 3-12zM571 2249l-3 8-4-8-1 4 7 20 1 23-5-2-1 2 6 23 4-8-1-8 8-27-1-5-5 0-1-13zM618 2245l-2 33 2 6-2 1-5-11-5 0-2-4-3 8 7 40 8 7 6-14-1-8 5-7 4-25-6-25zM644 2254l-1 7 7 15 2 20-4 9 6 13 4 0 9-30-6-13-5 0-1-12-4-9-3 8zM668 2240l-2 0 0 13 2 6 4-8zM686 2276l-2 2-1 8 8 17 5 7 2-10-2-6-3-1-4-15zM701 2247l-3 6 2 20-1 8 5 8 3-6-1-17zM736 2267l-2 1-1 18 3 6 2 0 2-9zM854 2391l2 22 12 2 68 53-4-10-44-61-10-4-14-1-3 5zM586 2234l-1 19 3 11 4-21-4-8zM804 2418l3 15-3 4-4-11z"/><path fill="#12b1d6" d="M161 1943l857 0 0 598-19 0-51-61-57-84-10-5-10 0-8-3-3-5 3-7-7-16-2 3-6 25 4 18-4 4-2 1-2-5-3-29-3-1-11 25-3 1-5-4-7-22-4-1-4 2-4 9 3 20-1 5-4-2-4-14-3 0-3 6-4 17-3 6-3 1-4-12 2-22-2-1-3 4-4-3 1-5-4-4-9 19 2 25-1 2-4-10-6-8-4 8-6 23-2 1-3-4-3-25-4-8-8-4-5 10 2 22-2 4-7-12-6 3-7 22-7 1-1-18-5-17-2-2-4 7-2 12 1 20-5-6-1-9-9-1-12 18-6 13-4-11-16-19-5 3-5 17-3-2-7 12-4-3-3 1-13-35-5 5-4 15-3 5-3 0-5 11-4-11-3 1-15-20-2 0-4 6-2 11-4-1-6 9-4-2-3 1-13-37-3 2 0 7-7 13-4 3-5 12-18-43-7 8-1 10-9 5 0 5-1-3-5-1-1-4 1-34-2-2-5 12-7-6-8 5 0 11-7 4-3 6 1-13-3-8 2-22-2-8-8 7-5-4-7 5-4 12-6 4-3-1 2-25-2-28-7 14-3-4-3 0-7 8-5 13-8 5-3-6 2-22-2-13-4-2-7 23-6 3-4-4 4-7 0-15-2-1-6 11-1 7-5 5 2 13-2 1-6-9 2-27-4-17-5 10-13 4-8 18-11 12-58 57-40 34zM418 2248l-1 5 1 13 3-8zM446 2249l2 37 6 9 2 1 3-5 1-20-4-6-6-2-2-15zM461 2225l1 16-2 7 4 14 2-2 1-17zM491 2234l-4 7 4 10 0 27-5-3-3 3 8 31 3-3 10-48-3-5-6-2-1-15zM508 2217l-3 16 3 11 4-13zM524 2255l-4 6-4 2 7 18 3 19 6-34-1-3-4 0zM536 2220l-4 3 2 9 3 4-1 10 2 3 9-13-8-5zM576 2244l-10 2-5-1-2 3 10 25 1 18-7 2 8 30 5-12 2-25 5-15zM586 2211l-5 12 3 23-2 10 4 10 6-3 2-12-3-23zM608 2223l-3 8 10 17 1 25-10-4-2-12-4 6-2 13 6 17 4 25 8 9 14-44 3-22-7-20-6 0-2-13-2-2-2 5zM666 2216l-5 10 3 7-1 23 4 5-1 5 2 2 3-2 2-15zM696 2229l-4 2 6 12-1 10 2 20-3 5-3-7-6-3-3-5-4 8-4-1-2 5-10-2-5-10-3-15-10 3-5-2-3 2 0 5 11 20 1 17-2 3-2-2 0 4 8 21 6-1 9-30-1-5 6-7 7 7 13 26 2 3 12-29 1-22-5-20-7-5zM731 2249l-3 4 4 10-1 23 4 7 3 1 4-16-1-17-6 0-1-11z"/><path fill="#01b8ca" d="M161 1943l857 0 0 598-15 0-3-8-49-57-50-71-10-19-17-21-4 3-4 18-2 0 1-13-9-27-3 5-5-2-2 5 2 27-2 6-4-11-6-9-7 24-5 8-3-6 2-20-5-10-1-10-2 0-4 8-3-7-2 2-8 30 1 12-1 2-3-9-4-2-6 9-4 10 0 10-3 3-2-8 3-20-4-10-1-10-3-6-5 5-2-4-9 20-3 15 2 12-3-2-2-7-4 0-7 10-4 21-4-9 4-23-5-19-3-4-5 6-3-7-3 5-6 25 2 23-7-18-3-1-8 16-2 12-3 4-3-9-3-25-6-9-5 0-4 4 2 20-1 8-2 1-3-4-5-12-4 7 0 5-8 17-4 1-4 10-6-23 1-5-5-3 3 6-3 9-2 0-10-11-8 2-5 7-5 19-7-1-10-29-5-7-8 11-2 15-2 0-6-3-7 7-15-24-6 2-8 8-4 15-7 1-13-39-2-1-5 9-3 14-2 3-5 0-3 11-2-13-7-10-3-15-5-4-9 9-3 12-3 0-5 5-2-5 2-7-3-35-2-1-4 3-1 8-3-7-7 11-3 0-10 11-2-1 3-42-3-10-5 6-3-7-2 3-4 13-6 7-5 1-4 15-3 3-2-1 3-20 0-30-4-7-5 6-2-7-10 20-7 1-4 15-5 4-2-2 4-22-1-30-3-3-5 4-3-3-8 12-6 2-10 17-4-7 2-7-1-22-5-9-6 21-12 4-9 8-3 10-10 13-30 30-65 58 0-69 100-47 1-20-1-3-7 5-30 1-36 29-27 19zM416 2223l-3 18 3 25 2 2 4-5 1-17-5-10zM461 2209l-4 9 3 23-3 7 4 15-7-2-5-23-3-1-6 6 5 13 2 30 7 11 2 0 4-6 6-20-1-5 2-5 3-25-6-13zM506 2196l-2 0-2 7 2 8-1 22 4 15-3 3-6-4-3-21-4-2-3 6-2-1-2-7-2 11 7 18 2 20-3 3-4-2-6-16-4 9-4 3 1 5 5-1 4 4 11 36 3-6 6-28 6-16 4-4 0-10 4-17zM524 2243l-6 11-6 4 10 23 4 20 2-3 6-35-7-7zM528 2207l-3 9 10 20 1 16 8-11 4-1 3 3 1-2-6-12-5-1-1-12-4-9-2 9zM578 2197l-2 4 2 8 4 4-2 10 2 8-1 11-7-2-6-13-2 2-2 11-3-2-4 3-2 7 1 6 5 4 3 8-4 12 11 48 5-15 3-25 5-15 10-8 3-30-9-28-4-1zM634 2197l-3 1-1 20 4 7 2-2 1-12zM696 2219l-2 5-6-9-3 8 10 20 1 23-2 1-7-4-3-13-6 16-4 1 2-34-6-12-2-11-4-1-6-7-1 6 5 8-2 10 4 23-3 0-4-6-6-2-3-9-2 2-2 10-3-2-5 3-2-7-3 4-7-6-6-20-2 0-2 4-8-3-3 14 7 7 4 10 0 20-3-2-5-13-6 0-4 15 8 28 4 22 6 9 4-1 11-38 7-9 7 9 8 31 3 2 7 0 3-10 9-13-3-15 4-4 10 11 10 21 2 2 13-30 2-35-5-14-5 1-2-12zM731 2237l-3 8-4-6-4 2 9 20 2 21-3 1-7-2-3-12-4 14 2 12 2-1 8-9 8 9 4 2 6-15 0-20-3-6-4 1zM754 2287l2 16 2-12zM766 2253l0 21 4-8zM781 2229l-1 24 4 4 2-6-2-15zM884 2340l-8 18 0 6 5 0 3-5 1-13zM898 2353l0 10 3 14 12 1 33 11 0-3-2 0-3-5-23-13-7-7-7-2zM708 2304l-2 2 0 7 5 8 1-8zM746 2219l-1 17 3 10 4-18zM638 2261l5 5 1 5-6 5-4-8z"/><path fill="#0bbdbd" d="M161 1943l857 0 0 504-57-56-29-43-23-5-1-7-7-12-6 17-2 12 3 20-5 6-3 0-3-6 2-25-3-13-4 3-3 15-6 10-3 1-4-8 4-10-2-6-5-5-5 0-2-5-3 1-8 25 1 17-3 0-3-8-2-1-7 9-3 19-2 4-1-13 2-10-9-30-10 4-10 16 2 15-2 8-5 0-7 9-5-7-2-15-9-21-1 6-7 3-8 17 0 20-4 4-4 1-4 8-4 1-4-26-5-10-3-4-6 1-10 13 1 17-3 11-5-2-5 9-2 1-6 17-2-11 2-22-4-10 0-10-3-4-5 7-2-7-3 4-7 22 3 18-1 6-5-11-5-4-8 13-1 13-4 3-4-10-1-12-4-18-3-4-6 19 1 22-6-7-5-18-4 0 2 10-2 3-3-1-9 13-5 13-18-34-10 11-2 14-2-4-4 0-4 7-8-4-4-5-6-24-2-2-4 3 2 8-14 15-4 13-16-40-2-1-8 8-2 16-2 1-6-6-4 2-2-8 2-8-2-12 2-8-3-3-5 14-2 1-6-4-2 7-12 7-3-1 3-26 0-20-3-4-5 8-2-7-7 13-8 5-4 8 0 7-7 10 3-42-5-20-2-2-6 4-10 25-4 0-6 6-3-11 2-30-2-7-9-5-12 29-6-2-5 8-2 8-1-6 2-5-2-10 3-22-5-9-4 0-3-7-3 1-7 19-3 3-4 0-10 17-3-2 5-35-2-20-3-3-5 6-10 6-8 1 3 15-3 13-4 6-6-1-5-8 2-27-4-18-5 9-15 3-14 21-40 32-26 19zM371 2225l-3 11 2 10 6 5zM418 2217l-5 4-2 22 2 3-1 10 2 8-5-3-4-20-1-2-4 2 1 25 7-1 3 10 11-9 4-20-5-28zM434 2258l-4 10 1 10 3 2 4-7zM548 2168l0 10 2 5-1 25 5 12 4-4-1-10 3-5-3-10-5-8 0-7zM751 2213l-3-5-2-10-5 10 4 20-3 8 4 5-2 12-8-25-8-2-2 8-2 1-3-3-5 4-2-2-3 1-7-8-6-16-7 1-5-2-4 13 7 10 5 12-3 9-3-8-12 2 2-20-6-25-7-2-1-12-3-1-3 3-4-7-3 4-1 10 10 18-1 10 2 15-8-3-2-12-3-2-2 2-5 12-3 2-1-9 2-8-1-7 2-5-9-37-3 2-2 7 3 30-1 4-2 0-3-6-7-3-2-4-3 7-3 1-2-2-8 8-2-2-5-17-6-1-1-15-3-1-3 4-4-6-3 6-1 7 10 20-2 10 3 13-2 2-6-5-2-12-3-2-6 14-6 4 0-11-2-2-6 2-4-8-3-17-7 3-6-3-3 2-2 13 8 15 2 7-2 8-2-8-8 0-3 3-2 10-2-1 2-37-10-26-6 14 3 10-2 15-5-8-6 0-2-5-2 4-8 1-1 8 10 25-1 8-2-8-8 0-2 7-4 3 3-30-7-26-8-2-2-9-3 7 5 5-2 12 1 8-1 12-5-6-7-1 0-3-8 1-1 4 9 23 2 30 8 12 7-5 5-18 2-2 8 1 4 4 11 35 5-10 3-22 7-18 5-3 11 21 4 21 3-4 4-25 0-17 3-1 6-12 4-2 4 2 11 20-1 15 2 8 0 7 9 33 3 0 3-15 2-25 8-18 7-2 9 27 4 25 9 12 2-3 6-24 7-17 5-5 5 7 10 32 9 3 0 8 4 6 2-1 0-18-2-2 10-20 1-8-2-2 1-3 9 8 13 23 5-7 3 1 1 8 6 7 3-22 10-13 2-2 8 9 6 1 5-15 2-18 5-17 1-15zM711 2190l0 21 3 5 2-3 1-12-3-11zM754 2276l-4 10 6 19 5-17-5-2zM764 2245l-6 8 4 5 3 18 6-5 5 6 2-9-4-7-3-15zM781 2217l-2 1-2 10 3 20-2 5 6 8 3-8 0-17zM816 2233l-2 13 2 2 2-2zM751 2317l-2 4 2 18 3-1-2-7 3-8zM604 2235l6 8-6 7-7-4 1-8zM714 2243l4 1 6 7 4 12 0 17-6-14-8-1-2-2zM711 2287l3 5-6 9-1-10 1-4z"/><path fill="#24c1ae" d="M161 1943l857 0 0 502-54-55-30-44-8-5-10 2-4-2-11-32-3 5-4-2-4 9 2 15-1 16-2-1-4-18-4-3-10 30-3 0-1-7 3-10-5-10-1-10-3-6-3 4-6 0-10 15-1 27-5-3-8 8-2 0-1-5 2-17-3-4-3 4-3-13-4-5-3 1-2 9-3-5-2 2-2 11-4 4-2-2-2-15-3-5-2 8 2 14 5 3-3 10 1 16-6-4-2 4-4-3 3-5-1-5-7-8 1-5-2-5-5 1-3-10-2 7-6 2-6 17-4-7 0-7-4-4-2 4 1 15 4 10-1 5 3 15-5-6-8 2-1-1 2-10-8-19-5-1-2-7-6 10-2-4-8 17-4-13-3-1 0 10 5 8 0 24-2 0-3-5-2 1-5 16-3 0-2-4 1-10-7-27-5-3-4 1-10 16 0 29-8-6-8 8-4 19-4-7-1-30 2-6-5 2-5-7-5-1-3 7 1 15-2 13-1 1-5-13-8 3-4 16-3 6-4-1-3 11-4-11-4 0-12-24-3 8-5 4-4 12-4 1-4 8-10-6-8-27-2-2-6 4-4 17-3 3-4 0-3 11-4-14-4-1-4-16-6-7-11 12-1 10-8 0-2-3 2-10-2-34-8 2-2-2-6 4-8 10 2 8-4 1-5 9 2-43-5-17-6 4-8 19-5 3-7 8-3-2-1-7 4-25-3-13-1 3-4 0-2-12-6 10-2-1-10 16-2 14-6 4-2-6 5-30-4-15-3 4-3-1-3-12-4 10-3-2-10 16-1 10-6 7-3-5 5-27-5-18-3 1-3-3-1-8-10 15 0 6-3-5-3 2 0 7-10 12-3-9 4-25-8-14-5 6-2-7-4 12-6 7-3-8-3 0-5 16-5 5-3-5 2-7-1-23-5-9-5 19-3 3-14 2-15 23-38 31-25 18zM371 2219l-4 19 3 10 6 5 3-5 0-17-3-10zM396 2272l-2-1-3 5 3 8 3-8zM398 2231l2 35 8 2 3 9 14-14 3-22 3-6 3 0 5 16-3 2-6 0-1 28 5 1 4-5 6-2 3 13 7 11 2 1 5-5 7-19 8-2 9 19 6 21 5-10 3-23 9-19 5 1 8 18 3 20 2 2 2-3 6-42 9-15 3-2 6 7 6 13 3 32 10 34 3-1 5-40 7-15 5-4 3 1 9 25 4 25 8 13 1 6 8-26 1-8 11-21 5 6 10 33 7 2 0 8 3 13 6-8 1-25 9-20 4-2 15 26 6-4 1 42 3 4 4-6-1-18 5-12 0-15 8-15 4-4 8 9 7 1 5-15 7 21 3 5 2-1 4-21-4-13-10-3 2-12 4-5 6 5 2 13 0 7 4 0 5-6 5 6 11-22 2-18 0-17-3-10-5 1-3-11-2-2-2 3-6-6-2 5 7 10 3 10 0 21-5-2-5 1-2-10-6 14-4 0 0-37-3-4-1-8-8-10-1-6-7-5-2 8 10 18-2 7 2 8-1 12-5-4-5 0-3-12-4 15-6 2-3-6 5-22-5-15 0-8-4-9-3 2-2 7 2 13 0 19-2 0-5-9-5 0-2-5-3 0-2 10-4-3-7 12-3-14-8-5-3-16-3-3-3 6-4-6-3 1-4 18-6 7 0-12-6-13-1-10-3-2-3 1-4-6-4 5 5 15 1 28-10-6-2-12-6 13-10 7-1-5 3-5-2-4-2 4-8-8-4-20-3-1-3 6-4-6-2 1-4 15-7 9-10-40-5 6-1 10 3 32-7-10-5-1-2-8-3 1-1 9-4-3-8 7-2-1-5-18-5 0-2-3-2-10-6 0-2-7-1 10 5 20 3 2-2 10 2 15-7-3-6-16-4 10-7 4-3 8-5-18-3-3-6-2-1-15-3-2-3 5-5-9-2 6 5 10 2 10 2 3 1 26-8-4-4-15-6 11-2-2-5 4-3 8 1-11-3 0-5-11-6-1-1-13-3-3-3 6 3 10 0 27-10-4zM796 2288l-3 3 0 7 4 8-2 10 3 3 1-28zM798 2250l3 27 3-1 3-20-1-4zM814 2226l-2 22 6 1 3-16-3-4zM424 2282l-3 6 5 13 3-18zM748 2308l-2 3 4 17-1 13 5 1 3-19zM568 2196l6 7 2 13-2-2-13 0-1-8zM648 2201l6 5 3 10-1 6-2-5-6 2-2-2-5 3-1-2zM524 2221l5 7-3 7-8-4 1-8zM684 2230l5 6-5 6-4-4 0-5zM476 2234l2 0 4 7-1 7-3 0-3-7zM718 2247l6 6-6 7-3-7z"/><path fill="#31c69f" d="M161 1943l857 0 0 404-24-24-33-9-11-1-5-5 1-7-2-6-4 6 3 27-5 7-4 2-7-11-1-18-2-1-6 11-4 3-5-8 2-11-5 6-4-5 1-5-5-6-6 14-5 25-6-3-10 13-13-39-4 8-6-2 0 10-10 20 0 19-14-21-3-13-5 1-2-7-3 1-3 8-4-1-6 5-7-8-4 14 4 25-3 1-4-1-8-25-12-4-3 9-4 0-1-8 2-10-4-10 5-5 5-27 7-8 5 6 2-2 10-21 4-38-6-14-5 0-4-16-2 0-1 8-6-7-2 1-2 8 10 23 2 15-2 3-6-3-2-9-10 0 1-16-4-23-2-5-5 2-2-12-3-3-3 5-4-8-5 14 10 20 0 10 2 10-3 2-4-5-3-9-5-1-5 5 2 3-2 7-3-2 3-8-2-7 2-3-2-15 1-7-5-10-1-10-3-2-3 0-4-4-5 3 7 15 0 28-10-5-2-11-6 13-4 3-3-3 0-8-3-1-4 6-4-9 0-10-4-8-8-1-2 6-5-2-3 2-4 10-3-2-4-20-8-3-1-12-4 4-6-8-2 4-1 12-6 3-2 5 1 3 6-5 5 4 5 13-2 12 3 5-1 6-3-3-1-8-4-7-5 0-3 2-1 10-3 4-1-9 3-5-4-7 2-5-2-5 0-20-8-12-4 7 4 5-1 12 6 23-3 2-4-2 1-8-6-12-9-4-2 6-8 0-2 13-2 1-1-6-6-8-3-17-6 0-4-7-4 4 1 13 3 7 2 30-9-7-3-16-6 11-10 8-1-6 4-5-2-5-3 6-5-8-5 1-1-14-4-8-3 9-4-10-4 4-1 10 7 18 0 5 3 2-3 10-2-7-8-1-3 8-5 4-2-12-2-1-6 4-4-5-3-20-5-1-2 3-3 0-2-7-1 0-4 15 6 10 1 10 3 4-3 11-3-10-4 0-7 10-6 2 1-7-3-2 5-5-1-5 4-8-3-2-7 2 1 16-2 3-8-5-3-21-4-1-3 4-2-1-2-7-2 10 8 20 1 20-3 3-5-3-5-16-4 8 4 28-2 17-5-17-3-2-2 14 4 8 0 7 4 12 4-17-1-5 9-1 5 13 15-13 1 9-3 2-3-4-2 17 7 12 4-17 8-8 6 0 2 10 9 13 3 12 3-2-2-10 10-23 7-3 9 18 6 22 5-9 4-25 8-18 5 0 8 18 3 20 2 2 2-2 7-43 11-16 11 19 4 34 10 33 3-2 6-40 8-18 3-1 3 4 8 22 4 23 6 12 4 14 3-4 6-35 11-20 4 5 10 33 6 5 0 7 4 13-2 12 0 4 3 1 4-10-1-10 4-7 1-25 8-18 4-3 13 24 4 4 5 25-5 13 6 36-8 3-5 7 3-19-8-19-5-1-3-9-3 4-1 8-3-5-4 12-5 5-1 27-3 0-2-3-5 14-7 2 0 7-2-22 2-5-8-26-5 5-3-4-6 15-1 32-5-10-5-2-7 10-1 13-5 3-6-13-1-18-7 0-1 8 2 7-4 5-10-19-4 14-6 1-4 4-6 16-6-1-8-25-6-9-7 10-2 14-4 3-4-8-6 3-3-10 2-8-3-12-6 4-6-4-4 13-4 4-3-4-5 0 0-18 3-8-3-20-5 6-3-6-2 3-4 15-6 3-2 7-6 3-3-11 2-30-1-4-5 2-3-12-4 12-3-1-13 21 1 10-5 5-2-5 1-18 5-12-2-10-7-5-2-8-3 0-6 5-3 0-4 14-10 14 4-20-1-10-3-8-5-2-2-9-3-2-10 4-5 14-10 15-1-5 5-12-4-23-2-3-6 2-2-11-2-2-6 8-2-2-2 3-2 8-8 10 0 7-6 7-2-4 2-15 4-8-6-27-10-6-10 28-5-5-5 3-4 15-5 2 2-30 2-5-5-24-8 13-4-5-8 4-2 20-6 9-4-1-7-6 1-15-2-7-6 7-36 1-8 1-15 9zM326 2216l-3 7 3 6 3-6-1-6zM354 2280l-3 3 3 9 3-4zM366 2197l2 29-2 7-2 3-6-6-3 3 3 20 3 4 5-8 5 1 3 4 5-3 3-18 6-7-4-3 0-6-3 5-5-7-6-2-1-15zM486 2169l-5 4-4 0-3 6 2 1 1-4 4-2 3 3 2-4zM674 2146l-3 2 4 5 0 23 3 4 3-2 2-15-2-12-3-4zM811 2204l-4 14 5 20-1 9-10 0-3-9-3 8 4 30 4 7-5 2-4-4-4-8-4 0 9 33-3 10 6 6 3-1-1-28 4-6 4-26 3-8 9-5 3-12-2-15-5 1zM386 2290l-1 21 3 3 3-11zM421 2316l0 13 3-3 0-9zM568 2200l6 6-3 5-6-5zM648 2204l6 4-3 6-4-3zM754 2256l5 5-5 6-2-4zM726 2288l8 9 7 4 6 17 1 10-2 2-2-3-3 4 3 7-2 13 4 22-2 5-4-2-9-26-3 1-7-6-5 8-2 0-3-5 4-42z"/><path fill="#3fca8e" d="M161 1943l857 0 0 402-28-27-14-25-18-1-12-18-4 4-5 23 4 25-5 6-2 0-5-9 2-7-5-18-2 1-8 19-3-2-1-5 3-8-9-24-5 4-3-2-10 14-2 13 2 5-2 13-5-2-5 8-2 0-2-4 2-15-7-7-1-9-2-1-3 3-3-10-2 7-8 2-4 8 0 10-3-8 2-5-7-7-3 12 4 23-3 4-8-7-8-22-1 5-3 2-6-10-4 17-3-9 2-5-1-13 2-5 1-15 7-20 8-2 5-15 0-13-7-12-2-13-2-2-5 0-3 7-5-2-5 4-2-6-3 5-3-1-4-7 0-10-3-7-7-3-2 7-4 2-2-2-3 3-5 9-3-12-7-5-3-15-4-2-5 4-5-3-2 1-3 17-2 0-8-29-6 0-2-11-2-1-2 5-6-7-2 4-1 10-9 10-3-3-4-25-3-6-5 3-3-14-3 10 6 12-1 13 3 5 1 16-8-8-6-1-2-10-4 13-10 7-5-15-3-3-5 1-1-13-4-10-2 9-6-9-5 18-7 9-10-39-5 3-3-13-3 10 5 15-1 10 4 10-2 11-5-6-6-3-2-10-4 12-3-1-7 6-8-19-6 0-2-15-2-1-2 4-6-7-2 2-2 12-5 2-2 5 1 6 6-4 4 3 5 15-2 9-3-7-10 1-2 12-2 0-1-7 3-5-2-9-4 1 0 5-6 6-4-8-1-13-3-6-8 5-4-6-4 2-3 15-6 6-5 0-5 8-5-1-5-10-6 0-1-5-9 2-6 20-5-6-3 11-3 2-7-2-5-10-5 2-3-3-7 0-2 11 7 15 0 16-2-8-3-1-5 1-2 6-6 3 0-7 3-7-3-7-10-1 0 14-4-8-3-16-3-2-7 3 3 9 2 33-2 0-3-4-4-1-3-7 1 24 5 18 8-11 3 1 3 5 7-6 3 0 0 13 4 8 1 12-1 4-2-1-3 5 1 7-1 13 5 8 5-13-2-12 3-3 6-20 6-3 5 13 6-3 2 8-2 7 3 8-2 25 3 5 4-3-1-20 5-7 0-10 3-5 9-8 12 23 3 14 2 1 4-3-1-10 9-25 6-2 8 17 7 23 3-1 3-9 3-25 7-15 4-4 9 19 3 20 3 4 4-7 6-40 6-12 4-4 10 19 5 35 10 33 4-3 5-40 7-15 4-3 9 18 5 30 6 12 5 20 3-5 6-40 11-19 4 4 10 33 4 7 3 18-4 5 7 45-2 1-2-3-5 2-5 15-4-35-8-18-14 15-1 33 2 9-5-9-5-2-10 12-3 13-3-8-1-18-6-23-3 6-6 27 3 3-1 4-10-21-5 2 0 8-12 14-6 13-17-36-10 13-3 13-4-9-6 1 3-22-3-21-7 17-3 0-4-6-8 7 0 12-2-2-6 4-2-1 4-23-3-32-3-3-7 8-9 22-10 10-2-7 5-33-3-5-4-2-3-8-12 5-5 16-5-13-6-8-5-20-4 10-3-8-3-2-4 12-6 4-2-1-6-10-6-22-6 11-4-11-2 7-8 9-3-11-9-8-4-15-4 7-4-2-2-5-10 25-2 0-3-5 2-5-6-25-3-1-2 4-3-2-3-13-4 12-3-2-17 27-3-1-1-6 4-28-8-13-5 7-3-8-6 14-10 8-1 17-4 8-5-3-3-5 3-35-6-15-5 11-17 2-22 25-21 11zM318 2246l-3 5 6 11zM328 2210l-2 1-4 12 4 9 7-11zM351 2258l-3 3 3 12-2 13 3 7-1 8 3 1 4-11-2-13 1-5zM836 2246l0 12 5 15-2 10 5 5 3-15-3-7 0-13-3-6zM846 2209l0 22 2 7 4-7zM694 2160l4 1 6 12-2 8 3 12-1 4-6-17-13 1-2-13 5-1zM616 2167l3 4 0 7-5 4-3-3-5 2 4-10 4-4zM488 2175l3 1 4 10-4 5-3 0-4-8zM444 2187l6 11-3 5-3 1-5-8zM728 2186l6 5 1 7-7 6-5-6 1-2 0-8zM764 2204l4 4 1 5-5 9-6-4 1-10zM796 2210l2-1 7 7 6 24-3 6-4-3-3-9-7 0-2-3zM391 2228l4 15-7 2-4-1-1-6 3-7zM791 2249l5 12 0 11-1-6-7 3-1-3zM781 2274l6 7 6 25-2 1-5-6-1 17 2 8-3 13-3-7-6-6-1-7-4 4-2 6-4-12-3 3-3-1-2-6 4-5 0-10 5-17 6-6 5 6zM681 2291l17 35 1 10-3 2 2 5-1 28 3 7-2 4-3-1-9-29-2 1-8-5-4 5-4 1-3-6 0-5 4-7-1-10 2-15 7-18zM726 2289l8 10 5 2 6 17-5 8 2 12-4 13-2-6-3-2-5-13-2 2-2 9-6-10-2 12-2 5 1-42 8-15z"/><path fill="#57cc7a" d="M161 1943l857 0 0 400-28-27-13-25-16-2-5-3-10-25-5 6-3-2-4 11 2 32-5-4-2-6-3-2-5 1-3 8-6-12-1-12-7-10 0-8-2 8-4 2-2-2-2 1-1 9-10 17 1 20-13-12-5-21-5 1-7-5-4 12-4 0 0-12 2-8-3-12 3-16-7-4-5 1-2-9-4 10 10 30-2 5-2 1-5-6-2 5 4 20-2 15-3 0-7-9-3-12-4 10-6-7-4 2 2-21 7-23 3-1 2 2 3-3 5-15 0-5 3-8 0-10-6-7 3-5-10-11-6 1-2-7-4 11-6 3-9-10 3-5-11-9-6-1-1-10-6 16-7 4-2-12-3-1-2 3-3-5 0-10-5-7-5 0-3-3-2 1-2 9-3-3-7 9-8-18-4 0-6-19-2 9-6-6-2 0-4 18-6 8 0-15-7-13-1-10-2-2-2 2-6-7-3 2-2 10 6 15-1 13 3 5 0 7-3 0-4-4-1-8-5-4-3 1-3 13-4 3-2-11 3-5-1-5-5 3-5 8-7-28-10 4-5-1-2 2-6 17-1-10-7-10-1-12-3-3-2 1-6-8-3 2-1 10 5 18-2 12 4 8-3 4-4-4-2-13-4-1-2 1-5 12-7 6 0-4 3-4-3-12-3 6-7-6-5-20-3-2-2 7-3-1-3-7-8 20-4 4-5-3-5 13-4-1-6-9-5 0-3-7-2 1-1 5-7-1-4 6 2 7-2 3-3-5 2-5-5-3-5 20 1 5-3 7-3 0-4-10-8-7-2-13-6 10-2 0-5 4-10 2-2 25-3 2-8-10-4-3-4-4-2-12-4 13-3-4-5 3-8 0-1 15-3 8-7-1-6-11-5 0-5-6-5 1-1 4 7 17 3 28-1 1-6-6-4-15-4 7 0 15 7 33-9-7-1 12 2 10-3 11-5-17-3-1-4 8-6-13-2 12-8 7-1-2 6-20-5-25-4 15 4 7-2 9-2 2-7-6-3-12-13 3-5 16-12 19-2-3 2-13 4-7 0-8-7-23-10-6-12 29-4 0 2-7-3-4-5 16-5 6-3-1 3-20-2-10 2-7-8-11-8 23-17 2-20 24-20 12zM324 2189l-3 9 2 15-4 13 7 7 12-17-4-3-3-6-5-2zM844 2200l-3 8-5 0 7 8 2 17 3 8 8-19-4-9-1-9-2-3zM886 2228l-2 8 1 10 3 2 1-15zM926 2283l-4 8 4 2 4-5zM534 2153l2 0 3 10-3 4-8-4zM694 2163l5 0 2 12-3-1-4 2-3-3-3 0zM396 2191l6 7-1 8-3 0-2-5-2 0-2-3zM798 2212l6 6-6 10-3-5zM546 2243l10 18 4 35 8 30 3 4 4-4 5-40 8-17 3-1 3 3 8 22 3 23 6 15 2 22 3 7 4-2-2-10 2-2 6-43 8-16 2-2 2 2 15 41 2 13-3 10 4 22-8 20 1-20-4-5-4-15-5 1-2-9-6 7-2-2-8 21-2 30 0-5-5-5-5 15-5 2-3 7-3-27 2-10-6-13-3 1-4-8-6 23 0 21-2 1-5-11-3 1-6 8-4 15-6 2-4 11-3-13-4 0-10-31-6 16-5 5-2 6-2 1-5-2 2-15-2-15 0-18-6-2-1-7-11 24-9 10 0 8-3 2 0-55-2 3-3-1-2-11-6 10-2-2-2 3-1 6-9 12-2 18-4 3 2-21 5-15-7-10-4-19-6 9-4-8-5 11-3 0 1-25 3-5 0-10 11-12 11 22 3 22-1 10 2 4 3-9-1-7 4-8 0-10 3-12 9-14 2-1 3 5 9 32 3 4 3-1 3-10 3-25 7-15 4-3 9 18 3 22 3 3 3-5 8-43 5-12zM368 2252l3 0 3 5 7-4 2 5-1 5-5 5 6 18-2 14-5-8-2-1-6 5-1-5-6-3-4-7 1-15zM404 2270l2 0 3 11 8 2-1 37-5-12-3-1-4 5-3-6-5-1-3-7 3-15zM771 2276l5 6 5-5 4 4-2 10 3 35-2 3-6-4-1-12-3-2-3 1-3 6-4-6-6 4 7-33zM726 2290l12 13 3 15-2 15 2 5-3 4-5-6-2-13-5 0-2 7-8-4 0-19zM681 2292l15 34-2 12 2 12-2 3-6-7-4-14-3 2-3 9-4-12-3 12-3 6-1-3 4-8-3-12 2-15 8-18z"/><path fill="#72cd64" d="M161 1943l857 0 0 397-24-24-16-28-20-4 1-13-3-20-2-1-6 6 2-5-6-7-3 1-9 28-1 12-5-4-5 6-5-4 1-10-5-5-1-9-5 2-2-11-6 10-5 1-5 19-3-9 2-8-6-8-3 0-2 3 2 8-1 12 4 18-3 3-3-3-4-15-7-8 0-6-3 2-3 10-4-12-3 2-4-3 3-25 7-15 2-20-8-11-6 1-1-8-4 5-1 10-6 5 9 10 0 15 3 5-1 2-6-10-7-2 1-15-5-7 2-8-6-2-1-5-8-4-3-9-5-2-2 2-3 13-4 2-3-5 1-7-17-11-1-9-3-3-5 3-3 15-2 0-2-8-6-5 2-5-12-10-5-1-3-12-5 16-9 5 2-10-2-3-6 2-7-26-7-2-3 8-7-2-6 10-3-2-4-22-7-1 0-10-3-2-3 4-4-7-5 15-4 3-3 5 0 7-4 3-2-5 2-10-4-15-6-5-3 10 5 20-2 7-12-8-2-9-3 2-3 11-2-2-8 3-2-1-5-17-7-1 0-13-3-1-3 3-4-8-3 4-1 12-7 3-1 12-4 5-4 1-1 7-5-1 0-7-5-10-9-3-3 3-8 0-1 13-6 11 1-9-6-4-4 19-3 2-12-7-4-16-4 10-8 4-8 0-10 17 4 5-1 11-3 0-7-11-3-17-4-1-13 16-10 1-9 9 6 5-2 10-10-10-4-18-4 0-10 13-13 2 0 15-4 9-15-19-2-12-6 10-2-3-13 10 1 7 10-2 7 15-3 3-7 0-3 10 1 12-7 8-1 7 5 18 0 16-5-7-6-2-1-10-6 6-5-6 1-17 10-10 6-10-1-23-8-2-5-12-2-2-4 4 1 37-5-4-2 0-2 4 3 20-3 13 4 7-2 5-5-5-3-18-2-4-6 11-2-11-2-1-1 6-12 15-7-30-3-1-3 4-2-1-2-13-6 9-15 17-7 20-2-23 3-15-6-23-7 12-3-4-11 5-1 13-4 12-27 30-17 11zM284 2197l-3 9 3 3 2-3zM881 2205l0 13 3 8-2 10 2 10 4 6 3-23-3-7-2 0-1-9zM578 2118l4 3 4 15-2-1-6 3-2-4-6-1 5-12zM658 2124l6 3 2 13-2-2-6 5-2-3-5 1 2-10zM826 2240l5 8 6 23-1 3-8-8-2 2 2 5 1 23 2 2-3 7-4-4-3-15-5 0-2-6-2 8-4 3-2-10 7-25 3-3 5 1zM546 2243l9 18 5 35 8 30 3 5 5-5 5-40 7-16 3-1 11 27 3 22 4 8 2 27 6 10-1 22-5-4-5 3-5 15-3-8 2-10-5-23-4-7-3 2-4-3-7 18 0 28-1 2-5-9-5-2-8 10-1 14-3 3-6-9-4 6-3-1-1-7 5-7-4-4-3 1-7-16-7 7-3 12-7-4-2-11 2-15-3-18-3 2-4-5-13 31-7 3-3-3 5-35-6-5-2-8-14 5-6 15-4-7 6-5 0-15 3-8 0-10 3-12 8-14 2 0 3 4 9 35 3 3 3-1 4-12 3-25 7-15 3-2 8 17 4 22 3 6 4-8 7-43 5-12zM368 2253l7 5 0 8 6 20-3 5-6-5 0-10-4-4-4 11-4-2 0-13zM404 2271l2 0 2 11 6 4 2 21-8-4-4-12-5 10-4-3 2-15zM771 2277l5 6 3 0 4 23-2 5-5-8-2 2-6-10-3 3-1 10-1-10 3-15zM441 2280l10 23 3 20-3 6-5-15-3-1-5 6-2-6-5-1-3-4 3-17zM636 2286l3 2 12 38 2 12-3 13 1 10-5-5-2-10-3-4-13-6-1 7-3 2-2-4 4-36zM681 2293l10 20 4 13-4 15-3-3-2-13-5 1-3 6-4-6-3 0 0-15 7-17zM726 2291l10 12 3 18-3 5-5-8-3 0-4-9-3 2-3 9 0-14z"/><path fill="#8fcb4e" d="M161 1943l857 0 0 305-32 1 0 14 3 5-4 8-9 6-5-16-11-3-1-12-4-8-1-9-3-3-5 3-2-2-14 21-1 10 3 5-3 10-3-1-2 1-3 4-1-9-5-7 0-5-4-14-3 2-7-5-3 1-2 8-5 0-1-12 3-10-5-30-2-4-8-3-1 4 5 28-1 6-5 1-3 10 4 8-2 10 2 5-1 9-8-2-2-12-2-2-6 8-4-4-6 2 3-24 11-28 0-10-11-11-3-1-2-6-5-2-3 3-2 14-3 3-5-12-9-5-5-19-6 5-2-2-8 7-12-5-2-4 2-5-2-1-5-11-5 4-3-3-5 6-5-1-14-11-6-16-5 0-3 3-2 13-3-1 0-9-9-5 1-5-9-12-6-1-1-9-6 12-10 6-7-18-5 0-1-11-4-10-3 9-5-6-5 17-7 7-4-7-1-15-5-14-4 2-1 7-5-20-2 15 6 15-1 10 4 21-2 0-8-6-2-12-2-2-3 2-4 12-9 3-3-15-4-3-4 0-5-22-2 0-2 7-2-2-2-8-6 18-7 8-3-4-4 1-3 19-3-2-4-8-9-4-1-13-6 13-2-2-14 4-2 10-7 10 3 8-2 6-6-6-4-20-10 2-1 8-5 6-12 3-5 6-7 0-6-7-4 2-3-5-3 2-4 15-6 6-17 0-7-7-6 2-2-3-2 0-6 17-12 2-9 6-1 2 5 2 1 3-1 7-4-2-4-7-5-20-4-1-6 8-7 6-7 2-3 5 0 12 10 3-5 4-2 0-3-5-6-2-9-14-4-1-4-7-2 1-1 4 2 5 4 37-3 1-4-4-3 2 3 26-3 4-5-9-8 1-4-8-3 2-1 10-7 5-2-7 4-3 3-10-2-10 2-12-2-7-2 0-3 2-2 10 4 7-2 14-3 0-2-4-5-2-2-10-3-3-8 8-2-5-5 15-13 17-2-5 5-18 0-12-6-7-2-8-2-1-5 7-2-8-7 15-9 5-4 24-3 1-15-13-25-8zM308 2194l-2 7 5 9 1-9zM578 2122l4 6-1 4-5-4zM661 2127l2 6-5 4-3-1 1-7zM354 2187l3 6-1 5-2-1-3-6zM344 2213l2 1 1 7-1 5-2 0-3-5zM336 2225l3 1 0 15 5 15 0 8-6-5 0-8-4-7-6 9-4-5 2-12zM546 2243l9 18 5 35 11 39 6-9 4-39 7-17 3-1 3 4 8 23 3 22 4 8-1 15 6 22 0 16-6-8-4 11-4-9 2-17-6-8 0-7-5-1-3-5-2 0-1 6-5 2-5 13-1 27 2 9-5-8-5-1-10 13-2 12-4-7-1-23-5-10 0-8-10 14-6-9-7 8 3 5-8 9-2-1 1-15-1-33-6-8-2 0-15 23 1 8-4 2 0 11-4 1 0-22 4-12-4-9-6-18-4 9-6-10-4 14-3-6 4-5-2-10 3-14 5-12 5-2 7 18 4 20 4 6 3-2 4-14 3-25 7-15 3-2 8 17 3 22 4 8 4-10 7-43 6-12zM368 2255l6 6-3 6-6 1-1 6-3-6zM816 2254l8 12 3 10-1 11-5-7-3 0-4-9-6 10 4-20zM404 2272l3 4-1 7-5 3-3 6 0-8zM771 2278l7 10 2 10-2 3-10-13-1-5zM441 2281l8 17 1 15-2 1-5-6-2-7-3-3-4 10-3-2 2-18zM636 2286l14 40 1 15-3 3-7-11-3-10-4 9-6-10-2 3-2-4 3-18zM726 2292l8 11 2 17-13-19 0-5zM681 2294l10 21 0 14-5-8-2 0-6-10-5 10-1-10 6-16z"/><path fill="#abc739" d="M161 1943l857 0 0 301-32 1-2 1-3 9-6-2-4 10-7 1-3-3 0-10-5-18-7-12 2-5-3-3-2 10-2 2-6-3-1 11-6 9-4-4 2-7-3-18-3 3 3 7-3 13 2 10 4 2-3 13-2 0-8-8-2-12-6-9-2-1-2 10-6-13-2 4-2-4-4-32-4-4-5 1-3-10-4 8 0 5 7 32-3 2-4-3-6-8-3 2 5 10 5 20-3 10 4 5-2 4-5-14-3-3-3 0-5-10-2 3-2 12-3 0 1-15 13-30-3-5 2-7-10-10-6-17-4 5-3-2-5 6-5 0-3-13-2-2-8 0-4-5-8 3-6 7-4 0-1-22-11-1-8-3-5 1-5 7-4 1-3-10 4-15-1-3-14 0-4-6-6 3-2-1-5 6-3 0-3-9-7-1-10-9-1-10-3-3-3 0-3 11-7 8-2-1 3-5-1-13-4 0-1 6-2-1-8-25-5-1-5 5-8-1-2 15-2 5-1-10-8-13-1-13-3-2-5 6-2-8-3-3-5 6-5 1-3 13 8 1 7 14-2 5-3-4-4 5-3-2-5 4 0 10-2-18 2-12-10 10 2 5-4 5-8-28-8 3-7-3-3 3-4 20-3 3-3-3-4 1-6 12-2 1-7-7-2-12-3-3-10 16-14 2-1 10-3 2-8-1-4-6-6 3-2-5-5 4-16 0 2 15-6 11-6-1-11-11-8 1-18-7 1 30-8 0-13-11-7 1-13-6-2 3 0 20-12 0-6-8-4 2-3-5-3 1-7 18-8 2-7 14-5-2-7-11-6-18-4 9-13 3-4 5 4 5 10-6 6 16-1 14-5-10-3-1-2 4-1 13 4 8 1 22-7-5-2-12-3-3-4 9-6-3-1-6 6-35-6 0 0 8 2 5-5-3-2-15-4-10-2 8 5 20-3 15 4 7-4 8-4-5-6-23-4 13-3-10-3-1-5 8-2 11-5 4-2-1 0-9-8-27-10-5-12 31-10 1-10 7-16 0-17-5zM336 2228l2 9-2 3-5 0-3 6-1-8zM546 2244l8 17 5 35 11 45 5 2-4 30-5-7-5 18-6 4-1 6-5-26 2-15-7-5-6 8-4-7-8 14-8 8-4-20 2-23-3 3-5-11-4 6-3-3-10 24-2-11 4-5 0-8 6-20 2-20 7-17 3-1 7 16 3 22 5 9 5-11 7-43 5-12zM816 2255l6 11 2 11-11-11 0-5zM591 2270l10 26 3 22 4 8-2 15 3 17-5 11 1-13-9-25-2 4-3-2-3-8-4 6-5 0-3 8-1-3 3-8-1-10 3-7 1-23 7-17zM474 2279l3 2 9 27-2 5-6-4-4 4-3-4-6-3 1-13zM441 2282l0 9-6 2-1 5 2-12zM636 2287l10 28 2 11-2 6-5-15-6 1-1 4-7-6 1-13zM681 2295l7 17 0 7-6-13-4-3 0-6z"/><path fill="#c5c22a" d="M161 1943l211 0 2 13 0 37 3 8 0 37 2 8 0 37 3 8 0 15 23 25 0 5-4 2-15-7-2 2 0 20-3 3-5 0-12-14-8 1-10-4-4 14-6 4-8-1-4-9-8 0-7 11-11 3-4 14-6-2-7-12-5-1-1 13 4 20-3 6-5-10-3-1-4 6-6-12-2 12-10 9-7-30-3-1-2 4-3-1-3-15-4 12-6 2-7 9-4 20-6 2-4 6-19 1-17-5zM420 1943l598 0 0 272-22 5-18 1 2 27-9 1-3-3 0-10-4-3-2-10-5-5-1-8-5 1-3-11-4 12-7 1-3 17-4-7 0-10-4-8-2 2-3 9 2 10-2 11-3 1-7-6-3-12-4 9-6-6-4 1-1-31-7-5-4-7-6-2-5 6-5 0-4-4 1-10-2-3-7 4-8-2-12 11-3-2-3-13-10-2-6-8 30-58 11-50 1-12-3-5-57 116-12-1-4-5 0-5 44-88 2-9-46 59-14 25-16 1-4-6-6-1-7 10-3-1-2-10-8-1-4-4 0-8-6-14-4 4-3-2-5 3-5-5-7-3 1-5-7-8-7-3-3-6-2 2-2 11-3-5-7 9-6-8-1-12-3-5-4 0-2-13-2-3-5 7-5-4-1 13-8 2-1 11-5-6-5 14-2 1-5-7-8-3-3-11-2 1-2 12-3-5-7 6 0 5-8 1-5 8-5 3-8-7-4 3-3-4-3 1-6 20-14 2-2 13-5 0-13-13-7 6-20 0-4-18-19-40 0-6 50 49 3 0 11-11-23-45zM853 1981l-2-2-47 43-66 67-17 8-4 4 1 2 20 5 113-110zM621 2081l4 0 4 7-3 4-8-1 0-5zM424 2096l2-1 22 22 2 6-4 2-18-9zM310 2171l4 12-4 0-4-3-2 2 0 18-9 13-4 2-2-2 7-37zM868 2194l7 12-7 9-5-7zM861 2223l7 9 5 19-2 2-14-17zM546 2244l8 17 5 35 13 55-1 12-5-3-4 3-6 16-4-8 2-18-6-22-2-3-2 5-6-6-7 19-6 2-1 10-6 3-2-2-1-8 5-28-6-14-6 6-4-6-6 10-1-3 5-33 6-16 3-2 7 18 2 20 6 10 2-2 10-50 5-15zM591 2270l10 26 2 20 4 10-1 6-2 1-10-19-6 6-4-8-6 11 4-35 6-16zM474 2280l3 1 7 27-6-4-4-11-6 10 0-10zM636 2288l8 21 0 6-6-4-4-11-4 3z"/><path fill="#dcbd29" d="M161 1943l201 0-20 173 0 7 4 6 13 9-3 1-10-4-4 3-1 13-7 1-6-1-4-8-6 0-2-6-6 6-4 13-5 0-10 12-5-2-4-8-5-2-3-14-3 6 5 46-5-8-4-3-2-12-1-1-3 6-10 7-10-13-5-2-5-14-7 7-3-5-4 15-16 22-10 0-30-7zM425 1943l593 0 0 269-22 5-18 0-3 4 1 10-2 3-8-3-1-8-6-7 1-5-4-14-2 4-8-7-5 12-5 1-2 4-8-13-1-12-11-7-2 2 9 27-2 10 3 8-4 6-4-6 0-10-8-3-2-8-3 3-1 10-4 2-1-27-5-7 4-4 0-6-6 2-4-8-8 3-5 9-5 0-3-4 2-7-1-6-6 0-4 3-5-2-1-3 10-11 4-9 0-70-9-50 2-17-1-33-53 47-67 68-20 0-6-3-14 6-5-5 1-8-17-10-2-12-3-2-6 14-6 4 1-6-3 2-6-12-7-8-5-18-2 8-3 2-3-9-5 17-5 4-7-2-5 1 0 23-2 0-1-3-10-5-2-15-3-2-6 12-6 6-11 1-4 13-3 1-4 0-6-5-7-2-5 5-18 0-8-7-18-37zM298 2186l3 2 2 8-2 5-3 1-3-6 1-8zM546 2245l8 18 17 90-3 5-4-4-8 18-2-4 2-15-3-20-7-17-2-3-7 8-3 8-6 1 1 6-3 2 1 5-5 5-4 9-1-6 5-30-4-8 0-10-4-4-6 7-3-8-4-2 2-15 8-15 7 17 1 23 3 7 6 0 4-12 6-40 6-15zM591 2271l9 25 1 25-3-5-2-13-4 0-4 7-5-9 0-15z"/><path fill="#f0ba36" d="M161 1943l197 0-55 165 1 4 13 14 1 5-4 4-14-4-4 13-11 9 9 3 0 7-3 2-4-2-5-10-4-17-2-3-4 3-3 10 5 36-4-1 0-8-4-10-3 0-2 5-10 10-4-2-8-13-5-23-6 11-3-10-5 5-4 15-6 7 0 8-9 12-7 1-33-8zM473 1943l545 0 0 234-44 24-2 10 2 7-2 8-4 1-1-19-6-4-3-16-4-6-3 1-3 8-4-11-2 1-1 12-5 8-5-19-14-4-3-9-5 4 0 8 7 15 2 17-10-7-4-8-6 6-1-3-1-33-2-3-8 3-6-5 8-22-21-58-12-57 2-20-1-38-56 50-66 67-20 0-6-4-2-5 19-40-7 1-7 8-8 3-6 8-3 15 7 7-5 10-2-2 0-11-3-2-5 1-8-6-4-23-6 4-2-1-5 3-5-4-8 6-4-7-3-23-3-1-7 6-5-2-2 1-1 11-5 11-10-2-6 4 3 10-1 5-6-1-3-22-7 2-4-3-3 14-4 7-13 3-3 2-2 10-5 1-5-6-2-7 12-15-4-10-34-44zM501 2046l40 20-4 10-3 2-18-1-15-27zM338 2127l3 4-2 17-5 1-10-11 3-5zM866 2157l11 6-9 16-3-1 3-10-4-7zM546 2245l8 17 7 44 4 37-4 7-3-4 2-15-6-20-3-4-5 3-2-11-6 10-2-2-3 4-1 7-7 8 0-8 5-5 3-12-1-8 6-32zM511 2267l5 14 2 17-6-5-4-8-5 8 0-12zM591 2272l8 21-1 8-6-3-4-8-4 8 0-12z"/><path fill="#febe3c" d="M161 1943l194 0-55 165 3 13-7 16-12 0-6-8-10-1-1 8-3 4-20 5-4-2-4-7-2 0-6 4-4-12-3 12-9 8-1 8-5 6-18-2-27-8zM475 1943l358 0-5 6-120 95-30 2-4-5-6 2-2-2-5 3-3-8-9-3 0-5-8-11-5 1-2-8-3 1-3 11-2-5-8 4 2 2-2 4-7 1-3 2-2 12-8 1-4-5-6 2-2-4-8 3-24-2-30-40zM862 1943l156 0 0 226-44 12-4 5 5 5-7 12-7-20-5-1-2-12-6 10-4-4-8 3-10-1-3-2-5-16-4 6-3-1-5 8-5 0-3-2-6-18-1-12-30-87-5-28 2-20-1-30 2-8-2-7zM266 2143l2 13-2 3-7-1-2 8-6 5-3-15 3-8 3-1 7 1zM901 2176l6 2 7 18 0 9-6-10-10 0 0-14zM546 2246l7 17 6 38-1 10-12-21-5-1-3 9-4 0 5-37zM591 2273l5 20-8-12z"/><path fill="#fec934" d="M161 1943l191 0-55 165 2 10-5 18-8 0-8-10-3 0-1-6-8 2-10-5-2 21-3 4-10 0-5-9-4-2-1-10-3-5-4 7-4 0-2 10-7 12-11 3 8 5-1 3-16 0-30-9zM477 1943l32 0 79 81 12-11-3-12-14-18-39-40 287 0-123 99-22 2-8-1-10-11-4 7-3 0-3-8 2-8-2-2-7 4-10-11-4-1-1-11-2-2-10 16-18 4 0 18-2 3-6-1-10-12-7 8-26 0-31-40zM686 1995l-3 1-12 12-10 13 7 8zM864 1943l154 0 0 221-44 13-8 6-6-7-3-10-6-3-3-7-2 12-10 9-5-1-1-3 2-7-4-11-4 3-8-2-10 13-5 2-6-30-29-78-8-37-1-50 2-18zM904 2179l2 7-5 5-1-10zM546 2247l7 16 3 33-2 0-6-17-1 4-3 2-3-8-3 2 2-18z"/><path fill="#fad62d" d="M346 1943l-80 137-7 18 11 18-4 2-10-4-4 2-1 22-5 2-5-2-6-10-4-20-3 0-2 5-5 3-6 7 1 8-2 2-28 0-25-5 0-185zM547 1943l208 0-4 5-53 37-16 8-18 20-18 3-3-5-5-19-4 5-6-6-4 22-15 3-5-2-4-13-6-10zM865 1943l153 0 0 205-57 12-7-3-6-9-2 2-5 16-6-3-4-10-10 1-3-3 6-18-2-10-55-102-9-22 2-38zM546 2247l6 16 0 8-4 3-10-3 5-20z"/><path fill="#f5e327" d="M344 1943l-76 130-10 20-2 11-8 4-12 0-2-4-8-1-10 16-11 4 7 5-1 3-25 0-25-5 0-183zM548 1943l204 0-54 39-24 10-20 6-10-3-6-8-4 3-6-4-4 5-16 0-20-7zM866 1943l152 0 0 203-10 0-42 11-7-1-5-11-8 0-8 9-8-3-6-28-63-120-2-27zM645 2003l9-4 4 0 4 4-6 5zM546 2248l5 15 0 6-3 0-4-14 0-4z"/><path fill="#f6ef20" d="M161 1943l181 0-77 130-12 30-7 3-8 0-2-5-6 0-4-7-5 3-3-1-57-57zM550 1943l55 0 29 29 15-29 100 0-53 38-42 13-10-3-10-13-10 11-16 0-18-6zM868 1943l150 0 0 168-57 28-7-5-3 1-11 16-6 0-3-2-7-31-63-119 0-23z"/><path fill="#f9fb15" d="M161 1955l66 131-1 5-5 0-60-59zM1018 2065l0 39-57 29-7-2 3-5z"/></g>
<path d="M191 2087L191 2468L542 2641L991 2513M542 2641L547 2651M542 2641L536 2650M766 2577L771 2587M366 2555L360 2564M991 2513L996 2523M191 2468L185 2477M191 2468L181 2468M191 2373L181 2373M191 2279L181 2279M191 2184L181 2184M191 2089L181 2089" stroke="#585858" stroke-width="7.5"/>
<!-- F10 -->
<path d="M1645 2468L1645 2090M1993 2641L1645 2468M2442 2513L2442 2135M1993 2641L2442 2513M1870 2404L1870 2026M2217 2577L1870 2404M2268 2426L2268 2048M1819 2554L2268 2426M2094 2340L2094 1962M2442 2513L2094 2340M2094 2340L2094 1962M1645 2468L2094 2340M1645 2468L2094 2340L2442 2513M1645 2296L2094 2168L2442 2340M1645 2124L2094 1995L2442 2168" stroke="#dedede" stroke-width="6"/>
<path d="M1645 2468L2094 2340L2442 2513" stroke="#b4b4b4" stroke-width="7"/>
<path d="M2094 2340L2094 1962M1645 2090L2094 1962L2442 2135L2442 2513" stroke="#585858" stroke-width="7.5"/>
<radialGradient id="rg10" gradientUnits="userSpaceOnUse" cx="0" cy="0" r="1" gradientTransform="matrix(317.53 -90.65 -246.04 -122.28 2043.50 2490.36)"><stop offset="0.000" stop-color="#5d57e7"/><stop offset="0.011" stop-color="#5d57e7"/><stop offset="0.022" stop-color="#505cf2"/><stop offset="0.034" stop-color="#5c73fc"/><stop offset="0.045" stop-color="#5c73fc"/><stop offset="0.056" stop-color="#4892fa"/><stop offset="0.067" stop-color="#4892fa"/><stop offset="0.079" stop-color="#4892fa"/><stop offset="0.090" stop-color="#3eabe8"/><stop offset="0.101" stop-color="#3eabe8"/><stop offset="0.112" stop-color="#3eabe8"/><stop offset="0.124" stop-color="#24bbd5"/><stop offset="0.135" stop-color="#21bfd2"/><stop offset="0.146" stop-color="#21bfd2"/><stop offset="0.157" stop-color="#21bfd2"/><stop offset="0.169" stop-color="#52cebe"/><stop offset="0.180" stop-color="#47ccaf"/><stop offset="0.191" stop-color="#47ccaf"/><stop offset="0.202" stop-color="#47ccaf"/><stop offset="0.213" stop-color="#47ccaf"/><stop offset="0.225" stop-color="#8dda9c"/><stop offset="0.236" stop-color="#79d37e"/><stop offset="0.247" stop-color="#79d37e"/><stop offset="0.258" stop-color="#79d37e"/><stop offset="0.270" stop-color="#79d37e"/><stop offset="0.281" stop-color="#79d37f"/><stop offset="0.292" stop-color="#c8e4a7"/><stop offset="0.303" stop-color="#c6d15c"/><stop offset="0.315" stop-color="#c0cb4a"/><stop offset="0.326" stop-color="#c0cb4a"/><stop offset="0.337" stop-color="#c0cb4a"/><stop offset="0.348" stop-color="#c0cb4a"/><stop offset="0.360" stop-color="#c0cb4a"/><stop offset="0.371" stop-color="#d2da7d"/><stop offset="0.382" stop-color="#e5e9b3"/><stop offset="0.393" stop-color="#f5ebc2"/><stop offset="0.404" stop-color="#fbe5b5"/><stop offset="0.416" stop-color="#fad994"/><stop offset="0.427" stop-color="#f6c252"/><stop offset="0.438" stop-color="#f6c252"/><stop offset="0.449" stop-color="#f6c252"/><stop offset="0.461" stop-color="#f7c861"/><stop offset="0.472" stop-color="#f8cf78"/><stop offset="0.483" stop-color="#f9d78c"/><stop offset="0.494" stop-color="#fadda0"/><stop offset="0.506" stop-color="#fbe4b1"/><stop offset="0.517" stop-color="#fceac2"/><stop offset="0.528" stop-color="#fdefd1"/><stop offset="0.539" stop-color="#fdf3d8"/><stop offset="0.551" stop-color="#fdf4d1"/><stop offset="0.562" stop-color="#fdf4c7"/><stop offset="0.573" stop-color="#fdf2ba"/><stop offset="0.584" stop-color="#fcefa9"/><stop offset="0.596" stop-color="#fcec97"/><stop offset="0.607" stop-color="#fbe987"/><stop offset="0.618" stop-color="#f9dd45"/><stop offset="0.629" stop-color="#f9dd45"/><stop offset="0.640" stop-color="#f9dd45"/><stop offset="0.652" stop-color="#f9dd45"/><stop offset="0.663" stop-color="#f9dd45"/><stop offset="0.674" stop-color="#f9dd45"/><stop offset="0.685" stop-color="#f9dd45"/><stop offset="0.697" stop-color="#f9de4a"/><stop offset="0.708" stop-color="#fae053"/><stop offset="0.719" stop-color="#fae15d"/><stop offset="0.730" stop-color="#fae261"/><stop offset="0.742" stop-color="#fae261"/><stop offset="0.753" stop-color="#fae261"/><stop offset="0.764" stop-color="#fae261"/><stop offset="0.775" stop-color="#fae261"/><stop offset="0.787" stop-color="#fae261"/><stop offset="0.798" stop-color="#fae261"/><stop offset="0.809" stop-color="#fae261"/><stop offset="0.820" stop-color="#fae261"/><stop offset="0.831" stop-color="#fae261"/><stop offset="0.843" stop-color="#fae261"/><stop offset="0.854" stop-color="#fae261"/><stop offset="0.865" stop-color="#fae261"/><stop offset="0.876" stop-color="#fae261"/><stop offset="0.888" stop-color="#fae261"/><stop offset="0.899" stop-color="#fae261"/><stop offset="0.910" stop-color="#fae261"/><stop offset="0.921" stop-color="#fae261"/><stop offset="0.933" stop-color="#fae261"/><stop offset="0.944" stop-color="#fae261"/><stop offset="0.955" stop-color="#fae261"/><stop offset="0.966" stop-color="#fae261"/><stop offset="0.978" stop-color="#fae261"/><stop offset="0.989" stop-color="#fae261"/><stop offset="1.000" stop-color="#fae261"/></radialGradient><path d="M1993 2641L2442 2513L2094 2340L1645 2468z" fill="url(#rg10)" stroke="none"/>
<clipPath id="cF10"><path d="M1646 2089l216-46 86-28 137-52 10 0 147 87 73 35 126 49 0 3-203 73-84 22-32 37-35 63-28 67-10 50-3 33-4 6-8-34-1-22-12-45-38-85-34-53-21-11-20-5-60-25-43-20-159-94-1-2z" clip-rule="evenodd"/></clipPath><g clip-path="url(#cF10)" stroke="none" fill-rule="evenodd"><path fill="#3f28ae" d="M1635 1954H2450V2499H1635z"/><path fill="#3f2ab2" d="M1615 1934l853 0 0 583-98 0-9-5-231-28-25-5-55 0-10-3-165 41-260 0z"/><path fill="#402bb7" d="M1615 1934l853 0 0 583-96 0-12-7-255-33-55-1-8-3-12 2-150 37-12 5-253 0z"/><path fill="#412dbb" d="M1615 1934l853 0 0 583-95 0-26-18-252-35-30-7-15 0-8 13-9-13-111 0-62 8-110 22-12 5-33 25-90 0z"/><path fill="#4130bf" d="M1615 1934l853 0 0 583-95 0-23-18-18-5-234-32-34-8-14 0-8 5-10-5-94 0-80 9-106 21-16 8-32 25-89 0z"/><path fill="#4334c9" d="M1615 1934l853 0 0 583-95 0-25-20-16-4-234-33-33-7-15-1-10 3-12-4-90 1-80 10-109 22-14 8-33 25-87 0z"/><path fill="#4439d2" d="M1615 1934l853 0 0 583-94 0-25-20-14-5-237-34-50-11-8 5-8-10-12-1-32 6-53 4-77 10-106 22-14 6-36 28-87 0z"/><path fill="#453ddb" d="M1615 1934l853 0 0 583-94 0-29-23-75-20-188-37-27-2-15 8-4-4-11-2-5-4-70 15-92 13-106 21-15 7-35 28-87 0z"/><path fill="#4642e2" d="M1615 1934l853 0 0 583-94 0-24-21-13-7-65-17-190-40-27-1-7 4-10 2-7-3 1-5-4-1-88 20-82 12-106 22-15 7-36 28-86 0z"/><path fill="#4747e9" d="M1615 1934l853 0 0 583-93 0-25-21-12-7-70-20-186-39-30-4-7 6-5 0-10-7-102 24-70 10-107 23-15 7-35 28-86 0z"/><path fill="#474dee" d="M1615 1934l853 0 0 583-93 0-25-21-12-8-116-31-137-29-14-1-13-5-18 5-12-5-98 25-72 11-108 24-14 7-36 28-85 0z"/><path fill="#4652f2" d="M1615 1934l853 0 0 583-93 0-25-22-15-9-277-72-10 6-8 1-15-7-17 7-126 32-130 27-17 9-35 28-85 0z"/><path fill="#4658f6" d="M1615 1934l853 0 0 583-93 0-25-22-15-10-117-32-130-41-28-6-18 9-12-3-8-7-7 7-145 41-120 28-15 8-35 28-85 0z"/><path fill="#445ef8" d="M1615 1934l853 0 0 583-93 0-25-22-15-10-95-27-152-49-28-7-12 7-13 0-13-9-174 58-98 23-15 8-36 28-84 0z"/><path fill="#4164fa" d="M1615 1934l853 0 0 583-92 0-41-33-95-27-178-57-4 0-10 4-13-1-13-6-187 62-85 21-15 9-36 28-84 0z"/><path fill="#3e69fb" d="M1615 1934l853 0 0 583-92 0-26-23-22-14-88-25-156-51-22-10-17 5-10 0-15-7-147 47-65 24-58 17-15 9-36 28-84 0z"/><path fill="#3c6ffc" d="M1615 1934l853 0 0 583-92 0-26-23-30-19-53-16-145-47-57-26-10 5-13 2-22-5-28 8-240 82-17 10-36 29-84 0z"/><path fill="#3a75fb" d="M1615 1934l853 0 0 583-92 0-52-45-14-8-124-47-116-38-18 8-20 1-10-4-12-1-28 9-230 86-17 10-37 29-83 0z"/><path fill="#377afa" d="M1615 1934l853 0 0 583-92 0-54-48-10-5-201-80-36-11-27 10-18-1-18-9-146 61-114 43-17 11-37 29-83 0z"/><path fill="#3380f8" d="M1615 1934l853 0 0 583-92 0-53-48-13-8-228-90-10-2-14 7-20 2-16-3-10-6-165 70-87 33-25 16-37 29-83 0z"/><path fill="#2e86f6" d="M1615 1934l853 0 0 583-92 0-56-50-20-12-224-91-18 7-20 2-13-2-20-10-101 33-103 40-12 8-33 32-58 43-83 0z"/><path fill="#2b8bf3" d="M1615 1934l853 0 0 583-91 0-36-30-19-19-22-16-131-53-91-43-20 11-30 0-20-9-8 0-82 29-118 46-12 9-36 35-55 40-82 0z"/><path fill="#2a90f0" d="M1615 1934l853 0 0 583-91 0-36-30-14-15-23-20-8-10-11-8-167-70-29-10-11-1-20 9-30 0-20-9-8 1-48 16-152 62-13 10-36 35-54 40-82 0z"/><path fill="#2895ed" d="M1615 1934l853 0 0 583-91 0-36-30-38-38-5-7-16-11-162-69-42-13-23 9-25 0-22-8-8 0-48 17-140 58-17 9-44 43-54 40-82 0z"/><path fill="#269ae9" d="M1615 1934l853 0 0 583-91 0-35-30-44-46-16-13-126-54-71-33-20 10-25 2-18-2-24-10-107 51-91 38-53 49-50 38-82 0z"/><path fill="#229fe5" d="M1615 1934l853 0 0 583-91 0-35-30-76-78-64-30-74-31-40-13-23 11-25 2-15-1-25-11-5 0-123 61-64 28-23 17-38 37-50 38-82 0z"/><path fill="#1ea3e1" d="M1615 1934l853 0 0 583-91 0-35-30-74-78-66-33-74-31-40-13-23 9-27 2-23-4-20-9-66 24-101 50-41 35-38 38-53 40-81 0z"/><path fill="#19a7dd" d="M1615 1934l853 0 0 583-91 0-35-30-76-80-64-33-107-47-7 0-20 8-20 3-30-3-26-9-62 25-102 52-79 74-53 40-81 0z"/><path fill="#15abda" d="M1615 1934l853 0 0 583-90 0-36-30-75-80-115-63-54-26-28 12-25 4-27-3-26-10-4 0-160 80-79 76-53 40-81 0z"/><path fill="#12afd5" d="M1615 1934l853 0 0 583-90 0-35-30-78-83-111-62-56-29-18 10-30 5-30-1-30-12-10 3-48 29-102 51-81 79-53 40-81 0z"/><path fill="#12b3d0" d="M1615 1934l853 0 0 583-90 0-35-30-38-39-35-40-12-10-158-89-20 10-30 5-35-3-25-10-13-2-118 60-111 108-52 40-81 0z"/><path fill="#14b6cb" d="M1615 1934l853 0 0 583-90 0-35-30-37-38-71-80-43-25-84-42-8 2-22 11-38 5-32-6-23-10-10 2-110 56-15 12-10 13-92 90-53 40-80 0z"/><path fill="#13b9c5" d="M1615 1934l853 0 0 583-90 0-35-30-38-39-70-81-66-40-61-31-23 12-37 6-30-2-36-12-7 0-107 58-120 119-53 40-80 0z"/><path fill="#12bcbe" d="M1615 1934l853 0 0 583-90 0-35-30-36-38-75-86-117-70-7 0-26 12-37 5-37-4-18-6-15-9-13 5-94 60-120 121-53 40-80 0z"/><path fill="#14beb7" d="M1615 1934l853 0 0 583-90 0-34-30-37-38-72-85-120-77-33 14-37 5-37-5-38-15-29 13-46 28-47 47-27 30-74 73-52 40-80 0z"/><path fill="#1ac1b0" d="M1615 1934l853 0 0 583-90 0-34-30-39-40-72-85-115-78-6-1-14 9-20 6-33 3-43-5-20-7-14-8-76 45-71 78-74 73-52 40-80 0z"/><path fill="#24c3a9" d="M1615 1934l853 0 0 583-89 0-9-10-26-20-39-40-100-119-57-39-26-13-34 15-40 5-40-3-21-6-22-10-70 45-74 82-72 70-55 43-79 0z"/><path fill="#2fc5a1" d="M1615 1934l853 0 0 583-89 0-9-10-26-20-38-40-42-48-59-74-70-49-13-5-27 14-20 4-27 3-48-5-35-14-13 4-44 31-88 96-73 73-53 40-79 0z"/><path fill="#39c698" d="M1615 1934l853 0 0 583-89 0-9-10-26-20-38-40-42-48-64-81-70-51-8 0-30 15-24 4-46 0-24-4-16-4-24-12-28 16-110 122-76 75-50 38-79 0zM2014 2222l61 0-43-4-17 2z"/><path fill="#42c890" d="M1615 1934l853 0 0 583-89 0-9-10-25-20-39-40-42-48-74-96-32-26-28-16-20 11-22 7-38 4-28-1-37-7-25-12-10 2-22 16-67 78-66 70-51 50-50 38-79 0zM1987 2219l28 5 62 0 21-5-26-6-40-2-24 2z"/><path fill="#4bc987" d="M1615 1934l853 0 0 583-89 0-9-10-25-20-54-58-60-72-41-56-10-10-45-35-35 16-32 6-20 1-50-5-48-16-23 21-66 80-41 45-80 78-46 35-79 0zM1971 2217l16 5 21 0 7 3 33 0 55-3 10-5-23-8-42-6-46 3-22 6z"/><path fill="#54ca7d" d="M1615 1934l853 0 0 583-89 0-9-10-25-20-80-88-49-62-48-70-28-17-38 17-30 6-27 1-53-3-42-16-13 12-77 92-41 45-79 78-46 35-79 0zM1958 2214l10 5 50 6 60 0 7-2 23-1 19-5-1-3-11-5-25-9-50-5-35 3-17 4z"/><path fill="#60cb73" d="M1615 1934l853 0 0 583-89 0-9-11-25-19-80-88-48-62-49-72-28-18-18 9-20 7-47 7-65-1-36-15-5 0-13 13-76 92-41 45-79 78-46 35-79 0zM1948 2212l7 5 13 3 50 6 60 0 47-7 13-5-12-10-24-8-50-8-22 0-40 5-27 9z"/><path fill="#6dcb69" d="M1615 1934l853 0 0 583-89 0-9-11-25-20-79-87-49-62-47-71-15-14-15-7-35 14-40 7-43-1-30 4-36-15-8 0-13 13-75 92-41 45-76 75-50 38-78 0zM1939 2209l5 5 24 6 52 7 55-1 33-3 30-6 8-5-8-9-18-10-40-10-32-3-36 2-24 4-36 12z"/><path fill="#7acb5e" d="M1615 1934l853 0 0 583-88 0-10-11-25-20-79-87-48-62-60-90-8-8-30 12-42 10-56 2-30 5-34-14-10 0-13 12-76 93-40 45-77 75-49 38-78 0zM1931 2207l0 2 10 5 27 7 52 6 55 0 33-3 41-10 5-5-12-13-22-11-35-10-45-3-38 3-34 7-23 11z"/><path fill="#87ca54" d="M1615 1934l853 0 0 583-88 0-10-11-25-20-37-39-42-48-48-63-63-96-5-3-48 16-80 9-30 6-42-16-15 14-76 93-41 45-76 75-49 38-78 0zM1924 2204l7 8 24 7 63 8 57 0 33-3 44-10 9-5 0-2-9-14-24-15-46-11-34-3-40 2-46 9-14 6-16 10z"/><path fill="#95c94b" d="M1615 1934l853 0 0 583-88 0-10-11-24-19-54-58-60-73-31-44-49-76-47 13-113 18-42-15-15 13-76 94-41 45-76 75-49 38-78 0zM1917 2202l7 7 18 7 26 6 52 6 55-1 33-2 44-10 13-6 3-5-2-7-8-10-10-8-23-11-33-8-37-4-55 3-35 7-23 8-14 10-8 8z"/><path fill="#a3c742" d="M1615 1934l853 0 0 583-88 0-10-12-24-18-53-58-61-74-31-43-49-77-50 12-110 20-37-15-6 0-14 13-76 94-41 45-76 75-49 38-78 0zM1911 2197l1 5 5 5 25 10 26 5 50 6 60 0 47-6 38-10 8-5 3-8-2-10-10-10-27-16-43-11-52-4-50 4-35 8-33 17-7 8z"/><path fill="#b0c53b" d="M1615 1934l853 0 0 583-88 0-8-10-25-20-55-58-60-74-30-43-50-78-50 12-110 20-36-14-8 0-13 12-77 95-40 45-80 78-45 35-78 0zM1904 2192l2 7 4 5 32 13 46 8 60 3 60-3 43-8 23-10 5-8 1-7-8-18-17-12-17-8-43-10-53-5-62 6-38 10-17 9-13 10-6 10z"/><path fill="#bcc336" d="M1615 1934l853 0 0 583-87 0-11-12-23-18-55-59-60-74-30-42-34-53-13-25-3-1-50 12-110 21-35-14-9 0-14 12-76 95-40 45-80 78-46 35-77 0zM1897 2184l2 10 6 8 25 12 38 9 50 5 60 0 30-2 42-9 26-10 8-8 4-10-1-7-7-13-15-11-25-12-62-14-38-1-62 5-39 11-14 5-17 12-8 10z"/><path fill="#c8c133" d="M1615 1934l853 0 0 583-87 0-11-12-23-18-55-59-59-74-31-42-33-53-13-25-4-1-160 33-34-14-10-1-14 13-76 95-40 45-80 78-46 35-77 0zM1890 2177l1 10 4 7 11 10 10 5 24 8 28 6 50 6 60 0 30-3 44-9 17-5 12-8 11-10 3-10-1-10-5-10-16-12-21-11-40-12-60-7-57 3-53 11-14 5-20 11-15 15z"/><path fill="#d3bf32" d="M1615 1934l853 0 0 583-87 0-11-12-23-18-55-59-59-74-30-42-34-53-13-25-4-2-160 33-34-14-10 0-14 13-76 95-40 44-80 79-46 35-77 0zM1881 2174l4 13 9 10 15 10 21 8 58 11 54 3 66-3 54-11 18-8 14-10 7-10 3-13-4-12-12-13-16-10-21-10-51-12-55-4-60 4-45 9-22 8-26 17-8 11z"/><path fill="#ddbf31" d="M1615 1934l853 0 0 583-87 0-9-10-27-23-67-74-44-56-32-43-32-52-13-25-5-2-160 33-34-14-10-1-15 14-75 95-40 44-78 77-49 37-76 0zM1872 2167l2 10 8 12 26 18 22 9 35 8 53 5 57 0 33-2 54-12 20-8 18-13 8-10 5-12-2-10-9-15-17-13-23-11-32-9-30-6-52-4-63 3-63 15-17 7-19 13-9 10z"/><path fill="#e6bf2f" d="M1615 1934l853 0 0 583-87 0-9-11-27-22-68-75-43-55-54-78-23-42-5-3-160 34-34-14-10-1-16 15-74 93-40 45-78 76-49 38-76 0zM1862 2159l2 13 8 12 12 10 24 14 22 8 35 8 55 6 55 0 33-3 54-11 26-12 19-12 11-13 5-15-5-15-10-12-18-12-22-11-61-15-67-5-60 4-65 15-16 6-23 15-8 11z"/><path fill="#ecc02f" d="M1615 1934l853 0 0 583-86 0-10-11-26-22-68-75-44-55-53-77-23-43-6-3-160 33-34-14-10 0-16 14-74 94-40 44-79 77-48 38-76 0zM1851 2157l5 15 13 15 39 22 22 8 38 8 54 5 56 0 30-3 54-11 30-13 20-11 16-15 6-18-4-15-10-13-18-13-24-12-58-15-35-5-37-2-48 2-38 4-34 8-30 10-21 11-15 13-10 14z"/><path fill="#f2c131" d="M1615 1934l853 0 0 583-86 0-10-12-26-21-78-87-48-63-38-57-24-44-6-3-160 34-34-14-10-1-16 15-74 93-40 45-79 77-48 38-76 0zM1839 2149l5 18 13 15 18 12 30 15 25 8 35 8 55 6 55 0 33-3 62-13 38-17 20-14 13-15 5-17-6-18-15-16-23-14-20-8-57-15-43-6-40-1-42 1-40 5-35 7-27 8-18 8-25 16-12 15z"/><path fill="#f6c335" d="M1615 1934l853 0 0 583-86 0-10-12-25-21-79-88-48-62-38-57-24-45-6-3-160 35-34-14-10-2-17 16-73 93-41 45-79 77-36 26-12 12-75 0zM1825 2142l4 17 11 15 15 12 23 12 30 13 32 10 45 7 37 3 53 0 33-3 62-12 42-18 28-16 17-20 3-18-6-17-17-18-19-12-24-10-34-11-32-7-48-5-40-2-82 6-42 9-28 9-21 8-26 18-12 15z"/><path fill="#fac736" d="M1615 1934l853 0 0 583-86 0-10-12-25-21-37-39-42-50-48-62-38-57-24-44-6-3-160 34-34-14-10-1-17 16-74 93-41 45-78 77-46 34-2 4-75 0zM1808 2137l4 17 11 15 24 18 23 11 32 13 38 10 25 5 55 6 58-1 32-2 42-8 43-13 33-13 26-16 18-20 5-17-5-18-13-17-25-18-32-14-40-11-34-7-86-7-34 1-58 6-48 10-30 10-27 12-20 15-12 15z"/><path fill="#fbcc34" d="M1615 1934l853 0 0 583-85 0-5-9-30-24-38-40-40-47-50-66-38-56-23-43-7-5-160 36-34-15-10-1-18 17-74 93-40 45-76 75-40 29-11 11-74 0zM1789 2132l6 20 13 16 20 15 30 15 44 15 38 10 48 7 37 3 53-1 47-4 37-7 53-15 35-15 22-15 18-19 6-20-2-15-16-23-20-15-35-17-31-10-52-12-62-7-36-1-44 1-58 6-35 7-43 13-24 11-35 24-11 15z"/><path fill="#fad230" d="M1615 1934l853 0 0 583-83 0-5-8-32-27-36-38-40-47-50-65-40-61-24-44 72-19 40-18 27-18 17-20 7-20-4-20-10-15-23-20-19-11-56-22-44-11-55-8-65-3-60 2-53 5-47 10-45 14-35 18-27 21-8 12-5 13-1 10 4 15 16 22 36 26 45 18 40 11 60 10 50 5 63 0 60-5-26 8-120 25-34-14-10-1-17 15-76 95-40 44-77 76-46 33-5 7-72 0z"/><path fill="#fad82d" d="M1739 1934l27 128-22 25-9 17-3 18 6 22 0 4-33 59-90 150 0-423zM1941 1934l299 0-48 77-4 6-6 0-47-7-50-5-110 0-7-7zM2410 1934l58 0 0 583-27 0-73-196-48-139 1-5 18-18 10-17 4-23-7-25zM1824 2382l31-73 38-77 4-5 98 11 85 1-2 3-86 19-32-13-12-3-20 19-73 90-15 11z"/><path fill="#f9de29" d="M1669 1934l22 115 4 30-12 35-18 25-50 82 0-287zM2024 1934l135 0-27 48-7 2-80-5-4-5zM2468 1941l0 434-59-176-18-47 8-20 3-20zM1971 2249l48 3-27 8z"/></g>
<path d="M1645 2090L1645 2468L1993 2641L2442 2513M1993 2641L1998 2651M1993 2641L1987 2650M2217 2577L2222 2587M1819 2554L1813 2563M2442 2513L2447 2523M1645 2468L1639 2477M1645 2468L1635 2468M1645 2296L1635 2296M1645 2124L1635 2124" stroke="#585858" stroke-width="7.5"/>
<!-- F11 -->
<path d="M3092 2468L3092 2095M3425 2636L3092 2468M3859 2508L3859 2135M3425 2636L3859 2508M3309 2404L3309 2031M3642 2572L3309 2404M3692 2424L3692 2051M3259 2552L3692 2424M3526 2340L3526 1967M3859 2508L3526 2340M3526 2340L3526 1967M3092 2468L3526 2340M3092 2468L3526 2340L3859 2508M3092 2320L3526 2191L3859 2359M3092 2172L3526 2043L3859 2211" stroke="#dedede" stroke-width="6"/>
<path d="M3092 2468L3526 2340L3859 2508" stroke="#b4b4b4" stroke-width="7"/>
<path d="M3526 2340L3526 1967M3092 2095L3526 1967L3859 2135L3859 2508" stroke="#585858" stroke-width="7.5"/>
<g stroke-width="6" stroke-opacity="1"><path d="M3531 2544l-2-3-17 3-36 3-31-2-22-2-8-3-9 0-1-2-29-5 0-2-7-1-5-4-7 0 1-4-8 0 1-3-9-2 1-3-7-1 1-3-7-6 2-3-6-1 2-3-5-4 3-6-2-3 5-9-1-3 7-4 8-9 13-5-6-1 19-5 15-6 37-10 1 2 17-3 36-2 31 1 22 2 8 3 9 0 1 3 29 4 0 3 7 0 5 4 7 1-1 3 8 0-1 3 9 3-1 3 7 1-1 3 7 6-2 3 6 1-2 3 5 4-3 6 2 2-5 9 2 3-8 5-8 8-13 6 5 1-18 5-15 6-19 4z" stroke="#4758f8"/><path d="M3571 2564l-22 3-70 5-4-1-29 0-3-2-38-2-23-3-3-2-9 0-1-3-26-5-14-4-1-2-8-1 0-2-10-3-1-2-7-1 0-3-5-1-4-4-6-1 1-3-5-1-7-6-8-8 1-3-5-1 2-4-4-1 0-8-4-2 4-3-3-2 1-6 3-3-4-2 9-10-3-2 13-9 1-3 9-8 8-3-1-2 14-5 2-3 28-9 41-11 22-4 70-5 4 2 29-1 3 2 38 2 23 4 3 2 9 0 1 2 26 6 14 4 1 2 8 0 0 3 10 3 1 2 7 0 0 3 5 1 4 4 6 1-1 3 5 1 7 6 8 9-1 3 5 1-2 3 4 2 0 7 4 2-4 4 3 2-1 5-3 4 4 1-9 11 3 2-13 9-1 3-9 7-8 3 1 3-14 5-2 2-28 10z" stroke="#2b91ef"/><path d="M3610 2576l-66 11-56 4-59-1-3-2-37-3-24-3-2-2-9 0-44-11-2-2-7-1-2-2-10-2-1-3-7 0-1-3-16-5-1-3-15-6 0-3-5-1-4-4-4-1 0-3-5-2 0-2-11-10-1-5-4-2 2-3-4-2 0-8-3-1 3-4-3-2 1-5 2-4-3-1 4-4 2-6-1-2 8-8-1-3 7-7 15-10 1-3 26-14 23-9 19-7 24-6 71-12 56-3 59 1 3 2 37 2 24 4 2 2 9 0 44 11 2 2 7 0 2 3 10 2 1 2 7 1 1 2 16 6 1 2 15 7 0 2 5 2 4 4 4 1 0 3 5 1 0 3 11 10 1 5 4 1-2 4 4 1 0 8 3 2-3 3 3 2-1 6-2 3 3 2-4 4-2 6 1 2-8 8 1 2-7 8-15 9 0 3-27 14-23 10-19 7z" stroke="#02bac3"/><path d="M3532 2605l-41 2-62-1-48-5-36-6M3778 2467l5 15-1 6 1 5-2 6 1 2-3 4-1 8-5 4-4 8-16 14M3173 2509l-5-15 1-6-1-5 2-6-1-2 3-4 1-8 5-5 4-7 16-15M3419 2371l41-2 62 1 48 4 36 6" stroke="#64cd6f"/><path d="M3477 2621l-43-1-48-4M3820 2488l0 10-4 6 2 3-7 10 1 2-4 4M3131 2488l0-10 4-7-2-2 7-10-1-2 4-4M3474 2355l43 0 48 4" stroke="#e6bb2d"/><path d="M3437 2632l-20 0M3851 2503l0 4-4 4M3100 2472l0-4 4-4M3514 2343l20 1" stroke="#f6ef20"/></g>
<clipPath id="cF11"><path d="M3092 2095l6 4 21 33 7 2 31 36 5 1 22 21 6 0 4 5 6 1 2 4 5 0 3 3 12 7 5-1 3 3 4-2 6 5 2-3 5 5 7-2 6 3 2-3 5 2 7 0 6-2 4 3 6-4 4 1 6-3 2 3 5-5 5 0 2-4 8 1 5-4 3 2 12-11 8-1 12-12 12-6 6-9 4-1 6-6 4-1 12-18 6-2 11-11 3-7 4-3 4-10 6-4 4-9 6-2 11-22 7-8 11-20 6-5 14-30 4-2 3-13 7-5 6-15 5-7 6 10 1 7 12 25 1 8 11 22 1 8 12 20 1 7 9 15 6 15 9 13 3 10 9 12 1 5 16 24 24 29 24 23 14 10 23 10 15 3 15-1 27-7 22-13 28-27 24-31 16-27 3-3 1 3-30 60-12 15-1 5-50 77-51 66-50 52-42 35-42 28-50 20-43 8-27 0-46-8-47-20-40-25-53-45-21-23-54-68-43-67-27-55-1-8-12-20-1-7-11-25-1-8-9-17z" clip-rule="evenodd"/></clipPath><g clip-path="url(#cF11)" stroke="none" fill-rule="evenodd"><path fill="#402ab4" d="M3082 1956H3867V2511H3082z"/><path fill="#422ec0" d="M3062 1937l822 0 0 592-822 0z"/><path fill="#4332cb" d="M3062 1937l822 0 0 592-389 0-4-22-2-3-9-2-4 5 0 22-21 0-1-16-6 16-386 0z"/><path fill="#4537d5" d="M3062 1937l822 0 0 592-342 0-10-28-1 11-4 2-5-10-4-2-4 15-4-10-6-4-2 15-5-16-17-2-7 4-1 25-3 0-1-25-6-3-18-1-7 5-6 17 0 7-369 0z"/><path fill="#463cde" d="M3062 1937l822 0 0 592-333 0-13-32-6-4-8 5-7-2-7 3-40 1-28-2-8 6-8 15-1 10-6 0 5-22-1-8-9-5-7 5-7-6-19 36-319 0z"/><path fill="#4741e5" d="M3062 1937l822 0 0 592-311 0-21-38-5 3-5-3-8 0-24 4-40 2-38-1-18-4-7 1-7-4-5 5-16 35-317 0z"/><path fill="#4747eb" d="M3062 1937l822 0 0 592-294 0-21-42-5-5-7 4-37 6-48 3-40-2-35-6-5 5-15 37-315 0z"/><path fill="#484df0" d="M3062 1937l822 0 0 592-267 0-27-45-8-6-5 5-5-4-5 0-47 10-43 4-70-6-40-11-15 11-23 42-267 0z"/><path fill="#4852f4" d="M3062 1937l822 0 0 592-259 0-31-57-4-2-53 14-60 6-27 0-38-5-42-11-13-1-31 56-264 0z"/><path fill="#4758f8" d="M3062 1937l822 0 0 592-226 0-36-48-18-19-60 18-64 7-28 0-48-5-47-13-9 10-25 50-261 0z"/><path fill="#465efb" d="M3062 1937l822 0 0 592-220 0-39-52-18-18-36 13-27 6-64 7-75-6-48-13-7 2-6-5-3 4-33 62-246 0zM3557 2372l17 6 6-1-8-4z"/><path fill="#4563fd" d="M3062 1937l822 0 0 592-198 0-46-62-8-7 2 7 39 57 1 5-6 0-54-70-4-3-38 13-30 7-70 6-68-6-77-22-45 45-23 30-197 0zM3529 2357l1 2 27 15 15 5 22 0 6 2 8-2-14-8-32-10-22-5z"/><path fill="#4269fe" d="M3062 1937l822 0 0 592-189 0-1-5-45-60-25-18-40 17-32 8-45 6-35 1-68-5-37-9-43-14-11 9-33 38-25 32-193 0zM3512 2346l5 1 13 14 42 19 22 0 16 3 2-3 10-3-22-13-30-11-38-7z"/><path fill="#3e6fff" d="M3062 1937l822 0 0 592-170 0-43-55-37-35-37 17-30 9-40 7-33 3-60-2-37-4-45-12-30-13-14 13-8 15-23 25-24 32-191 0zM3502 2337l0 2 8 8 7 3 12 12 43 19 22 1 16 2 4-3 13-2 6-5-8-7-18-10-27-9-56-11z"/><path fill="#3875fe" d="M3062 1937l822 0 0 592-140 0-94-95-3 0-3 6-10-3-27 13-45 14-68 8-42-1-50-5-50-11-32-13-14 12-9 15-44 53-3 7-188 0zM3311 2439l-14 11-15 19 5-2 23-23zM3493 2329l9 13 26 20 44 20 22 0 16 3 4-3 10-1 8-3 5 1 8-7-1-3-22-14-38-15-10-1-10-4-67-8z"/><path fill="#327cfc" d="M3062 1937l822 0 0 592-137 0-57-60-43-41-5 5-32 14-31 10-55 9-50 3-47-3-37-5-38-9-40-17-12 4 0-7-3-1-98 98-137 0zM3360 2334l-5 0-28 11-23 13-5 6 8 1 23-6 22-15zM3484 2319l1 5 25 25 4 1 13 12 45 20 22 1 16 3 4-4 18-3 5 1 17-11-7-9-13-8-37-18-85-15z"/><path fill="#2f81fa" d="M3062 1937l822 0 0 592-135 0-52-57-47-46-40 19-30 9-58 9-45 2-45-2-42-5-46-12-50-21-104 104-128 0zM3372 2322l-28 6-20 8-28 18-9 10 20 3 24-8 29-20zM3475 2312l9 13 25 24 5 2 22 16 36 15 32 2 6 3 4-4 6 1 12-4 5 1 5-4 13-5 7-5-5-10-15-11-28-14-27-10-53-9-57-3z"/><path fill="#2e87f7" d="M3062 1937l822 0 0 592-132 0-47-52-20-28-25-26-6-2-42 20-32 10-58 9-48 2-57-4-43-7-44-13-38-17-86 86-20 22-124 0zM3380 2312l-30 6-35 14-27 17-9 13 7 5 18 0 23-5 33-23 12-12zM3468 2304l7 13 33 32 6 2 21 16 37 16 28 3 4-1 6 2 4-3 6 0 12-4 5 2 5-5 20-8 9-7-8-10-24-18-45-17-57-12-40-3-25 0z"/><path fill="#2d8cf3" d="M3062 1937l822 0 0 592-96 0-111-111-10-4-55 24-32 10-58 8-32 2-63-2-40-5-53-14-42-18-6 3-98 100-4 7-122 0zM3387 2302l-60 15-21 10-24 16-12 16 6 5 16 4 15 0 21-6 33-23 23-28zM3462 2294l-1 3 13 20 34 32 6 3 20 15 38 16 28 4 4-2 6 2 22-6 5 1 5-4 30-13 5-6-3-7-12-13-58-28-54-12-43-5z"/><path fill="#2b91ef" d="M3062 1937l822 0 0 592-89 0-113-114-8-5-10 0-40 20-42 14-35 6-57 4-56-1-42-5-42-9-33-11-23-11-12-2-12 11-46 53-39 43-4 7-119 0zM3394 2292l-20 3-27 7-50 20-23 16-10 19 9 7 14 4 20 0 22-6 23-15 20-19 22-31zM3456 2287l1 7 17 23 26 25 34 25 38 16 28 4 4-1 6 2 22-7 5 2 5-5 30-12 11-12-6-12-17-15-38-19-58-15-37-5-60-3z"/><path fill="#2797eb" d="M3062 1937l822 0 0 592-83 0-119-120-8-5-47 23-43 13-34 6-43 4-40 0-53-3-63-10-31-11-37-17-6 0-5-5-25 15-49 38-82 72-54 0zM3402 2284l-12 0-33 7-27 7-26 10-25 16-17 18-4 12 4 5 9 5 16 5 20 0 23-7 22-15 20-18 23-30zM3447 2279l1 5 6 5 20 29 26 25 34 24 38 17 28 3 4-1 6 2 22-6 5 1 13-8 22-8 15-13 2-5-2-7-10-13-33-20-37-15-55-11-72-6z"/><path fill="#259be8" d="M3062 1937l822 0 0 592-68 0-129-130-5-3-48 25-40 12-40 9-74 5-70-4-46-7-44-13-48-23-5 0-57 44-97 85-51 0zM3407 2274l-55 9-50 17-20 12-18 15-11 17-1 8 8 7 25 10 22 0 24-7 31-22 12-13 23-30zM3442 2272l5 13 6 4 21 29 26 25 34 25 38 16 28 4 4-2 6 3 22-7 5 2 13-8 22-8 16-14 7-10-7-15-8-5-3-5-53-28-72-16-48-5-40-1z"/><path fill="#23a0e5" d="M3062 1937l822 0 0 592-16 0-104-89-45-36-25-14 0 2 136 137-7 0-136-136-5 0-50 26-50 14-48 7-67 3-57-4-68-12-33-10-42-22-7 3 0-7-149 138-49 0zM3412 2266l-60 9-40 13-22 10-18 11-16 15-8 13-1 12 13 11 24 9 23 1 24-8 31-22 12-13 23-29 13-21zM3437 2264l3 10 7 12 5 3 22 30 15 13 11 12 34 24 38 16 28 4 4-1 6 2 22-6 5 1 13-8 22-8 18-14 11-12-4-13-20-20-30-17-33-11-27-8-77-10-58-1z"/><path fill="#20a5e3" d="M3062 1937l822 0 0 592-14 0-103-90-63-48-12-5-43 23-27 10-62 14-70 6-80-3-56-9-43-13-24-10-30-17-149 142-46 0zM3417 2258l-25 2-42 8-23 6-43 17-16 11-17 15-9 16-1 11 6 8 13 9 24 9 23 0 20-6 25-16 22-20 23-29 20-36zM3431 2259l16 28 5 2 22 30 15 13 11 12 34 24 38 17 28 4 4-2 6 2 22-6 5 2 13-8 22-8 28-22 7-10-5-13-20-21-22-14-60-21-36-7-57-6-40-2-35 4z"/><path fill="#1ca9df" d="M3062 1937l822 0 0 592-12 0-105-92-73-53-47 23-50 16-55 9-62 3-70-3-56-9-66-21-38-21-13 6-35 25-137 117-3 0zM3712 2329l-6-12-18-20-48-26-58-15-35-6-43-3-37 0-77 6-26 3-47 13-40 17-23 16-13 17-6 18 5 10 7 6 25 14 12 3 23 0 20-6 25-15 22-21 23-29 23-40 4-2 9 7 13 23 6 3 22 29 15 13 11 12 34 25 38 16 28 4 4-1 6 2 20-6 7 1 5-4 32-13 26-20 10-11z"/><path fill="#18addb" d="M3062 1937l822 0 0 592-10 0-107-96-18-11-52-41-7 1-43 22-50 15-53 9-64 4-70-4-70-12-33-10-57-28-13 5-36 26-139 119zM3230 2329l2 8 7 10 21 15 12 6 12 3 23 0 20-6 25-16 22-21 23-29 17-30 10-12 9 7 13 23 6 3 21 29 16 13 11 13 34 24 38 16 28 5 4-2 6 2 20-5 7 1 5-4 32-14 36-29 7-15-7-16-12-14-12-5-14-13-23-7-25-11-40-9-64-9-63-1-37 2-68 10-62 20-23 12-20 16-11 13z"/><path fill="#12b1d6" d="M3062 1937l822 0 0 592-8 0-65-60-101-100-6 1-4 6-38 18-50 17-40 9-92 8-68-4-60-9-40-11-30-12-30-16-8-1-24 17-46 36-112 97zM3226 2327l1 7 10 13 23 16 24 8 23 0 13-3 17-8 15-11 22-20 24-30 18-32 8-9 8 6 14 23 6 4 21 28 35 33 6 2 20 16 8 1 20 12 48 8 20-6 7 1 13-7 24-10 36-29 11-16 1-5-11-22-17-15-50-26-32-9-50-10-38-4-70-2-37 2-50 7-65 17-26 12-25 15-20 23z"/><path fill="#08b5d0" d="M3062 1937l822 0 0 592-2 0-168-166-52 29-55 17-35 7-42 5-53 3-98-7-52-12-37-13-56-28-27 17-33 25-112 93zM3221 2322l4 12 12 13 23 16 24 9 23-1 13-3 17-8 15-10 23-21 23-30 17-30 9-10 8 6 13 22 7 4 21 28 34 33 7 2 20 16 8 1 20 12 48 8 20-5 7 1 13-8 24-9 36-29 14-17 3-10-4-12-14-18-27-20-42-17-38-11-28-5-92-8-65 2-53 7-32 10-10 0-35 13-30 16-20 16-13 17z"/><path fill="#01b8ca" d="M3062 1937l822 0 0 549-137-110-27-17-10 3-23 15-25 12-52 16-66 11-64 4-80-5-63-11-33-9-27-11-43-24-12 5-50 35-110 92zM3216 2312l1 10 7 13 14 14 19 14 27 9 26-1 27-11 25-18 35-41 18-32 9-10 8 6 13 22 7 5 20 27 15 12 20 21 7 2 20 16 8 2 20 11 48 9 20-6 7 2 15-9 22-9 36-28 16-18 6-12-7-20-18-20-25-15-32-15-30-10-8 0-35-8-87-8-70 2-68 9-65 19-35 19-15 11-13 13z"/><path fill="#02bac3" d="M3062 1937l822 0 0 544-110-87-47-42-57 30-58 18-68 12-62 4-85-5-75-14-45-16-40-23-12-4-1-5-4-1-46 31-107 87-5 2zM3212 2309l2 10 10 18 23 21 25 12 12 3 23-1 30-11 26-19 34-41 18-32 9-9 8 6 13 21 7 5 20 27 15 12 20 21 6 2 21 16 7 2 21 12 48 9 20-6 10 1 3-4 31-13 37-29 16-18 8-12 2-8-5-14-16-21-19-13-40-20-45-14-22-4-83-9-47-1-86 7-43 9-41 13-35 17-22 15-17 23z"/><path fill="#0bbdbd" d="M3062 1937l822 0 0 532-107-90-49-32-4 0-40 25-26 10 6-3 5-5 5-1 21-19 6-2 26-27 14-21 0-10-7-15-16-17-11-8-53-26-42-13-42-8-48-5-65-2-67 5-63 12-57 21-30 16-24 23-8 17-1 10 3 13 12 19 21 21-1 1-20-13-12 6-148 114zM3261 2369l21 5 25-1 30-12 26-19 12-13 24-30 17-30 8-9 8 6 12 21 7 5 21 27 15 13 20 20 6 2 21 17 6 0 22 13 38 9 4-2 6 3 4-2 3 2-23 6-57 8-53 3-47-1-63-6-47-10-37-11z"/><path fill="#19bfb6" d="M3062 1937l822 0 0 529-107-90-45-32-8 0-13 10-27 14-1-1 14-13 5-1 25-26 15-21 4-9-2-10-5-13-13-15-12-7-4-8-40-20-38-11-60-13-30-4-88-4-62 6-75 14-4-20-29-68 0 8 25 77-15 11-7 0-43 22-20 15-13 15-7 15 0 17 6 15 15 23-8 1-25 17-130 103zM3287 2377l4-3 19-1 20-8 33-23 34-40 19-33 8-9 8 7 12 20 7 5 21 28 15 12 20 21 5 1 22 17 6 1 22 13 35 9-13 4-47 6-50 3-45-1-85-9-62-15z"/><path fill="#24c1ae" d="M3062 1937l822 0 0 522-69-57-72-68-7 0-32 20 3-7 21-20 15-20 7-15-1-10-6-13-25-30 9-80 0-7-5-10-25 24-35 47-52-14-60-9-53-4-47-1-50 4-43 7-10-3-70-118-3-1-3 40 0 103-4 6-27 13-21 16-14 17-6 15 0 13 3 10 15 27-17 7-76 50-54 42-8 3zM3297 2377l33-11 34-24 35-43 17-30 8-8 8 6 12 20 7 5 21 28 15 12 13 15 34 24 6 1 22 14 19 6-4 3-57 7-88 0-90-12-35-8z"/><path fill="#2cc4a7" d="M3062 1937l822 0 0 489-97-72-35-23-10-3-24 16-4 0 30-38 10-22-6-20-18-25-1-80-5-23-2-1-72 65-93-18-50-4-60 0-80 8-4-2-2-7-39-53-48-57-7 55-7 39-4 56-20 12-22 17-13 16-6 17 1 18 12 27-28 19-118 89zM3309 2377l6-5 22-10 27-20 35-43 17-30 8-8 8 6 12 21 7 4 21 28 15 12 12 15 35 25 6 0 22 14 5 1 4 5-51 6-88-1-68-7-44-9z"/><path fill="#31c69f" d="M3062 1937l822 0 0 487-94-71-36-23-12-5-18 12-3 0 24-30 14-25-4-18-15-25-11-72 1-13-8-36-32 25-50 47-73-14-47-5-80-1-60 6-33-30-40-45-29-37-4-1-15 86-17 68-25 17-15 14-10 21-1 18 11 27 0 8-140 107zM3317 2374l37-24 22-21 24-30 17-30 7-8 7 6 13 21 6 4 22 29 15 12 11 14 36 25 8 2 18 13-3 3-75 5-60-2-70-9-30-7z"/><path fill="#37c897" d="M3062 1937l822 0 0 481-72-54-53-47-5-3-3 3 9 10-13-4-15 4 28-43 3-12-5-18-11-20-16-67-7-52-2-4-62 50-30 20-58-11-105-8-7 2-30 0-40 4-6-3-43-58-67-67 0 19-8 33-32 91-2 31-18 13-16 15-10 20-2 15 7 25-1 5-27 17-103 75zM3324 2372l30-22 23-21 23-30 17-30 7-7 7 5 13 21 6 4 22 29 15 12 11 14 36 26 6 0 8 6 4 5-2 2-26 3-82 1-85-10-25-5z"/><path fill="#3fca8e" d="M3062 1937l822 0 0 458-114-83-16-2-14 10 22-36 5-20-35-97-10-67-67 47-31 24-80-12-62-4-82 5-126-123-3 5 2 15-3 15-36 100-11 37-23 21-16 24-2 18 6 30-126 93zM3331 2369l33-27 13-13 23-29 17-31 7-7 7 5 13 21 6 4 22 29 15 12 11 14 36 26 6 1 7 8-45 4-58 0-10-2-24-1-46-6-30-5z"/><path fill="#4acb84" d="M3062 1937l822 0 0 456-117-87-7-3-12 6 19-32 4-18-4-14-34-78-5-25-4-45-2-3-56 40-49 28-63-10-50-4-97 4-60-48-73-69-3 7-1 30-40 106-18 31-22 22-9 18-3 13 4 22-1 5-54 36-65 38zM3337 2367l40-38 23-29 17-30 7-8 7 5 13 22 6 3 22 30 15 12 19 20 6 2 20 17 8 4-8 3-40 2-35-2-10 2-80-8z"/><path fill="#57cc7a" d="M3062 1937l822 0 0 454-122-91-8 3-1-1 5-10 6-8 10-20-1-17-39-81-6-24-6-61-86 53-26 19-93-12-105 2-21-31-22-25-92-79-1 21-6 13 1 15-4 20-40 95-20 32-17 16-13 21-3 13 3 28-115 75zM3343 2362l35-33 22-30 17-29 7-8 6 5 14 22 6 3 21 30 16 12 10 13 10 8 6 2 17 17-36 3-62-1-65-7-24-5z"/><path fill="#64cd6f" d="M3062 1937l822 0 0 450-88-65-29-25-8 0 0-5 6-5 10-20 3-20-5-20-39-68-5-17-5-61-2-5-100 60-18 8-74-9-88-2-20 2-60-59-88-73 0 26-5 13 1 15-3 17-65 125-16 15-10 15-5 18-1 27-108 63zM3347 2359l31-30 23-30 16-29 7-7 6 4 14 22 6 3 21 30 16 12 10 13 10 8 5 2 12 12-4 3-50 1-50-2-66-8z"/><path fill="#72cd64" d="M3062 1937l822 0 0 426-94-62-23-12 15-37 0-15-4-10-38-62-10-23-8-79-66 36-56 38-70-9-63-3-37 3-33-22-123-105-2 3 1 25-4 13-2 28-27 52-43 67-2 8-13 12-10 13-5 15 0 25-105 54zM3352 2357l26-28 23-30 16-29 7-7 6 4 14 22 6 3 21 30 15 12 11 14 15 10 6 9-48 2-48-2-52-5z"/><path fill="#81cc59" d="M3062 1937l822 0 0 423-80-52-20-16-14-7 15-38 0-18-8-17-43-58-4-17-6-74-2-4-109 58-19 11-47-6-50-3-65 1-13-11-39-24-26-18-80-68-3 5 2 25-5 13-1 19-11 18-34 46-35 67-15 18-9 22-1 24-100 56zM3357 2354l33-40 24-36 3-7 7-8 6 4 14 22 6 4 20 29 7 4 20 23 15 10 0 3-8 2-62 0-70-6z"/><path fill="#8fcb4e" d="M3062 1937l822 0 0 404-76-49-32-15 12-30 2-13-1-12-55-71-4-17-5-72-3-7-105 54-27 11-83-8-67 0-15-18-148-117-3 3 0 17-3 7 1 25-4 15-1 15-46 63-37 63-14 17-10 20-2 25-55 37-41 23zM3361 2349l29-35 27-43 7-7 6 3 14 22 6 4 20 29 15 12 12 16 10 9-75 1-8-3-42-2-20-4z"/><path fill="#9dc943" d="M3062 1937l822 0 0 390-88-58-9-2 6 7-1 3-12-5 12-35 1-18-3-7-53-59-5-10-8-91 2-13-2-9-105 59-32 23-67-7-76 0-167-133-5 11-1 46-6 30-102 140-7 20-2 18-92 43zM3367 2347l3-8 30-37 17-30 7-8 6 3 13 22 7 4 20 29 22 20 7 12-19 2-48-1-50-4z"/><path fill="#abc739" d="M3062 1937l822 0 0 387-99-65 11-27 0-20-6-10-50-51-8-12-7-85 2-22-3-4-142 76-52-6-76-1-7-2-15-15-64-51-91-63-5 16-2 22 1 25-7 29-52 73-52 63-8 18-2 18-18 12-70 34zM3370 2342l30-40 17-30 7-8 6 3 13 22 7 4 20 29 21 20 2 7-11 3-60-2-50-6z"/><path fill="#b9c431" d="M3062 1937l822 0 0 383-94-62 10-34 0-12-7-13-56-56-5-8-7-83 3-20-4-8-117 60-30 12-23-1-10-3-92-3-5-2-13-12-49-38-108-76-3 2-3 19-2 22 1 28-8 27-50 69-52 55-9 16-4 22-85 42zM3374 2339l27-37 16-30 7-8 6 3 13 22 15 15 12 18 14 13 6 9-6 3-60-2z"/><path fill="#c5c22a" d="M3062 1937l822 0 0 372-57-37-31-23-1-5 8-25 0-10-7-12-62-62-5-23-3-60 2-13-1-27-143 68-12 9-50-5-60-1-22-17-83-51-80-57-3 1-3 23-1 50-8 19-51 51-31 40-31 47-7 25-22 8-58 28zM3378 2334l5-10 18-22 17-30 6-7 6 3 13 21 14 15 13 19 14 13 2 6-56 0-48-5z"/><path fill="#d1bf27" d="M3062 1937l822 0 0 369-54-36-31-26-1-5 9-30 0-11-73-73-5-13-3-60 4-40-3-3-137 59-20 13-13-3-7 1-43-4-40 1-4-2-4-7-17-15-168-112 2 14-6 28-2 22 2 27-8 17-52 52-55 67-11 20-5 20-25 15-52 25zM3382 2332l2-8 17-22 17-30 6-7 6 3 12 21 7 5 17 23 4 7 5 3 7 10-38 1z"/><path fill="#dcbd29" d="M3272 1937l2 17-6 48 1 27-5 14-56 56-55 60-11 17-7 26-4 5-19 12-50 25 0-307zM3277 1937l607 0 0 343-80-45 1-8 6-25-1-8-41-42-37-34-2-9-3-57 3-40-3-6-130 56-33 11-47-5-17 2-30-2-25-19zM3384 2327l17-25 17-30 6-7 6 3 12 21 7 5 17 23 3 7 6 5-1 3-12 2-75-5z"/><path fill="#e6bb2d" d="M3271 1937l2 20-5 45 0 27-6 16-118 117-7 12-5 19-34 6-36 15 0-277zM3282 1937l602 0 0 339-74-46-3-6 6-20 1-10-36-37-46-40-5-65 3-10 0-38 4-26-131 59-23 14-18 14-62-4-23 1-46-25zM3388 2324l30-52 6-7 6 4 12 20 15 16 13 22-3 2-15 0z"/><path fill="#f0ba36" d="M3270 1937l2 20-5 45 1 27-6 14-62 61-38 30-21 20-14 30-65 25 0-272zM3287 1937l597 0 0 331-72-47 5-27-1-7-84-72-4-66 2-7 1-38 6-30-135 58-25 13-17 13-48-4-32 1-13-10zM3392 2319l26-47 6-6 6 3 11 20 7 5 17 25-1 4-10 2z"/><path fill="#f8ba3d" d="M3270 1937l1 37-5 30 1 25-5 12-41 41-86 72-8 20-45 25-20 8 0-270zM3297 1937l587 0 0 311-67-36 4-23-2-5-87-70-4-65 2-7 2-38 6-25-1-9-143 64-32 11-8 6-42-4-25 1-58-31zM3395 2314l24-42 5-6 5 3 13 21 6 4 9 12 5 11 0 2-5 1-23-3-10 2-27-3z"/><path fill="#febe3c" d="M3269 1937l2 35-7 39-127 128-16 33-34 22-25 11 0-268zM3329 1937l555 0 0 309-64-39 0-6 3-14-1-5-80-60-10-10-4-60 4-48 8-32-3-7-143 64-42 14-58-4-4 1-49-33-109-67zM3398 2309l21-37 5-6 5 3 12 20 6 5 9 13 1 7-13 2-7-3-25 1-12-2z"/><path fill="#fec338" d="M3269 1937l1 37-8 35-134 133-8 19-9 1-49 15 0-240zM3331 1937l553 0 0 307-27-17-33-27-1-3 3-13-2-5-70-50-20-17-4-25-1-38 2-7 2-38 7-25 0-15 6-17-2-2-123 52-64 32-10 7-55-4-6-5-82-45zM3402 2307l17-35 5-6 5 3 13 22 5 3 8 15-23 1z"/><path fill="#fec934" d="M3268 1937l2 37-3 18-5 12-38 32-94 94-15 24-53 19 0-236zM3333 1937l551 0 0 302-27-17-27-26-2-4 2-20-6-8-32-27-48-33-12-12-3-40 2-10 0-20 16-80-170 68-35 19-48-4-10-8-82-42zM3424 2267l6 4 12 21 5 4 3 10-18 0-25-3-1-1 1-8 12-22z"/><path fill="#fccf30" d="M3268 1937l2 37-3 18-5 9-38 31-57 52-44 43-9 18-52 25 0-233zM3336 1937l548 0 0 276-50-24-3-7 1-13-5-7-95-72-3-38 3-10-1-20 12-58 6-20-2-4-115 46-82 29-10 7-8-2-25-1-17-4zM3422 2269l2-2 4 2 19 30-10 2-27-2-1-7z"/><path fill="#fad62d" d="M3267 1937l2 35-3 20-4 8-40 32-102 92-8 15-10 1-40 16 0-219zM3371 1937l373 0-138 55-69 22-35-2-4-5-22-15-102-51zM3747 1937l137 0 0 272-47-27-3-15-4-6-97-72-3-37 2-10 0-20 11-58 7-20zM3422 2269l6 0 15 28-33-3z"/><path fill="#f7dc2a" d="M3062 2141l0-204 205 0 2 37-3 18-5 7-59 48-33 30-36 27-17 15-9 13-20 1zM3376 1937l312 0-137 60-14 10-33-2-27-17zM3751 1937l133 0 0 253-32-16-12-2-3-8-5-6-98-69-4-22 2-45 12-58 6-17zM3424 2268l3 1 8 13 2 9-23-1 6-17z"/><path fill="#f5e327" d="M3062 2137l0-200 204 0 2 37-3 20-5 6-147 117-6 7zM3435 1937l249 0-152 62-23-2-13-18-56-37zM3752 1937l132 0 0 249-38-19-5-13-107-72-3-15 2-45zM3424 2268l3 1 7 13 0 5-17-2 3-11z"/><path fill="#f5e924" d="M3062 2134l0-197 204 0 2 37-4 18-5 7-72 55-50 33-35 30zM3438 1937l239 0-75 29-78 26-14-4-11-11zM3753 1937l131 0 0 240-30-14-17-16-103-68-3-12 2-45zM3424 2269l3 1 5 13-12-1 1-8z"/><path fill="#f6ef20" d="M3062 2126l0-189 203 0 2 37-3 16-7 9-50 38-89 60-16 13-10 2zM3441 1937l229 0-146 48zM3754 1937l130 0 0 230-50-25-100-66-2-6 0-16 2-32z"/><path fill="#f7f51b" d="M3062 2112l0-175 201 0 2 35-3 20-4 5-44 32-87 58-27 15-10 1zM3466 1937l134 0-66 33-10 8-52-35zM3756 1937l128 0 0 223-30-15-120-72-2-21 5-45z"/><path fill="#f9fb15" d="M3062 2093l0-156 188 0-156 155zM3480 1937l101 0-57 28zM3759 1937l125 0 0 211-75-36-72-44-1-16 5-45z"/></g>
<path d="M3092 2095L3092 2468L3425 2636L3859 2508M3425 2636L3430 2646M3425 2636L3419 2645M3642 2572L3647 2582M3259 2552L3253 2561M3859 2508L3864 2518M3092 2468L3086 2477M3092 2468L3082 2468M3092 2320L3082 2320M3092 2172L3082 2172" stroke="#585858" stroke-width="7.5"/>
<!-- F12 -->
<path d="M4537 2480L4537 2079M4890 2658L4537 2480M5359 2523L5359 2122M4890 2658L5359 2523M4772 2413L4772 2012M5124 2591L4772 2413M5183 2434L5183 2033M4713 2569L5183 2434M5006 2345L5006 1944M5359 2523L5006 2345M5006 2345L5006 1944M4537 2480L5006 2345M4537 2480L5006 2345L5359 2523M4537 2345L5006 2210L5359 2388M4537 2210L5006 2075L5359 2253" stroke="#dedede" stroke-width="6"/>
<path d="M4537 2480L5006 2345L5359 2523" stroke="#b4b4b4" stroke-width="7"/>
<path d="M5006 2345L5006 1944M4537 2079L5006 1944L5359 2122L5359 2523" stroke="#585858" stroke-width="7.5"/>
<g stroke-width="8" stroke-opacity="1"><path d="M5002 2626l-19-4-14-6-8-7-2-5 2-3 18 2 18 5 10 7 6 8M5094 2599l-31-9-7-5-12-13-30-4-33-1-11 1-8 4-5 7-4 14-3 3-59-4-21 0-7 4-8 17-5 4-12 2-31-2M5189 2572l-19-4-14-6-9-8-1-4 2-3 19 2 17 5 10 7 6 8M4908 2650l-13-2-13-4-7-5 0-5 12-1 16 5 10 8 0 3zM5283 2543l-25-6-8-6-2-4 4-2 7 0 17 4 11 8 1 4zM4786 2606l6-8 12-6 54-6 4-3 5-8 0-4-1-2-11-1-18 2-51 14-32 5M4935 2556l12-5 1-3-4-2-17 2-10 6 7 2zM5031 2528l13-5 1-3-3-2-17 2-10 6 6 2zM5217 2452l-65 26-48 15-11 6-1 3 13 3 34 0 7-2 14-12 10-4 16-3 21 0 13 2 8 5 1 10-4 8-14 3-57-1-6 3-3 4-5 21-2 3-63-2-14 2-7 6-4 12 2 9 41 13 9 5 6 8M4709 2567l23-11 49-15 10-5 2-2-2-3-16-2-30 0-7 3-13 11-10 4-17 3-22 0M4847 2517l14-3 9-5-8-3-16 2-5 3-2 4zM4946 2488l14-3 8-4-11-3-14 2-6 3 0 4zM4655 2539l2-11 7-4 57 1 12-2 7-8 4-20 3-2 63 2 11-2 7-4 6-10-1-13-45-15-10-9-2-5 2-3 19 2 21 7 10 6 13 14 22 3 33 2 16-1 10-4 5-7 4-15 3-2 63 4 20-2 5-4 8-17 10-4 47 4 10 4 1 5-6 8-11 5-55 6-5 5-4 8 0 4 4 2 27-2 50-14 85-17M4736 2488l-19-3-18-5-11-8-3-9 4-1 9 1 27 8 12 10 1 4zM4921 2434l-22-4-15-5-10-8-2-8 5-1 10 1 25 8 9 6 4 6 0 3zM4630 2510l-23-5-9-6-1-6 4-1 9 1 18 6 8 7-1 3zM5002 2402l-11-1-12-5-7-6 0-5 5-1 10 2 17 6 6 7-2 3zM4749 2419l-2 1" stroke="#484df0"/><path d="M4899 2656l-26-8-28-16-16-5M4991 2629l-29-8-34-17-20-3-17 2-10 6-2 5 2 3 34 17 14 13M5084 2602l-29-8-33-16-20-3-15 2-9 5-1 3 2 5 32 17 13 13M5178 2575l-29-8-34-16-18-3-16 2-8 5-1 5 2 3 31 16 13 13M5273 2548l-28-9-34-17-21-2-18 2-8 6-1 4 2 4 33 17 13 13M5294 2490l-19 0-14 2-8 6-2 7 7 8 32 15 13 11M4633 2528l-7-7-33-15-23-21-20-9M4571 2470l20 11 49 14 31 16 22 4 19-2 9-7 0-4-2-4-31-15-24-23-22-10M4667 2443l20 11 51 14 30 16 20 2 15-2 9-5 1-4-3-4-29-15-24-23-22-10M4761 2416l21 10 50 15 30 15 20 3 15-2 9-5 1-4-2-4-30-15-24-23-21-10M4854 2389l21 11 50 15 29 15 20 3 19-1 11-7 1-4-3-5-33-16-22-21-22-11M4946 2362l18 11 50 15 24 14 13 4 21 3 18-1 10-4 7-8" stroke="#2f81fa"/><path d="M4891 2658l-4-1M4983 2631l-34-8-26-9-13-1-3 2 0 2 18 13 12 15M5076 2605l-64-15-1 1 10 10 11 16M5170 2578l-64-15-1 1 10 10 11 16M5265 2550l-34-8-28-10-11 0-3 2 2 3 17 12 11 14M5353 2520l-24-6-29-13-10-2-12 2-5 3 1 4 24 15 13 14M4575 2499l-12-11-19-10M4578 2468l28 13 48 12 27 10 12 0 2-3-1-2-17-12-17-21-24-14M4673 2441l29 13 76 18 1-2-10-9-16-22-23-14M4767 2414l29 13 76 18 1-3-10-8-16-22-23-14M4860 2387l29 13 47 11 25 10 13 1 4-2-1-2-18-13-16-21-24-14M4952 2361l24 11 48 13 29 12 13 3 14-3 3-2-1-3-25-16-10-10" stroke="#1ca9df"/><path d="M4975 2634l-26-2-5 3 1 7M5068 2607l-23-1-5 4 0 5M5162 2580l-23-1-5 4 0 5M5257 2552l-17-2-10 1-4 4 1 6M5354 2525l-21-4-14 1-3 3 2 10M4558 2491l-19-12M4583 2467l18 8 18 5 21 4 14-1 5-5-4-9-9-8-15-8M4678 2440l33 12 21 4 14-1 5-5-4-8-8-8-15-8M4772 2412l33 13 21 4 14-1 5-5-3-8-9-8-15-8M4865 2386l34 13 22 4 15-1 5-4-3-9-9-9-16-8M4957 2359l33 13 24 5 18 1 5-1 2-4-2-8-6-7" stroke="#2cc4a7"/><path d="M5344 2528l-11 0-5 4M4588 2465l30 11 15 2 9-1 4-3-1-7-19-13M4683 2438l28 10 14 2 9-1 5-3-2-5-18-13M4777 2411l28 10 13 2 10-1 4-3-1-5-18-13M4870 2384l28 11 16 2 10-1 4-3-1-6-6-6-13-8M4962 2358l33 11 16 3 10-1 5-4-1-6-7-7-14-8" stroke="#8fcb4e"/><path d="M4594 2464l20 7 16 0 3-2-1-4-12-9M4689 2436l21 7 12 0 3-2-1-2-11-10M4783 2409l21 7 12 0 3-2-1-2-11-10M4876 2383l20 6 16 1 3-2-1-4-12-9M4968 2356l24 8 18 1 4-3-1-4-15-11" stroke="#f0ba36"/><path d="M4603 2461l8 0 0-2M4885 2380l7 0 1-2M4975 2354l19 4 2-3-5-6" stroke="#f5e924"/></g>
<clipPath id="cF12"><path d="M4984 1950l11 21 1 7 7 13 7 25 15 67 1 13 7 20 1 15 12 47 6 11 21 22 17 32 10 23 11 40 13 36 6 2 7-3 7-15 6-3 6 13 8 6 14 21 1 8 3 3 15-12 15 0 8-14 16-57 6-4 8 16 9 45 3 7 9-17 12-15 11-6 10 2 6-6 8-20 3-20 8-22 5-8 6 5 5 10 5 20 1 20 7 45-13 33-5 6-10 0-13-14-3 0-3 5-3 30-13 68-7 15-11 13-7 2-6-2-8-8-21-38-5-3-21 26-11 45-16 18-10 0-6-3-15-23-11-22-3-3-13 19-10 9-4 17-10 25-16 14-4 0-13-13-14-28-9-10-7 6-6 11-12 10-11 30-14 16-7 0-7-5-11-13-11-25-6-8-2 0-14 20-15 10-1 8-8 16-10 10-8 2-13-11-21-40-6 2-7 12-11 11-12 4-12-5-14-11-14-18-32 2-8 2-14 0-9-9-17-40-10 6-14 1-13-8-13-19-12-36-2-1-18 16-10 0-6-4-12-22-10-25-1-8-8-12-5-1-8 7-5-1-6-13-13-87-2-55 1-3 5 2 13 18 6 25 4 8 1 10 6 14 21-202 8-37 6-8 6 8 20 52 1 13 9 30 1 12 23 104 4-11 10-118 5-30 0-32 8-38 6-7 8 10 15 37 25 105 1 15 10 45 3 7 1-34 3-8 2-45 3-7 0-18 2-7 0-18 3-7 5-55 8-40 5-8 11 18 15 42 34 157 7-44 0-20 2-8 8-92 5-28 0-27 5-25 6-9 3 1 13 25 10 30 22 95 6 38 9 26 3-24 0-45 3-7 0-18 2-7 0-18 3-7 0-18 2-7 0-18 3-7 2-33 8-40 4-6z" clip-rule="evenodd"/></clipPath><g clip-path="url(#cF12)" stroke="none" fill-rule="evenodd"><path fill="#402ab4" d="M4527 1940H5367V2618H4527z"/><path fill="#4332cb" d="M4507 1921l877 0 0 715-877 0z"/><path fill="#463cde" d="M4507 1921l877 0 0 715-214 0 0-88-18 33 0 5 12 50-76 0 0-50-2-13-6-3-30 29-2 7 4 30-212 0 0-16-10-27-1 43-78 0 10-40 13-24 6-16 0-5-3-2-17 4-6 5-7-3-6 3 0 78-6 0 0-78 7-21-68 28-54 71-113 0zM4852 2446l38 7 4-1 4-4-8-6-10-2-16 0zM4927 2566l-2 5 2 4 17 10 3-4 0-17-7-4zM5022 2540l0 7 12 13 6 2 2-14-2-10-8-3zM5122 2507l-4 6 1 3 13 7 0-15-5-2zM4874 2493l-27 7-3 3 18 7 8 0 4-10z"/><path fill="#4747eb" d="M4507 1921l877 0 0 715-106 0-9-20-7-10-70-70-32-8-18 8-4 25 10 40-1 4-45-44-22 1-13-7-9 1 2-4-3-4-10 2-7-26-16 7-5 12 13 17 12 6 0 43-2 1-38-25-12 3-18-4-20 13-4 6-1 20 2 13-55 0-1-25-3-1-14 26-32 0 6-28 0-31-5-3-23 6-17-4-14 12-9 14-24 27-1-6 5-12 0-14 15-29 4-15-1-5-5-5-30 4-2-4 10-17 9-5 30 2 33-12 10-6 25 7 8 0 4-8 10-31-57 15-30 13-43 12-34 15-18 3-3 0 4-15-1-9-18 2-16-1-128 128-33 0zM4677 2483l-10 5-2 5 2 3 10-8zM4751 2463l0 3 23 3 28 8 10-4 7-10-2-3-10-4-23-4-10 1-4-2-13 4zM4839 2448l3 2 22 0 30 5 18-14 3-5-11-8-7 1-15-5-20 0-12 3-6 4zM4944 2551l-14 6-6 14 6 8 17 9 3-5 1-17-2-10zM4977 2401l0 15 3 8 7 0 8-3 5-8 0-5-10-6zM5130 2498l-10 4-4 11 6 8 12 5 3-3-1-17-2-7zM5212 2471l2 5 9 0-6-7z"/><path fill="#4852f4" d="M4507 1921l877 0 0 636-87-59-13-6-12 3-22-8-10 6-6 5 1 28-3 1-35-12-7-15-3 1 2 2 2 18-7 5-24-7-8-8-12 3-2-21-4-3-12 4-5 7-3 12 6 8 17 10-5 14-15-5-13 1-4-11-8-3 2 26-15 0-22-12-3-5-7-1-3-15-4-1-16 4-6 23 14 16 8 5 0 17-30-16-8-12 2 20-4 3-18-2-18-12-10 2-4-21-3-2-15 4-8 15-1 10 23 20 2 43-4 0-34-35-16 0-14-5-23 10-2-8 3-22-4-9-4-1-20 6-18-2-8-4 8-21 0-7-15 5-10 10-1-5-12-11-4-1-16 3-1-6 7-8 4-2 30 2 33-13 7-6 8 0 20 8 8-1 5-7 19-48 10-11 8-5 15-3 2-8 8-8 7-39-4 0-6 4-4 15-10 9-20 0-23-5-23 1-14 4-6 18-4 6-8 4-45-5-25 3-6 8-5 22 31 2 24 8 1 3-14 7-41 12-30 12-5-1-2-5-5-6-20 1-8-3 12-13 8-1 12 5 13 0 10-8 2-5-2-3-33-8-22 2-10 4-8 16-22 6-2-5 4-15-2-10-2-2-16-1-14-4-3-4-90 44zM4977 2382l-2 1-1 18 3 17 4 10 1 20 2 2 6-12 12-14 8-3 12 0 2-5-12-1-2-2 5-15-1-6-7-4-15-1zM5040 2362l-6 1-5 10-4 13 3 2 6-2 6-15zM5067 2359l0 12 3 11 2 3 10-1 8-6 2-7-5-6zM5214 2462l-4 11 4 5 13 4 3-9 0-7-6-6zM5088 2401l-11 3-2 4 2 18zM4830 2466l1-5 6-5 13-4 14 0 12 4-2 2-22 6z"/><path fill="#465efb" d="M4507 1921l877 0 0 599-83-42-11-3-8-10 2 18-2 3-18-2-22-14-8 2-7-21-13 3-6 19 6 7 15 6 1 15-3 4-27-8-6-4-2-7-8-2 2 29-2 2-7 1-2-3-5 1-18-11-15-16-13-3-2 2-10 27 3 8 5 5-13-1-5-4 0-4-6-4 1-5-5-1-4 9 2 22-3 7-20-7-27-25-10-1-8 11-6 20 2 8-6 1-5-9-10-5 2 28-5 5-5 0-9-4-3-4-7-2-23-22-13-1-3 3-8 22-2 10 6 9 8 4 7 7-25-9-7-13-3-1 3 18-3 5-17-1-18-10-12 4 1-8-3-15-4-4-40 2-2-3 0-5 12-37 10-9 6 0 15 6 6 8 6 0 29-63 14-13 20-4 8-20 13-53-19-3-15-17-3 1 11 32-1 7-7 7-20 1-25-4-22 1-13-4-6-8-6-3 0-5-5-3 10 41-3 10-23 3-12-3-42 0-11-8-4-7-5-2 9 34-2 8-10 7-20 0-5-2-38 0-9 5-5 12-10 3-3-5 0-13-25-2-18-12-10-3-43 20-21 21-13 9zM5042 2343l-12 4-8 17-8 7-12 1-33-4 5 18-1 15 8 45 3 6 7-14 11-11 8-5 15-1 5-14 1-14 6-12 8-30 4-5zM5052 2343l7 5 7 18 3 17 4 5-1 8 5 32 13-25 14-9 13 0 6-16-1-2-21 0 3-19-6-6-16-5zM5177 2364l-11 4 4 25 10-20 0-7zM4743 2478l4-5 18 0-8 4zM4683 2491l1-3 6-2 17 7-5 3zM4759 2528l5-2 17 2 1 3-2 3-8-4z"/><path fill="#4269fe" d="M4507 1921l877 0 0 557-77-20-13 2-8-9-1-5-5-2-4 14 2 18-14 0-4-5-7 0-19-16-4-8-13-2-5 8-5 20 5 8 13 5-1 3-22-6-7-10-13-6 0 39-5 1-5-4-5 0-3-3-7-2-23-19-10-4-14 36-11-10 0-5-9-3-4 23 1 10-3 8-10-2-2-4-8 0-22-20-8-4-4-1-6 7-10 28-4-7-10-8-6-1 0 38-7 0-10-4-21-15-6-8-16-4-14 37-6-3 0-5-10-6-2 11 2 21-20-3-17-13-13-14-17-3-15 1-5-2 0-12 11-25 6-5 8 0 7 3 14 12 6-2 21-53 10-15 12-9 18-3 9-20 9-40 9-16 5 0 9 13 9 68 2 7 2 1 6-13 12-13 8-4 12-1 4-2 17-63 9-11 6 4 7 15 6 22 3 38 3 3 15-26 12-7 13 0 5-9 6-29-6-2-2-5 7-6 2-4-2-14-3-3-7 2-10 8-43-6-30 0-12-6-10-14-5-1 11 34-1 9-5 3-22 2-30-4-10 1-16-4-8-10-19-11 12 49-11 5-56-3-10-4-12-8 1-5-14-6-5-6 0 7 10 35 0 16-40 1-30-4-10-6-2-4-6-2-4-6-8-2 11 42-2 7-4 3-15 2-20-3-35 0-6-2-11-11-2 4 7 20-1 9-7-10-25-4-14-8-15-17-13 0-28 35-35 31zM5184 2338l-17 12-3 5 0 13 6 27 11-24z"/><path fill="#3875fe" d="M4507 1921l877 0 0 536-67-12-20 1-8-8-1-5-11-5-3 36-12 1-13-7-22-20-10-2-13 32-6-2-1-6-6-2-11-7-3 10 3 33-8 1-11-7-7 0-6-7-18-13-6-1-12 30-5-3 0-3-7-3 1-5-11-6-3 3-2 8 2 8-3 18-2 8-21-6-3-5-18-14-10-4-13 31-5-3 0-6-8-2 0-5-12-2 0 43-18-3-2-4-10-5-18-15-7-2-5 6-10 27-5-7-6-3-1-5-5-5-5 2 0 39-10-4-8 1-2-5-9-3-21-19-29-3 3-18 5-10 8-5 13 4 12 12 8-2 21-54 10-15 11-9 15 0 4-3 9-19 9-41 8-15 5 0 8 12 4 38 8 39 2 0 7-14 12-13 7-4 12 0 4-3 18-63 4-7 4-3 6 3 6 15 6 22 4 38 3 4 16-27 11-6 14-1 6-12 8-36 0-8-4-9 1-20-2-2-13 2-4 4-18 2-32-5-20 0-14-4-6-5-3-7-15-11-1 11 11 40-5 3-15 2-45-5-14-5-19-17-7-1-5-6-2 1 10 35 2 22-38 0-24-4-12-5-2-5-12-11-4 1-6-3-10-2 0 5 14 42-1 9-20 2-44-6-4-5-11-5-1-5-3-2-4 0-8-7-8-1 14 50-1 7-25 2-18-3-20 0-20-11-10-12-7 0 3 15 6 10 1 16-23-5-17-8-13-14-10 1-2-3 1-7-6-7-23 0-37 12zM5187 2318l-3-1-18 19-4 7 2 5-1 20 4 27 3 1 12-24 8-39z"/><path fill="#2f81fa" d="M4507 1921l877 0 0 533-24-16-40-9-16 0-4 4-8-8-2-7-16-6-2 9 3 25-3 8-2 1-23-7-2-5-23-15-2-1-6 7-7 23-7-5-2-6-21-10-1 7 1 41-7-1-18-7-25-19-13 26-4-2-2-5-4 0-3-8-14-5-3 1-1 9 2 25-3 11-2 2-22-8-3-5-23-13-5 6-7 20-5-3-1-5-8-2 1-5-7-5-10 1 0 46-18-3-2-5-16-8-12-11-5-1-13 29-4-3-2-5-5-3-1-5-10-4-2 2-4 17 1 26-17-5-3-4-13-7-12-12-25-6 0-7 2-7 5-6 6-1 10 4 7 10 5 2 8-2 22-55 9-15 11-8 15-1 5-3 8-18 10-42 7-14 5 0 4 4 6 15 0 15 10 57 3-2 7-15 11-13 7-3 14-1 3-3 18-63 5-8 4-2 10 18 6 22 4 38 3 5 16-28 11-6 10 1 5-2 7-15 7-33-5-27 4-25-35 6-53-4-19-7-1-5-2-3-8-2-10-10-2 1-8-5-2 1-1 8 11 27 4 20-1 3-43-2-18-3-9-8-14-7-7-7-4 1-13-8-7-1 17 50 0 11-43-2-22-7-1-5-14-10-5 0-12-8-16-2 17 45 1 17-49-4-9-5-10-2 1-6-8-5-7-2-6-6-4 1-2-5-4-1-7 6 15 50-2 5-50 0-23-10 0-5-10-8-40-13-8 3 5 15 3 3 17 1 7 4 6 10 5 18-32-8-26-27-13-6-11 3-26 0-17 4zM5187 2315l-23 21-3 7 6 53 3 2 12-25 1-10 8-27 0-10z"/><path fill="#2d8cf3" d="M4507 1921l877 0 0 531-27-17-20-17-27-3-10 4-8-8 0-5-20-10-2 10 2 39-25-8-27-19-10 25-8-5-2-5-26-12 0 51-7 0-3-3-17-6-3-5-17-10-10 23-12-10-2-5-19-9-4 11 3 23-1 18-8 0-17-7-5-5-20-12-10 24-2 0-6-11-5 0 1-5-16-7-7 0 2 42-2 8-28-10-22-17-6 19-4 8-3 0-9-10 0-5-15-6-3 1-3 47-2-2-5 1-4-4-6 0-5-7-8-2-14-13-18-5 0-7 2-3 9 0 19 16 5 0 4-4 22-55 9-15 10-7 15-1 5-4 8-18 10-42 7-13 3-1 5 4 6 15 3 30 8 43 3-1 8-17 11-13 8-3 12-1 4-3 17-63 7-9 4 2 8 15 5 22 5 40 3 4 3-1 3-10 11-18 10-5 10 1 6-3 7-15 7-33 0-7-4-10 1-25 16-30 0-5-40 11-10 4-23 1-7-4-17 1-18-3-3-3-1-5-11-5-7-9-10-5-6 1-2-4-5 1-5-2 0 6 13 30 5 17 0 7-6 2-42-5-18-6-11-8-6-8-3 1-7-6-5 1-2-3-6 0-2-3-2 1-6-2-4 2-8-7-1 2 16 22 14 35 1 8-25 1-25-7-40-24-25-7-3 7 16 30 7 22 0 6-45-3-7-3-3-5-15-10-25-11-15-2 15 38 5 24-50-2-10-4-3-5-24-17-26-7-12 1-8-6 2 24 5 12 6 6 15-1 8 3 4 8 0 8-27-9-7-5-2-5-14-13-13-4-1-3-38-1-15 3zM5187 2314l-23 21-4 8 6 53 4 3 13-26 3-20 6-17 0-10z"/><path fill="#2797eb" d="M4507 1921l877 0 0 530-27-19-22-19-11-13-14-1-8 6-8-7-2-7-20-9-2 1-2 8 2 22 0 20-26-8-22-16-12 20-6-3-2-6-22-11-8-1 2 43-2 8-8 0-17-7-20-14-3 2-4 18-3 2 0-4-10-8-1-5-24-9 2-13 9-15 12-8 9 1 6-2 5-11 10-38-1-8-4-9 2-25 13-25 24-30-2-2-73 23-27 0-27-6-16-8-12-11-15-4-3-5-4 3-3-5-5 1-2-3-6 1-7-4-1 5 19 30 9 24 0 6-22 1-8-3-14-1-12-5-16-15-20-9-15-5-3 3-7-4-3 3-7-2-4 2 4 10 20 25 8 20-1 8-34-4-46-27-14-7-3 4-3-1-2-4-5 3-10-7-7 12 11 13 13 20 4 10 2 14-18 0-15-3-17-8-9-8-11-6-3 1-20-11-3 2-4-3-6 2-7-5-4 7 18 25 9 25 2 10-22 0-26-5-24-17-23-12-5 1-2-3-6 3-4-4-3 3-7-6-10-5 2 13-3 7 5 18-2 5-12-9-16-1-2-6-45-1zM5187 2313l-23 21-4 9 6 53 4 4 3-4 11-23 3-20 6-17-1-10zM5052 2349l4 2 7 15 6 22 4 40 6 8 2 45-1 7-3 2-7-2-3-5-13-3-7-7-13-6-5 6-5 11-2-1-8-7-4-8-23-9 7-18 9-10 8-5 13-1 4-4 18-63zM4962 2368l4 5 5 13 0 15 10 57 5 8-2 12 3 25-3 11-2 1-2-3-6 1-2-4-5 1-27-19-7 7-3 13-6-3-8-10-19-9-3 17 2 12-4 23-10-2-2-4-6 0-3-7 23-60 13-19 7-4 13 0 5-3 8-19 10-42 7-13z"/><path fill="#23a0e5" d="M4507 1921l877 0 0 528-24-17-18-16-15-20-7-5-3-6-3-1-12 8-7-9-1-5-24-11-3 1-1 8 3 37-2 8-10 0-3-3-4 0-3-4-5 0-4-6-16-8-10 21-2 0 0-8-12-7 0-5-21-10 8-18 2-18 6-19-1-13-5-10-23 20-5 10 6 53 5 7 2 33-2 10-3 2-23-9-2-3-12-6-10 11-10-5 0-3-20-11 0-8 4-9 13-6 7 1 6-2 8-17 7-33-1-9-4-8 3-25 20-35 17-18 4-33-34 13-50 26-43-4-15-6-15-14-5 0-28-11-17-2-7-5-6 0 0 4 6 12 17 19 7 14 3 15-3 2-14 0-20-6-6-4-15-7-7-7-5 2-3-6-7-5-5 3-2-3-6 1-2-5-2 3-8-4-5 2-8-6-9-3-2 10 4 18 17 20 7 10 4 13-23-2-25-10-22-17-10 1-13-6-5 2-8-7-2 5-15-6-2 2-1 12 5 13 20 22 6 13-1 6-30-4-13-7-9-9-28-14-22-5-5 4-5-4-10-3-1 3 6 17 13 13 7 10 7 19 0 9-34-5-43-27-7-3-3 2-10-1-15-7-3 6-9-3-5 3 3 15-1 17 0-2-15-7-55 1zM5052 2350l4 1 7 15 5 22 5 40 4 8 2 30-2 9-3 2-14-5-3-4-5-1-4-4-14-6-7 12-5 1-6-7-2-5-20-10 1-7 9-11 8-4 12-1 5-4 17-63zM4960 2367l6 6 5 13 7 62 6 18 0 36-4 2-13-7-5 1-2-5-20-12-6 12-4 4-10-6-1-5-25-12 5-13 8-11 7-4 16-1 3-4 8-18 10-42zM4890 2484l4 12 1 20-3 11-5 2-3-3-4 1-3-4 7-27z"/><path fill="#1ca9df" d="M4507 1921l877 0 0 500-42-41-3-7-8-2-14-12-3 4 0 13-7 3-12-13-25-12-3 0-4 7 4 37-3 10-2 2-2-2-6 0-2-3-12-3-3-4-13-6-6 6-4 8-4 0 1-5-9-11-18-9 2-15 8-30-1-13-6-11-23 21-5 10 6 53 4 7 1 33-6 2-4-5-3 1-3-3-24-10-5 2-2 8-3 3-12-18-11-5 0-5 7-5 10 0 6-3 9-17 7-33-1-10-4-7 2-25 14-25 24-28 5-27 0-18 4-10-90 44-10 2-38-5-22-16-13-5-5-4-12-3-3-3-10-3-5 4-10-10-10-1 0 23 7 15 17 17 5 13-1 3-29-6-22-12-5-5-4 1-3-3-5-1 1-2-11 0-12-7-6 3-10-9-3 0-1 5-7 0-2-2 3-10-2-3-5 0 2 5-2 5 1 5-2 18 4 15 17 20 3 8-10-1-16-5-17-12-17-5-13-9-7-2-3 2-5-3-5 3-15-13-8-1 0 38 5 12 17 20-2 3-22-5-5-5-7-2-36-21-2 3-5-3-5 2-5-2-3 2-12-12-10-4-3 22 5 17 21 25 2 12-23-2-22-12-2-4-13-6-33-8-4-4-6 2-14-7-6 2-1 2 1 37-7-8-13-4-47-1zM5052 2350l3 1 8 15 5 22 4 40 3 5 2 15-2 15-3 1-22-7-3-5-13-5-7 11-3-1-11-16-11-3 0-2 7-8 13-1 6-4 8-22 10-43zM4960 2368l6 5 5 15 0 13 7 47 5 20-1 22-8 1-7-3-3-3-12-5-10-8-9 9-1 7-17-20-13-6 5-11 26-8 8-20 10-42zM4890 2488l3 10-1 21-4-3-5 0-1-3 3-17z"/><path fill="#12b1d6" d="M4507 1921l877 0 0 464-32-11-10-10-12-5-13-9-3 1-7 17 0-5-13-10-2-5-22-11-3 4-5 20 3 22-3 13-10-1-12-4-5-5-11-5-7 11-5 0-8-13-14-10-1-3 5-30-1-13-6-12-24 22-5 10 6 53 4 7-1 20-7 2-28-14-2 0-5 7-5 0-7-15 8-5 5-10 10-37-1-13-4-7 2-25 14-25 25-28 6-45 9-27-3-3-100 51-7 1-20-2-10-3-13-8-7-1-7-8-13-4-12-8-5-2-3 4-3-1-2-6-2 3-10-4-6 4-12 0-3 4 2 23 6 15 12 12 1 5-16-3-27-15-14-4-6-5-5-1-2-4-8-2-5 2-5-3-5 5-10-8-10-1-2 4 0 33 7 22-30-13-8-1-7-7-10-3-3-3-4 3-3-5-3-1-2 4-10-5-2 6-3 0-13-4-2 4-1 18 3 35-40-21-2 3-5-6-15-4-2 3-8-5-5 4-15-4-2 3-2 24 6 18 13 15 0 4-23-7-24-16-6 1-22-11-5 1-3-3-4 4-12-11-11-5-4 3-1 32-2 10-6 1-4-5-3 5-10-1-3-8-4-4-33 0zM5052 2350l3 1 7 15 6 22 3 40 4 8-1 18-20-7-14-9-6 1-4 6-6-4-6-10 9-6 4-7 16-60zM4960 2368l5 5 5 15 0 13 11 67-1 11-22-6-4-4-12-6-5 3-2 7-3 2-10-16-11-8 3-3 16-1 3-4 9-20 10-42zM4890 2494l0 7 0 5-3 1 0-11z"/><path fill="#01b8ca" d="M4507 1921l877 0 0 451-32-9-5-7-4 0-23-15-9 5-1 7-3 1-10-16-23-14-5 4-5 13 0 12-4 8 2 25-12-2-26-12-5 6-5 1-9-26-9-12-2-18-7-12-24 22-5 8 2 30 6 32-2 11-2-3-10-1-8-5-10-3-12 2-1-3 9-20 6-33 0-10-5-7 3-25 13-24 25-29 8-45 15-52 7-13 5-16-115 76-15 12-15 0-22-8-26-17-14-2-6-3-12-2-5-5-5 3-15-8-5-1-4 26 2 33-13-4-13-8-10-2-7-6-7 1-13-6-3 1-17-14-7-1-3 1-3 23 0 22-2 17-15-8-13-3-12-8-15 0-7-4-3 4-15-13-10 0-2 10 0 48-20-6-3-3-13-3-10-7-4 1-3-5-3 4-7-4-3 3-13-10-11-3-3 48 3 16-10-2-13-8-10-2-20-11-5 1-2-4-6 2-7-6-5 8-15-5-5 0-2 3 1 8-4 28-17-7-43 0zM5052 2351l2 0 8 15 5 22 3 40 3 8-1 4-2 1-30-13-10 8-2-3 19-75zM4960 2369l5 4 5 15 0 13 9 65-2 3-5-4-10-1-15-10-5 0-5 6-4 1-5-10 11-18 13-52z"/><path fill="#0bbdbd" d="M4507 1921l877 0 0 446-26-11-6-11-8-4-4 1-8-6-15-5-7 11-28-46-5 5-13 37-1 15-4 8 1 14-3 1-7-5-23-8-5 3-5-2-3-7-17-19-3-15-7-13-25 23-4 8 5 47-1 15-6-5-6 0-20-9 7-41-1-10-4-7 2-25 13-23 26-30 7-45 17-50 18-42-1-18-48 23-59 35-47 42-33-12-5-5-9-3-1-2-2 2-8-3-5-5-15-5-2 4-3-1-5-7-14-10-6-1-3 1-1 55-4 8-30-14-10 0-4-5-6 0-2-3-2 3-10-7-3 6-10-5-10 0-3 4-2 46-2 1-30-14-10 0-6-6-4 1-6-4-2 4-12-10-3 9-13-1-4 3-3 45-37-16-6 1-10-3-4 2-10-13-6 10-12-3-5 3 0 28-3 19-17-6-7-6-6 1-10-6-7 1-5-4-5 2-3-4-4 3-13-10-13-3-4 3-3 35-7 7-16-10-37-1zM5052 2351l2 1 7 14 6 22 3 38-3 3-27-12-6 1 13-58zM4960 2369l4 4 6 15 6 65-4 4-25-13-11 2 16-64z"/><path fill="#24c1ae" d="M4507 1921l877 0 0 404-22 6-10 5-5-5-14-3-9-5-13 3-2-3-1-7-24-29-7 11-7 18-9 37-4 9-3 1-24-12-8 1-20-11-5-6-2-12-4-10-4-3-25 23-4 8 2 50-8-6-18-5 0-14 3-18 0-10-5-8 2-23 13-24 26-30 8-45 12-37 23-58 1-15-3-2-50 24-62 35-55 21-7 0-24-13-6 0-8-5-5 1-3-4-4 3-3-7-3 4-2 0-8-6-2 6-12-8-10 0-3 6-1 35-2 12-2 0-15-9-5 1-2-3-13-3-10-8-5 2-5-3-3 4-2 0-18-16-10-1-2 45-2 13-3 1-7-1-18-9-5 1-7-5-6 2-10-2-2-7-2-1-2 5-4 1-12-9-10-1-8 55-22-9-2 1-8-6-2 3-13-8-5 2-5-6-5 5-15-13-10 0-2 55-3 6-20-11-5 1-7-7-3 4-5-5-10-1-2-3-6 2-10-9-4 9-10-3-10 1-4 23-11 10-1 6-10-5-37 0zM5052 2352l2 0 7 14 5 22 2 18-4 11-24-11 2-23 6-25zM4960 2370l4 4 5 14 0 13 5 37-4 5-28-13 10-47z"/><path fill="#31c69f" d="M4507 1921l877 0 0 398-7 0-20 9-3-5-7-1-5-4-21-7-17-3-20-23-10 16-14 43-6 4-7 1-20-11-7 6-15-6-5-4-7-18-6-7-29 29-1 5 1 33-4 0-2-3-15-5 1-27-5-10 2-23 13-25 26-30 8-45 12-37 23-56 0-21-20 8-65 31-70 18-22 10-40-18-1 3-9-2-8-6-5 4-15-16-8-4-7 1-1 15 2 5-3 10 1 23-6 9-18-9-8-1-12-8-5 3-7 0-10-11-3 9-13-7-10 0-2 5 0 25-2 16-6 4-12-6-8-1-7-6-7 1-13-6-5 1-5-6-10-5-4 10-13 2-2 23-4 16-2 3-10-2-5-4-13-6-4 2-8-6-5 1-3-4-2 0-2 4-10-9-3 0-3 8-7-4-10 0-3 4 2 7-2 5 2 10-4 21-2 3-13-5-3-4-10 0-14-8-3 3-7-2-8-8-2 6-16-11-17-1-3 4 2 25-9 7 0 11-3 1-1-4-13-9-33 0zM5052 2352l2 1 7 15 4 20-1 18-1-3-6 0-15-8 0-11 7-26zM4960 2370l4 5 5 13-1 13 4 22-2 8-13-4-10-6-1-3 7-35z"/><path fill="#3fca8e" d="M4507 1921l877 0 0 385-10 0-22 9-2-5-6 1-24-12-6 3-30-18-11 17-11 31-8 4-10 0-14-8-8 1-8-4-14-2-5-5-3-7-5-3-28 28-3 7 2 10-4 12-14-7-2-20-4-7 1-23 13-25 26-30 8-44 12-38 24-55 2-20-3-3-40 15-118 28-15 5-7 5-5-1-20-10-12-1-6-7-4 2-3-3-5 1-5-4-3 0-2 5-15-9-10 0-3 4 2 23-4 21-5 4-10-6-5 0-12-7-8 1-5-5-3 2-7-5-5 3-15-14-13-1-5 44 1 10-6 5-10-6-4 0-3-4-15-1-8-6-7-1-5-3-2 0-3 5-3-1-12-11-12 0-3 3-1 43-9 10-7-6-8-2-3-5-15-3-2 2-5-5-3 2-4-4-8 2-10-9-15 0-4 23 1 22-9 10-6-5-15-6-2 1-8-6-4 3-10-5-6 2-12-13-5 9-23 1-1 2-3 16-10 9 0 13-8-5-35 0zM5052 2353l8 13 2 12 0 14-18-9 5-25zM4960 2371l4 5 4 12 2 23-3 7-10-3-8-7 3-20z"/><path fill="#57cc7a" d="M4507 1921l877 0 0 368-12 3-22 9-20-9-10-9-33-6-25 43-8 1-4 2-10-2-8-7-40-11-32 30-5 8-1 10-4 1-8-6-8-15 3-25 12-23 26-30 7-42 13-40 23-55 2-20 0-4-3-1-27 10-78 14-30 3-32 7-18 7-30-15-12 0-8-3-2 2-20-18-13 0-5 40 2 8-2 5-5 5-5 0-8-5-10-2-22-10-2 5-10-9-6 6-7-5-15 0-3 35-2 7-7 6-18-8-5-6-3 3-10-6-2 3-2-1-3-5-3 3-14-12-3 0-5 11-12 0-3 3-2 32-11 7-17-8-7 0-16-7-7 0-10-8-3 8-17 1-3 7-1 27-6 8-5 2-12-8-13-4-3 2-4-5-10-1-8-5-2 5-3 0-10-9-37-1-17-19-26-20zM5052 2354l8 13 0 12-11-6 0-12zM4960 2371l4 6 4 11-1 13-3 5-12-8 2-17z"/><path fill="#72cd64" d="M4507 1921l877 0 0 363-32 0-5 2-7-1-16-8-40-5-2 1-2 10-10 21-23 10-13-12-10-1-34-12-3 2 0 15-35 33-5-2-5-10-5-3 0-16 7-16 13-17 19-22 8-45 12-37 23-55 2-23-3-5 9-20 0-5-173 43-17 6-7 5-28-14-2 3-13-6-3 3-7-5-5 3-5-1-7-6-16 0-4 42-8 7-12-4-3-5-10-4-20-3-3 1-14-14-18 0-3 24 1 18-6 10-10 2-4-4-6 0-2-4-8 0-4-5-3 3-17-7-3 4-13-10-17 0-3 11 3 10-5 26-10 6-8-6-7-1-15-10-5-1-3 3-7-7-2 5-3 1-10-9-18 0-4 43-10 9-8-6-25-11-5 3-2-6-6 6-14-16-6 12-30 0-13-14-11-6-23-17zM4960 2372l2 2 5 14-3 5-4 0-5-7z"/><path fill="#8fcb4e" d="M4507 1921l877 0 0 342-27 8-17 2-16-11-44-13-3 2 4 17-4 11-33 20-4-4-5-9-52-53 2-22 12-37 19-43 4-18 1-25 11-25 2-10-2-2-145 32-53 16-7 5-23-13-4 2-8-6-5 3-5-5-2 3-3 0-15-16-18 1-2 23 0 17-2 11-10 6-23-14-3 2-22-7-2-6-4 8-9-2-15 0-3 5-2 32-13 8-12-8-5 0-5-5-2 2-13-6-5 3-18-18-14 0-2 14-5 10 2 20-5 9-18 2-15-7-7 0-6-4-4 1-5-6-8-5-5 8-18 3-3 12 1 12-2 13-10 3-10-2-18-10-5 1-15-6-2 4-13-9-55-1-25-17z"/><path fill="#abc739" d="M4507 1921l877 0 0 316-44 24-13-10-44-13-11-6-36-79-14-25-2-7 4-33 15-37-2-5-155 35-40 6-20 0-15-7-5 0-5-4-13 1-10-9-2 6-8-5-20 0-2 4-2 40-10 4-10-7-6-1-4-4-6 1-7-6-3 3-6-5-4 3-13-10-21 0-3 37-5 8-12 3-23-8-10-2-7-6-3 5-10-8-20-1-3 3-4 36 2 10-15 1-10-7-5 0-2-3-13-4-5 0-5-4-5 5-8-6-20 0-2 3-3 38-13 7-12-8-10-2-7-5-5 1-5-4-3 3-17-17-55 0-25-4z"/><path fill="#c5c22a" d="M4507 2157l0-236 814 0-55 82-8 8-11 18-7 4-216 43-10-2-14-10-6 1-12-6-2 4-16-15-22-1 1 19-2 5-1 17-3 10-10 5-24-12-13-1-5-7-5-3-6 8-24-1-4 6 1 18-3 9-17 7-7-3-6-5-22-3-15-14-23 1-3 40-4 5-15 6-8-5-10-3-12-7-2 4-10-7-3-6-24 1 0 15-6 33-13 4-24-11-10 0-8-8-2 5-3 0-7-7-58-1z"/><path fill="#dcbd29" d="M4507 2137l0-216 812 0-59 85-218 46-25 8-15-8-5 1-10-7-3 5-7-8-3 0-2 6-8-5-22 0-3 4 1 18-2 20-4 3-12 0-15-10-13-1-7-5-5 3-8-8-27 0-2 3 2 12-2 25-21 8-4-7-20-6-3 1-7-6-6 3-4-2-26 0-2 4-2 32-18 6-12-5-3-4-13 0-10-8-2 3-30-1-3 5 1 17-3 16-15 7-12-9-10-3-3-3-3 2-10-1-14-13-40 0z"/><path fill="#f0ba36" d="M4507 2133l0-212 811 0-36 52-15 13-229 55-21 8-25-12-12-1-13-12-27 0-3 45-20 5-25-13-5 2-11-12-8 0 6 5 0 2-24 1-3 2-4 10 2 15-3 11-2 2-23-1-7-5-6 0-10-6-4 0-10-7-28 1-2 7 2 8-5 22-20 9-7-6-13-2-5-4-5 1-12-10-25 0-3 40-20 8-13-4-4-5-10 0-10-6-6 2-44-1z"/><path fill="#febe3c" d="M4507 2115l0-194 809 0-42 57-142 32-98 18-20 6-20-10-2 2-10-2-8-9-3 6-31-1-4 6 1 15-3 14-10 4-10 1-14-9-10 0-6-6-2 2-38-3-2 4 2 13-4 18-23 8-7-6-13-5-3 1-7-6-30-1-8 11-1 10 2 5-3 9-12 8-8 3-15-10-16-5-4-5-2 5-30 0-4 7-2 30-10 4-12 0-25-14-5 2-10-8-40 0z"/><path fill="#fec934" d="M4507 2097l0-176 807 0-14 21-10 9-258 63-20 7-14-8-21-4-7-6-33-1-3 4 3 12-5 20-18 7-4 0-20-10-6 1-8-8-34 0-2 23 1 10-1 4-26 7-24-12-33 0-7-2-4 5 2 13-4 13-22 10-25-11-40-4-3 4 0 28-24 10-20-10-6 0-10-9-24 0z"/><path fill="#fad62d" d="M4507 2091l0-170 774 0-149 45-125 41-23-12-7-1-7-7-36-2 2 11-3 7 1 13-2 11-15 6-7 0-10-4-23-14-37-2 1 10-3 8 2 7-6 11-27 8-20-10-40-3-2 2 1 10-3 15-26 15-17-10-26-2-20-5-2 4 0 32-2 3-16 5-10 0-22-12-32 0-50-9z"/><path fill="#f5e327" d="M4507 2070l0-149 764 0-171 50-88 23-10-1-25-13-5 2-28 0-10-2-3 3 1 13-2 6-28 13-10-2-12-7-18-1-25-7 1 8-2 5-2 15-27 15-13-2-4-5-18 0-28-7-3 4 2 22-3 5-30 10-16-5-17-1-23-5-2 3-2 21-3 6-25 10-5 0-15-8-20 0z"/><path fill="#f6ef20" d="M4507 1921l118 0 25 135-3 16-25 9-14 0-6-10-95-95zM4814 1921l342 0-114 43-45 13-17-8-33-1-17-4-3 20-30 15-10-1-3-7z"/><path fill="#f9fb15" d="M4914 1921l160 0-82 41-12-6-20 0-32-8-6-7z"/></g>
<path d="M4537 2079L4537 2480L4890 2658L5359 2523M4890 2658L4895 2668M4890 2658L4884 2667M5124 2591L5129 2601M4713 2569L4707 2578M5359 2523L5364 2533M4537 2480L4531 2489M4537 2480L4527 2480M4537 2345L4527 2345M4537 2210L4527 2210" stroke="#585858" stroke-width="7.5"/>
<!-- F13 -->
<path d="M892 3388L892 2997M1249 3566L892 3388M1714 3433L1714 3042M1249 3566L1714 3433M1124 3321L1124 2930M1482 3500L1124 3321M1535 3344L1535 2953M1071 3477L1535 3344M1357 3255L1357 2864M1714 3433L1357 3255M1357 3255L1357 2864M892 3388L1357 3255M892 3388L1357 3255L1714 3433M892 3238L1357 3105L1714 3283M892 3088L1357 2955L1714 3133" stroke="#dedede" stroke-width="6"/>
<path d="M892 3388L1357 3255L1714 3433" stroke="#b4b4b4" stroke-width="7"/>
<path d="M1357 3255L1357 2864M892 2997L1357 2864L1714 3042L1714 3433" stroke="#585858" stroke-width="7.5"/>
<g stroke-width="8.5" stroke-opacity="1"><path d="M1571 3362l0 0M1192 3465l-67-31-61-33 68 30zM1215 3459l-20-7-50-24-47-25-13-9 4-1 7 2 64 28 56 31 3 4zM1539 3366l-21-7-51-24-46-25-12-9 3-1 7 2 63 29 58 31 2 3zM1564 3358l-69-31-60-33M1428 3290l0 0M1078 3335l55 21-3-4-28-17 34 11-1-3-27-17M1108 3326l43 16-1-3-28-17M1126 3321l34 14 6 0-28-18M1142 3316l38 14-27-17M1157 3312l38 14-26-17M1173 3307l37 15-26-18M1188 3303l37 14-8-7-17-10M1203 3299l37 15 2-2-27-17M1219 3294l35 15 8 1-28-20M1234 3290l35 14 9 2-20-16 36 15 10 2-40-26M1264 3281l64 27 3-2-1-1-19-12 24 6 2-4 54 21-49-30 7 0 115 50 97 56-1 2-63-25 39 25-13-1 9 8 0 2-25-10-7 0 50 31-56-22 3 5 29 17-35-12 2 4 27 17-43-16 0 3 30 18-4 1-36-15-6 0 28 17 3 4-29-12-16-5 38 25-53-20 40 25-55-21 11 8 28 17-53-21 7 7 23 14-46-17-2 2 29 17-4 1-37-15-8-1 29 20-35-15-9-1 20 16-36-15-11-3 41 26-65-26-3 1 2 2 18 11-23-6-3 5-53-21 48 30-6 0-115-51-98-55 1-2 64 25-39-25 12 0-9-7 1-3 24 10 7 0-49-30" stroke="#4852f4"/><path d="M1435 3513l-79-34 13 10 30 18-54-21 9 8 21 12-63-25 5 5 42 24-4 1-75-32 37 25-31-11-2 1 8 6-5-1-52-21-3 1 3 2 65 37-131-56 50 30 2 2-11 0-29-12-74-35-102-53-13-8 6-4 67 28-83-48M1498 3495l-62-25 1 3 39 23-4 0-48-21-9-1 33 19 11 8-40-17-20-7 44 28-68-28 60 36M1512 3491l-61-26 8 7 40 23M1527 3487l-62-26 49 29M1542 3482l-62-26 49 30M1558 3478l-47-21-16-5 49 30M1621 3460l-75-32 12 9 41 23-59-23 11 9 34 19-58-23 1 3 41 24-3 1-47-20-9-2 49 30M1671 3412l-78-34-4-2-4 1 41 25 0 2-16-4 19 14-51-20 17 12 42 24-2 1-50-22-12-3 47 30-26-11-18-6 39 26-36-16-22-7 64 38M1200 3507l-125-59-116-62 2-2 2 1 126 59 115 61 2 1zM1132 3490l-78-36-71-38 18 6 62 29 59 31 9 6zM1106 3495l0 0M971 3427l66 32 62 32M963 3424l0 0M988 3361l47 20 4 1 4-1-41-24M1004 3356l13 4-1-3-5-3M1018 3352l32 13-23-16M1037 3347l18 5-13-7M1299 3271l16 7-10-8M1315 3267l32 12-23-15M1330 3262l14 4-7-6M1340 3260l52 21 4-1-3-2-39-22" stroke="#2d8cf3"/><path d="M1341 3540l-83-37-5 1 40 23-5 0-23-9 0 3 6 6-79-33 85 48-5 0-126-57-5 1 55 30 3 5-17-3-133-63-124-65-3-4 1-3 10 2 63 29 2-2-64-36M1371 3531l-33-14-14-4 23 14 4 5-52-23-16-5 61 35M1386 3527l-57-23 45 27M1402 3523l-46-21 6 7 30 16M1416 3518l-32-13 7 6 16 10M1431 3514l-36-15 28 17M1447 3510l-34-14 26 16M1462 3505l-26-9 19 11M1477 3501l-24-9 18 11M1492 3496l-18-8 2 4 10 6M1508 3492l-21-9 15 11M1523 3488l-22-9 17 10M1539 3483l-23-9 17 11M1554 3479l-22-8 17 9M1570 3474l-22-7 16 9M1586 3470l-22-10 4 5 11 7M1601 3465l-24-10 17 12M1617 3461l-33-14 25 16M1634 3456l-38-15 29 17M1649 3452l-35-13 26 15M1664 3447l-34-15-14-4 39 22M1683 3442l-57-24 12 9 33 18M1712 3433l-72-31 8 7 45 25-12-3-30-12 7 7 27 15M894 3387l149 70 164 88M943 3373l47 20-37-22M973 3365l7 3 3-2-5-3" stroke="#01b8ca"/><path d="M1293 3554l-85-37 59 35-31-10 6 6-94-41 11 8 92 51M1311 3549l-65-28 53 31M1322 3545l-21-8 14 10M1338 3541l-38-17 3 5 26 14M1354 3536l-33-13 26 15M1366 3533l-8-3 6 3M1383 3528l-17-6 12 7M1399 3523l-8-3 5 4M1660 3448l-9-2 7 3M1678 3443l-15-6 10 8M1692 3439l-7-3 5 4M1709 3434l-31-13 24 15M898 3386l46 19-38-21M928 3378l8 3-6-4" stroke="#57cc7a"/><path d="M1264 3562l-55-25-5 1 50 27M1273 3560l-5-2 3 2M1291 3554l-39-16 31 19M1307 3550l-23-10 17 11M1335 3542l-3-2 2 2" stroke="#dcbd29"/><path d="M1261 3563l-22-8 17 9M1287 3556l0 0" stroke="#f7dc2a"/></g>
<clipPath id="cF13"><path d="M1713 3273l-1 3-10 5-8 1-14 9-10 1-10 5-3 4-20 9-3 6-4 1-9 8-1 13-18 7-8 6-17 3-5 4-8-1-4 4-8 1-6 3-4 6-8 1-17 12-7 0-6 5-10 0-12 7-10 1-5 3-5-1-45 10-7-2-46 9-7-1-7 4-6-2-42 2-18-5-4 1-6-3-17 2-53-8-7 2-15-6-8 1-4-4-20-5-6-5-17-3-5-4-5 2-7-7-6 2-4-7-20-3-6-4-17-4-5-4-8-1-27-17-10-3-3-4-4-1-6-6-7-1-6-9-7-2-3-5-9-5-5-7-17-13-7-10-7-3-14-18-9-7-12-15 5-117 6-6 2 2 5 9 15 19 3-7 5 2 10 19 2 2 3-5 3 2 9 18 5 4 6 10 7-4 13 17 2-9 22 35 4-1 1-12 3-8 10 16 3-1 5-7 22 29 4-17 4-4 10 16 4-13 10 15 6-8 10 13 4-15 8 10 5 2 5-13 10 10 5-14 10 10 5-15 10 13 5-18 10 13 5-16 10 12 5-17 13 7 4-17 6 5 4 0 6-11 5 0 9-15 10 10 4-5 2-16 12 14 2-13 10 12 6-38 12 15 1-19 4-15 7 4 6 10 2-1 5 2 3-5 3-30 4-10 8 5 6 15 23 38 9 10 13 22 17 15 5 10 32 22 4 7 7 1 3 6 8 1 28 14 24 5 8-1 5 3 13 0 4-3 8 1 18-5 10-6 10-16 2-1 2 5 3-2 4-8 6-5 2 7 3 1 21-26 11-9 7-11 9-4 4-8 8-7 7-13 5-5 4 22z" clip-rule="evenodd"/></clipPath><g clip-path="url(#cF13)" stroke="none" fill-rule="evenodd"><path fill="#463cde" d="M882 3075H1722V3427H882z"/><path fill="#4747eb" d="M862 3055l878 0 0 390-450 0 2-30-2 0-6 3-4-2-6 4-4 25-408 0zM1413 3265l4 13 3 0 6-8-4 0-5-5z"/><path fill="#4852f4" d="M862 3055l878 0 0 390-329 0-1-38-7 1-2 20-9-18-2 2-1 26 3 7-78 0 0-30-3-2-11-2-13 1-3 4-4-2-6 5-5 16 0 10-19 0 0-30-3-1-5 5-6 26-374 0zM1139 3250l0 13 5-2 8 2-5-8zM1314 3233l-5 12 3 15 8-10 2-13zM1354 3253l2 10-1 20 2 1 7-6 6-13 7-6 4 4 3 18 13-12 4 4-1 20 2 1 25-21 3 2 0 8 2 1 10-13 4 4-2 16 3 0 10-9 4 3-1 10 12-11 4 4 1 5 3 0 4-8-4-3-8 0-5-4-5-1-8-7-4 0-13-8-5-5-8 9-1-3 1-8-2 1-2 7-10-5-3-5-7-4-6-7-22-20-3 3 2 8 6 5 7 12 16 13 0 4-9-2-10-7-4-6-10-5-3-4-2 0z"/><path fill="#465efb" d="M862 3055l878 0 0 390-305 0 0-35-3-5-5-1-3 11-3-10-19 2-2 3-1 8-2 2-4-10-4 0 0 28 2 7-63 0-1-35-7-3-8 1-5 3-3-1-24 3-3 3-3 0-2 2-2 15-2 2 0 10-6 0 0-33-6 1 0 32-5 0-1-34-10 7-4 25-2 2-372 0zM1110 3265l7 3 7-2 3 2 7-4 6 2 4-4 8 2 2-4 9-2-9-10-1-5-9-13-2 0 2 8 9 15-1 5-11-10-11-21-6-3-1 4 4 10-2 2 6 8-1 2-3-1-5-10-1 11-4 3-3 10zM1160 3232l-2 3 6 10 2 8 6 2 2-4zM1210 3207l-2 1-1 12-5-10-2-1-4 4 0 12-3 5-5-2-1-6-3 1 0 10-8 12 1 4 18-9 10-10 3-7 7-5-1-5zM1220 3200l0 11 2 0 3-6zM1317 3216l-1 7 4 10-3 0-7-11-2 23 4 16 8-11 5-12 6-5zM1333 3230l6 5 1 15 2-4 8-4 3 3 1 41 10-7 7-14 6-5 5 10 0 8 2 4 13-12 2 3 1 23 12-10 2 0 13-13 2 2 1 11 12-13 2 2 0 18 13-10 2 2 1 12 12-11 5 9 3 1 6-11-1-5 12-1 7-5 6 7 5-8-1-8-7 0-13-6-4-4-8-1-8-6-2 1-5-7-7 0-6-7-4 0-6-7-7 2-5-6-5 13-5-1-8-9-5 1 8 11 8 4 2 5 8 2 2 8-5-5-5 0-7-9-6 0-6-9-1-4-3 1-4-5-5 3-1 6-10-4-10-12-3-7-14-10 0-5-7-6-4 6 1 5 7 7 4 10 9 12-4 3-6 0-17-17-4 0z"/><path fill="#4269fe" d="M862 3055l256 0 49 148 1 7-5 20-6 1-3 5-2 1-8-9-4 2 7 18-3 0-13-23-8-5 0-55-2-2-3-30-4 0 0 12-3 3 0 12-2 3 0 12-3 3-4 30 3 17-5 12-3 1-3-3-1 8 1 14 4 8 6 3 23 1 7-4 6 1 4-3 8 2 8-7 2 2 5-5 6 0 7-6 20-11 16-20 0-5-5-8 2-15-46-77-20-58 593 0 0 390-287 0-3-22-5-20-3-3-5 5-3-5-14 4-3-1-10 3-5-1-3 3-2 11-3-9-4-1-2 29 3 7-48 0-1-37-8-4-27 6-23 0-7 6-5-4-5 33-3 0 0-32-4-2-6 2-4-3-3 2-7-1-2 19-5 15-61 0 5-32 3-5-5-8 0-7-5-3-6 2-4-2-8 2-5-3-7 6 0 4-3-12-7 6 0 5-3 2-11 45-10 0 12-47-2-15-9 2 0 6-3-11-15 15-23 50-204 0zM1071 3248l5 12 6 6 9-1-17-21zM1222 3199l-6 1 4 14 6-9zM1285 3185l-1 3 5 5 3 28 2-5 10-7 5 4-2 32 3 15 2 2 9-12 4-10 9-8 4 3-1 15 3 2 4-7 6-2 2 2 2 43 11-8 5-12 7-7 7 22 13-12 2 2 1 26 12-13 2 1 13-14 2 2 1 12 12-14 2 2 0 19 13-11 2 2 1 13 4-7 8-5 5 9 0 8 5-13 8-8 2 9 2-1 3-7 7-8 3 7 3 0 7-11-3-8-6 0-16-9-7-1-13-8-2-4-10-1-6-7-4 0-6-7-7 0-5-8-8-2-17-15-4 4-1 8-5 0-5-7-5 3-3-2-4 1-6-4-2 5-8-1-5-5 0-5-8-8-3-7-13-13-3-6-4 9 12 25 1 10-3 2-6 0-6-10-6-2-3-8-5 3 0 11-4-4-4-9-3 4-1 8-3 1-4-4 0-5zM1524 3266l-2 4 0 7 2 0 4-7z"/><path fill="#3875fe" d="M862 3055l242 0-20 130-2 5 0 10-2 5 2 30 5 8 1 7-4 4-8-9-4-11-8-4-2 0 1 13 7 7 3 10 7 5 47 4 7-3 6 1 4-4 8 2 8-7 4 2 3-5 7 0 6-6 20-9 27-35 0-4-7-3-5 2 2 9-5-4 2-5 0-10-42-72-13-38-5-7-5-18 25 0 89 108 4 15-3 5-2 30 2 2 6-3 6-14 8-9 4 4 4 30 2-5 10-8 3 3 0 32 2 5 1 13 4-3 8-10 3-10 9-7 3 2 0 19 7-8 6-3 2 2 2 45 1-2 10-8 5-12 7-7 5 9 0 10 2 4 13-13 2 2 1 27 12-14 2 2 13-14 3 16 3-7 5-3 4-6 2 21 13-11 3 14 12-11 4 8 1 9 6-14 7-7 2 9 5-9 7-7 3 8 3-1 10-16 2 13 12-16 5 4-2 9 12-19 0-10 2-3 2-10 0-45-14-40-3-35 3-17-4-5 2-4 0-16-113 112-7 21-7-8-10-2-3-5-9-6-4-7-4 5-3 9-9-4-6-7-3 4-1 8-2 0-7-10-13-13-3-10-18-22-3-1-2 1 10 32-2 15-4 3-8-8-3-7-11-7-5 2 0 7-3 2-5-17-2-17-2-5-67-80 0-3 532 0 0 390-273 0-4-45-6-2-5 1-5-5-23 6-4 4-3-2-10 4-5-1-3 3-2 11-3-9-4-1-2 29 2 7-27 0-6-42-5-2-5 2-5-2-50 10-8-2-7 4-3-2-4 2-8-5-5 2-5-2-5 3-7-2-2 21-5 15-29 0 0-32 2-13-3-7-11-3-20 0-2-2-6 2-24-3-24-7-4 2-5-6-20 19-18 35-5 15-202 0zM1124 3177l16 43 0 5-6 4-10-10z"/><path fill="#2f81fa" d="M862 3055l241 0-11 70-2 3 0 12-2 3-1 12-2 3 0 12-2 3-1 12-2 3 0 12-2 3 1 25-5 6-10-6-4 2 0 20-6 3 4 5 4-2 8 7 7 0 5 5 5-2 3 2 12 0 2 2 3-2 10 2 5-2 5 2 7-4 6 2 4-5 8 3 8-8 4 2 3-4 7-1 8-7 5 0 5-5 8-3 2-4 5-3 5-10 10-8 9-20 9-7 1-5-3-8-15-17 4-5 13 10 14 5 5 5 4 15-1 28 8-3 7-15 7-8 3 3 2 12 1 20 7-10 7-5 3 3 0 32 2 5 1 15 12-15 3-10 9-7 3 2 0 22 7-11 6-2 1 1 1 15 2 3 0 28 1-3 10-8 5-12 7-7 4 9 1 10 2 5 13-14 2 2 1 28 12-15 2 2 13-14 3 17 3-8 5-3 4-6 2 21 13-11 3 14 12-11 4 8 1 9 6-14 7-7 2 10 6-10 6-7 3 9 13-17 2 13 12-15 3 2 0 10 13-15 2 2 0 13 12-15 6 5 10-23-30-67-10-28-3-35 3-17-3-5 3-4 1-21-1-1-118 116-2 5-3 0-6-5-3-8-6-3-2-4-6-2-7-8 0 7-5 10-5-2-5-7-8-5-4 5-6 1-2-4-4 0-1 9-3 3-6-5-4-10-8-7-12-18-7 0-5 30-2 3-13-4 4-6-2-8-77-95 528 0 0 390-249 0-11-32-3-18-3 6-2-7-3 1-2-4-7 2-3-5-7 2-8 5-8 0-14 8-6-1-2 2-10 0-4 4-1 10-2-10-5 0-2 2-1 28 3 7-13 0-2-2-7-43-4-1-4 2-6-4-62 13-5-2-5 1-5-3-7 4-6-3-7 2-5-2-5 3-7-2-3 2-3 31-2 4-4 0 0-30-8-24-8-3-2 2-36 0-4-3-8 2-18-3-4 1-8-4-5 1-5-4-8-1-2 2-5-6-21 20-18 35-5 15-201 0z"/><path fill="#2d8cf3" d="M862 3055l232 0-35 138-2 25-7 13-16-12-2 1 5 13-5 13 2 2 6-1 17 11 5 0 5 5 10 1 5 4 5-2 3 2 12 1 2 2 6-2 7 2 7-2 3 2 7-5 6 2 4-4 8 2 8-7 4 2 3-5 7 0 8-8 5 0 5-5 8-2 2-5 5-3 5-10 10-8 3-7 4-3 3-10 10-9-4-11-13-17 2-3 13 9 14 6 6 8 2 12 0 28 12-10 3-10 7-7 5 14 1 21 2-1 5-9 7-5 3 2 0 32 2 5 1 15 12-15 3-10 9-7 2 2 1 23 7-12 6-2 1 1 0 15 3 3 0 28 6-7 6-4 5-12 6-6 7 24 13-15 1 2 2 28 12-14 2 1 13-14 3 17 4-8 4-3 4-6 2 22 13-11 3 14 12-11 1 5 3 2 1 10 6-15 7-6 2 9 6-10 6-6 3 8 3-1 10-15 2 12 12-15 3 13 13-15 2 14 12-14 3 4 4 0 11-20 4 7 2-2-38-75-3-13-7-15-2-35 2-17-2-5 2-3 2-25-52 42-76 71-20-15-6-10-24-26-3 6 0 12-3 5-8-8-3 4-13-2-1 9-3 1-13-18-12-6 0-7-5-8-60-60 500 0 0 390-236 0-15-42-1-10-16-5-2-4-8 0-10 6-2-2-8 6-28 7-2 3-10 0-5 4 0 8-1-8-4-2-5 4 0 18-7-18 0-12-3-3-7 3-6-5-15 2-25 9-4-2-6 4-12 2-8-1-4-4-8 4-8-2-4 4-3-2-7-1-3 2-5-2-5 2-7-8 0-11-3-4-7 2-8-2-5 4-5-2-2 2-36 0-4-2-8 2-5-4-5 2-8-2-4 1-8-4-5 1-5-4-10 1-5-6-22 21-18 35-5 15-46 0 30-72-1-23 5-15-3-3-4 1-4 20-3 2 2-25-6-5-2 2-4 18-4 2 5-24-7-5-4 22-3 5 1 5 4 0-24 49-26 46-13 0 50-102 5-5 2-23-8 20-74 110-68 0zM1057 3338l-3 20-5 5 1 3 5-6zM1562 3356l-2 3-1 11-2 2-5-9-3 0 0 5 10 10 13 21 2-1 0-8-5-15 0-12zM1012 3223l-2 2 1 5 9 4 0-4-3 0z"/><path fill="#2797eb" d="M862 3055l215 0-58 118-15 12-8 10 4 18 8 17 9 3 5 7 2-2-3-3 1-4 11 17 7 0 4 5 18 6 5 4 10 1 5 4 5-1 3 2 12 0 2 2 6-2 7 2 7-2 3 2 7-5 6 2 4-4 8 2 8-7 4 2 3-5 7 0 8-8 5 0 5-4 8-3 3-6 5-2 4-10 10-8 3-7 7-8 0-5 10-7 0-7-17-23 2-2 13 9 17 8 5 15 0 31 13-11 2-10 7-7 5 14 1 22 7-11 7-5 2 2 0 32 3 5 1 16 13-16 2-10 9-6 3 24 6-10 8-3 0 15 3 3 0 28 4-6 8-5 5-12 6-6 7 24 10-12 4-1 2 28 12-14 2 2 13-15 3 17 4-8 5-3 3-5 2 21 13-11 3 14 12-10 0 4 4 2 1 10 4-2 0-8 9-11 2 10 12-17 2 8 4-1 10-15 2 13 12-15 3 13 13-15 2 13 12-13 6 5 2-2 10-20 2 2 0 11 6-8-12-20-28-55-2-13-7-15-3-35 2-5 1-12-3-5 2-3 2-22-2-13 200 0 0 390-127 0 0-5-30-70-4-15-5-3-10 0-4 4-1 14-2 2-5-10-3 1 0 5 10 10 18 30 15 37-76 0-18-55-11-7-5 0-1-5-9-1-5 5-10 3-5 4-2-2-8 6-28 7-2 3-10 0-5 3-6-3-4-11-3 2-4-1-6-6-7 4-3-1-4 3-17 2-3 4-8 0-8 4-4-2-6 4-10 0-4-6-6 3-7 0-5 4-8-2-4 4-3-2-12-1-3-22-2-3-16 2-4 4-8-2-5 4-5-2-2 1-18 0-5 2-7-2-6 2-4-3-8 2-5-4-5 2-8-2-4 1-36-13 5-24-2-4-10 1-5-4-10 1-10-3-5-4-7 1-3-5-7 0-13-5-5-7-8-1-7-6-5-1-4-6-6-1-10-7-5-7-7-3-6-7-12-8-2 1-3 24-8 11-87 86zM1500 3308l-5 5 2 26 4-19zM1512 3317l-3 3 3 10 0 30 0-12 3-5-1-25zM1530 3326l-5 2 2 37 0-12 3-5zM1544 3334l-2 1 0 17 2-2zM1242 3055l272 0-2 4-75 49-45 44-13-9-11-13-6-12-8-5-4-10-8-5-13 0 5 7 0 8-8 7-4 15-2 1-10-4-8-17zM1000 3203l4-7 6-2 4 4 3 7-7 5-6 0zM1090 3369l1 16-17 31-1-6 10-35z"/><path fill="#23a0e5" d="M862 3055l202 0-39 48-35 73 0 16 2 3-3 5 7 5 5 15 6 10 10 4 5 7 5-1 5 8 8 1 4 5 18 5 5 5 10 0 5 5 5-2 3 2 12 0 2 2 6-2 7 2 7-2 3 2 7-4 6 2 4-5 8 2 8-7 4 2 3-5 7 0 8-7 5-1 5-4 8-3 2-5 6-3 4-9 11-9 3-7 4-3 3-10 9-7 0-8-17-22 2-2 13 9 14 6 5 7 3 10 0 32 13-12 3-10 6-7 5 14 1 22 7-11 7-5 2 2 0 32 3 5 1 16 13-16 3-10 8-6 3 25 5-10 8-4 1 15 2 3 1 28 6-7 6-4 5-12 6-6 7 24 8-10 6-3 2 28 12-14 2 2 13-14 3 17 4-9 5-3 3-5 2 21 13-9 0 11 5 1 8-7 4 2 3 20 2 4 0 32 3 4 2-4 1-32 2-5 0-10-6-5 6-11 3-2 2 9 12-17 3 10 7-7 6-10 2 12 12-14 3 12 13-13 0 11 6 2 1 26 1-16 4-20 2-2 6 3 2-2 10-20 2 14 6-10-12-20-27-55-3-13-7-15-3-35 3-10 0-10-2-2 4-20-1-18 198 0 0 390-126 0-14-45-11-52-2-3-7 0-3-10-3 13-2 2-8 0-5 5-1 15-2 0-4-8-4 1 0 5 10 10 18 30 15 37-56 0-21-50-9-10-5-1-1-4-6-2-3-5 0-8-8 2 0 6-10 3-5 6-10 2-5 4-2-1-8 6-28 6-4 4-10-3 0-10-11-2-5-4-4 3-6-3-4 4-3-2-5 4-8 1-2 3-10 1-2 4-8 0-8 4-4-2-6 2-2-7-5 4-7-3-6 5-7-1-5 4-8-2-4 2-4-27-6-3-6 5-4-2-8 4-8-1-4 4-6-2-24 4-8-2-5 4-7-2-8 1-2-2-8 1-5-4-7 2-10-5-3-7-4 0 2-28-3-2-12 2-3-3-7 2-6-3-7 2-5-4-2 2-7-1-11-5-2-5 0-12 3-3-1-20-3 35-7 3 4-40-6-6-30-11-6-7-4 0-10-6-2 37-6 1-2-6 2-2 2-33-3 8 0 22-2 5-6 0-6-7-8-3-5-7-21-18-3-7-8-3-8-10-3 33-14 20-55 55zM1437 3338l-5 2 0 10 2 3 0 23 1-11 2-5zM1502 3306l-8 4 3 45-3 10 3 5 4-12-1-30 2-5zM1514 3315l-4 2-1 11 2 2-1 28 2 4 4-17zM1530 3324l-6 3-1 6 4 33 4-18zM1544 3332l-3 3 1 21 3-6zM1577 3271l-5 3-3 6 1 9 2 4 0 32 2 3 3-5 0-33 2-7 0-10zM1592 3275l-5 5 3 45 3-5-1-30 3-12zM1607 3273l-5 4 0 11 3 7-1 28 3-5 0-28 2-12zM1624 3284l-4 2-1 24 3 5 0 8 5 5 0-3-5-5zM1287 3055l195 0-90 60-18 17-3-2-9-14-8-6-4-10-5-5-23 0-15-20zM1007 3196l4 2 3 7-7 4-4-1 2-3-4-2z"/><path fill="#1ca9df" d="M862 3055l202 0-40 48-33 65-2 12 0 13 2 2-4 5-7-9 4 14 8 10 12 10 6 8 7 1 5 8 5-1 5 8 8 0 4 5 18 6 5 4 10 1 5 4 5-2 3 2 12 1 2 2 6-3 7 3 7-3 3 2 7-4 6 2 4-5 8 2 8-7 4 2 3-5 7 0 8-7 5 0 5-5 8-3 2-4 6-4 4-9 11-9 3-7 4-3 3-10 9-7 0-8-17-22 2-2 13 10 14 5 5 7 3 10 0 33 13-13 3-10 6-7 5 14 0 23 8-12 7-5 2 2 0 32 3 5 1 16 13-16 3-10 8-6 3 25 5-10 8-4 1 15 2 3 1 29 6-7 6-5 6-12 5-5 4 7 0 10 3 6 14-13 2 29 12-15 2 2 13-14 3 17 4-8 8-6 1 17 4 2 7-8 2 1 1 8 5 2 0 25 2 5 0 13 3-1 2-4 0-28 2-15 3 0 3 20 2 3 2 55-9 2-5 6-10 3-5 4-2-2-8 5-12 3-8 4-10 1-4-14-6-1-2 1-3-6-10 0-7 5-13-1-5 7-8 0-2 4-10 0-2 4-16 3-2-7-12 1-3 4-7-3-6 5-7-1-5 3-3-13-1-15-4-6-7 6-7-3-6 7-4-2-8 4-5-2-7 3-3-2-27 6-8-2-5 4-5-2-8 2-4-3-8 0-1-7-5-5 2-33-6-2-32 5-3-2-7 0-3-2-8-1 2-8 3-35-20-5-10 2-4-4-6 2-4-5-8-1-5-4-17-6-6-7-4 0-15-12-3-5-8-3-20-20-1 3 0 20-3 3 0 17-3 0-6-7-7-3-4-9-9-3-3-8-10-10-1-5-7-4-8-9-3 8-3 28-44 44zM1420 3315l-3 3 0 25 3 2 1-5 0-22zM1437 3337l-5 2-1 4 3 35 4-18zM1452 3349l-3 4 1 13 3-1zM1289 3055l167 0-69 35-27 21-3-1-5-10-8-6-22-1-14-18zM1542 3055l198 0 0 390-92 0-53-105-3-32 2-35-7 5-1 27 3 5 0 15-12 7-2-2 2-5 1-37 2-3 0-17-9 5-2 15 2 5 3 55-10 2-5 5-2 16-5-10-2 0-2 4 25 38 18 42-36 0-27-55-8-9-6 1-2-17 3-5 2-17-3-29-5 4 2 27-1 4-6 1-4-5 2-40-8 4 0 26 2 5 0 18-12 7-2-2 0-8 3-5 0-32 2-3 0-17-3 2-3-2 5-10 4-3 2 10 12-17 3 9 13-15 0 8 4 3 10-13 1 8 6 12-2 28 3 8 3-13 0-30 5-4 4 1 2 63 4 5 2-63 2-3 1-12 2-1 3 2 11-16 1-6 2 15 7-11-13-20-27-55-3-13-7-15-2-35 2-10 0-10-2-2 4-20zM1610 3271l-8 4 0 15 2 5-1 25 1 4 4-4-1-32 3-3zM1624 3282l-5 3-1 25 3 5 0 8 6 6 3-1-7-8zM1660 3302l-1 3 30 60 13 14 1-1-17-40zM1530 3323l-6 3-2 7 3 32 2 2 4-17zM1544 3330l-3 5 1 21 4-6zM1007 3197l3 0 2 6-2 5-5 0 1-3-4-2zM992 3202l6 8-1 4-7-9z"/><path fill="#12b1d6" d="M862 3055l201 0-40 48-32 65-3 12 0 13 2 2-3 3-4-8-11-10 0-5-1 13 14 22 9 6 16 18 7 1 5 7 5 0 5 7 8 1 4 5 18 5 5 5 10 0 5 5 5-2 17 4 6-2 7 2 7-2 3 2 7-5 6 2 4-4 8 2 8-7 4 2 3-5 7 0 8-8 5 0 5-5 8-2 2-5 6-4 4-9 11-9 3-7 4-3 3-10 10-7 0-8-17-22 1-2 13 10 14 5 5 7 2 10 1 33 13-13 3-10 6-7 2 12 3 2 1 23 7-12 7-5 2 2 0 32 2 5 2 16 13-16 3-10 8-6 3 25 5-9 8-5 0 15 3 3 1 29 6-7 7-5 5-12 5-5 3 7 1 10 3 7 13-14 3 29 12-14 2 2 13-14 3 17 7-10 5 0 1 12 4 5 0 30 3 7 2-1 2-6 0-27 3-4 4 1 2 63 4 6 3-61 4-13 2 20 2 3 3 55-9 1-5 7-15 6-12 1-5 5-5-1-8 5-2-2-1-15-12 0 0-5-10-1-5 4-4 0 3-8-1-22-2 2 0 23-14 9-7 0-5 7-8 0-2 4-10 0-2 4-8-2 0-4-5-1-10 4-7 0-3 4-7-2-6 3-2 0-5-37-10 5-5 0-5 7-7-2-6 6-4-2-8 2-2-2-8 4-5-2-5 4-10 0-12 4-8-2-5 3-10-3-3 1 5-55-5-1-4 3-8 0-5 5-20 1-3 2-12-2 2-33 3-12-5-4-10 3-2-2-6 2-10-2-4 2-6-3-10 2-4-4-6 2-4-5-8-1-5-4-17-6-6-7-4 0-14-11-4-6-9-4-26-27-3-8-7-2-5-6-2 1-3 42-3 1-15-16 0-5-13-10-3-7-19-21-32-1zM1390 3294l-6 9 0 25 3 6 5-6-1-33zM1404 3313l-2 4-1 33 3 3 0 13 2-3-1-20 2-5 0-24zM1422 3313l-5 2-2 40 3 3 2 14 1-2-1-25 3-2zM1437 3336l-5 3-2 4 4 36 4-16zM1452 3346l-4 9 0 10 4 2zM1292 3055l74 0-15 28-1 7-3 3-3-2-20 0zM1543 3055l197 0 0 390-82 0-50-97 0-15-2-5 3-8-1-32 2-5 0-13-9 5 3 33-4 6-7-4 2-37-9 5 3 47-2 2-7 0-3 5-1-2 2-5 0-35 2-5 0-18-6 4-3-1 10-15 1-5 2 14 7-14-12-17-27-55-3-13-7-15-3-35 3-10-1-12zM1624 3281l-4 3-2 6 0 23 2 2 0 8 7 7 4-2-8-8 0-22 3-5zM1657 3300l0 5 30 60 20 21 1-3-20-40 0-5-6-5-20-32zM1670 3207l-8 11 0 14 3 6 0 32 2 4 3-6zM1567 3270l3 3-2 15 3 5 2 55-9 1-6 6-1 15-5-9-5 2 0 5 10 10 15 25 18 42-23 0-27-54-13-16 5-25 0-25-4-5 2-37 2-4 2 1 5 10-1 33 3 5-1 25 2 4 4-7-1-30 3-7-1-30 3-3 3 0 3 63 4 6 1-1 2-63 2-2zM1520 3275l2 22 3 3 1 23-6 10-3 0-3-19-4 2-2 9 3 5 0 15-1 2-8 0-1-19 2-5 0-18-8 3-2 2 0 25 3 5 0 18-12 6-1-6 2-5 2-56-5 2 0-4 8-10 0 8 2 2 2-1 5-11 5-4 1 6 2 4z"/><path fill="#01b8ca" d="M862 3055l200 0-39 48-33 65-6 22-10-10-2-7-7 7 2 9 19 24 8 4 16 18 5 0 5 7 6 1 6 7 5 0 30 15 8 0 7 5 5-1 17 3 6-2 7 2 7-2 3 2 7-5 6 2 4-4 8 2 8-7 4 2 3-5 7 0 8-8 5 0 5-5 8-2 4-7 5-2 3-8 11-10 3-7 5-3 2-10 10-7 0-8-15-20 2-1 20 12 4 0 5 7 2 10 1 33 13-13 3-10 5-3 1-3 2 11 3 2 1 23 7-11 9-4 0 35 2 2 2 16 13-16 3-10 8-6 3 25 5-9 8-5 0 15 3 3 1 29 13-12 5-12 5-3 3 5 1 10 3 7 13-14 3 29 12-14 2 2 13-13 3 26 4 5 0 19 2-29 4-14 0 6 6 8 0 32 2 5 0 28 2 4 4-2 1-62 5-3 1 28 2 5 0 30 4 6 2-1 2-60 2-3 1-10 2 20 2 5 2 53-8 1-5 6-10 2-5 4-10-1-8 6-4-1-4-15 0-20-5-10 3-2-2-30-6 2 0 33-4 6-5 1-2-10 3-7-1-26-3 0-2 3-2 35 2 3 3 20-11 0-4-28 0-12 2-5 0-37-5 4-3 8 3 70-13 9-7 0-5 7-8-1-2 5-12-2-1-3-5-3-4 5-26 6-4-13 0-20-3-7-7 4-6 0-7 7-5 0-5 6-7-2-6 4-2-4-5 4-10 0-5 4-5-2-5 4-10 0-14 4-11-2 0-10 5-5 2-43-6-2-8 4-6 0-4 4-8 0-5 5-13-1 3-52-3-1-4 4-10-1-6 4-4-2-8 4-2-2-8 2-8-2-4 2-6-3-7 3-7-5-6 2-4-5-7 0-6-5-16-5-4-6-7-2-13-10-5-7-8-3-26-27-4-9-9-4-5-12-5-3-3-8-12-10-3 48-3 1-7-6-3-7-20-23-32-1zM1342 3322l-3 6 3 25 3-5-1-25zM1437 3334l-7 6-2 5 3 10 0 23 3 3 3-3 2-15 0-25zM1543 3055l197 0 0 390-71 0-52-102-4-43-5-10 3-7-1-14-9 6 2 30-3 7-7-2 1-39-8 7 2 47-4 2-6-2 3-57-9 2 10-15 0-5 2 15 8-15-18-27-22-46-10-27-3-35 4-10-1-12 2-5zM1620 3224l-6 11 0 8 3 1 2-1 2-8zM1624 3280l-4 3-5 10 0 20 3 10 9 9 3 0 1-4-7-10 0-20 2-5zM1632 3195l1 25 3 5-4 8 0 8 4 7-2 20 3 38 1-13 3-3-2-32 2-10 0-20 7-5 1-13-5-7zM1652 3271l-3 2 2 2 1 18 1-13 2-5-1-4zM1657 3300l-1 5 34 67 17 17 2-6-20-45-6-5-21-33zM1670 3205l-9 13 1 15 2 2 0 35 3 5 0 18 10 7 0-20-9-2 3-8-1-42 2-5 0-17zM1567 3270l3 5-2 8 2 12 3 53-9 0-7 7 0 12-5-7-6 3-1 5 10 10 15 25 18 42-16 0-33-70 0-17 3 1 5-9 1-67 4-3 1 3 2 60 5 7 1-2 0-25 2-3 1-35 2-2zM1517 3278l4 5 0 15 3 2-1 28-6 4-1-17-2-2-4 1-2 11 2 5 0 15-8 1-1-18 2-5 0-18-1-2-7 5-2 27 2 5 0 18-11 5 4-63-1-4-5 2 0-3 8-8 2 9 2-1 7-12 3-2 8 26zM1534 3281l5 12-1 17-4 14-4-11 2-3 1-27z"/><path fill="#0bbdbd" d="M862 3055l198 0-58 74-15 12-27 12-8 7 3 10 9 18 8 7 12 18 18 15 2 10-3 7-7-2-3-5-22-20-5-10-8-3-6-12-4-3-3-10-10-7-16-26-2 1-3 55-18-19-32 0zM1543 3055l197 0 0 371-13-18-38-110-3-33-4 10-5-1-5 4-1-3 1-70-3 0-8 10 3 58 2 2 0 18 11 10 10 30-4 0-21-34-6 1 0 5 32 63-1 1-10-9-33-21-18-19-2-20 3-15-2-35 2-4 0-18 3-3 2 3 0 15 2 2 1 60 2 2 2-2 0-12 2-3-1-37 3-3 0-22 1-2 5 12-1 35 2 2 1 18 2 0 0-13 3-5-1-37 2-8 0-36-6-11-67-58-35-42-5-10zM1687 3214l-7 6 2 10-1 28 3 1 2-4-1-25 2-5zM1698 3183l-5 5 1 12 3 0 2-7zM1544 3109l56 84 15 27-3 20 4 5 1 25 2 5-1 13-8 4 1-22-1-2-8 5-2 15 3 5 0 15-3 4-6-1 2-38-2-2-7 4-2 5 2 46-8-1 2-57-1-2-6 4 0-2 8-12 3 14 8-20-13-20-34-72-6-28 0-15zM1600 3238l-1 5 2 2-3 3 2 11 4-16-2-5zM1078 3283l2-10 4-3 20 3 5-3 8 3 5-3 5 2 7-4 6 2 4-5 8 2 7-7 5 2 3-5 7 0 8-8 5 0 5-4 8-3 9-9 3-8 12-10 2-7 5-3 3-10 9-7 0-8-12-17 3-1 10 7 10 3 5 6 0 7 2 3 1 33 14-13 2-10 5-3 1-3 2 11 2 2 1 23 4-3 4-8 8-4 1 35 2 2 2 17 13-17 3-10 8-5 3 25 7-12 6-1 0 13 3 3 1 30 13-11 7-15 6 3 0 10 4 7 13-14 1 27 2 3 12-14 2 2 10-12 3 0 2 26 3 3-1 30-4 5-4-3 0-27-6 0-2 2 1 33-9 6-1-9 2-5-1-29-3 0-3 4 0 30-9 5-2-5 0-12 3-5-1-38-8 10 2 73-12 8-7 0-5 7-10 1-2-1 0-10-3-3-3 1 0 7-2 2-8 0-4 4-6 0-7 4-7-3-3-40-10 2-7 7-6 0-7 7-5 0-5 5-4-1-1-2-2 2-10 0-3 5-10-1-5 5-5-2-5 4-15 2-7-3 0-7 4-10 6-3 3-50-6 4-10 1-5 7-35 11 5-58-5-2-10 7-5 0-2 5-10-1-6 5-4-3-8 5-2-3-8 3-8-3-5 2-5-3-4 1zM1342 3322l-4 6 4 38 2-1-1-12 2-5 0-25zM1372 3332l0 13 2 0 1-12zM1567 3271l2 4-2 3 0 12 3 5 0 33 2 2 0 18-10 0 2-60 3-5zM1552 3280l1 10-3 6-1-13zM1502 3283l7 12-1 33 2 2 0 16-8-1 2-40-2-2-6 0zM1520 3282l1 16 2 2 0 23-1 6-5 2-2-26 2-2 1-20zM1534 3282l4 8 0 20-6 4zM1487 3289l3 0 2 14 3 2-2 5 0 25 2 5-1 18-10 4 5-62-2-4-3 2-1-3zM1442 3292l4 8-1 33 2 5 0 27 4 5 0 13-1 0-11 0 2-23-1-62zM1460 3300l2 63 5 7 2-2 2-58 3-6 3 16 1 33 2 2 0 18-8 0-8 7-10 1 2-78zM1552 3309l0 36-2-5zM1554 3344l4 6-4 11-1-3-1-13z"/><path fill="#24c1ae" d="M862 3055l165 0-77 78-6 10 0 7 5 13 14 25 16 20-2 12-6-2-6-10-8-3-6-12-5-3-3-10-10-7-13-25-16-21-3 13 0 33-3 10-36-1zM1544 3055l196 0 0 319-46-94-2-32-7-5 2-30-8 7 2 25-3 5 0 8-3-8-4-2 1-44-5 2-6 9 2 58 3 2 0 18 10 10 8 20-1 5-4-3-17-26-7 1 0 5 30 60-41-27-16-20 0-35-3-30 5-27 1 17 2 2-1 38 2 5 1 17 4 8 16 15-3-8-12-12 3-80 3 0 0 7 3 3-2 35 3 2 0 18 2 1 2-1 0-13 2-2-1-40 3-8 0-37-5-10-10-10-49-39-11-11-10-15-25-28-4-7zM1694 3183l-3 5 0 10 3 5 0 22 3 3 0 12-2 5 2 2 1-12 2-2 0-35 2-5 0-13zM1107 3273l10 1 5-3 5 2 7-4 6 1 4-5 8 2 8-6 4 1 3-5 7 0 8-7 8-1 2-4 8-3 9-9 3-8 12-10 3-7 4-3 3-10 9-7 0-8-12-17 3-1 6 4 14 6 5 6 0 7 2 3 1 33 14-13 3-10 4-3 1-3 2 11 2 2 2 23 3-3 3-7 9-5 1 35 2 2 2 17 14-17 2-10 8-5 3 25 7-11 6-1 4 46 3 1 3-7 4-3 1 5 6 5 1 4 2-30 6 1 0 10 4 7 13-13 1 26 2 4 12-14 2 10 6-15 5-5 4 25 2 3 0 30-4 4-3-2-1-27-1-2-5 1-3 3 1 33-8 5 1-40-4-2-3 4 0 30-9 4 0-60-9 11 3 73-12 8-7 0-5 5-5-1 0-12-2-3-5 0-1-10-6-5 2-5-1-29-2 0-4 7 2 12 1 25 3 5-2 14-8 0-4 4-10 0-3-38-2-5-3-1-12 8-3-1-7 8-6-1-7 7 1-5-4-1-4 6-8 0-2 4-10 1-3 4-10 0-5 4-5-2-8 4-9-2 0-8 7-10 5-2 5-58-4 0-9 7-4 1-6 6-7 0-5 7-20 5 0-59-5-1-5 6-8 0-7 7-5 0-2 5-10 0-6 4-4-2-3 2-15 0zM1372 3330l-1 15 3 1 1-13zM1614 3244l5 39-2 6-7 2 1-8-1-33zM1580 3260l2 1 1 12 3 2-1 33 2 2 0 15-7 0 2-57-5-3zM1597 3258l4 5-1 27 2 5 0 13-5 3-3-1 0-20 3-5-2-25zM1520 3282l0 16 3 5-1 25-5 1-1-21zM1534 3283l4 10-1 17-3 1zM1487 3290l3 5 0 8 3 2-1 33 3 5-1 14-7 3-2-2 2-5 0-33 2-5 0-15zM1442 3292l4 8 0 18-4 5-2-8zM1504 3292l4 3-1 33 3 5 0 12-3 1-5-1 0-19 2-6-1-25zM1567 3291l1 37 3 5-1 13-3-1-3-17zM1460 3301l0 12-3 4-1-14zM1472 3310l0 5 4 5 0 30 3 8 0 12-2 2-6-2z"/><path fill="#31c69f" d="M862 3055l163 0-75 76-7 12 0 7 6 23 7 5 4 10-3 10-10-9-3-9-10-7-14-25-10-13-6-15-42-44zM1544 3055l196 0 0 287-28-54-8-10-3-18 1-35-2-7 2-40-6 2-5 8 0 10 3 5 0 22 2 3-2 14-8 1 1-32-8 9 2 25-9 4-1-19 2-5 0-20-3-1-10 11 5 78 10 10 8 22-1 3-20-30-7 2 0 5 26 53-1 1-12-14-2-7-16-25-2-10 1-8 5-2 0-12 2-3 0-40 3-8 0-37-6-10-10-10-59-50-40-50zM1124 3275l10-5 6 1 4-5 8 2 8-7 4 1 3-4 7-1 8-7 8 0 2-5 2 0 15-12 3-8 12-10 3-7 4-3 3-10 10-7-1-8-12-17 3-1 16 10 4 0 4 6 3 10 1 34 14-14 3-10 5-3 0-3 2 11 2 2 1 23 5-3 3-8 8-4 1 35 2 2 2 17 14-17 3-10 7-5 3 26 4-3 3-8 4 0 0 10 4 3 0 27 5 8 0 30 2 5 1 9 1-19 2-5-1-20 5-4 2 1 1 50 4 2 3-74 3-3 0 10 4 8 13-13 0 25 5 10-2 35-9 3 0-15 3-5-2-39-9 11 2 73-11 7-11 0 0-10-5-2-1-13-5-2-8 2 2-5 0-27-4-3-5 5 0 8 3 7 0 25 3 5-1 13-13 2-4-52-8 5-3 4-14 9-3-1 0-5 7-2 4-8-4-1-4 5-3-1 0-38 3-10-3-38-4 8 0 30 4 13-2 50-5 5-6-2-10 2-4 7-8 0-2 4-10 0-3 5-10-1-5 5-10-2 0-13 5-7 8-1 4-65-2-1-10 8-7 3-6 7-4 0-6 6-7 0-5 7-10 1 4-63-11 2-3 5-5 0-5 7-8 0-7 6-5 1-2 4-10 0-6 3-3-3zM1630 3227l3 26-6 4-1-7 2-2zM1644 3227l1 8 3 3-1 7-3-2zM1614 3245l4 38-1 5-7 2 2-7-1-33zM1597 3260l3 3 0 27 2 5 0 11-5 4-2-2 0-15 2-5zM1427 3285l1 20 2 3 1 22-1 8-3 3-3-1-2-32zM1582 3286l2 22 2 5-2 12-3-2zM1534 3290l3 3 0 15-3 1zM1412 3293l3 55-8 4 2-39-3-5 3-13zM1442 3295l3 8 0 15-3 3zM1520 3299l2 4 0 22-2 3-3-17zM1490 3317l0 21 2 5 0 12-2 3zM1504 3324l4 9-1 12-3-2z"/><path fill="#3fca8e" d="M862 3075l0-20 161 0-68 68-21 15-2 7 12 20 0 11-4 0-5-3-14-25-10-13-6-15zM1544 3055l196 0 0 166-38 1-2-22 3-5-1-18-5 2-7 6 0 13 3 5 2 37-8 3-1-15 3-5-2-13-5 3-4 7 3 25-9 4 1-44-3-2-10 12-1-7 3-15-18-20-60-50-10-15-25-28-4-10zM1234 3162l10 7 10 3 4 6 1 7 2 3 1 34 14-14 3-10 5-3 0-2 1 10 3 2 2 24 4-4 3-7 8-5 1 35 2 2 2 17 14-17 3-10 7-5 3 41 3 14 0 28-6 10-4 1-3-3-2 2 2 2-5 0-5 7-2-2 2-7-5 5-8-1-5 6 1-88-3 0-5 10 2 85-3 5 3 3-4 3-3-2-5 3-8 0-4 7-8 0-2 5-10 0-3 4-10 0-5 3 0-18 5-1 3-7 7-4 4-66-1-1-6 5-10 4-5 7-9 4-6 7-4 0-6 6-10 1 5-60-2-10 3 2 13-20 7-4 7-13 4-3 3-10 10-7 0-8-12-17zM1327 3264l-5 9 2 52 3-2-1-23 3-7 0-28zM1630 3228l2 25-5 3zM1660 3233l2 5 0 35 2 3 1 17 9 10 8 23-18-26-9-5 2-17 0-40zM1614 3247l1 26 2 2-1 13-4 0-1-35zM1189 3250l-7 7-8 2-2 5-5 0-5 7-8 0-7 7-11 2 1-5 7-8 8 1 8-6 4 1 4-5 6 0 8-8zM1350 3262l2 0 0 28 4 8 0 30 3 5 0 17-2 2-7 0-6 4 2-8-1-43 2-5-1-32zM1380 3271l0 9 4 10 10-13 3 0 0 23 4 10-1 36-8 2 2-58-2-2-6 5-4 10 3 70-11 6-2-1 0-15-8-3-1-60 1-4 4-1 2 50 2 3 5-3-1-45 2-5zM1427 3291l1 14 2 5 0 25-3 6-3-1-1-32 3-5zM1412 3295l3 50-3 5-2 0-1-42 2-3zM1442 3297l3 3 0 18-3 2zM1316 3340l-17 10-1-5 6-1 6-8z"/><path fill="#57cc7a" d="M862 3055l112 0-40 45-7 13-3 20 2 10 7 7-1 8-2 1-18-24-6-15-8-10-36-36zM1546 3055l194 0 0 165-30 0-8 2-1-22 2-5 0-17-6 0-15 14 2-22-10-4 4 9-3 5 1 10 4 5-2 30 2 5 0 16-8 2 2-43-2-2-7 0 1-15-26-20-54-45-39-50zM1234 3162l10 8 10 2 4 6 0 7 3 3 1 34 14-14 3-10 5-5 1 10 3 2 2 24 4-4 3-7 8-5 0 35 3 2 2 18 14-18 3-10 7-4 3 42 2 2 0 40-9 7-2-2 2-62-3-1-6 11 3 47-12 12-8 0-4 5 0-87 0-2-4 2-5 10 3 88-12 9-8 0-4 7-8 0-2 4-10 0-6 4-3-2-1-17 8-5 4-70-5 0-3 5-10 4-2 5-12 7-6 6-7 1 2-68 5-13 6-3 12-17 2-9 10-8 0-8-12-17zM1314 3290l-5 3 2 2 1 23 3-13zM1690 3199l2 4 1 22 2 5 0 10-3 1-5-1 2-17-1-20zM1188 3250l-6 6-7 2 7-8zM1164 3264l-2 6-12 0 10-7zM1352 3263l0 27 3 8 1 32 2 3 0 15-1 3-7 0-5 2 1-45 2-8-1-35zM1380 3273l0 7 3 8-2 40 3 7 0 35-4 3-3 0 0-45zM1394 3278l2 22 4 10 0 35-8 0 0-10 2-5 0-37-2-8zM1367 3295l1 10-4 4 0-11zM1424 3305l3 0 2 5 1 25-3 4zM1315 3340l-15 9-1-4 5 0 6-8z"/><path fill="#72cd64" d="M862 3074l0-19 111 0-45 53-5 12-2 18-1 2-7-5-7-15-7-10zM1558 3055l182 0 0 164-30 0-8 2-1-21 2-5 0-17-1-2-11 4 3-20-44-36-70-50zM1234 3163l16 9 4 1 4 5 0 7 3 3 1 34 15-14 2-10 5-4 1 9 3 2 2 24 4-4 3-7 7-5 1 35 2 2 3 18 13-15 4-11 8-4 1 40 3 2 0 40-9 7-2-2 2-63-3 0-7 8 3 50-9 6-2 5-8 0-4 4-1-32 2-8-1-48-6 6-3 7 2 88-11 8-8 0-4 7-8 0-4 5-11-3 3-33 2-4 0-53-5 2-5 7-8 2-7 9-11 3 5-75 13-26 10-9 0-8-10-12zM1314 3289l-6 4 2 2 2 24 4-11zM1674 3191l4 4-1 33 3 2 0 15-3 1-5-1 0-15 2-7-2-28zM1692 3226l2 7-2 7-3-2 0-8zM1350 3264l2 1-1 25 4 10 2 51-9-1-1-42 2-5-1-35zM1397 3305l3 8-3 32-3-5z"/><path fill="#8fcb4e" d="M862 3073l0-18 110 0-50 59-8 4-4 6-13-16zM1613 3055l127 0 0 164-38 2 2-41-4-7 2-18-1-12zM1234 3164l19 9 5 5 0 7 2 3 2 35 15-15 3-10 4-2 1 7 3 2 2 24 4-4 3-7 7-4 1 34 2 2 1 15 4 5-5 23 3 5 0 20 2 2 4-12 0-18-2-5 4-10-6-5 12-17 3-10 5-4 2 1 2 38 2 5 0 37-9 5 2-60-1-4-3 0-9 9 2 25 3 5-1 20-11 10-10 0-1-27 2-13-2-43-9 11 2 90-11 8-8 0-4 7-12 0-3-58-4-7 3-8-2-15-5 1-5 7-8 3-4 5-3-1 3-80 6-12 8-10 0-8zM1280 3259l-6 5 3 6 3 0 1-5zM1674 3193l3 2 0 24zM1674 3226l5 7-2 12-3-2zM1350 3264l2 1 0 3 0 10-2 5z"/><path fill="#abc739" d="M1740 3149l0 69-33 0-4 2 0-60zM1237 3167l15 6 6 5 0 7 2 3 0 32 2 3 14-13 5-12 3-1 1 6 2 2 1 23 2 1 3-1 6-10 6-3 0 33 2 2 2 33-5 6-3-4-1-39-10 12 3 90-11 8-8 0-7 5-2-1-1-40-2-5 3-7-3-15-6 2-2 4-1-1 1-13-2-11-5 2-5 6-8 1 3-65 2-20 7-13-1-5zM1280 3257l-6 8 2 5 0 18 4 5 0-23 3-5-1-7zM1332 3240l2 2 1 36 3 5-1 38-7 4 1-62-4-3-5 4-1-1 6-18zM1320 3296l1 4 0 18-1 2-3-2z"/><path fill="#c5c22a" d="M1740 3150l0 68-36 1 0-59zM1240 3170l18 8 2 12 0 30 4 5 0 8 3-13 9-10 6-12 5 7 1 23 2 2 4-2 6-10 4 0 4 65-4 4-3-2-1-39-10 12 2 90-10 7-11 0-1-65-6-1-7 2-1-8-4-10-8 2 3-95zM1267 3251l-2 7-1 20 3 6 2-1-1-13 2-2 0-17zM1280 3256l-7 9 2 5 0 18 5 6 1-24 2-5 0-7zM1332 3242l3 36 2 5 0 37-7 4 2-59-4-7z"/><path fill="#dcbd29" d="M1257 3177l3 13 0 30 4 15 0 38-2 5-8 2-3-10 0-40 2-10 1-42zM1282 3200l0 3 5 2 1 23 2 2 4 0 3-7 5-6 2 5 1 26 2 3 1 32-4 4-2-1-1-38-1-3-3 1-6 7-1 37 2 8 0 47-10 8-2 0-2-43 0-12 4-5 2-35-4-3-6 3 3-45zM1332 3257l5 26 0 35-5 3-2-21 2-7zM1272 3258l0 10 3 5-5 3z"/><path fill="#f0ba36" d="M1257 3177l3 13 0 30 2 13 2 2 0 38-2 4-8 2-2-9 0-42 3-8 0-40zM1287 3206l0 22 5 5-4 27 3 85-4 3-2-3 0-45-2-5 2-35-3-17 0-18 3-5 0-12zM1302 3235l5 18 1 30-4 3-2-1 0-35-2-7z"/><path fill="#febe3c" d="M1257 3178l3 12 1 43 2 2 0 38-1 4-8 2-1-51 2-5zM1287 3207l0 21 4 5 0 7-7 7-1-22 3-2zM1302 3239l1 9 3 5 1 30-3 3-2-3z"/><path fill="#fec934" d="M1257 3178l3 12 1 43 2 5-1 38-8 2-1-50 3-5zM1284 3224l7 9-1 7-6 6zM1304 3250l3 20-3 14z"/><path fill="#fad62d" d="M1257 3180l3 10 0 43 3 5-1 38-8 0 0-48 2-5zM1284 3225l6 8 0 7-6 5z"/><path fill="#f5e327" d="M1257 3186l3 4-2 30 4 18 0 35-2 3-4-1-2-2z"/><path fill="#f6ef20" d="M1257 3224l4 14-1 36-3-1z"/></g>
<path d="M892 2997L892 3388L1249 3566L1714 3433M1249 3566L1254 3576M1249 3566L1243 3575M1482 3500L1487 3510M1071 3477L1065 3486M1714 3433L1719 3443M892 3388L886 3397M892 3388L882 3388M892 3238L882 3238M892 3088L882 3088" stroke="#585858" stroke-width="7.5"/>
<!-- F14 -->
<path d="M3799 3397L3799 2993M4150 3584L3799 3397M4610 3443L4610 3039M4150 3584L4610 3443M4029 3327L4029 2923M4380 3514L4029 3327M4434 3350L4434 2946M3975 3490L4434 3350M4259 3256L4259 2852M4610 3443L4259 3256M4259 3256L4259 2852M3799 3397L4259 3256M3799 3397L4259 3256L4610 3443M3799 3235L4259 3095L4610 3282M3799 3074L4259 2933L4610 3120" stroke="#dedede" stroke-width="6"/>
<path d="M3799 3397L4259 3256L4610 3443" stroke="#b4b4b4" stroke-width="7"/>
<path d="M4259 3256L4259 2852M3799 2993L4259 2852L4610 3039L4610 3443" stroke="#585858" stroke-width="7.5"/>
<g stroke="none" fill="#e6d94a"><ellipse cx="4187" cy="3475" rx="14" ry="9.5"/><ellipse cx="4224" cy="3463" rx="14" ry="9.5"/><ellipse cx="4261" cy="3452" rx="14" ry="9.5"/><ellipse cx="4297" cy="3441" rx="14" ry="9.5"/><ellipse cx="4334" cy="3430" rx="14" ry="9.5"/><ellipse cx="4159" cy="3460" rx="14" ry="9.5"/><ellipse cx="4196" cy="3448" rx="14" ry="9.5"/><ellipse cx="4233" cy="3437" rx="14" ry="9.5"/><ellipse cx="4269" cy="3426" rx="14" ry="9.5"/><ellipse cx="4306" cy="3415" rx="14" ry="9.5"/><ellipse cx="4131" cy="3445" rx="14" ry="9.5"/><ellipse cx="4168" cy="3433" rx="14" ry="9.5"/><ellipse cx="4204" cy="3422" rx="14" ry="9.5"/><ellipse cx="4241" cy="3411" rx="14" ry="9.5"/><ellipse cx="4278" cy="3400" rx="14" ry="9.5"/><ellipse cx="4103" cy="3430" rx="14" ry="9.5"/><ellipse cx="4140" cy="3418" rx="14" ry="9.5"/><ellipse cx="4176" cy="3407" rx="14" ry="9.5"/><ellipse cx="4213" cy="3396" rx="14" ry="9.5"/><ellipse cx="4250" cy="3385" rx="14" ry="9.5"/><ellipse cx="4075" cy="3415" rx="14" ry="9.5"/><ellipse cx="4112" cy="3403" rx="14" ry="9.5"/><ellipse cx="4148" cy="3392" rx="14" ry="9.5"/><ellipse cx="4185" cy="3381" rx="14" ry="9.5"/><ellipse cx="4222" cy="3370" rx="14" ry="9.5"/></g><g stroke="none" fill="#4f7df0"><ellipse cx="4187" cy="3471" rx="10.5" ry="7"/><ellipse cx="4224" cy="3460" rx="10.5" ry="7"/><ellipse cx="4261" cy="3449" rx="10.5" ry="7"/><ellipse cx="4297" cy="3437" rx="10.5" ry="7"/><ellipse cx="4334" cy="3426" rx="10.5" ry="7"/><ellipse cx="4159" cy="3456" rx="10.5" ry="7"/><ellipse cx="4196" cy="3445" rx="10.5" ry="7"/><ellipse cx="4233" cy="3434" rx="10.5" ry="7"/><ellipse cx="4269" cy="3422" rx="10.5" ry="7"/><ellipse cx="4306" cy="3411" rx="10.5" ry="7"/><ellipse cx="4131" cy="3441" rx="10.5" ry="7"/><ellipse cx="4168" cy="3430" rx="10.5" ry="7"/><ellipse cx="4204" cy="3419" rx="10.5" ry="7"/><ellipse cx="4241" cy="3407" rx="10.5" ry="7"/><ellipse cx="4278" cy="3396" rx="10.5" ry="7"/><ellipse cx="4103" cy="3426" rx="10.5" ry="7"/><ellipse cx="4140" cy="3415" rx="10.5" ry="7"/><ellipse cx="4176" cy="3404" rx="10.5" ry="7"/><ellipse cx="4213" cy="3392" rx="10.5" ry="7"/><ellipse cx="4250" cy="3381" rx="10.5" ry="7"/><ellipse cx="4075" cy="3411" rx="10.5" ry="7"/><ellipse cx="4112" cy="3400" rx="10.5" ry="7"/><ellipse cx="4148" cy="3389" rx="10.5" ry="7"/><ellipse cx="4185" cy="3377" rx="10.5" ry="7"/><ellipse cx="4222" cy="3366" rx="10.5" ry="7"/></g>
<linearGradient id="ng" x1="0" y1="0" x2="0" y2="1"><stop offset="0" stop-color="#f8b828"/><stop offset=".8" stop-color="#f7b62a"/><stop offset=".89" stop-color="#a9bbcc"/><stop offset=".95" stop-color="#6a94f2"/><stop offset="1" stop-color="#3b5fe6"/></linearGradient><g fill="url(#ng)" stroke="none"><path d="M4209 2984L4235 2984L4231 3154L4229 3287L4225 3363L4219 3363L4215 3287L4212 3154z"/><path d="M4237 2999L4263 2999L4259 3169L4257 3302L4253 3378L4247 3378L4243 3302L4240 3169z"/><path d="M4172 2995L4198 2995L4195 3166L4192 3298L4188 3374L4182 3374L4178 3298L4176 3166z"/><path d="M4265 3014L4291 3014L4288 3184L4285 3317L4281 3393L4275 3393L4271 3317L4269 3184z"/><path d="M4135 3006L4161 3006L4158 3177L4155 3310L4151 3385L4145 3385L4141 3310L4139 3177z"/><path d="M4200 3010L4226 3010L4223 3181L4220 3313L4216 3389L4210 3389L4206 3313L4204 3181z"/><path d="M4293 3029L4319 3029L4316 3199L4313 3332L4309 3408L4303 3408L4299 3332L4297 3199z"/><path d="M4228 3025L4254 3025L4251 3196L4248 3328L4244 3404L4238 3404L4234 3328L4232 3196z"/><path d="M4163 3021L4189 3021L4186 3192L4183 3325L4179 3400L4173 3400L4169 3325L4167 3192z"/><path d="M4099 3018L4125 3018L4121 3188L4119 3321L4115 3397L4109 3397L4105 3321L4102 3188z"/><path d="M4321 3044L4347 3044L4344 3214L4341 3347L4337 3423L4331 3423L4327 3347L4325 3214z"/><path d="M4256 3040L4282 3040L4279 3211L4276 3343L4272 3419L4266 3419L4262 3343L4260 3211z"/><path d="M4192 3036L4218 3036L4214 3207L4212 3339L4208 3415L4202 3415L4198 3339L4195 3207z"/><path d="M4127 3033L4153 3033L4149 3203L4147 3336L4143 3412L4137 3412L4133 3336L4130 3203z"/><path d="M4062 3029L4088 3029L4084 3199L4082 3332L4078 3408L4072 3408L4068 3332L4065 3199z"/><path d="M4284 3055L4310 3055L4307 3226L4304 3358L4300 3434L4294 3434L4290 3358L4288 3226z"/><path d="M4220 3051L4246 3051L4242 3222L4240 3354L4236 3430L4230 3430L4226 3354L4223 3222z"/><path d="M4155 3048L4181 3048L4177 3218L4175 3351L4171 3427L4165 3427L4161 3351L4158 3218z"/><path d="M4090 3044L4116 3044L4112 3214L4110 3347L4106 3423L4100 3423L4096 3347L4093 3214z"/><path d="M4248 3066L4274 3066L4270 3237L4268 3369L4264 3445L4258 3445L4254 3369L4251 3237z"/><path d="M4118 3059L4144 3059L4140 3229L4138 3362L4134 3438L4128 3438L4124 3362L4121 3229z"/><path d="M4183 3063L4209 3063L4205 3233L4203 3366L4199 3441L4193 3441L4189 3366L4186 3233z"/><path d="M4211 3077L4237 3077L4233 3248L4231 3381L4227 3456L4221 3456L4217 3381L4214 3248z"/><path d="M4146 3074L4172 3074L4169 3244L4166 3377L4162 3453L4156 3453L4152 3377L4150 3244z"/><path d="M4174 3089L4200 3089L4197 3259L4194 3392L4190 3468L4184 3468L4180 3392L4178 3259z"/></g><path stroke="none" fill="#f5f62a" d="M4150 3185L4610 3044L4259 2857L3799 2998z"/><g fill="#f6b82a" fill-opacity=".9" stroke="none"><path d="M4219 2976L4240 2970L4224 2961L4204 2968z"/><path d="M4248 2991L4268 2985L4252 2976L4232 2982z"/><path d="M4183 2987L4203 2981L4187 2973L4167 2979z"/><path d="M4276 3006L4296 2999L4280 2991L4260 2997z"/><path d="M4146 2998L4166 2992L4151 2984L4130 2990z"/><path d="M4211 3002L4231 2996L4216 2988L4195 2994z"/><path d="M4304 3021L4324 3014L4309 3006L4288 3012z"/><path d="M4239 3017L4259 3011L4244 3002L4223 3009z"/><path d="M4174 3013L4194 3007L4179 2999L4159 3005z"/><path d="M4109 3010L4129 3003L4114 2995L4094 3001z"/><path d="M4332 3036L4352 3029L4337 3021L4316 3027z"/><path d="M4267 3032L4287 3026L4272 3017L4252 3024z"/><path d="M4202 3028L4222 3022L4207 3014L4187 3020z"/><path d="M4137 3024L4157 3018L4142 3010L4122 3016z"/><path d="M4072 3021L4093 3015L4077 3006L4057 3013z"/><path d="M4295 3047L4315 3041L4300 3032L4280 3039z"/><path d="M4230 3043L4250 3037L4235 3029L4215 3035z"/><path d="M4165 3039L4186 3033L4170 3025L4150 3031z"/><path d="M4100 3036L4121 3030L4105 3021L4085 3028z"/><path d="M4258 3058L4279 3052L4263 3044L4243 3050z"/><path d="M4129 3051L4149 3045L4133 3036L4113 3042z"/><path d="M4193 3054L4214 3048L4198 3040L4178 3046z"/><path d="M4222 3069L4242 3063L4226 3055L4206 3061z"/><path d="M4157 3066L4177 3059L4161 3051L4141 3057z"/><path d="M4185 3081L4205 3074L4190 3066L4169 3072z"/></g>
<path d="M3799 2993L3799 3397L4150 3584L4610 3443M4150 3584L4155 3594M4150 3584L4144 3593M4380 3514L4385 3524M3975 3490L3969 3499M4610 3443L4615 3453M3799 3397L3793 3406M3799 3397L3789 3397M3799 3235L3789 3235M3799 3074L3789 3074" stroke="#585858" stroke-width="7.5"/></g></svg><svg width="550" height="371" viewBox="0 0 550 371" style="position:absolute;left:0;top:0" font-family="'Liberation Sans',sans-serif" font-size="4.8" fill="#404040"><text x="56.5" y="90.6">-100</text><text x="52.1" y="90.4" text-anchor="end">-100</text><text x="79.7" y="83.4">0</text><text x="33.9" y="81.1" text-anchor="end">0</text><text x="103.0" y="76.2">100</text><text x="15.8" y="71.7" text-anchor="end">100</text><text x="15.4" y="66.7" text-anchor="end">0</text><text x="15.4" y="46.7" text-anchor="end">1</text><text x="15.4" y="26.7" text-anchor="end">2</text><text x="16.8" y="19.5" font-size="5" text-anchor="end">×10<tspan dy="-2" font-size="3.7">4</tspan></text><text x="59.0" y="7.7" text-anchor="middle" font-size="5.4" font-weight="bold" fill="#333">F1</text>
<text x="202.4" y="89.4">-100</text><text x="198.0" y="89.2" text-anchor="end">-100</text><text x="224.3" y="82.6">0</text><text x="181.4" y="80.0" text-anchor="end">0</text><text x="246.2" y="75.8">100</text><text x="164.9" y="70.9" text-anchor="end">100</text><text x="164.5" y="65.9" text-anchor="end">0</text><text x="164.5" y="47.2" text-anchor="end">5000</text><text x="164.5" y="28.4" text-anchor="end">10000</text><text x="205.1" y="9.6" text-anchor="middle" font-size="5.4" font-weight="bold" fill="#333">F2</text>
<text x="345.3" y="87.9">-100</text><text x="340.9" y="87.7" text-anchor="end">-100</text><text x="366.9" y="81.3">0</text><text x="324.3" y="79.2" text-anchor="end">0</text><text x="388.6" y="74.8">100</text><text x="307.7" y="70.7" text-anchor="end">100</text><text x="307.3" y="65.7" text-anchor="end">0</text><text x="307.3" y="50.9" text-anchor="end">2</text><text x="307.3" y="36.2" text-anchor="end">4</text><text x="308.7" y="21.6" font-size="5" text-anchor="end">×10<tspan dy="-2" font-size="3.7">4</tspan></text><text x="347.8" y="11.0" text-anchor="middle" font-size="5.4" font-weight="bold" fill="#333">F3</text>
<text x="492.2" y="88.5">-100</text><text x="487.8" y="88.3" text-anchor="end">-100</text><text x="514.2" y="81.9">0</text><text x="470.9" y="79.4" text-anchor="end">0</text><text x="536.3" y="75.2">100</text><text x="454.1" y="70.4" text-anchor="end">100</text><text x="453.7" y="65.4" text-anchor="end">0</text><text x="453.7" y="46.5" text-anchor="end">50</text><text x="453.7" y="27.6" text-anchor="end">100</text><text x="494.8" y="9.7" text-anchor="middle" font-size="5.4" font-weight="bold" fill="#333">F4</text>
<text x="56.8" y="178.1">-200</text><text x="52.4" y="177.9" text-anchor="end">-200</text><text x="78.4" y="172.0">0</text><text x="36.5" y="169.8" text-anchor="end">0</text><text x="99.9" y="165.8">200</text><text x="20.5" y="161.7" text-anchor="end">200</text><text x="20.1" y="156.7" text-anchor="end">0</text><text x="20.1" y="145.4" text-anchor="end">5</text><text x="20.1" y="134.1" text-anchor="end">10</text><text x="20.1" y="122.8" text-anchor="end">15</text><text x="21.5" y="113.0" font-size="5" text-anchor="end">×10<tspan dy="-2" font-size="3.7">10</tspan></text><text x="59.8" y="103.3" text-anchor="middle" font-size="5.4" font-weight="bold" fill="#333">F5</text>
<text x="201.3" y="180.2">-100</text><text x="196.9" y="180.0" text-anchor="end">-100</text><text x="223.7" y="173.6">0</text><text x="179.6" y="171.3" text-anchor="end">0</text><text x="246.2" y="166.9">100</text><text x="162.4" y="162.6" text-anchor="end">100</text><text x="162.0" y="157.6" text-anchor="end">0</text><text x="162.0" y="138.9" text-anchor="end">1</text><text x="162.0" y="120.2" text-anchor="end">2</text><text x="163.4" y="112.6" font-size="5" text-anchor="end">×10<tspan dy="-2" font-size="3.7">4</tspan></text><text x="203.9" y="102.0" text-anchor="middle" font-size="5.4" font-weight="bold" fill="#333">F6</text>
<text x="345.9" y="181.8">-1</text><text x="341.5" y="181.6" text-anchor="end">-1</text><text x="357.5" y="178.3">-0.5</text><text x="332.1" y="176.9" text-anchor="end">-0.5</text><text x="369.2" y="174.8">0</text><text x="322.8" y="172.3" text-anchor="end">0</text><text x="380.9" y="171.3">0.5</text><text x="313.5" y="167.6" text-anchor="end">0.5</text><text x="304.1" y="158.1" text-anchor="end">0</text><text x="304.1" y="147.6" text-anchor="end">1</text><text x="304.1" y="137.1" text-anchor="end">2</text><text x="304.1" y="126.6" text-anchor="end">3</text><text x="347.9" y="100.2" text-anchor="middle" font-size="5.4" font-weight="bold" fill="#333">F7</text>
<text x="492.2" y="180.2">-500</text><text x="487.8" y="180.0" text-anchor="end">-500</text><text x="514.0" y="173.8">0</text><text x="471.1" y="171.3" text-anchor="end">0</text><text x="535.8" y="167.3">500</text><text x="454.5" y="162.6" text-anchor="end">500</text><text x="454.1" y="157.6" text-anchor="end">-1000</text><text x="454.1" y="147.2" text-anchor="end">-500</text><text x="454.1" y="136.8" text-anchor="end">0</text><text x="454.1" y="126.4" text-anchor="end">500</text><text x="494.8" y="101.9" text-anchor="middle" font-size="5.4" font-weight="bold" fill="#333">F8</text>
<text x="56.8" y="271.5">-5</text><text x="52.4" y="271.3" text-anchor="end">-5</text><text x="79.2" y="265.1">0</text><text x="34.8" y="262.7" text-anchor="end">0</text><text x="101.7" y="258.7">5</text><text x="17.3" y="254.0" text-anchor="end">5</text><text x="16.9" y="249.0" text-anchor="end">0</text><text x="16.9" y="239.5" text-anchor="end">20</text><text x="16.9" y="230.1" text-anchor="end">40</text><text x="16.9" y="220.6" text-anchor="end">60</text><text x="16.9" y="211.1" text-anchor="end">80</text><text x="59.1" y="193.4" text-anchor="middle" font-size="5.4" font-weight="bold" fill="#333">F9</text>
<text x="201.9" y="271.5">-20</text><text x="197.5" y="271.3" text-anchor="end">-20</text><text x="224.3" y="265.1">0</text><text x="180.1" y="262.6" text-anchor="end">0</text><text x="246.8" y="258.7">20</text><text x="162.7" y="254.0" text-anchor="end">20</text><text x="162.3" y="249.0" text-anchor="end">0</text><text x="162.3" y="231.8" text-anchor="end">10</text><text x="162.3" y="214.6" text-anchor="end">20</text><text x="204.3" y="193.8" text-anchor="middle" font-size="5.4" font-weight="bold" fill="#333">F10</text>
<text x="345.1" y="271.0">-500</text><text x="340.7" y="270.8" text-anchor="end">-500</text><text x="366.8" y="264.6">0</text><text x="324.1" y="262.4" text-anchor="end">0</text><text x="388.5" y="258.2">500</text><text x="307.4" y="254.0" text-anchor="end">500</text><text x="307.0" y="249.0" text-anchor="end">0</text><text x="307.0" y="234.2" text-anchor="end">50</text><text x="307.0" y="219.4" text-anchor="end">100</text><text x="347.5" y="194.3" text-anchor="middle" font-size="5.4" font-weight="bold" fill="#333">F11</text>
<text x="491.6" y="273.2">-10</text><text x="487.2" y="273.0" text-anchor="end">-10</text><text x="515.0" y="266.5">0</text><text x="469.5" y="264.1" text-anchor="end">0</text><text x="538.5" y="259.7">10</text><text x="451.9" y="255.2" text-anchor="end">10</text><text x="451.5" y="250.2" text-anchor="end">0</text><text x="451.5" y="236.7" text-anchor="end">50</text><text x="451.5" y="223.2" text-anchor="end">100</text><text x="494.8" y="192.0" text-anchor="middle" font-size="5.4" font-weight="bold" fill="#333">F12</text>
<text x="127.5" y="364.0">-5</text><text x="123.1" y="363.8" text-anchor="end">-5</text><text x="150.8" y="357.4">0</text><text x="105.3" y="354.9" text-anchor="end">0</text><text x="174.0" y="350.7">5</text><text x="87.4" y="346.0" text-anchor="end">5</text><text x="87.0" y="341.0" text-anchor="end">0</text><text x="87.0" y="326.0" text-anchor="end">5</text><text x="87.0" y="311.0" text-anchor="end">10</text><text x="130.3" y="284.0" text-anchor="middle" font-size="5.4" font-weight="bold" fill="#333">F13</text>
<text x="417.6" y="365.8">-100</text><text x="413.2" y="365.6" text-anchor="end">-100</text><text x="440.6" y="358.8">0</text><text x="395.7" y="356.2" text-anchor="end">0</text><text x="463.6" y="351.7">100</text><text x="378.1" y="346.9" text-anchor="end">100</text><text x="377.7" y="341.9" text-anchor="end">0</text><text x="377.7" y="325.7" text-anchor="end">200</text><text x="377.7" y="309.6" text-anchor="end">400</text><text x="420.4" y="282.8" text-anchor="middle" font-size="5.4" font-weight="bold" fill="#333">F14</text></svg></div></body></html>
